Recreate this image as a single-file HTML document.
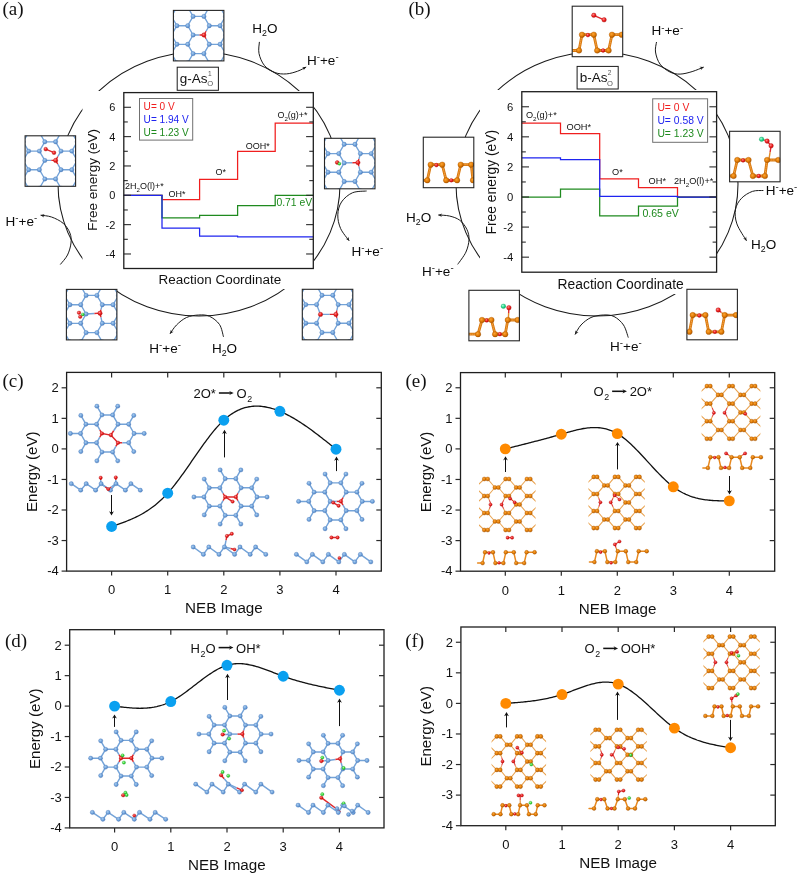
<!DOCTYPE html>
<html><head><meta charset="utf-8"><title>Figure</title>
<style>html,body{margin:0;padding:0;background:#fff;}svg{display:block;will-change:transform;}</style></head>
<body><svg width="798" height="874" viewBox="0 0 798 874">
<defs>
<radialGradient id="gB" cx="0.4" cy="0.38" r="0.65"><stop offset="0" stop-color="#a9cdf0"/><stop offset="0.6" stop-color="#6b9fd9"/><stop offset="1" stop-color="#4778b8"/></radialGradient>
<radialGradient id="gR" cx="0.38" cy="0.35" r="0.7"><stop offset="0" stop-color="#ff8a8a"/><stop offset="0.55" stop-color="#ec1c1c"/><stop offset="1" stop-color="#b80c0c"/></radialGradient>
<radialGradient id="gG" cx="0.38" cy="0.35" r="0.7"><stop offset="0" stop-color="#b8ffb0"/><stop offset="0.55" stop-color="#3ade3a"/><stop offset="1" stop-color="#22a82a"/></radialGradient>
<radialGradient id="gT" cx="0.38" cy="0.35" r="0.7"><stop offset="0" stop-color="#b0ffe0"/><stop offset="0.55" stop-color="#22d98a"/><stop offset="1" stop-color="#12a866"/></radialGradient>
<radialGradient id="gO" cx="0.4" cy="0.38" r="0.65"><stop offset="0" stop-color="#fba535"/><stop offset="0.6" stop-color="#e07a04"/><stop offset="1" stop-color="#a35200"/></radialGradient>
</defs>
<rect x="0" y="0" width="798" height="874" fill="#fff"/>
<ellipse cx="199" cy="184" rx="141" ry="132" fill="none" stroke="#1a1a1a" stroke-width="1.05"/>
<rect x="82.50" y="91.00" width="231.50" height="198.00" stroke="none" stroke-width="0" fill="#fff" />
<rect x="123.80" y="92.60" width="189.50" height="175.90" stroke="none" stroke-width="0" fill="#fff" />
<path d="M123.80,195.30 L162.00,195.30 L162.00,199.70 L199.60,199.70 L199.60,179.31 L237.60,179.31 L237.60,151.44 L275.20,151.44 L275.20,123.12 L313.30,123.12" stroke="#f01e1e" stroke-width="1.25" fill="none" />
<path d="M123.80,195.30 L162.00,195.30 L162.00,217.75 L199.60,217.75 L199.60,215.40 L237.60,215.40 L237.60,205.57 L275.20,205.57 L275.20,195.30 L313.30,195.30" stroke="#1f8a1f" stroke-width="1.25" fill="none" />
<path d="M123.80,195.30 L162.00,195.30 L162.00,228.16 L199.60,228.16 L199.60,236.23 L237.60,236.23 L237.60,236.82 L275.20,236.82 L275.20,236.96 L313.30,236.96" stroke="#1f24f0" stroke-width="1.25" fill="none" />
<line x1="123.80" y1="253.98" x2="131.00" y2="253.98" stroke="#2a2a2a" stroke-width="1.1" />
<line x1="313.30" y1="253.98" x2="306.10" y2="253.98" stroke="#2a2a2a" stroke-width="1.1" />
<text x="115.40" y="257.94" font-size="11.0" text-anchor="end" fill="#111" font-family="'Liberation Sans', sans-serif" >-4</text>
<line x1="123.80" y1="239.31" x2="127.80" y2="239.31" stroke="#2a2a2a" stroke-width="1.1" />
<line x1="313.30" y1="239.31" x2="309.30" y2="239.31" stroke="#2a2a2a" stroke-width="1.1" />
<line x1="123.80" y1="224.64" x2="131.00" y2="224.64" stroke="#2a2a2a" stroke-width="1.1" />
<line x1="313.30" y1="224.64" x2="306.10" y2="224.64" stroke="#2a2a2a" stroke-width="1.1" />
<text x="115.40" y="228.60" font-size="11.0" text-anchor="end" fill="#111" font-family="'Liberation Sans', sans-serif" >-2</text>
<line x1="123.80" y1="209.97" x2="127.80" y2="209.97" stroke="#2a2a2a" stroke-width="1.1" />
<line x1="313.30" y1="209.97" x2="309.30" y2="209.97" stroke="#2a2a2a" stroke-width="1.1" />
<line x1="123.80" y1="195.30" x2="131.00" y2="195.30" stroke="#2a2a2a" stroke-width="1.1" />
<line x1="313.30" y1="195.30" x2="306.10" y2="195.30" stroke="#2a2a2a" stroke-width="1.1" />
<text x="115.40" y="199.26" font-size="11.0" text-anchor="end" fill="#111" font-family="'Liberation Sans', sans-serif" >0</text>
<line x1="123.80" y1="180.63" x2="127.80" y2="180.63" stroke="#2a2a2a" stroke-width="1.1" />
<line x1="313.30" y1="180.63" x2="309.30" y2="180.63" stroke="#2a2a2a" stroke-width="1.1" />
<line x1="123.80" y1="165.96" x2="131.00" y2="165.96" stroke="#2a2a2a" stroke-width="1.1" />
<line x1="313.30" y1="165.96" x2="306.10" y2="165.96" stroke="#2a2a2a" stroke-width="1.1" />
<text x="115.40" y="169.92" font-size="11.0" text-anchor="end" fill="#111" font-family="'Liberation Sans', sans-serif" >2</text>
<line x1="123.80" y1="151.29" x2="127.80" y2="151.29" stroke="#2a2a2a" stroke-width="1.1" />
<line x1="313.30" y1="151.29" x2="309.30" y2="151.29" stroke="#2a2a2a" stroke-width="1.1" />
<line x1="123.80" y1="136.62" x2="131.00" y2="136.62" stroke="#2a2a2a" stroke-width="1.1" />
<line x1="313.30" y1="136.62" x2="306.10" y2="136.62" stroke="#2a2a2a" stroke-width="1.1" />
<text x="115.40" y="140.58" font-size="11.0" text-anchor="end" fill="#111" font-family="'Liberation Sans', sans-serif" >4</text>
<line x1="123.80" y1="121.95" x2="127.80" y2="121.95" stroke="#2a2a2a" stroke-width="1.1" />
<line x1="313.30" y1="121.95" x2="309.30" y2="121.95" stroke="#2a2a2a" stroke-width="1.1" />
<line x1="123.80" y1="107.28" x2="131.00" y2="107.28" stroke="#2a2a2a" stroke-width="1.1" />
<line x1="313.30" y1="107.28" x2="306.10" y2="107.28" stroke="#2a2a2a" stroke-width="1.1" />
<text x="115.40" y="111.24" font-size="11.0" text-anchor="end" fill="#111" font-family="'Liberation Sans', sans-serif" >6</text>
<rect x="123.80" y="92.60" width="189.50" height="175.90" stroke="#1e1e1e" stroke-width="1.3" fill="none" />
<rect x="139.50" y="98.50" width="53.20" height="41.60" stroke="#707070" stroke-width="1.0" fill="#fff" />
<text x="143.60" y="110.30" font-size="10.1" text-anchor="start" fill="#f01e1e" font-family="'Liberation Sans', sans-serif" >U= 0 V</text>
<text x="143.60" y="123.00" font-size="10.1" text-anchor="start" fill="#1f24f0" font-family="'Liberation Sans', sans-serif" >U= 1.94 V</text>
<text x="143.60" y="135.70" font-size="10.1" text-anchor="start" fill="#1f8a1f" font-family="'Liberation Sans', sans-serif" >U= 1.23 V</text>
<text x="125.00" y="189.30" font-size="9.0" text-anchor="start" fill="#111" font-family="'Liberation Sans', sans-serif" >2H</text>
<text x="136.51" y="192.00" font-size="6.12" text-anchor="start" fill="#111" font-family="'Liberation Sans', sans-serif" >2</text>
<text x="139.91" y="189.30" font-size="9.0" text-anchor="start" fill="#111" font-family="'Liberation Sans', sans-serif" >O(l)+*</text>
<text x="168.40" y="196.80" font-size="9.0" text-anchor="start" fill="#111" font-family="'Liberation Sans', sans-serif" >OH*</text>
<text x="215.60" y="175.00" font-size="9.0" text-anchor="start" fill="#111" font-family="'Liberation Sans', sans-serif" >O*</text>
<text x="245.80" y="148.90" font-size="9.0" text-anchor="start" fill="#111" font-family="'Liberation Sans', sans-serif" >OOH*</text>
<text x="277.40" y="118.20" font-size="9.0" text-anchor="start" fill="#111" font-family="'Liberation Sans', sans-serif" >O</text>
<text x="284.40" y="120.90" font-size="6.12" text-anchor="start" fill="#111" font-family="'Liberation Sans', sans-serif" >2</text>
<text x="287.80" y="118.20" font-size="9.0" text-anchor="start" fill="#111" font-family="'Liberation Sans', sans-serif" >(g)+*</text>
<text x="276.40" y="206.30" font-size="10.4" text-anchor="start" fill="#1f8a1f" font-family="'Liberation Sans', sans-serif" >0.71 eV</text>
<text x="158.60" y="284.30" font-size="13.46" text-anchor="start" fill="#111" font-family="'Liberation Sans', sans-serif" >Reaction Coordinate</text>
<text transform="translate(97.00,179.80) rotate(-90)" x="0" y="0" font-size="13.46" text-anchor="middle" fill="#111" font-family="'Liberation Sans', sans-serif">Free energy (eV)</text>
<text x="2.40" y="15.40" font-size="19" text-anchor="start" fill="#111" font-family="'Liberation Serif', serif" >(a)</text>
<rect x="173.40" y="10.40" width="50.50" height="50.50" stroke="none" stroke-width="0" fill="#fff" />
<clipPath id="c1"><rect x="173.40" y="10.40" width="50.50" height="50.50"/></clipPath>
<g clip-path="url(#c1)">
<line x1="112.10" y1="7.10" x2="122.90" y2="7.10" stroke="#74a3d8" stroke-width="1.35" stroke-linecap="round"/>
<line x1="122.90" y1="7.10" x2="128.30" y2="16.40" stroke="#74a3d8" stroke-width="1.35" stroke-linecap="round"/>
<line x1="144.50" y1="7.10" x2="155.30" y2="7.10" stroke="#74a3d8" stroke-width="1.35" stroke-linecap="round"/>
<line x1="144.50" y1="7.10" x2="139.10" y2="16.40" stroke="#74a3d8" stroke-width="1.35" stroke-linecap="round"/>
<line x1="155.30" y1="7.10" x2="160.70" y2="16.40" stroke="#74a3d8" stroke-width="1.35" stroke-linecap="round"/>
<line x1="176.90" y1="7.10" x2="187.70" y2="7.10" stroke="#74a3d8" stroke-width="1.35" stroke-linecap="round"/>
<line x1="176.90" y1="7.10" x2="171.50" y2="16.40" stroke="#74a3d8" stroke-width="1.35" stroke-linecap="round"/>
<line x1="187.70" y1="7.10" x2="193.10" y2="16.40" stroke="#74a3d8" stroke-width="1.35" stroke-linecap="round"/>
<line x1="209.30" y1="7.10" x2="220.10" y2="7.10" stroke="#74a3d8" stroke-width="1.35" stroke-linecap="round"/>
<line x1="209.30" y1="7.10" x2="203.90" y2="16.40" stroke="#74a3d8" stroke-width="1.35" stroke-linecap="round"/>
<line x1="220.10" y1="7.10" x2="225.50" y2="16.40" stroke="#74a3d8" stroke-width="1.35" stroke-linecap="round"/>
<line x1="241.70" y1="7.10" x2="252.50" y2="7.10" stroke="#74a3d8" stroke-width="1.35" stroke-linecap="round"/>
<line x1="241.70" y1="7.10" x2="236.30" y2="16.40" stroke="#74a3d8" stroke-width="1.35" stroke-linecap="round"/>
<line x1="252.50" y1="7.10" x2="257.90" y2="16.40" stroke="#74a3d8" stroke-width="1.35" stroke-linecap="round"/>
<line x1="274.10" y1="7.10" x2="284.90" y2="7.10" stroke="#74a3d8" stroke-width="1.35" stroke-linecap="round"/>
<line x1="274.10" y1="7.10" x2="268.70" y2="16.40" stroke="#74a3d8" stroke-width="1.35" stroke-linecap="round"/>
<line x1="128.30" y1="16.40" x2="139.10" y2="16.40" stroke="#74a3d8" stroke-width="1.35" stroke-linecap="round"/>
<line x1="128.30" y1="16.40" x2="122.90" y2="25.70" stroke="#74a3d8" stroke-width="1.35" stroke-linecap="round"/>
<line x1="139.10" y1="16.40" x2="144.50" y2="25.70" stroke="#74a3d8" stroke-width="1.35" stroke-linecap="round"/>
<line x1="160.70" y1="16.40" x2="171.50" y2="16.40" stroke="#74a3d8" stroke-width="1.35" stroke-linecap="round"/>
<line x1="160.70" y1="16.40" x2="155.30" y2="25.70" stroke="#74a3d8" stroke-width="1.35" stroke-linecap="round"/>
<line x1="171.50" y1="16.40" x2="176.90" y2="25.70" stroke="#74a3d8" stroke-width="1.35" stroke-linecap="round"/>
<line x1="193.10" y1="16.40" x2="203.90" y2="16.40" stroke="#74a3d8" stroke-width="1.35" stroke-linecap="round"/>
<line x1="193.10" y1="16.40" x2="187.70" y2="25.70" stroke="#74a3d8" stroke-width="1.35" stroke-linecap="round"/>
<line x1="203.90" y1="16.40" x2="209.30" y2="25.70" stroke="#74a3d8" stroke-width="1.35" stroke-linecap="round"/>
<line x1="225.50" y1="16.40" x2="236.30" y2="16.40" stroke="#74a3d8" stroke-width="1.35" stroke-linecap="round"/>
<line x1="225.50" y1="16.40" x2="220.10" y2="25.70" stroke="#74a3d8" stroke-width="1.35" stroke-linecap="round"/>
<line x1="236.30" y1="16.40" x2="241.70" y2="25.70" stroke="#74a3d8" stroke-width="1.35" stroke-linecap="round"/>
<line x1="257.90" y1="16.40" x2="268.70" y2="16.40" stroke="#74a3d8" stroke-width="1.35" stroke-linecap="round"/>
<line x1="257.90" y1="16.40" x2="252.50" y2="25.70" stroke="#74a3d8" stroke-width="1.35" stroke-linecap="round"/>
<line x1="268.70" y1="16.40" x2="274.10" y2="25.70" stroke="#74a3d8" stroke-width="1.35" stroke-linecap="round"/>
<line x1="112.10" y1="25.70" x2="122.90" y2="25.70" stroke="#74a3d8" stroke-width="1.35" stroke-linecap="round"/>
<line x1="122.90" y1="25.70" x2="128.30" y2="35.00" stroke="#74a3d8" stroke-width="1.35" stroke-linecap="round"/>
<line x1="144.50" y1="25.70" x2="155.30" y2="25.70" stroke="#74a3d8" stroke-width="1.35" stroke-linecap="round"/>
<line x1="144.50" y1="25.70" x2="139.10" y2="35.00" stroke="#74a3d8" stroke-width="1.35" stroke-linecap="round"/>
<line x1="155.30" y1="25.70" x2="160.70" y2="35.00" stroke="#74a3d8" stroke-width="1.35" stroke-linecap="round"/>
<line x1="176.90" y1="25.70" x2="187.70" y2="25.70" stroke="#74a3d8" stroke-width="1.35" stroke-linecap="round"/>
<line x1="176.90" y1="25.70" x2="171.50" y2="35.00" stroke="#74a3d8" stroke-width="1.35" stroke-linecap="round"/>
<line x1="187.70" y1="25.70" x2="193.10" y2="35.00" stroke="#74a3d8" stroke-width="1.35" stroke-linecap="round"/>
<line x1="209.30" y1="25.70" x2="220.10" y2="25.70" stroke="#74a3d8" stroke-width="1.35" stroke-linecap="round"/>
<line x1="209.30" y1="25.70" x2="206.06" y2="31.28" stroke="#74a3d8" stroke-width="1.35" stroke-linecap="butt"/>
<line x1="206.06" y1="31.28" x2="203.90" y2="35.00" stroke="#e0282c" stroke-width="1.35" stroke-linecap="butt"/>
<line x1="220.10" y1="25.70" x2="225.50" y2="35.00" stroke="#74a3d8" stroke-width="1.35" stroke-linecap="round"/>
<line x1="241.70" y1="25.70" x2="252.50" y2="25.70" stroke="#74a3d8" stroke-width="1.35" stroke-linecap="round"/>
<line x1="241.70" y1="25.70" x2="236.30" y2="35.00" stroke="#74a3d8" stroke-width="1.35" stroke-linecap="round"/>
<line x1="252.50" y1="25.70" x2="257.90" y2="35.00" stroke="#74a3d8" stroke-width="1.35" stroke-linecap="round"/>
<line x1="274.10" y1="25.70" x2="284.90" y2="25.70" stroke="#74a3d8" stroke-width="1.35" stroke-linecap="round"/>
<line x1="274.10" y1="25.70" x2="268.70" y2="35.00" stroke="#74a3d8" stroke-width="1.35" stroke-linecap="round"/>
<line x1="128.30" y1="35.00" x2="139.10" y2="35.00" stroke="#74a3d8" stroke-width="1.35" stroke-linecap="round"/>
<line x1="128.30" y1="35.00" x2="122.90" y2="44.30" stroke="#74a3d8" stroke-width="1.35" stroke-linecap="round"/>
<line x1="139.10" y1="35.00" x2="144.50" y2="44.30" stroke="#74a3d8" stroke-width="1.35" stroke-linecap="round"/>
<line x1="160.70" y1="35.00" x2="171.50" y2="35.00" stroke="#74a3d8" stroke-width="1.35" stroke-linecap="round"/>
<line x1="160.70" y1="35.00" x2="155.30" y2="44.30" stroke="#74a3d8" stroke-width="1.35" stroke-linecap="round"/>
<line x1="171.50" y1="35.00" x2="176.90" y2="44.30" stroke="#74a3d8" stroke-width="1.35" stroke-linecap="round"/>
<line x1="193.10" y1="35.00" x2="199.58" y2="35.00" stroke="#74a3d8" stroke-width="1.35" stroke-linecap="butt"/>
<line x1="199.58" y1="35.00" x2="203.90" y2="35.00" stroke="#e0282c" stroke-width="1.35" stroke-linecap="butt"/>
<line x1="193.10" y1="35.00" x2="187.70" y2="44.30" stroke="#74a3d8" stroke-width="1.35" stroke-linecap="round"/>
<line x1="203.90" y1="35.00" x2="206.06" y2="38.72" stroke="#e0282c" stroke-width="1.35" stroke-linecap="butt"/>
<line x1="206.06" y1="38.72" x2="209.30" y2="44.30" stroke="#74a3d8" stroke-width="1.35" stroke-linecap="butt"/>
<line x1="225.50" y1="35.00" x2="236.30" y2="35.00" stroke="#74a3d8" stroke-width="1.35" stroke-linecap="round"/>
<line x1="225.50" y1="35.00" x2="220.10" y2="44.30" stroke="#74a3d8" stroke-width="1.35" stroke-linecap="round"/>
<line x1="236.30" y1="35.00" x2="241.70" y2="44.30" stroke="#74a3d8" stroke-width="1.35" stroke-linecap="round"/>
<line x1="257.90" y1="35.00" x2="268.70" y2="35.00" stroke="#74a3d8" stroke-width="1.35" stroke-linecap="round"/>
<line x1="257.90" y1="35.00" x2="252.50" y2="44.30" stroke="#74a3d8" stroke-width="1.35" stroke-linecap="round"/>
<line x1="268.70" y1="35.00" x2="274.10" y2="44.30" stroke="#74a3d8" stroke-width="1.35" stroke-linecap="round"/>
<line x1="112.10" y1="44.30" x2="122.90" y2="44.30" stroke="#74a3d8" stroke-width="1.35" stroke-linecap="round"/>
<line x1="122.90" y1="44.30" x2="128.30" y2="53.60" stroke="#74a3d8" stroke-width="1.35" stroke-linecap="round"/>
<line x1="144.50" y1="44.30" x2="155.30" y2="44.30" stroke="#74a3d8" stroke-width="1.35" stroke-linecap="round"/>
<line x1="144.50" y1="44.30" x2="139.10" y2="53.60" stroke="#74a3d8" stroke-width="1.35" stroke-linecap="round"/>
<line x1="155.30" y1="44.30" x2="160.70" y2="53.60" stroke="#74a3d8" stroke-width="1.35" stroke-linecap="round"/>
<line x1="176.90" y1="44.30" x2="187.70" y2="44.30" stroke="#74a3d8" stroke-width="1.35" stroke-linecap="round"/>
<line x1="176.90" y1="44.30" x2="171.50" y2="53.60" stroke="#74a3d8" stroke-width="1.35" stroke-linecap="round"/>
<line x1="187.70" y1="44.30" x2="193.10" y2="53.60" stroke="#74a3d8" stroke-width="1.35" stroke-linecap="round"/>
<line x1="209.30" y1="44.30" x2="220.10" y2="44.30" stroke="#74a3d8" stroke-width="1.35" stroke-linecap="round"/>
<line x1="209.30" y1="44.30" x2="203.90" y2="53.60" stroke="#74a3d8" stroke-width="1.35" stroke-linecap="round"/>
<line x1="220.10" y1="44.30" x2="225.50" y2="53.60" stroke="#74a3d8" stroke-width="1.35" stroke-linecap="round"/>
<line x1="241.70" y1="44.30" x2="252.50" y2="44.30" stroke="#74a3d8" stroke-width="1.35" stroke-linecap="round"/>
<line x1="241.70" y1="44.30" x2="236.30" y2="53.60" stroke="#74a3d8" stroke-width="1.35" stroke-linecap="round"/>
<line x1="252.50" y1="44.30" x2="257.90" y2="53.60" stroke="#74a3d8" stroke-width="1.35" stroke-linecap="round"/>
<line x1="274.10" y1="44.30" x2="284.90" y2="44.30" stroke="#74a3d8" stroke-width="1.35" stroke-linecap="round"/>
<line x1="274.10" y1="44.30" x2="268.70" y2="53.60" stroke="#74a3d8" stroke-width="1.35" stroke-linecap="round"/>
<line x1="128.30" y1="53.60" x2="139.10" y2="53.60" stroke="#74a3d8" stroke-width="1.35" stroke-linecap="round"/>
<line x1="128.30" y1="53.60" x2="122.90" y2="62.90" stroke="#74a3d8" stroke-width="1.35" stroke-linecap="round"/>
<line x1="139.10" y1="53.60" x2="144.50" y2="62.90" stroke="#74a3d8" stroke-width="1.35" stroke-linecap="round"/>
<line x1="160.70" y1="53.60" x2="171.50" y2="53.60" stroke="#74a3d8" stroke-width="1.35" stroke-linecap="round"/>
<line x1="160.70" y1="53.60" x2="155.30" y2="62.90" stroke="#74a3d8" stroke-width="1.35" stroke-linecap="round"/>
<line x1="171.50" y1="53.60" x2="176.90" y2="62.90" stroke="#74a3d8" stroke-width="1.35" stroke-linecap="round"/>
<line x1="193.10" y1="53.60" x2="203.90" y2="53.60" stroke="#74a3d8" stroke-width="1.35" stroke-linecap="round"/>
<line x1="193.10" y1="53.60" x2="187.70" y2="62.90" stroke="#74a3d8" stroke-width="1.35" stroke-linecap="round"/>
<line x1="203.90" y1="53.60" x2="209.30" y2="62.90" stroke="#74a3d8" stroke-width="1.35" stroke-linecap="round"/>
<line x1="225.50" y1="53.60" x2="236.30" y2="53.60" stroke="#74a3d8" stroke-width="1.35" stroke-linecap="round"/>
<line x1="225.50" y1="53.60" x2="220.10" y2="62.90" stroke="#74a3d8" stroke-width="1.35" stroke-linecap="round"/>
<line x1="236.30" y1="53.60" x2="241.70" y2="62.90" stroke="#74a3d8" stroke-width="1.35" stroke-linecap="round"/>
<line x1="257.90" y1="53.60" x2="268.70" y2="53.60" stroke="#74a3d8" stroke-width="1.35" stroke-linecap="round"/>
<line x1="257.90" y1="53.60" x2="252.50" y2="62.90" stroke="#74a3d8" stroke-width="1.35" stroke-linecap="round"/>
<line x1="268.70" y1="53.60" x2="274.10" y2="62.90" stroke="#74a3d8" stroke-width="1.35" stroke-linecap="round"/>
<line x1="112.10" y1="62.90" x2="122.90" y2="62.90" stroke="#74a3d8" stroke-width="1.35" stroke-linecap="round"/>
<line x1="122.90" y1="62.90" x2="128.30" y2="72.20" stroke="#74a3d8" stroke-width="1.35" stroke-linecap="round"/>
<line x1="144.50" y1="62.90" x2="155.30" y2="62.90" stroke="#74a3d8" stroke-width="1.35" stroke-linecap="round"/>
<line x1="144.50" y1="62.90" x2="139.10" y2="72.20" stroke="#74a3d8" stroke-width="1.35" stroke-linecap="round"/>
<line x1="155.30" y1="62.90" x2="160.70" y2="72.20" stroke="#74a3d8" stroke-width="1.35" stroke-linecap="round"/>
<line x1="176.90" y1="62.90" x2="187.70" y2="62.90" stroke="#74a3d8" stroke-width="1.35" stroke-linecap="round"/>
<line x1="176.90" y1="62.90" x2="171.50" y2="72.20" stroke="#74a3d8" stroke-width="1.35" stroke-linecap="round"/>
<line x1="187.70" y1="62.90" x2="193.10" y2="72.20" stroke="#74a3d8" stroke-width="1.35" stroke-linecap="round"/>
<line x1="209.30" y1="62.90" x2="220.10" y2="62.90" stroke="#74a3d8" stroke-width="1.35" stroke-linecap="round"/>
<line x1="209.30" y1="62.90" x2="203.90" y2="72.20" stroke="#74a3d8" stroke-width="1.35" stroke-linecap="round"/>
<line x1="220.10" y1="62.90" x2="225.50" y2="72.20" stroke="#74a3d8" stroke-width="1.35" stroke-linecap="round"/>
<line x1="241.70" y1="62.90" x2="252.50" y2="62.90" stroke="#74a3d8" stroke-width="1.35" stroke-linecap="round"/>
<line x1="241.70" y1="62.90" x2="236.30" y2="72.20" stroke="#74a3d8" stroke-width="1.35" stroke-linecap="round"/>
<line x1="252.50" y1="62.90" x2="257.90" y2="72.20" stroke="#74a3d8" stroke-width="1.35" stroke-linecap="round"/>
<line x1="274.10" y1="62.90" x2="284.90" y2="62.90" stroke="#74a3d8" stroke-width="1.35" stroke-linecap="round"/>
<line x1="274.10" y1="62.90" x2="268.70" y2="72.20" stroke="#74a3d8" stroke-width="1.35" stroke-linecap="round"/>
<line x1="128.30" y1="72.20" x2="139.10" y2="72.20" stroke="#74a3d8" stroke-width="1.35" stroke-linecap="round"/>
<line x1="160.70" y1="72.20" x2="171.50" y2="72.20" stroke="#74a3d8" stroke-width="1.35" stroke-linecap="round"/>
<line x1="193.10" y1="72.20" x2="203.90" y2="72.20" stroke="#74a3d8" stroke-width="1.35" stroke-linecap="round"/>
<line x1="225.50" y1="72.20" x2="236.30" y2="72.20" stroke="#74a3d8" stroke-width="1.35" stroke-linecap="round"/>
<line x1="257.90" y1="72.20" x2="268.70" y2="72.20" stroke="#74a3d8" stroke-width="1.35" stroke-linecap="round"/>
<circle cx="112.10" cy="7.10" r="2.20" fill="url(#gB)" stroke="#5683bf" stroke-width="0.35" />
<circle cx="122.90" cy="7.10" r="2.20" fill="url(#gB)" stroke="#5683bf" stroke-width="0.35" />
<circle cx="144.50" cy="7.10" r="2.20" fill="url(#gB)" stroke="#5683bf" stroke-width="0.35" />
<circle cx="155.30" cy="7.10" r="2.20" fill="url(#gB)" stroke="#5683bf" stroke-width="0.35" />
<circle cx="176.90" cy="7.10" r="2.20" fill="url(#gB)" stroke="#5683bf" stroke-width="0.35" />
<circle cx="187.70" cy="7.10" r="2.20" fill="url(#gB)" stroke="#5683bf" stroke-width="0.35" />
<circle cx="209.30" cy="7.10" r="2.20" fill="url(#gB)" stroke="#5683bf" stroke-width="0.35" />
<circle cx="220.10" cy="7.10" r="2.20" fill="url(#gB)" stroke="#5683bf" stroke-width="0.35" />
<circle cx="241.70" cy="7.10" r="2.20" fill="url(#gB)" stroke="#5683bf" stroke-width="0.35" />
<circle cx="252.50" cy="7.10" r="2.20" fill="url(#gB)" stroke="#5683bf" stroke-width="0.35" />
<circle cx="274.10" cy="7.10" r="2.20" fill="url(#gB)" stroke="#5683bf" stroke-width="0.35" />
<circle cx="284.90" cy="7.10" r="2.20" fill="url(#gB)" stroke="#5683bf" stroke-width="0.35" />
<circle cx="128.30" cy="16.40" r="2.20" fill="url(#gB)" stroke="#5683bf" stroke-width="0.35" />
<circle cx="139.10" cy="16.40" r="2.20" fill="url(#gB)" stroke="#5683bf" stroke-width="0.35" />
<circle cx="160.70" cy="16.40" r="2.20" fill="url(#gB)" stroke="#5683bf" stroke-width="0.35" />
<circle cx="171.50" cy="16.40" r="2.20" fill="url(#gB)" stroke="#5683bf" stroke-width="0.35" />
<circle cx="193.10" cy="16.40" r="2.20" fill="url(#gB)" stroke="#5683bf" stroke-width="0.35" />
<circle cx="203.90" cy="16.40" r="2.20" fill="url(#gB)" stroke="#5683bf" stroke-width="0.35" />
<circle cx="225.50" cy="16.40" r="2.20" fill="url(#gB)" stroke="#5683bf" stroke-width="0.35" />
<circle cx="236.30" cy="16.40" r="2.20" fill="url(#gB)" stroke="#5683bf" stroke-width="0.35" />
<circle cx="257.90" cy="16.40" r="2.20" fill="url(#gB)" stroke="#5683bf" stroke-width="0.35" />
<circle cx="268.70" cy="16.40" r="2.20" fill="url(#gB)" stroke="#5683bf" stroke-width="0.35" />
<circle cx="112.10" cy="25.70" r="2.20" fill="url(#gB)" stroke="#5683bf" stroke-width="0.35" />
<circle cx="122.90" cy="25.70" r="2.20" fill="url(#gB)" stroke="#5683bf" stroke-width="0.35" />
<circle cx="144.50" cy="25.70" r="2.20" fill="url(#gB)" stroke="#5683bf" stroke-width="0.35" />
<circle cx="155.30" cy="25.70" r="2.20" fill="url(#gB)" stroke="#5683bf" stroke-width="0.35" />
<circle cx="176.90" cy="25.70" r="2.20" fill="url(#gB)" stroke="#5683bf" stroke-width="0.35" />
<circle cx="187.70" cy="25.70" r="2.20" fill="url(#gB)" stroke="#5683bf" stroke-width="0.35" />
<circle cx="209.30" cy="25.70" r="2.20" fill="url(#gB)" stroke="#5683bf" stroke-width="0.35" />
<circle cx="220.10" cy="25.70" r="2.20" fill="url(#gB)" stroke="#5683bf" stroke-width="0.35" />
<circle cx="241.70" cy="25.70" r="2.20" fill="url(#gB)" stroke="#5683bf" stroke-width="0.35" />
<circle cx="252.50" cy="25.70" r="2.20" fill="url(#gB)" stroke="#5683bf" stroke-width="0.35" />
<circle cx="274.10" cy="25.70" r="2.20" fill="url(#gB)" stroke="#5683bf" stroke-width="0.35" />
<circle cx="284.90" cy="25.70" r="2.20" fill="url(#gB)" stroke="#5683bf" stroke-width="0.35" />
<circle cx="128.30" cy="35.00" r="2.20" fill="url(#gB)" stroke="#5683bf" stroke-width="0.35" />
<circle cx="139.10" cy="35.00" r="2.20" fill="url(#gB)" stroke="#5683bf" stroke-width="0.35" />
<circle cx="160.70" cy="35.00" r="2.20" fill="url(#gB)" stroke="#5683bf" stroke-width="0.35" />
<circle cx="171.50" cy="35.00" r="2.20" fill="url(#gB)" stroke="#5683bf" stroke-width="0.35" />
<circle cx="193.10" cy="35.00" r="2.20" fill="url(#gB)" stroke="#5683bf" stroke-width="0.35" />
<circle cx="203.90" cy="35.00" r="2.20" fill="url(#gR)" stroke="#b01010" stroke-width="0.35" />
<circle cx="225.50" cy="35.00" r="2.20" fill="url(#gB)" stroke="#5683bf" stroke-width="0.35" />
<circle cx="236.30" cy="35.00" r="2.20" fill="url(#gB)" stroke="#5683bf" stroke-width="0.35" />
<circle cx="257.90" cy="35.00" r="2.20" fill="url(#gB)" stroke="#5683bf" stroke-width="0.35" />
<circle cx="268.70" cy="35.00" r="2.20" fill="url(#gB)" stroke="#5683bf" stroke-width="0.35" />
<circle cx="112.10" cy="44.30" r="2.20" fill="url(#gB)" stroke="#5683bf" stroke-width="0.35" />
<circle cx="122.90" cy="44.30" r="2.20" fill="url(#gB)" stroke="#5683bf" stroke-width="0.35" />
<circle cx="144.50" cy="44.30" r="2.20" fill="url(#gB)" stroke="#5683bf" stroke-width="0.35" />
<circle cx="155.30" cy="44.30" r="2.20" fill="url(#gB)" stroke="#5683bf" stroke-width="0.35" />
<circle cx="176.90" cy="44.30" r="2.20" fill="url(#gB)" stroke="#5683bf" stroke-width="0.35" />
<circle cx="187.70" cy="44.30" r="2.20" fill="url(#gB)" stroke="#5683bf" stroke-width="0.35" />
<circle cx="209.30" cy="44.30" r="2.20" fill="url(#gB)" stroke="#5683bf" stroke-width="0.35" />
<circle cx="220.10" cy="44.30" r="2.20" fill="url(#gB)" stroke="#5683bf" stroke-width="0.35" />
<circle cx="241.70" cy="44.30" r="2.20" fill="url(#gB)" stroke="#5683bf" stroke-width="0.35" />
<circle cx="252.50" cy="44.30" r="2.20" fill="url(#gB)" stroke="#5683bf" stroke-width="0.35" />
<circle cx="274.10" cy="44.30" r="2.20" fill="url(#gB)" stroke="#5683bf" stroke-width="0.35" />
<circle cx="284.90" cy="44.30" r="2.20" fill="url(#gB)" stroke="#5683bf" stroke-width="0.35" />
<circle cx="128.30" cy="53.60" r="2.20" fill="url(#gB)" stroke="#5683bf" stroke-width="0.35" />
<circle cx="139.10" cy="53.60" r="2.20" fill="url(#gB)" stroke="#5683bf" stroke-width="0.35" />
<circle cx="160.70" cy="53.60" r="2.20" fill="url(#gB)" stroke="#5683bf" stroke-width="0.35" />
<circle cx="171.50" cy="53.60" r="2.20" fill="url(#gB)" stroke="#5683bf" stroke-width="0.35" />
<circle cx="193.10" cy="53.60" r="2.20" fill="url(#gB)" stroke="#5683bf" stroke-width="0.35" />
<circle cx="203.90" cy="53.60" r="2.20" fill="url(#gB)" stroke="#5683bf" stroke-width="0.35" />
<circle cx="225.50" cy="53.60" r="2.20" fill="url(#gB)" stroke="#5683bf" stroke-width="0.35" />
<circle cx="236.30" cy="53.60" r="2.20" fill="url(#gB)" stroke="#5683bf" stroke-width="0.35" />
<circle cx="257.90" cy="53.60" r="2.20" fill="url(#gB)" stroke="#5683bf" stroke-width="0.35" />
<circle cx="268.70" cy="53.60" r="2.20" fill="url(#gB)" stroke="#5683bf" stroke-width="0.35" />
<circle cx="112.10" cy="62.90" r="2.20" fill="url(#gB)" stroke="#5683bf" stroke-width="0.35" />
<circle cx="122.90" cy="62.90" r="2.20" fill="url(#gB)" stroke="#5683bf" stroke-width="0.35" />
<circle cx="144.50" cy="62.90" r="2.20" fill="url(#gB)" stroke="#5683bf" stroke-width="0.35" />
<circle cx="155.30" cy="62.90" r="2.20" fill="url(#gB)" stroke="#5683bf" stroke-width="0.35" />
<circle cx="176.90" cy="62.90" r="2.20" fill="url(#gB)" stroke="#5683bf" stroke-width="0.35" />
<circle cx="187.70" cy="62.90" r="2.20" fill="url(#gB)" stroke="#5683bf" stroke-width="0.35" />
<circle cx="209.30" cy="62.90" r="2.20" fill="url(#gB)" stroke="#5683bf" stroke-width="0.35" />
<circle cx="220.10" cy="62.90" r="2.20" fill="url(#gB)" stroke="#5683bf" stroke-width="0.35" />
<circle cx="241.70" cy="62.90" r="2.20" fill="url(#gB)" stroke="#5683bf" stroke-width="0.35" />
<circle cx="252.50" cy="62.90" r="2.20" fill="url(#gB)" stroke="#5683bf" stroke-width="0.35" />
<circle cx="274.10" cy="62.90" r="2.20" fill="url(#gB)" stroke="#5683bf" stroke-width="0.35" />
<circle cx="284.90" cy="62.90" r="2.20" fill="url(#gB)" stroke="#5683bf" stroke-width="0.35" />
<circle cx="128.30" cy="72.20" r="2.20" fill="url(#gB)" stroke="#5683bf" stroke-width="0.35" />
<circle cx="139.10" cy="72.20" r="2.20" fill="url(#gB)" stroke="#5683bf" stroke-width="0.35" />
<circle cx="160.70" cy="72.20" r="2.20" fill="url(#gB)" stroke="#5683bf" stroke-width="0.35" />
<circle cx="171.50" cy="72.20" r="2.20" fill="url(#gB)" stroke="#5683bf" stroke-width="0.35" />
<circle cx="193.10" cy="72.20" r="2.20" fill="url(#gB)" stroke="#5683bf" stroke-width="0.35" />
<circle cx="203.90" cy="72.20" r="2.20" fill="url(#gB)" stroke="#5683bf" stroke-width="0.35" />
<circle cx="225.50" cy="72.20" r="2.20" fill="url(#gB)" stroke="#5683bf" stroke-width="0.35" />
<circle cx="236.30" cy="72.20" r="2.20" fill="url(#gB)" stroke="#5683bf" stroke-width="0.35" />
<circle cx="257.90" cy="72.20" r="2.20" fill="url(#gB)" stroke="#5683bf" stroke-width="0.35" />
<circle cx="268.70" cy="72.20" r="2.20" fill="url(#gB)" stroke="#5683bf" stroke-width="0.35" />
</g>
<rect x="173.40" y="10.40" width="50.50" height="50.50" stroke="#262626" stroke-width="1.1" fill="none" />
<rect x="177.20" y="67.20" width="41.20" height="23.10" stroke="#1a1a1a" stroke-width="1.0" fill="#fff" />
<text x="179.80" y="82.80" font-size="13.5" text-anchor="start" fill="#111" font-family="'Liberation Sans', sans-serif" >g-As</text>
<text x="207.96" y="75.80" font-size="6.6" text-anchor="start" fill="#555" font-family="'Liberation Sans', sans-serif" >1</text>
<text x="207.16" y="86.40" font-size="7.6" text-anchor="start" fill="#555" font-family="'Liberation Sans', sans-serif" >O</text>
<rect x="25.10" y="135.80" width="50.50" height="50.50" stroke="none" stroke-width="0" fill="#fff" />
<clipPath id="c2"><rect x="25.10" y="135.80" width="50.50" height="50.50"/></clipPath>
<g clip-path="url(#c2)">
<line x1="-36.20" y1="132.50" x2="-25.40" y2="132.50" stroke="#74a3d8" stroke-width="1.35" stroke-linecap="round"/>
<line x1="-25.40" y1="132.50" x2="-20.00" y2="141.80" stroke="#74a3d8" stroke-width="1.35" stroke-linecap="round"/>
<line x1="-3.80" y1="132.50" x2="7.00" y2="132.50" stroke="#74a3d8" stroke-width="1.35" stroke-linecap="round"/>
<line x1="-3.80" y1="132.50" x2="-9.20" y2="141.80" stroke="#74a3d8" stroke-width="1.35" stroke-linecap="round"/>
<line x1="7.00" y1="132.50" x2="12.40" y2="141.80" stroke="#74a3d8" stroke-width="1.35" stroke-linecap="round"/>
<line x1="28.60" y1="132.50" x2="39.40" y2="132.50" stroke="#74a3d8" stroke-width="1.35" stroke-linecap="round"/>
<line x1="28.60" y1="132.50" x2="23.20" y2="141.80" stroke="#74a3d8" stroke-width="1.35" stroke-linecap="round"/>
<line x1="39.40" y1="132.50" x2="44.80" y2="141.80" stroke="#74a3d8" stroke-width="1.35" stroke-linecap="round"/>
<line x1="61.00" y1="132.50" x2="71.80" y2="132.50" stroke="#74a3d8" stroke-width="1.35" stroke-linecap="round"/>
<line x1="61.00" y1="132.50" x2="55.60" y2="141.80" stroke="#74a3d8" stroke-width="1.35" stroke-linecap="round"/>
<line x1="71.80" y1="132.50" x2="77.20" y2="141.80" stroke="#74a3d8" stroke-width="1.35" stroke-linecap="round"/>
<line x1="93.40" y1="132.50" x2="104.20" y2="132.50" stroke="#74a3d8" stroke-width="1.35" stroke-linecap="round"/>
<line x1="93.40" y1="132.50" x2="88.00" y2="141.80" stroke="#74a3d8" stroke-width="1.35" stroke-linecap="round"/>
<line x1="104.20" y1="132.50" x2="109.60" y2="141.80" stroke="#74a3d8" stroke-width="1.35" stroke-linecap="round"/>
<line x1="125.80" y1="132.50" x2="136.60" y2="132.50" stroke="#74a3d8" stroke-width="1.35" stroke-linecap="round"/>
<line x1="125.80" y1="132.50" x2="120.40" y2="141.80" stroke="#74a3d8" stroke-width="1.35" stroke-linecap="round"/>
<line x1="-20.00" y1="141.80" x2="-9.20" y2="141.80" stroke="#74a3d8" stroke-width="1.35" stroke-linecap="round"/>
<line x1="-20.00" y1="141.80" x2="-25.40" y2="151.10" stroke="#74a3d8" stroke-width="1.35" stroke-linecap="round"/>
<line x1="-9.20" y1="141.80" x2="-3.80" y2="151.10" stroke="#74a3d8" stroke-width="1.35" stroke-linecap="round"/>
<line x1="12.40" y1="141.80" x2="23.20" y2="141.80" stroke="#74a3d8" stroke-width="1.35" stroke-linecap="round"/>
<line x1="12.40" y1="141.80" x2="7.00" y2="151.10" stroke="#74a3d8" stroke-width="1.35" stroke-linecap="round"/>
<line x1="23.20" y1="141.80" x2="28.60" y2="151.10" stroke="#74a3d8" stroke-width="1.35" stroke-linecap="round"/>
<line x1="44.80" y1="141.80" x2="55.60" y2="141.80" stroke="#74a3d8" stroke-width="1.35" stroke-linecap="round"/>
<line x1="44.80" y1="141.80" x2="39.40" y2="151.10" stroke="#74a3d8" stroke-width="1.35" stroke-linecap="round"/>
<line x1="55.60" y1="141.80" x2="61.00" y2="151.10" stroke="#74a3d8" stroke-width="1.35" stroke-linecap="round"/>
<line x1="77.20" y1="141.80" x2="88.00" y2="141.80" stroke="#74a3d8" stroke-width="1.35" stroke-linecap="round"/>
<line x1="77.20" y1="141.80" x2="71.80" y2="151.10" stroke="#74a3d8" stroke-width="1.35" stroke-linecap="round"/>
<line x1="88.00" y1="141.80" x2="93.40" y2="151.10" stroke="#74a3d8" stroke-width="1.35" stroke-linecap="round"/>
<line x1="109.60" y1="141.80" x2="120.40" y2="141.80" stroke="#74a3d8" stroke-width="1.35" stroke-linecap="round"/>
<line x1="109.60" y1="141.80" x2="104.20" y2="151.10" stroke="#74a3d8" stroke-width="1.35" stroke-linecap="round"/>
<line x1="120.40" y1="141.80" x2="125.80" y2="151.10" stroke="#74a3d8" stroke-width="1.35" stroke-linecap="round"/>
<line x1="-36.20" y1="151.10" x2="-25.40" y2="151.10" stroke="#74a3d8" stroke-width="1.35" stroke-linecap="round"/>
<line x1="-25.40" y1="151.10" x2="-20.00" y2="160.40" stroke="#74a3d8" stroke-width="1.35" stroke-linecap="round"/>
<line x1="-3.80" y1="151.10" x2="7.00" y2="151.10" stroke="#74a3d8" stroke-width="1.35" stroke-linecap="round"/>
<line x1="-3.80" y1="151.10" x2="-9.20" y2="160.40" stroke="#74a3d8" stroke-width="1.35" stroke-linecap="round"/>
<line x1="7.00" y1="151.10" x2="12.40" y2="160.40" stroke="#74a3d8" stroke-width="1.35" stroke-linecap="round"/>
<line x1="28.60" y1="151.10" x2="39.40" y2="151.10" stroke="#74a3d8" stroke-width="1.35" stroke-linecap="round"/>
<line x1="28.60" y1="151.10" x2="23.20" y2="160.40" stroke="#74a3d8" stroke-width="1.35" stroke-linecap="round"/>
<line x1="39.40" y1="151.10" x2="44.80" y2="160.40" stroke="#74a3d8" stroke-width="1.35" stroke-linecap="round"/>
<line x1="61.00" y1="151.10" x2="71.80" y2="151.10" stroke="#74a3d8" stroke-width="1.35" stroke-linecap="round"/>
<line x1="61.00" y1="151.10" x2="57.76" y2="156.68" stroke="#74a3d8" stroke-width="1.35" stroke-linecap="butt"/>
<line x1="57.76" y1="156.68" x2="55.60" y2="160.40" stroke="#e0282c" stroke-width="1.35" stroke-linecap="butt"/>
<line x1="71.80" y1="151.10" x2="77.20" y2="160.40" stroke="#74a3d8" stroke-width="1.35" stroke-linecap="round"/>
<line x1="93.40" y1="151.10" x2="104.20" y2="151.10" stroke="#74a3d8" stroke-width="1.35" stroke-linecap="round"/>
<line x1="93.40" y1="151.10" x2="88.00" y2="160.40" stroke="#74a3d8" stroke-width="1.35" stroke-linecap="round"/>
<line x1="104.20" y1="151.10" x2="109.60" y2="160.40" stroke="#74a3d8" stroke-width="1.35" stroke-linecap="round"/>
<line x1="125.80" y1="151.10" x2="136.60" y2="151.10" stroke="#74a3d8" stroke-width="1.35" stroke-linecap="round"/>
<line x1="125.80" y1="151.10" x2="120.40" y2="160.40" stroke="#74a3d8" stroke-width="1.35" stroke-linecap="round"/>
<line x1="-20.00" y1="160.40" x2="-9.20" y2="160.40" stroke="#74a3d8" stroke-width="1.35" stroke-linecap="round"/>
<line x1="-20.00" y1="160.40" x2="-25.40" y2="169.70" stroke="#74a3d8" stroke-width="1.35" stroke-linecap="round"/>
<line x1="-9.20" y1="160.40" x2="-3.80" y2="169.70" stroke="#74a3d8" stroke-width="1.35" stroke-linecap="round"/>
<line x1="12.40" y1="160.40" x2="23.20" y2="160.40" stroke="#74a3d8" stroke-width="1.35" stroke-linecap="round"/>
<line x1="12.40" y1="160.40" x2="7.00" y2="169.70" stroke="#74a3d8" stroke-width="1.35" stroke-linecap="round"/>
<line x1="23.20" y1="160.40" x2="28.60" y2="169.70" stroke="#74a3d8" stroke-width="1.35" stroke-linecap="round"/>
<line x1="44.80" y1="160.40" x2="51.28" y2="160.40" stroke="#74a3d8" stroke-width="1.35" stroke-linecap="butt"/>
<line x1="51.28" y1="160.40" x2="55.60" y2="160.40" stroke="#e0282c" stroke-width="1.35" stroke-linecap="butt"/>
<line x1="44.80" y1="160.40" x2="39.40" y2="169.70" stroke="#74a3d8" stroke-width="1.35" stroke-linecap="round"/>
<line x1="55.60" y1="160.40" x2="57.76" y2="164.12" stroke="#e0282c" stroke-width="1.35" stroke-linecap="butt"/>
<line x1="57.76" y1="164.12" x2="61.00" y2="169.70" stroke="#74a3d8" stroke-width="1.35" stroke-linecap="butt"/>
<line x1="77.20" y1="160.40" x2="88.00" y2="160.40" stroke="#74a3d8" stroke-width="1.35" stroke-linecap="round"/>
<line x1="77.20" y1="160.40" x2="71.80" y2="169.70" stroke="#74a3d8" stroke-width="1.35" stroke-linecap="round"/>
<line x1="88.00" y1="160.40" x2="93.40" y2="169.70" stroke="#74a3d8" stroke-width="1.35" stroke-linecap="round"/>
<line x1="109.60" y1="160.40" x2="120.40" y2="160.40" stroke="#74a3d8" stroke-width="1.35" stroke-linecap="round"/>
<line x1="109.60" y1="160.40" x2="104.20" y2="169.70" stroke="#74a3d8" stroke-width="1.35" stroke-linecap="round"/>
<line x1="120.40" y1="160.40" x2="125.80" y2="169.70" stroke="#74a3d8" stroke-width="1.35" stroke-linecap="round"/>
<line x1="-36.20" y1="169.70" x2="-25.40" y2="169.70" stroke="#74a3d8" stroke-width="1.35" stroke-linecap="round"/>
<line x1="-25.40" y1="169.70" x2="-20.00" y2="179.00" stroke="#74a3d8" stroke-width="1.35" stroke-linecap="round"/>
<line x1="-3.80" y1="169.70" x2="7.00" y2="169.70" stroke="#74a3d8" stroke-width="1.35" stroke-linecap="round"/>
<line x1="-3.80" y1="169.70" x2="-9.20" y2="179.00" stroke="#74a3d8" stroke-width="1.35" stroke-linecap="round"/>
<line x1="7.00" y1="169.70" x2="12.40" y2="179.00" stroke="#74a3d8" stroke-width="1.35" stroke-linecap="round"/>
<line x1="28.60" y1="169.70" x2="39.40" y2="169.70" stroke="#74a3d8" stroke-width="1.35" stroke-linecap="round"/>
<line x1="28.60" y1="169.70" x2="23.20" y2="179.00" stroke="#74a3d8" stroke-width="1.35" stroke-linecap="round"/>
<line x1="39.40" y1="169.70" x2="44.80" y2="179.00" stroke="#74a3d8" stroke-width="1.35" stroke-linecap="round"/>
<line x1="61.00" y1="169.70" x2="71.80" y2="169.70" stroke="#74a3d8" stroke-width="1.35" stroke-linecap="round"/>
<line x1="61.00" y1="169.70" x2="55.60" y2="179.00" stroke="#74a3d8" stroke-width="1.35" stroke-linecap="round"/>
<line x1="71.80" y1="169.70" x2="77.20" y2="179.00" stroke="#74a3d8" stroke-width="1.35" stroke-linecap="round"/>
<line x1="93.40" y1="169.70" x2="104.20" y2="169.70" stroke="#74a3d8" stroke-width="1.35" stroke-linecap="round"/>
<line x1="93.40" y1="169.70" x2="88.00" y2="179.00" stroke="#74a3d8" stroke-width="1.35" stroke-linecap="round"/>
<line x1="104.20" y1="169.70" x2="109.60" y2="179.00" stroke="#74a3d8" stroke-width="1.35" stroke-linecap="round"/>
<line x1="125.80" y1="169.70" x2="136.60" y2="169.70" stroke="#74a3d8" stroke-width="1.35" stroke-linecap="round"/>
<line x1="125.80" y1="169.70" x2="120.40" y2="179.00" stroke="#74a3d8" stroke-width="1.35" stroke-linecap="round"/>
<line x1="-20.00" y1="179.00" x2="-9.20" y2="179.00" stroke="#74a3d8" stroke-width="1.35" stroke-linecap="round"/>
<line x1="-20.00" y1="179.00" x2="-25.40" y2="188.30" stroke="#74a3d8" stroke-width="1.35" stroke-linecap="round"/>
<line x1="-9.20" y1="179.00" x2="-3.80" y2="188.30" stroke="#74a3d8" stroke-width="1.35" stroke-linecap="round"/>
<line x1="12.40" y1="179.00" x2="23.20" y2="179.00" stroke="#74a3d8" stroke-width="1.35" stroke-linecap="round"/>
<line x1="12.40" y1="179.00" x2="7.00" y2="188.30" stroke="#74a3d8" stroke-width="1.35" stroke-linecap="round"/>
<line x1="23.20" y1="179.00" x2="28.60" y2="188.30" stroke="#74a3d8" stroke-width="1.35" stroke-linecap="round"/>
<line x1="44.80" y1="179.00" x2="55.60" y2="179.00" stroke="#74a3d8" stroke-width="1.35" stroke-linecap="round"/>
<line x1="44.80" y1="179.00" x2="39.40" y2="188.30" stroke="#74a3d8" stroke-width="1.35" stroke-linecap="round"/>
<line x1="55.60" y1="179.00" x2="61.00" y2="188.30" stroke="#74a3d8" stroke-width="1.35" stroke-linecap="round"/>
<line x1="77.20" y1="179.00" x2="88.00" y2="179.00" stroke="#74a3d8" stroke-width="1.35" stroke-linecap="round"/>
<line x1="77.20" y1="179.00" x2="71.80" y2="188.30" stroke="#74a3d8" stroke-width="1.35" stroke-linecap="round"/>
<line x1="88.00" y1="179.00" x2="93.40" y2="188.30" stroke="#74a3d8" stroke-width="1.35" stroke-linecap="round"/>
<line x1="109.60" y1="179.00" x2="120.40" y2="179.00" stroke="#74a3d8" stroke-width="1.35" stroke-linecap="round"/>
<line x1="109.60" y1="179.00" x2="104.20" y2="188.30" stroke="#74a3d8" stroke-width="1.35" stroke-linecap="round"/>
<line x1="120.40" y1="179.00" x2="125.80" y2="188.30" stroke="#74a3d8" stroke-width="1.35" stroke-linecap="round"/>
<line x1="-36.20" y1="188.30" x2="-25.40" y2="188.30" stroke="#74a3d8" stroke-width="1.35" stroke-linecap="round"/>
<line x1="-25.40" y1="188.30" x2="-20.00" y2="197.60" stroke="#74a3d8" stroke-width="1.35" stroke-linecap="round"/>
<line x1="-3.80" y1="188.30" x2="7.00" y2="188.30" stroke="#74a3d8" stroke-width="1.35" stroke-linecap="round"/>
<line x1="-3.80" y1="188.30" x2="-9.20" y2="197.60" stroke="#74a3d8" stroke-width="1.35" stroke-linecap="round"/>
<line x1="7.00" y1="188.30" x2="12.40" y2="197.60" stroke="#74a3d8" stroke-width="1.35" stroke-linecap="round"/>
<line x1="28.60" y1="188.30" x2="39.40" y2="188.30" stroke="#74a3d8" stroke-width="1.35" stroke-linecap="round"/>
<line x1="28.60" y1="188.30" x2="23.20" y2="197.60" stroke="#74a3d8" stroke-width="1.35" stroke-linecap="round"/>
<line x1="39.40" y1="188.30" x2="44.80" y2="197.60" stroke="#74a3d8" stroke-width="1.35" stroke-linecap="round"/>
<line x1="61.00" y1="188.30" x2="71.80" y2="188.30" stroke="#74a3d8" stroke-width="1.35" stroke-linecap="round"/>
<line x1="61.00" y1="188.30" x2="55.60" y2="197.60" stroke="#74a3d8" stroke-width="1.35" stroke-linecap="round"/>
<line x1="71.80" y1="188.30" x2="77.20" y2="197.60" stroke="#74a3d8" stroke-width="1.35" stroke-linecap="round"/>
<line x1="93.40" y1="188.30" x2="104.20" y2="188.30" stroke="#74a3d8" stroke-width="1.35" stroke-linecap="round"/>
<line x1="93.40" y1="188.30" x2="88.00" y2="197.60" stroke="#74a3d8" stroke-width="1.35" stroke-linecap="round"/>
<line x1="104.20" y1="188.30" x2="109.60" y2="197.60" stroke="#74a3d8" stroke-width="1.35" stroke-linecap="round"/>
<line x1="125.80" y1="188.30" x2="136.60" y2="188.30" stroke="#74a3d8" stroke-width="1.35" stroke-linecap="round"/>
<line x1="125.80" y1="188.30" x2="120.40" y2="197.60" stroke="#74a3d8" stroke-width="1.35" stroke-linecap="round"/>
<line x1="-20.00" y1="197.60" x2="-9.20" y2="197.60" stroke="#74a3d8" stroke-width="1.35" stroke-linecap="round"/>
<line x1="12.40" y1="197.60" x2="23.20" y2="197.60" stroke="#74a3d8" stroke-width="1.35" stroke-linecap="round"/>
<line x1="44.80" y1="197.60" x2="55.60" y2="197.60" stroke="#74a3d8" stroke-width="1.35" stroke-linecap="round"/>
<line x1="77.20" y1="197.60" x2="88.00" y2="197.60" stroke="#74a3d8" stroke-width="1.35" stroke-linecap="round"/>
<line x1="109.60" y1="197.60" x2="120.40" y2="197.60" stroke="#74a3d8" stroke-width="1.35" stroke-linecap="round"/>
<line x1="45.70" y1="149.10" x2="54.00" y2="152.70" stroke="#e0282c" stroke-width="1.3" stroke-linecap="round"/>
<circle cx="-36.20" cy="132.50" r="2.20" fill="url(#gB)" stroke="#5683bf" stroke-width="0.35" />
<circle cx="-25.40" cy="132.50" r="2.20" fill="url(#gB)" stroke="#5683bf" stroke-width="0.35" />
<circle cx="-3.80" cy="132.50" r="2.20" fill="url(#gB)" stroke="#5683bf" stroke-width="0.35" />
<circle cx="7.00" cy="132.50" r="2.20" fill="url(#gB)" stroke="#5683bf" stroke-width="0.35" />
<circle cx="28.60" cy="132.50" r="2.20" fill="url(#gB)" stroke="#5683bf" stroke-width="0.35" />
<circle cx="39.40" cy="132.50" r="2.20" fill="url(#gB)" stroke="#5683bf" stroke-width="0.35" />
<circle cx="61.00" cy="132.50" r="2.20" fill="url(#gB)" stroke="#5683bf" stroke-width="0.35" />
<circle cx="71.80" cy="132.50" r="2.20" fill="url(#gB)" stroke="#5683bf" stroke-width="0.35" />
<circle cx="93.40" cy="132.50" r="2.20" fill="url(#gB)" stroke="#5683bf" stroke-width="0.35" />
<circle cx="104.20" cy="132.50" r="2.20" fill="url(#gB)" stroke="#5683bf" stroke-width="0.35" />
<circle cx="125.80" cy="132.50" r="2.20" fill="url(#gB)" stroke="#5683bf" stroke-width="0.35" />
<circle cx="136.60" cy="132.50" r="2.20" fill="url(#gB)" stroke="#5683bf" stroke-width="0.35" />
<circle cx="-20.00" cy="141.80" r="2.20" fill="url(#gB)" stroke="#5683bf" stroke-width="0.35" />
<circle cx="-9.20" cy="141.80" r="2.20" fill="url(#gB)" stroke="#5683bf" stroke-width="0.35" />
<circle cx="12.40" cy="141.80" r="2.20" fill="url(#gB)" stroke="#5683bf" stroke-width="0.35" />
<circle cx="23.20" cy="141.80" r="2.20" fill="url(#gB)" stroke="#5683bf" stroke-width="0.35" />
<circle cx="44.80" cy="141.80" r="2.20" fill="url(#gB)" stroke="#5683bf" stroke-width="0.35" />
<circle cx="55.60" cy="141.80" r="2.20" fill="url(#gB)" stroke="#5683bf" stroke-width="0.35" />
<circle cx="77.20" cy="141.80" r="2.20" fill="url(#gB)" stroke="#5683bf" stroke-width="0.35" />
<circle cx="88.00" cy="141.80" r="2.20" fill="url(#gB)" stroke="#5683bf" stroke-width="0.35" />
<circle cx="109.60" cy="141.80" r="2.20" fill="url(#gB)" stroke="#5683bf" stroke-width="0.35" />
<circle cx="120.40" cy="141.80" r="2.20" fill="url(#gB)" stroke="#5683bf" stroke-width="0.35" />
<circle cx="-36.20" cy="151.10" r="2.20" fill="url(#gB)" stroke="#5683bf" stroke-width="0.35" />
<circle cx="-25.40" cy="151.10" r="2.20" fill="url(#gB)" stroke="#5683bf" stroke-width="0.35" />
<circle cx="-3.80" cy="151.10" r="2.20" fill="url(#gB)" stroke="#5683bf" stroke-width="0.35" />
<circle cx="7.00" cy="151.10" r="2.20" fill="url(#gB)" stroke="#5683bf" stroke-width="0.35" />
<circle cx="28.60" cy="151.10" r="2.20" fill="url(#gB)" stroke="#5683bf" stroke-width="0.35" />
<circle cx="39.40" cy="151.10" r="2.20" fill="url(#gB)" stroke="#5683bf" stroke-width="0.35" />
<circle cx="61.00" cy="151.10" r="2.20" fill="url(#gB)" stroke="#5683bf" stroke-width="0.35" />
<circle cx="71.80" cy="151.10" r="2.20" fill="url(#gB)" stroke="#5683bf" stroke-width="0.35" />
<circle cx="93.40" cy="151.10" r="2.20" fill="url(#gB)" stroke="#5683bf" stroke-width="0.35" />
<circle cx="104.20" cy="151.10" r="2.20" fill="url(#gB)" stroke="#5683bf" stroke-width="0.35" />
<circle cx="125.80" cy="151.10" r="2.20" fill="url(#gB)" stroke="#5683bf" stroke-width="0.35" />
<circle cx="136.60" cy="151.10" r="2.20" fill="url(#gB)" stroke="#5683bf" stroke-width="0.35" />
<circle cx="-20.00" cy="160.40" r="2.20" fill="url(#gB)" stroke="#5683bf" stroke-width="0.35" />
<circle cx="-9.20" cy="160.40" r="2.20" fill="url(#gB)" stroke="#5683bf" stroke-width="0.35" />
<circle cx="12.40" cy="160.40" r="2.20" fill="url(#gB)" stroke="#5683bf" stroke-width="0.35" />
<circle cx="23.20" cy="160.40" r="2.20" fill="url(#gB)" stroke="#5683bf" stroke-width="0.35" />
<circle cx="44.80" cy="160.40" r="2.20" fill="url(#gB)" stroke="#5683bf" stroke-width="0.35" />
<circle cx="55.60" cy="160.40" r="2.20" fill="url(#gR)" stroke="#b01010" stroke-width="0.35" />
<circle cx="77.20" cy="160.40" r="2.20" fill="url(#gB)" stroke="#5683bf" stroke-width="0.35" />
<circle cx="88.00" cy="160.40" r="2.20" fill="url(#gB)" stroke="#5683bf" stroke-width="0.35" />
<circle cx="109.60" cy="160.40" r="2.20" fill="url(#gB)" stroke="#5683bf" stroke-width="0.35" />
<circle cx="120.40" cy="160.40" r="2.20" fill="url(#gB)" stroke="#5683bf" stroke-width="0.35" />
<circle cx="-36.20" cy="169.70" r="2.20" fill="url(#gB)" stroke="#5683bf" stroke-width="0.35" />
<circle cx="-25.40" cy="169.70" r="2.20" fill="url(#gB)" stroke="#5683bf" stroke-width="0.35" />
<circle cx="-3.80" cy="169.70" r="2.20" fill="url(#gB)" stroke="#5683bf" stroke-width="0.35" />
<circle cx="7.00" cy="169.70" r="2.20" fill="url(#gB)" stroke="#5683bf" stroke-width="0.35" />
<circle cx="28.60" cy="169.70" r="2.20" fill="url(#gB)" stroke="#5683bf" stroke-width="0.35" />
<circle cx="39.40" cy="169.70" r="2.20" fill="url(#gB)" stroke="#5683bf" stroke-width="0.35" />
<circle cx="61.00" cy="169.70" r="2.20" fill="url(#gB)" stroke="#5683bf" stroke-width="0.35" />
<circle cx="71.80" cy="169.70" r="2.20" fill="url(#gB)" stroke="#5683bf" stroke-width="0.35" />
<circle cx="93.40" cy="169.70" r="2.20" fill="url(#gB)" stroke="#5683bf" stroke-width="0.35" />
<circle cx="104.20" cy="169.70" r="2.20" fill="url(#gB)" stroke="#5683bf" stroke-width="0.35" />
<circle cx="125.80" cy="169.70" r="2.20" fill="url(#gB)" stroke="#5683bf" stroke-width="0.35" />
<circle cx="136.60" cy="169.70" r="2.20" fill="url(#gB)" stroke="#5683bf" stroke-width="0.35" />
<circle cx="-20.00" cy="179.00" r="2.20" fill="url(#gB)" stroke="#5683bf" stroke-width="0.35" />
<circle cx="-9.20" cy="179.00" r="2.20" fill="url(#gB)" stroke="#5683bf" stroke-width="0.35" />
<circle cx="12.40" cy="179.00" r="2.20" fill="url(#gB)" stroke="#5683bf" stroke-width="0.35" />
<circle cx="23.20" cy="179.00" r="2.20" fill="url(#gB)" stroke="#5683bf" stroke-width="0.35" />
<circle cx="44.80" cy="179.00" r="2.20" fill="url(#gB)" stroke="#5683bf" stroke-width="0.35" />
<circle cx="55.60" cy="179.00" r="2.20" fill="url(#gB)" stroke="#5683bf" stroke-width="0.35" />
<circle cx="77.20" cy="179.00" r="2.20" fill="url(#gB)" stroke="#5683bf" stroke-width="0.35" />
<circle cx="88.00" cy="179.00" r="2.20" fill="url(#gB)" stroke="#5683bf" stroke-width="0.35" />
<circle cx="109.60" cy="179.00" r="2.20" fill="url(#gB)" stroke="#5683bf" stroke-width="0.35" />
<circle cx="120.40" cy="179.00" r="2.20" fill="url(#gB)" stroke="#5683bf" stroke-width="0.35" />
<circle cx="-36.20" cy="188.30" r="2.20" fill="url(#gB)" stroke="#5683bf" stroke-width="0.35" />
<circle cx="-25.40" cy="188.30" r="2.20" fill="url(#gB)" stroke="#5683bf" stroke-width="0.35" />
<circle cx="-3.80" cy="188.30" r="2.20" fill="url(#gB)" stroke="#5683bf" stroke-width="0.35" />
<circle cx="7.00" cy="188.30" r="2.20" fill="url(#gB)" stroke="#5683bf" stroke-width="0.35" />
<circle cx="28.60" cy="188.30" r="2.20" fill="url(#gB)" stroke="#5683bf" stroke-width="0.35" />
<circle cx="39.40" cy="188.30" r="2.20" fill="url(#gB)" stroke="#5683bf" stroke-width="0.35" />
<circle cx="61.00" cy="188.30" r="2.20" fill="url(#gB)" stroke="#5683bf" stroke-width="0.35" />
<circle cx="71.80" cy="188.30" r="2.20" fill="url(#gB)" stroke="#5683bf" stroke-width="0.35" />
<circle cx="93.40" cy="188.30" r="2.20" fill="url(#gB)" stroke="#5683bf" stroke-width="0.35" />
<circle cx="104.20" cy="188.30" r="2.20" fill="url(#gB)" stroke="#5683bf" stroke-width="0.35" />
<circle cx="125.80" cy="188.30" r="2.20" fill="url(#gB)" stroke="#5683bf" stroke-width="0.35" />
<circle cx="136.60" cy="188.30" r="2.20" fill="url(#gB)" stroke="#5683bf" stroke-width="0.35" />
<circle cx="-20.00" cy="197.60" r="2.20" fill="url(#gB)" stroke="#5683bf" stroke-width="0.35" />
<circle cx="-9.20" cy="197.60" r="2.20" fill="url(#gB)" stroke="#5683bf" stroke-width="0.35" />
<circle cx="12.40" cy="197.60" r="2.20" fill="url(#gB)" stroke="#5683bf" stroke-width="0.35" />
<circle cx="23.20" cy="197.60" r="2.20" fill="url(#gB)" stroke="#5683bf" stroke-width="0.35" />
<circle cx="44.80" cy="197.60" r="2.20" fill="url(#gB)" stroke="#5683bf" stroke-width="0.35" />
<circle cx="55.60" cy="197.60" r="2.20" fill="url(#gB)" stroke="#5683bf" stroke-width="0.35" />
<circle cx="77.20" cy="197.60" r="2.20" fill="url(#gB)" stroke="#5683bf" stroke-width="0.35" />
<circle cx="88.00" cy="197.60" r="2.20" fill="url(#gB)" stroke="#5683bf" stroke-width="0.35" />
<circle cx="109.60" cy="197.60" r="2.20" fill="url(#gB)" stroke="#5683bf" stroke-width="0.35" />
<circle cx="120.40" cy="197.60" r="2.20" fill="url(#gB)" stroke="#5683bf" stroke-width="0.35" />
<circle cx="45.70" cy="149.10" r="1.90" fill="url(#gR)" stroke="#b01010" stroke-width="0.35" />
<circle cx="54.00" cy="152.70" r="1.90" fill="url(#gR)" stroke="#b01010" stroke-width="0.35" />
</g>
<rect x="25.10" y="135.80" width="50.50" height="50.50" stroke="#262626" stroke-width="1.1" fill="none" />
<rect x="324.50" y="138.30" width="50.50" height="50.50" stroke="none" stroke-width="0" fill="#fff" />
<clipPath id="c3"><rect x="324.50" y="138.30" width="50.50" height="50.50"/></clipPath>
<g clip-path="url(#c3)">
<line x1="263.20" y1="135.00" x2="274.00" y2="135.00" stroke="#74a3d8" stroke-width="1.35" stroke-linecap="round"/>
<line x1="274.00" y1="135.00" x2="279.40" y2="144.30" stroke="#74a3d8" stroke-width="1.35" stroke-linecap="round"/>
<line x1="295.60" y1="135.00" x2="306.40" y2="135.00" stroke="#74a3d8" stroke-width="1.35" stroke-linecap="round"/>
<line x1="295.60" y1="135.00" x2="290.20" y2="144.30" stroke="#74a3d8" stroke-width="1.35" stroke-linecap="round"/>
<line x1="306.40" y1="135.00" x2="311.80" y2="144.30" stroke="#74a3d8" stroke-width="1.35" stroke-linecap="round"/>
<line x1="328.00" y1="135.00" x2="338.80" y2="135.00" stroke="#74a3d8" stroke-width="1.35" stroke-linecap="round"/>
<line x1="328.00" y1="135.00" x2="322.60" y2="144.30" stroke="#74a3d8" stroke-width="1.35" stroke-linecap="round"/>
<line x1="338.80" y1="135.00" x2="344.20" y2="144.30" stroke="#74a3d8" stroke-width="1.35" stroke-linecap="round"/>
<line x1="360.40" y1="135.00" x2="371.20" y2="135.00" stroke="#74a3d8" stroke-width="1.35" stroke-linecap="round"/>
<line x1="360.40" y1="135.00" x2="355.00" y2="144.30" stroke="#74a3d8" stroke-width="1.35" stroke-linecap="round"/>
<line x1="371.20" y1="135.00" x2="376.60" y2="144.30" stroke="#74a3d8" stroke-width="1.35" stroke-linecap="round"/>
<line x1="392.80" y1="135.00" x2="403.60" y2="135.00" stroke="#74a3d8" stroke-width="1.35" stroke-linecap="round"/>
<line x1="392.80" y1="135.00" x2="387.40" y2="144.30" stroke="#74a3d8" stroke-width="1.35" stroke-linecap="round"/>
<line x1="403.60" y1="135.00" x2="409.00" y2="144.30" stroke="#74a3d8" stroke-width="1.35" stroke-linecap="round"/>
<line x1="425.20" y1="135.00" x2="436.00" y2="135.00" stroke="#74a3d8" stroke-width="1.35" stroke-linecap="round"/>
<line x1="425.20" y1="135.00" x2="419.80" y2="144.30" stroke="#74a3d8" stroke-width="1.35" stroke-linecap="round"/>
<line x1="279.40" y1="144.30" x2="290.20" y2="144.30" stroke="#74a3d8" stroke-width="1.35" stroke-linecap="round"/>
<line x1="279.40" y1="144.30" x2="274.00" y2="153.60" stroke="#74a3d8" stroke-width="1.35" stroke-linecap="round"/>
<line x1="290.20" y1="144.30" x2="295.60" y2="153.60" stroke="#74a3d8" stroke-width="1.35" stroke-linecap="round"/>
<line x1="311.80" y1="144.30" x2="322.60" y2="144.30" stroke="#74a3d8" stroke-width="1.35" stroke-linecap="round"/>
<line x1="311.80" y1="144.30" x2="306.40" y2="153.60" stroke="#74a3d8" stroke-width="1.35" stroke-linecap="round"/>
<line x1="322.60" y1="144.30" x2="328.00" y2="153.60" stroke="#74a3d8" stroke-width="1.35" stroke-linecap="round"/>
<line x1="344.20" y1="144.30" x2="355.00" y2="144.30" stroke="#74a3d8" stroke-width="1.35" stroke-linecap="round"/>
<line x1="344.20" y1="144.30" x2="338.80" y2="153.60" stroke="#74a3d8" stroke-width="1.35" stroke-linecap="round"/>
<line x1="355.00" y1="144.30" x2="360.40" y2="153.60" stroke="#74a3d8" stroke-width="1.35" stroke-linecap="round"/>
<line x1="376.60" y1="144.30" x2="387.40" y2="144.30" stroke="#74a3d8" stroke-width="1.35" stroke-linecap="round"/>
<line x1="376.60" y1="144.30" x2="371.20" y2="153.60" stroke="#74a3d8" stroke-width="1.35" stroke-linecap="round"/>
<line x1="387.40" y1="144.30" x2="392.80" y2="153.60" stroke="#74a3d8" stroke-width="1.35" stroke-linecap="round"/>
<line x1="409.00" y1="144.30" x2="419.80" y2="144.30" stroke="#74a3d8" stroke-width="1.35" stroke-linecap="round"/>
<line x1="409.00" y1="144.30" x2="403.60" y2="153.60" stroke="#74a3d8" stroke-width="1.35" stroke-linecap="round"/>
<line x1="419.80" y1="144.30" x2="425.20" y2="153.60" stroke="#74a3d8" stroke-width="1.35" stroke-linecap="round"/>
<line x1="263.20" y1="153.60" x2="274.00" y2="153.60" stroke="#74a3d8" stroke-width="1.35" stroke-linecap="round"/>
<line x1="274.00" y1="153.60" x2="279.40" y2="162.90" stroke="#74a3d8" stroke-width="1.35" stroke-linecap="round"/>
<line x1="295.60" y1="153.60" x2="306.40" y2="153.60" stroke="#74a3d8" stroke-width="1.35" stroke-linecap="round"/>
<line x1="295.60" y1="153.60" x2="290.20" y2="162.90" stroke="#74a3d8" stroke-width="1.35" stroke-linecap="round"/>
<line x1="306.40" y1="153.60" x2="311.80" y2="162.90" stroke="#74a3d8" stroke-width="1.35" stroke-linecap="round"/>
<line x1="328.00" y1="153.60" x2="338.80" y2="153.60" stroke="#74a3d8" stroke-width="1.35" stroke-linecap="round"/>
<line x1="328.00" y1="153.60" x2="322.60" y2="162.90" stroke="#74a3d8" stroke-width="1.35" stroke-linecap="round"/>
<line x1="338.80" y1="153.60" x2="344.20" y2="162.90" stroke="#74a3d8" stroke-width="1.35" stroke-linecap="round"/>
<line x1="360.40" y1="153.60" x2="371.20" y2="153.60" stroke="#74a3d8" stroke-width="1.35" stroke-linecap="round"/>
<line x1="360.40" y1="153.60" x2="358.90" y2="159.00" stroke="#74a3d8" stroke-width="1.35" stroke-linecap="butt"/>
<line x1="358.90" y1="159.00" x2="357.90" y2="162.60" stroke="#e0282c" stroke-width="1.35" stroke-linecap="butt"/>
<line x1="371.20" y1="153.60" x2="376.60" y2="162.90" stroke="#74a3d8" stroke-width="1.35" stroke-linecap="round"/>
<line x1="392.80" y1="153.60" x2="403.60" y2="153.60" stroke="#74a3d8" stroke-width="1.35" stroke-linecap="round"/>
<line x1="392.80" y1="153.60" x2="387.40" y2="162.90" stroke="#74a3d8" stroke-width="1.35" stroke-linecap="round"/>
<line x1="403.60" y1="153.60" x2="409.00" y2="162.90" stroke="#74a3d8" stroke-width="1.35" stroke-linecap="round"/>
<line x1="425.20" y1="153.60" x2="436.00" y2="153.60" stroke="#74a3d8" stroke-width="1.35" stroke-linecap="round"/>
<line x1="425.20" y1="153.60" x2="419.80" y2="162.90" stroke="#74a3d8" stroke-width="1.35" stroke-linecap="round"/>
<line x1="279.40" y1="162.90" x2="290.20" y2="162.90" stroke="#74a3d8" stroke-width="1.35" stroke-linecap="round"/>
<line x1="279.40" y1="162.90" x2="274.00" y2="172.20" stroke="#74a3d8" stroke-width="1.35" stroke-linecap="round"/>
<line x1="290.20" y1="162.90" x2="295.60" y2="172.20" stroke="#74a3d8" stroke-width="1.35" stroke-linecap="round"/>
<line x1="311.80" y1="162.90" x2="322.60" y2="162.90" stroke="#74a3d8" stroke-width="1.35" stroke-linecap="round"/>
<line x1="311.80" y1="162.90" x2="306.40" y2="172.20" stroke="#74a3d8" stroke-width="1.35" stroke-linecap="round"/>
<line x1="322.60" y1="162.90" x2="328.00" y2="172.20" stroke="#74a3d8" stroke-width="1.35" stroke-linecap="round"/>
<line x1="344.20" y1="162.90" x2="352.42" y2="162.72" stroke="#74a3d8" stroke-width="1.35" stroke-linecap="butt"/>
<line x1="352.42" y1="162.72" x2="357.90" y2="162.60" stroke="#e0282c" stroke-width="1.35" stroke-linecap="butt"/>
<line x1="344.20" y1="162.90" x2="338.80" y2="172.20" stroke="#74a3d8" stroke-width="1.35" stroke-linecap="round"/>
<line x1="357.90" y1="162.60" x2="358.90" y2="166.44" stroke="#e0282c" stroke-width="1.35" stroke-linecap="butt"/>
<line x1="358.90" y1="166.44" x2="360.40" y2="172.20" stroke="#74a3d8" stroke-width="1.35" stroke-linecap="butt"/>
<line x1="376.60" y1="162.90" x2="387.40" y2="162.90" stroke="#74a3d8" stroke-width="1.35" stroke-linecap="round"/>
<line x1="376.60" y1="162.90" x2="371.20" y2="172.20" stroke="#74a3d8" stroke-width="1.35" stroke-linecap="round"/>
<line x1="387.40" y1="162.90" x2="392.80" y2="172.20" stroke="#74a3d8" stroke-width="1.35" stroke-linecap="round"/>
<line x1="409.00" y1="162.90" x2="419.80" y2="162.90" stroke="#74a3d8" stroke-width="1.35" stroke-linecap="round"/>
<line x1="409.00" y1="162.90" x2="403.60" y2="172.20" stroke="#74a3d8" stroke-width="1.35" stroke-linecap="round"/>
<line x1="419.80" y1="162.90" x2="425.20" y2="172.20" stroke="#74a3d8" stroke-width="1.35" stroke-linecap="round"/>
<line x1="263.20" y1="172.20" x2="274.00" y2="172.20" stroke="#74a3d8" stroke-width="1.35" stroke-linecap="round"/>
<line x1="274.00" y1="172.20" x2="279.40" y2="181.50" stroke="#74a3d8" stroke-width="1.35" stroke-linecap="round"/>
<line x1="295.60" y1="172.20" x2="306.40" y2="172.20" stroke="#74a3d8" stroke-width="1.35" stroke-linecap="round"/>
<line x1="295.60" y1="172.20" x2="290.20" y2="181.50" stroke="#74a3d8" stroke-width="1.35" stroke-linecap="round"/>
<line x1="306.40" y1="172.20" x2="311.80" y2="181.50" stroke="#74a3d8" stroke-width="1.35" stroke-linecap="round"/>
<line x1="328.00" y1="172.20" x2="338.80" y2="172.20" stroke="#74a3d8" stroke-width="1.35" stroke-linecap="round"/>
<line x1="328.00" y1="172.20" x2="322.60" y2="181.50" stroke="#74a3d8" stroke-width="1.35" stroke-linecap="round"/>
<line x1="338.80" y1="172.20" x2="344.20" y2="181.50" stroke="#74a3d8" stroke-width="1.35" stroke-linecap="round"/>
<line x1="360.40" y1="172.20" x2="371.20" y2="172.20" stroke="#74a3d8" stroke-width="1.35" stroke-linecap="round"/>
<line x1="360.40" y1="172.20" x2="355.00" y2="181.50" stroke="#74a3d8" stroke-width="1.35" stroke-linecap="round"/>
<line x1="371.20" y1="172.20" x2="376.60" y2="181.50" stroke="#74a3d8" stroke-width="1.35" stroke-linecap="round"/>
<line x1="392.80" y1="172.20" x2="403.60" y2="172.20" stroke="#74a3d8" stroke-width="1.35" stroke-linecap="round"/>
<line x1="392.80" y1="172.20" x2="387.40" y2="181.50" stroke="#74a3d8" stroke-width="1.35" stroke-linecap="round"/>
<line x1="403.60" y1="172.20" x2="409.00" y2="181.50" stroke="#74a3d8" stroke-width="1.35" stroke-linecap="round"/>
<line x1="425.20" y1="172.20" x2="436.00" y2="172.20" stroke="#74a3d8" stroke-width="1.35" stroke-linecap="round"/>
<line x1="425.20" y1="172.20" x2="419.80" y2="181.50" stroke="#74a3d8" stroke-width="1.35" stroke-linecap="round"/>
<line x1="279.40" y1="181.50" x2="290.20" y2="181.50" stroke="#74a3d8" stroke-width="1.35" stroke-linecap="round"/>
<line x1="279.40" y1="181.50" x2="274.00" y2="190.80" stroke="#74a3d8" stroke-width="1.35" stroke-linecap="round"/>
<line x1="290.20" y1="181.50" x2="295.60" y2="190.80" stroke="#74a3d8" stroke-width="1.35" stroke-linecap="round"/>
<line x1="311.80" y1="181.50" x2="322.60" y2="181.50" stroke="#74a3d8" stroke-width="1.35" stroke-linecap="round"/>
<line x1="311.80" y1="181.50" x2="306.40" y2="190.80" stroke="#74a3d8" stroke-width="1.35" stroke-linecap="round"/>
<line x1="322.60" y1="181.50" x2="328.00" y2="190.80" stroke="#74a3d8" stroke-width="1.35" stroke-linecap="round"/>
<line x1="344.20" y1="181.50" x2="355.00" y2="181.50" stroke="#74a3d8" stroke-width="1.35" stroke-linecap="round"/>
<line x1="344.20" y1="181.50" x2="338.80" y2="190.80" stroke="#74a3d8" stroke-width="1.35" stroke-linecap="round"/>
<line x1="355.00" y1="181.50" x2="360.40" y2="190.80" stroke="#74a3d8" stroke-width="1.35" stroke-linecap="round"/>
<line x1="376.60" y1="181.50" x2="387.40" y2="181.50" stroke="#74a3d8" stroke-width="1.35" stroke-linecap="round"/>
<line x1="376.60" y1="181.50" x2="371.20" y2="190.80" stroke="#74a3d8" stroke-width="1.35" stroke-linecap="round"/>
<line x1="387.40" y1="181.50" x2="392.80" y2="190.80" stroke="#74a3d8" stroke-width="1.35" stroke-linecap="round"/>
<line x1="409.00" y1="181.50" x2="419.80" y2="181.50" stroke="#74a3d8" stroke-width="1.35" stroke-linecap="round"/>
<line x1="409.00" y1="181.50" x2="403.60" y2="190.80" stroke="#74a3d8" stroke-width="1.35" stroke-linecap="round"/>
<line x1="419.80" y1="181.50" x2="425.20" y2="190.80" stroke="#74a3d8" stroke-width="1.35" stroke-linecap="round"/>
<line x1="263.20" y1="190.80" x2="274.00" y2="190.80" stroke="#74a3d8" stroke-width="1.35" stroke-linecap="round"/>
<line x1="274.00" y1="190.80" x2="279.40" y2="200.10" stroke="#74a3d8" stroke-width="1.35" stroke-linecap="round"/>
<line x1="295.60" y1="190.80" x2="306.40" y2="190.80" stroke="#74a3d8" stroke-width="1.35" stroke-linecap="round"/>
<line x1="295.60" y1="190.80" x2="290.20" y2="200.10" stroke="#74a3d8" stroke-width="1.35" stroke-linecap="round"/>
<line x1="306.40" y1="190.80" x2="311.80" y2="200.10" stroke="#74a3d8" stroke-width="1.35" stroke-linecap="round"/>
<line x1="328.00" y1="190.80" x2="338.80" y2="190.80" stroke="#74a3d8" stroke-width="1.35" stroke-linecap="round"/>
<line x1="328.00" y1="190.80" x2="322.60" y2="200.10" stroke="#74a3d8" stroke-width="1.35" stroke-linecap="round"/>
<line x1="338.80" y1="190.80" x2="344.20" y2="200.10" stroke="#74a3d8" stroke-width="1.35" stroke-linecap="round"/>
<line x1="360.40" y1="190.80" x2="371.20" y2="190.80" stroke="#74a3d8" stroke-width="1.35" stroke-linecap="round"/>
<line x1="360.40" y1="190.80" x2="355.00" y2="200.10" stroke="#74a3d8" stroke-width="1.35" stroke-linecap="round"/>
<line x1="371.20" y1="190.80" x2="376.60" y2="200.10" stroke="#74a3d8" stroke-width="1.35" stroke-linecap="round"/>
<line x1="392.80" y1="190.80" x2="403.60" y2="190.80" stroke="#74a3d8" stroke-width="1.35" stroke-linecap="round"/>
<line x1="392.80" y1="190.80" x2="387.40" y2="200.10" stroke="#74a3d8" stroke-width="1.35" stroke-linecap="round"/>
<line x1="403.60" y1="190.80" x2="409.00" y2="200.10" stroke="#74a3d8" stroke-width="1.35" stroke-linecap="round"/>
<line x1="425.20" y1="190.80" x2="436.00" y2="190.80" stroke="#74a3d8" stroke-width="1.35" stroke-linecap="round"/>
<line x1="425.20" y1="190.80" x2="419.80" y2="200.10" stroke="#74a3d8" stroke-width="1.35" stroke-linecap="round"/>
<line x1="279.40" y1="200.10" x2="290.20" y2="200.10" stroke="#74a3d8" stroke-width="1.35" stroke-linecap="round"/>
<line x1="311.80" y1="200.10" x2="322.60" y2="200.10" stroke="#74a3d8" stroke-width="1.35" stroke-linecap="round"/>
<line x1="344.20" y1="200.10" x2="355.00" y2="200.10" stroke="#74a3d8" stroke-width="1.35" stroke-linecap="round"/>
<line x1="376.60" y1="200.10" x2="387.40" y2="200.10" stroke="#74a3d8" stroke-width="1.35" stroke-linecap="round"/>
<line x1="409.00" y1="200.10" x2="419.80" y2="200.10" stroke="#74a3d8" stroke-width="1.35" stroke-linecap="round"/>
<circle cx="263.20" cy="135.00" r="2.20" fill="url(#gB)" stroke="#5683bf" stroke-width="0.35" />
<circle cx="274.00" cy="135.00" r="2.20" fill="url(#gB)" stroke="#5683bf" stroke-width="0.35" />
<circle cx="295.60" cy="135.00" r="2.20" fill="url(#gB)" stroke="#5683bf" stroke-width="0.35" />
<circle cx="306.40" cy="135.00" r="2.20" fill="url(#gB)" stroke="#5683bf" stroke-width="0.35" />
<circle cx="328.00" cy="135.00" r="2.20" fill="url(#gB)" stroke="#5683bf" stroke-width="0.35" />
<circle cx="338.80" cy="135.00" r="2.20" fill="url(#gB)" stroke="#5683bf" stroke-width="0.35" />
<circle cx="360.40" cy="135.00" r="2.20" fill="url(#gB)" stroke="#5683bf" stroke-width="0.35" />
<circle cx="371.20" cy="135.00" r="2.20" fill="url(#gB)" stroke="#5683bf" stroke-width="0.35" />
<circle cx="392.80" cy="135.00" r="2.20" fill="url(#gB)" stroke="#5683bf" stroke-width="0.35" />
<circle cx="403.60" cy="135.00" r="2.20" fill="url(#gB)" stroke="#5683bf" stroke-width="0.35" />
<circle cx="425.20" cy="135.00" r="2.20" fill="url(#gB)" stroke="#5683bf" stroke-width="0.35" />
<circle cx="436.00" cy="135.00" r="2.20" fill="url(#gB)" stroke="#5683bf" stroke-width="0.35" />
<circle cx="279.40" cy="144.30" r="2.20" fill="url(#gB)" stroke="#5683bf" stroke-width="0.35" />
<circle cx="290.20" cy="144.30" r="2.20" fill="url(#gB)" stroke="#5683bf" stroke-width="0.35" />
<circle cx="311.80" cy="144.30" r="2.20" fill="url(#gB)" stroke="#5683bf" stroke-width="0.35" />
<circle cx="322.60" cy="144.30" r="2.20" fill="url(#gB)" stroke="#5683bf" stroke-width="0.35" />
<circle cx="344.20" cy="144.30" r="2.20" fill="url(#gB)" stroke="#5683bf" stroke-width="0.35" />
<circle cx="355.00" cy="144.30" r="2.20" fill="url(#gB)" stroke="#5683bf" stroke-width="0.35" />
<circle cx="376.60" cy="144.30" r="2.20" fill="url(#gB)" stroke="#5683bf" stroke-width="0.35" />
<circle cx="387.40" cy="144.30" r="2.20" fill="url(#gB)" stroke="#5683bf" stroke-width="0.35" />
<circle cx="409.00" cy="144.30" r="2.20" fill="url(#gB)" stroke="#5683bf" stroke-width="0.35" />
<circle cx="419.80" cy="144.30" r="2.20" fill="url(#gB)" stroke="#5683bf" stroke-width="0.35" />
<circle cx="263.20" cy="153.60" r="2.20" fill="url(#gB)" stroke="#5683bf" stroke-width="0.35" />
<circle cx="274.00" cy="153.60" r="2.20" fill="url(#gB)" stroke="#5683bf" stroke-width="0.35" />
<circle cx="295.60" cy="153.60" r="2.20" fill="url(#gB)" stroke="#5683bf" stroke-width="0.35" />
<circle cx="306.40" cy="153.60" r="2.20" fill="url(#gB)" stroke="#5683bf" stroke-width="0.35" />
<circle cx="328.00" cy="153.60" r="2.20" fill="url(#gB)" stroke="#5683bf" stroke-width="0.35" />
<circle cx="338.80" cy="153.60" r="2.20" fill="url(#gB)" stroke="#5683bf" stroke-width="0.35" />
<circle cx="360.40" cy="153.60" r="2.20" fill="url(#gB)" stroke="#5683bf" stroke-width="0.35" />
<circle cx="371.20" cy="153.60" r="2.20" fill="url(#gB)" stroke="#5683bf" stroke-width="0.35" />
<circle cx="392.80" cy="153.60" r="2.20" fill="url(#gB)" stroke="#5683bf" stroke-width="0.35" />
<circle cx="403.60" cy="153.60" r="2.20" fill="url(#gB)" stroke="#5683bf" stroke-width="0.35" />
<circle cx="425.20" cy="153.60" r="2.20" fill="url(#gB)" stroke="#5683bf" stroke-width="0.35" />
<circle cx="436.00" cy="153.60" r="2.20" fill="url(#gB)" stroke="#5683bf" stroke-width="0.35" />
<circle cx="279.40" cy="162.90" r="2.20" fill="url(#gB)" stroke="#5683bf" stroke-width="0.35" />
<circle cx="290.20" cy="162.90" r="2.20" fill="url(#gB)" stroke="#5683bf" stroke-width="0.35" />
<circle cx="311.80" cy="162.90" r="2.20" fill="url(#gB)" stroke="#5683bf" stroke-width="0.35" />
<circle cx="322.60" cy="162.90" r="2.20" fill="url(#gB)" stroke="#5683bf" stroke-width="0.35" />
<circle cx="344.20" cy="162.90" r="2.20" fill="url(#gB)" stroke="#5683bf" stroke-width="0.35" />
<circle cx="357.90" cy="162.60" r="2.20" fill="url(#gR)" stroke="#b01010" stroke-width="0.35" />
<circle cx="376.60" cy="162.90" r="2.20" fill="url(#gB)" stroke="#5683bf" stroke-width="0.35" />
<circle cx="387.40" cy="162.90" r="2.20" fill="url(#gB)" stroke="#5683bf" stroke-width="0.35" />
<circle cx="409.00" cy="162.90" r="2.20" fill="url(#gB)" stroke="#5683bf" stroke-width="0.35" />
<circle cx="419.80" cy="162.90" r="2.20" fill="url(#gB)" stroke="#5683bf" stroke-width="0.35" />
<circle cx="263.20" cy="172.20" r="2.20" fill="url(#gB)" stroke="#5683bf" stroke-width="0.35" />
<circle cx="274.00" cy="172.20" r="2.20" fill="url(#gB)" stroke="#5683bf" stroke-width="0.35" />
<circle cx="295.60" cy="172.20" r="2.20" fill="url(#gB)" stroke="#5683bf" stroke-width="0.35" />
<circle cx="306.40" cy="172.20" r="2.20" fill="url(#gB)" stroke="#5683bf" stroke-width="0.35" />
<circle cx="328.00" cy="172.20" r="2.20" fill="url(#gB)" stroke="#5683bf" stroke-width="0.35" />
<circle cx="338.80" cy="172.20" r="2.20" fill="url(#gB)" stroke="#5683bf" stroke-width="0.35" />
<circle cx="360.40" cy="172.20" r="2.20" fill="url(#gB)" stroke="#5683bf" stroke-width="0.35" />
<circle cx="371.20" cy="172.20" r="2.20" fill="url(#gB)" stroke="#5683bf" stroke-width="0.35" />
<circle cx="392.80" cy="172.20" r="2.20" fill="url(#gB)" stroke="#5683bf" stroke-width="0.35" />
<circle cx="403.60" cy="172.20" r="2.20" fill="url(#gB)" stroke="#5683bf" stroke-width="0.35" />
<circle cx="425.20" cy="172.20" r="2.20" fill="url(#gB)" stroke="#5683bf" stroke-width="0.35" />
<circle cx="436.00" cy="172.20" r="2.20" fill="url(#gB)" stroke="#5683bf" stroke-width="0.35" />
<circle cx="279.40" cy="181.50" r="2.20" fill="url(#gB)" stroke="#5683bf" stroke-width="0.35" />
<circle cx="290.20" cy="181.50" r="2.20" fill="url(#gB)" stroke="#5683bf" stroke-width="0.35" />
<circle cx="311.80" cy="181.50" r="2.20" fill="url(#gB)" stroke="#5683bf" stroke-width="0.35" />
<circle cx="322.60" cy="181.50" r="2.20" fill="url(#gB)" stroke="#5683bf" stroke-width="0.35" />
<circle cx="344.20" cy="181.50" r="2.20" fill="url(#gB)" stroke="#5683bf" stroke-width="0.35" />
<circle cx="355.00" cy="181.50" r="2.20" fill="url(#gB)" stroke="#5683bf" stroke-width="0.35" />
<circle cx="376.60" cy="181.50" r="2.20" fill="url(#gB)" stroke="#5683bf" stroke-width="0.35" />
<circle cx="387.40" cy="181.50" r="2.20" fill="url(#gB)" stroke="#5683bf" stroke-width="0.35" />
<circle cx="409.00" cy="181.50" r="2.20" fill="url(#gB)" stroke="#5683bf" stroke-width="0.35" />
<circle cx="419.80" cy="181.50" r="2.20" fill="url(#gB)" stroke="#5683bf" stroke-width="0.35" />
<circle cx="263.20" cy="190.80" r="2.20" fill="url(#gB)" stroke="#5683bf" stroke-width="0.35" />
<circle cx="274.00" cy="190.80" r="2.20" fill="url(#gB)" stroke="#5683bf" stroke-width="0.35" />
<circle cx="295.60" cy="190.80" r="2.20" fill="url(#gB)" stroke="#5683bf" stroke-width="0.35" />
<circle cx="306.40" cy="190.80" r="2.20" fill="url(#gB)" stroke="#5683bf" stroke-width="0.35" />
<circle cx="328.00" cy="190.80" r="2.20" fill="url(#gB)" stroke="#5683bf" stroke-width="0.35" />
<circle cx="338.80" cy="190.80" r="2.20" fill="url(#gB)" stroke="#5683bf" stroke-width="0.35" />
<circle cx="360.40" cy="190.80" r="2.20" fill="url(#gB)" stroke="#5683bf" stroke-width="0.35" />
<circle cx="371.20" cy="190.80" r="2.20" fill="url(#gB)" stroke="#5683bf" stroke-width="0.35" />
<circle cx="392.80" cy="190.80" r="2.20" fill="url(#gB)" stroke="#5683bf" stroke-width="0.35" />
<circle cx="403.60" cy="190.80" r="2.20" fill="url(#gB)" stroke="#5683bf" stroke-width="0.35" />
<circle cx="425.20" cy="190.80" r="2.20" fill="url(#gB)" stroke="#5683bf" stroke-width="0.35" />
<circle cx="436.00" cy="190.80" r="2.20" fill="url(#gB)" stroke="#5683bf" stroke-width="0.35" />
<circle cx="279.40" cy="200.10" r="2.20" fill="url(#gB)" stroke="#5683bf" stroke-width="0.35" />
<circle cx="290.20" cy="200.10" r="2.20" fill="url(#gB)" stroke="#5683bf" stroke-width="0.35" />
<circle cx="311.80" cy="200.10" r="2.20" fill="url(#gB)" stroke="#5683bf" stroke-width="0.35" />
<circle cx="322.60" cy="200.10" r="2.20" fill="url(#gB)" stroke="#5683bf" stroke-width="0.35" />
<circle cx="344.20" cy="200.10" r="2.20" fill="url(#gB)" stroke="#5683bf" stroke-width="0.35" />
<circle cx="355.00" cy="200.10" r="2.20" fill="url(#gB)" stroke="#5683bf" stroke-width="0.35" />
<circle cx="376.60" cy="200.10" r="2.20" fill="url(#gB)" stroke="#5683bf" stroke-width="0.35" />
<circle cx="387.40" cy="200.10" r="2.20" fill="url(#gB)" stroke="#5683bf" stroke-width="0.35" />
<circle cx="409.00" cy="200.10" r="2.20" fill="url(#gB)" stroke="#5683bf" stroke-width="0.35" />
<circle cx="419.80" cy="200.10" r="2.20" fill="url(#gB)" stroke="#5683bf" stroke-width="0.35" />
<circle cx="337.20" cy="162.50" r="1.90" fill="url(#gR)" stroke="#b01010" stroke-width="0.35" />
<circle cx="339.40" cy="163.70" r="1.50" fill="url(#gG)" stroke="#20a028" stroke-width="0.35" />
</g>
<rect x="324.50" y="138.30" width="50.50" height="50.50" stroke="#262626" stroke-width="1.1" fill="none" />
<rect x="66.40" y="289.40" width="50.50" height="50.50" stroke="none" stroke-width="0" fill="#fff" />
<clipPath id="c4"><rect x="66.40" y="289.40" width="50.50" height="50.50"/></clipPath>
<g clip-path="url(#c4)">
<line x1="5.10" y1="286.10" x2="15.90" y2="286.10" stroke="#74a3d8" stroke-width="1.35" stroke-linecap="round"/>
<line x1="15.90" y1="286.10" x2="21.30" y2="295.40" stroke="#74a3d8" stroke-width="1.35" stroke-linecap="round"/>
<line x1="37.50" y1="286.10" x2="48.30" y2="286.10" stroke="#74a3d8" stroke-width="1.35" stroke-linecap="round"/>
<line x1="37.50" y1="286.10" x2="32.10" y2="295.40" stroke="#74a3d8" stroke-width="1.35" stroke-linecap="round"/>
<line x1="48.30" y1="286.10" x2="53.70" y2="295.40" stroke="#74a3d8" stroke-width="1.35" stroke-linecap="round"/>
<line x1="69.90" y1="286.10" x2="80.70" y2="286.10" stroke="#74a3d8" stroke-width="1.35" stroke-linecap="round"/>
<line x1="69.90" y1="286.10" x2="64.50" y2="295.40" stroke="#74a3d8" stroke-width="1.35" stroke-linecap="round"/>
<line x1="80.70" y1="286.10" x2="86.10" y2="295.40" stroke="#74a3d8" stroke-width="1.35" stroke-linecap="round"/>
<line x1="102.30" y1="286.10" x2="113.10" y2="286.10" stroke="#74a3d8" stroke-width="1.35" stroke-linecap="round"/>
<line x1="102.30" y1="286.10" x2="96.90" y2="295.40" stroke="#74a3d8" stroke-width="1.35" stroke-linecap="round"/>
<line x1="113.10" y1="286.10" x2="118.50" y2="295.40" stroke="#74a3d8" stroke-width="1.35" stroke-linecap="round"/>
<line x1="134.70" y1="286.10" x2="145.50" y2="286.10" stroke="#74a3d8" stroke-width="1.35" stroke-linecap="round"/>
<line x1="134.70" y1="286.10" x2="129.30" y2="295.40" stroke="#74a3d8" stroke-width="1.35" stroke-linecap="round"/>
<line x1="145.50" y1="286.10" x2="150.90" y2="295.40" stroke="#74a3d8" stroke-width="1.35" stroke-linecap="round"/>
<line x1="167.10" y1="286.10" x2="177.90" y2="286.10" stroke="#74a3d8" stroke-width="1.35" stroke-linecap="round"/>
<line x1="167.10" y1="286.10" x2="161.70" y2="295.40" stroke="#74a3d8" stroke-width="1.35" stroke-linecap="round"/>
<line x1="21.30" y1="295.40" x2="32.10" y2="295.40" stroke="#74a3d8" stroke-width="1.35" stroke-linecap="round"/>
<line x1="21.30" y1="295.40" x2="15.90" y2="304.70" stroke="#74a3d8" stroke-width="1.35" stroke-linecap="round"/>
<line x1="32.10" y1="295.40" x2="37.50" y2="304.70" stroke="#74a3d8" stroke-width="1.35" stroke-linecap="round"/>
<line x1="53.70" y1="295.40" x2="64.50" y2="295.40" stroke="#74a3d8" stroke-width="1.35" stroke-linecap="round"/>
<line x1="53.70" y1="295.40" x2="48.30" y2="304.70" stroke="#74a3d8" stroke-width="1.35" stroke-linecap="round"/>
<line x1="64.50" y1="295.40" x2="69.90" y2="304.70" stroke="#74a3d8" stroke-width="1.35" stroke-linecap="round"/>
<line x1="86.10" y1="295.40" x2="96.90" y2="295.40" stroke="#74a3d8" stroke-width="1.35" stroke-linecap="round"/>
<line x1="86.10" y1="295.40" x2="80.70" y2="304.70" stroke="#74a3d8" stroke-width="1.35" stroke-linecap="round"/>
<line x1="96.90" y1="295.40" x2="102.30" y2="304.70" stroke="#74a3d8" stroke-width="1.35" stroke-linecap="round"/>
<line x1="118.50" y1="295.40" x2="129.30" y2="295.40" stroke="#74a3d8" stroke-width="1.35" stroke-linecap="round"/>
<line x1="118.50" y1="295.40" x2="113.10" y2="304.70" stroke="#74a3d8" stroke-width="1.35" stroke-linecap="round"/>
<line x1="129.30" y1="295.40" x2="134.70" y2="304.70" stroke="#74a3d8" stroke-width="1.35" stroke-linecap="round"/>
<line x1="150.90" y1="295.40" x2="161.70" y2="295.40" stroke="#74a3d8" stroke-width="1.35" stroke-linecap="round"/>
<line x1="150.90" y1="295.40" x2="145.50" y2="304.70" stroke="#74a3d8" stroke-width="1.35" stroke-linecap="round"/>
<line x1="161.70" y1="295.40" x2="167.10" y2="304.70" stroke="#74a3d8" stroke-width="1.35" stroke-linecap="round"/>
<line x1="5.10" y1="304.70" x2="15.90" y2="304.70" stroke="#74a3d8" stroke-width="1.35" stroke-linecap="round"/>
<line x1="15.90" y1="304.70" x2="21.30" y2="314.00" stroke="#74a3d8" stroke-width="1.35" stroke-linecap="round"/>
<line x1="37.50" y1="304.70" x2="48.30" y2="304.70" stroke="#74a3d8" stroke-width="1.35" stroke-linecap="round"/>
<line x1="37.50" y1="304.70" x2="32.10" y2="314.00" stroke="#74a3d8" stroke-width="1.35" stroke-linecap="round"/>
<line x1="48.30" y1="304.70" x2="53.70" y2="314.00" stroke="#74a3d8" stroke-width="1.35" stroke-linecap="round"/>
<line x1="69.90" y1="304.70" x2="80.70" y2="304.70" stroke="#74a3d8" stroke-width="1.35" stroke-linecap="round"/>
<line x1="69.90" y1="304.70" x2="64.50" y2="314.00" stroke="#74a3d8" stroke-width="1.35" stroke-linecap="round"/>
<line x1="80.70" y1="304.70" x2="86.10" y2="314.00" stroke="#74a3d8" stroke-width="1.35" stroke-linecap="round"/>
<line x1="102.30" y1="304.70" x2="113.10" y2="304.70" stroke="#74a3d8" stroke-width="1.35" stroke-linecap="round"/>
<line x1="102.30" y1="304.70" x2="100.92" y2="309.80" stroke="#74a3d8" stroke-width="1.35" stroke-linecap="butt"/>
<line x1="100.92" y1="309.80" x2="100.00" y2="313.20" stroke="#e0282c" stroke-width="1.35" stroke-linecap="butt"/>
<line x1="113.10" y1="304.70" x2="118.50" y2="314.00" stroke="#74a3d8" stroke-width="1.35" stroke-linecap="round"/>
<line x1="134.70" y1="304.70" x2="145.50" y2="304.70" stroke="#74a3d8" stroke-width="1.35" stroke-linecap="round"/>
<line x1="134.70" y1="304.70" x2="129.30" y2="314.00" stroke="#74a3d8" stroke-width="1.35" stroke-linecap="round"/>
<line x1="145.50" y1="304.70" x2="150.90" y2="314.00" stroke="#74a3d8" stroke-width="1.35" stroke-linecap="round"/>
<line x1="167.10" y1="304.70" x2="177.90" y2="304.70" stroke="#74a3d8" stroke-width="1.35" stroke-linecap="round"/>
<line x1="167.10" y1="304.70" x2="161.70" y2="314.00" stroke="#74a3d8" stroke-width="1.35" stroke-linecap="round"/>
<line x1="21.30" y1="314.00" x2="32.10" y2="314.00" stroke="#74a3d8" stroke-width="1.35" stroke-linecap="round"/>
<line x1="21.30" y1="314.00" x2="15.90" y2="323.30" stroke="#74a3d8" stroke-width="1.35" stroke-linecap="round"/>
<line x1="32.10" y1="314.00" x2="37.50" y2="323.30" stroke="#74a3d8" stroke-width="1.35" stroke-linecap="round"/>
<line x1="53.70" y1="314.00" x2="64.50" y2="314.00" stroke="#74a3d8" stroke-width="1.35" stroke-linecap="round"/>
<line x1="53.70" y1="314.00" x2="48.30" y2="323.30" stroke="#74a3d8" stroke-width="1.35" stroke-linecap="round"/>
<line x1="64.50" y1="314.00" x2="69.90" y2="323.30" stroke="#74a3d8" stroke-width="1.35" stroke-linecap="round"/>
<line x1="86.10" y1="314.00" x2="94.44" y2="313.52" stroke="#74a3d8" stroke-width="1.35" stroke-linecap="butt"/>
<line x1="94.44" y1="313.52" x2="100.00" y2="313.20" stroke="#e0282c" stroke-width="1.35" stroke-linecap="butt"/>
<line x1="86.10" y1="314.00" x2="80.70" y2="323.30" stroke="#74a3d8" stroke-width="1.35" stroke-linecap="round"/>
<line x1="100.00" y1="313.20" x2="100.92" y2="317.24" stroke="#e0282c" stroke-width="1.35" stroke-linecap="butt"/>
<line x1="100.92" y1="317.24" x2="102.30" y2="323.30" stroke="#74a3d8" stroke-width="1.35" stroke-linecap="butt"/>
<line x1="118.50" y1="314.00" x2="129.30" y2="314.00" stroke="#74a3d8" stroke-width="1.35" stroke-linecap="round"/>
<line x1="118.50" y1="314.00" x2="113.10" y2="323.30" stroke="#74a3d8" stroke-width="1.35" stroke-linecap="round"/>
<line x1="129.30" y1="314.00" x2="134.70" y2="323.30" stroke="#74a3d8" stroke-width="1.35" stroke-linecap="round"/>
<line x1="150.90" y1="314.00" x2="161.70" y2="314.00" stroke="#74a3d8" stroke-width="1.35" stroke-linecap="round"/>
<line x1="150.90" y1="314.00" x2="145.50" y2="323.30" stroke="#74a3d8" stroke-width="1.35" stroke-linecap="round"/>
<line x1="161.70" y1="314.00" x2="167.10" y2="323.30" stroke="#74a3d8" stroke-width="1.35" stroke-linecap="round"/>
<line x1="5.10" y1="323.30" x2="15.90" y2="323.30" stroke="#74a3d8" stroke-width="1.35" stroke-linecap="round"/>
<line x1="15.90" y1="323.30" x2="21.30" y2="332.60" stroke="#74a3d8" stroke-width="1.35" stroke-linecap="round"/>
<line x1="37.50" y1="323.30" x2="48.30" y2="323.30" stroke="#74a3d8" stroke-width="1.35" stroke-linecap="round"/>
<line x1="37.50" y1="323.30" x2="32.10" y2="332.60" stroke="#74a3d8" stroke-width="1.35" stroke-linecap="round"/>
<line x1="48.30" y1="323.30" x2="53.70" y2="332.60" stroke="#74a3d8" stroke-width="1.35" stroke-linecap="round"/>
<line x1="69.90" y1="323.30" x2="80.70" y2="323.30" stroke="#74a3d8" stroke-width="1.35" stroke-linecap="round"/>
<line x1="69.90" y1="323.30" x2="64.50" y2="332.60" stroke="#74a3d8" stroke-width="1.35" stroke-linecap="round"/>
<line x1="80.70" y1="323.30" x2="86.10" y2="332.60" stroke="#74a3d8" stroke-width="1.35" stroke-linecap="round"/>
<line x1="102.30" y1="323.30" x2="113.10" y2="323.30" stroke="#74a3d8" stroke-width="1.35" stroke-linecap="round"/>
<line x1="102.30" y1="323.30" x2="96.90" y2="332.60" stroke="#74a3d8" stroke-width="1.35" stroke-linecap="round"/>
<line x1="113.10" y1="323.30" x2="118.50" y2="332.60" stroke="#74a3d8" stroke-width="1.35" stroke-linecap="round"/>
<line x1="134.70" y1="323.30" x2="145.50" y2="323.30" stroke="#74a3d8" stroke-width="1.35" stroke-linecap="round"/>
<line x1="134.70" y1="323.30" x2="129.30" y2="332.60" stroke="#74a3d8" stroke-width="1.35" stroke-linecap="round"/>
<line x1="145.50" y1="323.30" x2="150.90" y2="332.60" stroke="#74a3d8" stroke-width="1.35" stroke-linecap="round"/>
<line x1="167.10" y1="323.30" x2="177.90" y2="323.30" stroke="#74a3d8" stroke-width="1.35" stroke-linecap="round"/>
<line x1="167.10" y1="323.30" x2="161.70" y2="332.60" stroke="#74a3d8" stroke-width="1.35" stroke-linecap="round"/>
<line x1="21.30" y1="332.60" x2="32.10" y2="332.60" stroke="#74a3d8" stroke-width="1.35" stroke-linecap="round"/>
<line x1="21.30" y1="332.60" x2="15.90" y2="341.90" stroke="#74a3d8" stroke-width="1.35" stroke-linecap="round"/>
<line x1="32.10" y1="332.60" x2="37.50" y2="341.90" stroke="#74a3d8" stroke-width="1.35" stroke-linecap="round"/>
<line x1="53.70" y1="332.60" x2="64.50" y2="332.60" stroke="#74a3d8" stroke-width="1.35" stroke-linecap="round"/>
<line x1="53.70" y1="332.60" x2="48.30" y2="341.90" stroke="#74a3d8" stroke-width="1.35" stroke-linecap="round"/>
<line x1="64.50" y1="332.60" x2="69.90" y2="341.90" stroke="#74a3d8" stroke-width="1.35" stroke-linecap="round"/>
<line x1="86.10" y1="332.60" x2="96.90" y2="332.60" stroke="#74a3d8" stroke-width="1.35" stroke-linecap="round"/>
<line x1="86.10" y1="332.60" x2="80.70" y2="341.90" stroke="#74a3d8" stroke-width="1.35" stroke-linecap="round"/>
<line x1="96.90" y1="332.60" x2="102.30" y2="341.90" stroke="#74a3d8" stroke-width="1.35" stroke-linecap="round"/>
<line x1="118.50" y1="332.60" x2="129.30" y2="332.60" stroke="#74a3d8" stroke-width="1.35" stroke-linecap="round"/>
<line x1="118.50" y1="332.60" x2="113.10" y2="341.90" stroke="#74a3d8" stroke-width="1.35" stroke-linecap="round"/>
<line x1="129.30" y1="332.60" x2="134.70" y2="341.90" stroke="#74a3d8" stroke-width="1.35" stroke-linecap="round"/>
<line x1="150.90" y1="332.60" x2="161.70" y2="332.60" stroke="#74a3d8" stroke-width="1.35" stroke-linecap="round"/>
<line x1="150.90" y1="332.60" x2="145.50" y2="341.90" stroke="#74a3d8" stroke-width="1.35" stroke-linecap="round"/>
<line x1="161.70" y1="332.60" x2="167.10" y2="341.90" stroke="#74a3d8" stroke-width="1.35" stroke-linecap="round"/>
<line x1="5.10" y1="341.90" x2="15.90" y2="341.90" stroke="#74a3d8" stroke-width="1.35" stroke-linecap="round"/>
<line x1="15.90" y1="341.90" x2="21.30" y2="351.20" stroke="#74a3d8" stroke-width="1.35" stroke-linecap="round"/>
<line x1="37.50" y1="341.90" x2="48.30" y2="341.90" stroke="#74a3d8" stroke-width="1.35" stroke-linecap="round"/>
<line x1="37.50" y1="341.90" x2="32.10" y2="351.20" stroke="#74a3d8" stroke-width="1.35" stroke-linecap="round"/>
<line x1="48.30" y1="341.90" x2="53.70" y2="351.20" stroke="#74a3d8" stroke-width="1.35" stroke-linecap="round"/>
<line x1="69.90" y1="341.90" x2="80.70" y2="341.90" stroke="#74a3d8" stroke-width="1.35" stroke-linecap="round"/>
<line x1="69.90" y1="341.90" x2="64.50" y2="351.20" stroke="#74a3d8" stroke-width="1.35" stroke-linecap="round"/>
<line x1="80.70" y1="341.90" x2="86.10" y2="351.20" stroke="#74a3d8" stroke-width="1.35" stroke-linecap="round"/>
<line x1="102.30" y1="341.90" x2="113.10" y2="341.90" stroke="#74a3d8" stroke-width="1.35" stroke-linecap="round"/>
<line x1="102.30" y1="341.90" x2="96.90" y2="351.20" stroke="#74a3d8" stroke-width="1.35" stroke-linecap="round"/>
<line x1="113.10" y1="341.90" x2="118.50" y2="351.20" stroke="#74a3d8" stroke-width="1.35" stroke-linecap="round"/>
<line x1="134.70" y1="341.90" x2="145.50" y2="341.90" stroke="#74a3d8" stroke-width="1.35" stroke-linecap="round"/>
<line x1="134.70" y1="341.90" x2="129.30" y2="351.20" stroke="#74a3d8" stroke-width="1.35" stroke-linecap="round"/>
<line x1="145.50" y1="341.90" x2="150.90" y2="351.20" stroke="#74a3d8" stroke-width="1.35" stroke-linecap="round"/>
<line x1="167.10" y1="341.90" x2="177.90" y2="341.90" stroke="#74a3d8" stroke-width="1.35" stroke-linecap="round"/>
<line x1="167.10" y1="341.90" x2="161.70" y2="351.20" stroke="#74a3d8" stroke-width="1.35" stroke-linecap="round"/>
<line x1="21.30" y1="351.20" x2="32.10" y2="351.20" stroke="#74a3d8" stroke-width="1.35" stroke-linecap="round"/>
<line x1="53.70" y1="351.20" x2="64.50" y2="351.20" stroke="#74a3d8" stroke-width="1.35" stroke-linecap="round"/>
<line x1="86.10" y1="351.20" x2="96.90" y2="351.20" stroke="#74a3d8" stroke-width="1.35" stroke-linecap="round"/>
<line x1="118.50" y1="351.20" x2="129.30" y2="351.20" stroke="#74a3d8" stroke-width="1.35" stroke-linecap="round"/>
<line x1="150.90" y1="351.20" x2="161.70" y2="351.20" stroke="#74a3d8" stroke-width="1.35" stroke-linecap="round"/>
<circle cx="5.10" cy="286.10" r="2.20" fill="url(#gB)" stroke="#5683bf" stroke-width="0.35" />
<circle cx="15.90" cy="286.10" r="2.20" fill="url(#gB)" stroke="#5683bf" stroke-width="0.35" />
<circle cx="37.50" cy="286.10" r="2.20" fill="url(#gB)" stroke="#5683bf" stroke-width="0.35" />
<circle cx="48.30" cy="286.10" r="2.20" fill="url(#gB)" stroke="#5683bf" stroke-width="0.35" />
<circle cx="69.90" cy="286.10" r="2.20" fill="url(#gB)" stroke="#5683bf" stroke-width="0.35" />
<circle cx="80.70" cy="286.10" r="2.20" fill="url(#gB)" stroke="#5683bf" stroke-width="0.35" />
<circle cx="102.30" cy="286.10" r="2.20" fill="url(#gB)" stroke="#5683bf" stroke-width="0.35" />
<circle cx="113.10" cy="286.10" r="2.20" fill="url(#gB)" stroke="#5683bf" stroke-width="0.35" />
<circle cx="134.70" cy="286.10" r="2.20" fill="url(#gB)" stroke="#5683bf" stroke-width="0.35" />
<circle cx="145.50" cy="286.10" r="2.20" fill="url(#gB)" stroke="#5683bf" stroke-width="0.35" />
<circle cx="167.10" cy="286.10" r="2.20" fill="url(#gB)" stroke="#5683bf" stroke-width="0.35" />
<circle cx="177.90" cy="286.10" r="2.20" fill="url(#gB)" stroke="#5683bf" stroke-width="0.35" />
<circle cx="21.30" cy="295.40" r="2.20" fill="url(#gB)" stroke="#5683bf" stroke-width="0.35" />
<circle cx="32.10" cy="295.40" r="2.20" fill="url(#gB)" stroke="#5683bf" stroke-width="0.35" />
<circle cx="53.70" cy="295.40" r="2.20" fill="url(#gB)" stroke="#5683bf" stroke-width="0.35" />
<circle cx="64.50" cy="295.40" r="2.20" fill="url(#gB)" stroke="#5683bf" stroke-width="0.35" />
<circle cx="86.10" cy="295.40" r="2.20" fill="url(#gB)" stroke="#5683bf" stroke-width="0.35" />
<circle cx="96.90" cy="295.40" r="2.20" fill="url(#gB)" stroke="#5683bf" stroke-width="0.35" />
<circle cx="118.50" cy="295.40" r="2.20" fill="url(#gB)" stroke="#5683bf" stroke-width="0.35" />
<circle cx="129.30" cy="295.40" r="2.20" fill="url(#gB)" stroke="#5683bf" stroke-width="0.35" />
<circle cx="150.90" cy="295.40" r="2.20" fill="url(#gB)" stroke="#5683bf" stroke-width="0.35" />
<circle cx="161.70" cy="295.40" r="2.20" fill="url(#gB)" stroke="#5683bf" stroke-width="0.35" />
<circle cx="5.10" cy="304.70" r="2.20" fill="url(#gB)" stroke="#5683bf" stroke-width="0.35" />
<circle cx="15.90" cy="304.70" r="2.20" fill="url(#gB)" stroke="#5683bf" stroke-width="0.35" />
<circle cx="37.50" cy="304.70" r="2.20" fill="url(#gB)" stroke="#5683bf" stroke-width="0.35" />
<circle cx="48.30" cy="304.70" r="2.20" fill="url(#gB)" stroke="#5683bf" stroke-width="0.35" />
<circle cx="69.90" cy="304.70" r="2.20" fill="url(#gB)" stroke="#5683bf" stroke-width="0.35" />
<circle cx="80.70" cy="304.70" r="2.20" fill="url(#gB)" stroke="#5683bf" stroke-width="0.35" />
<circle cx="102.30" cy="304.70" r="2.20" fill="url(#gB)" stroke="#5683bf" stroke-width="0.35" />
<circle cx="113.10" cy="304.70" r="2.20" fill="url(#gB)" stroke="#5683bf" stroke-width="0.35" />
<circle cx="134.70" cy="304.70" r="2.20" fill="url(#gB)" stroke="#5683bf" stroke-width="0.35" />
<circle cx="145.50" cy="304.70" r="2.20" fill="url(#gB)" stroke="#5683bf" stroke-width="0.35" />
<circle cx="167.10" cy="304.70" r="2.20" fill="url(#gB)" stroke="#5683bf" stroke-width="0.35" />
<circle cx="177.90" cy="304.70" r="2.20" fill="url(#gB)" stroke="#5683bf" stroke-width="0.35" />
<circle cx="21.30" cy="314.00" r="2.20" fill="url(#gB)" stroke="#5683bf" stroke-width="0.35" />
<circle cx="32.10" cy="314.00" r="2.20" fill="url(#gB)" stroke="#5683bf" stroke-width="0.35" />
<circle cx="53.70" cy="314.00" r="2.20" fill="url(#gB)" stroke="#5683bf" stroke-width="0.35" />
<circle cx="64.50" cy="314.00" r="2.20" fill="url(#gB)" stroke="#5683bf" stroke-width="0.35" />
<circle cx="86.10" cy="314.00" r="2.20" fill="url(#gB)" stroke="#5683bf" stroke-width="0.35" />
<circle cx="100.00" cy="313.20" r="2.20" fill="url(#gR)" stroke="#b01010" stroke-width="0.35" />
<circle cx="118.50" cy="314.00" r="2.20" fill="url(#gB)" stroke="#5683bf" stroke-width="0.35" />
<circle cx="129.30" cy="314.00" r="2.20" fill="url(#gB)" stroke="#5683bf" stroke-width="0.35" />
<circle cx="150.90" cy="314.00" r="2.20" fill="url(#gB)" stroke="#5683bf" stroke-width="0.35" />
<circle cx="161.70" cy="314.00" r="2.20" fill="url(#gB)" stroke="#5683bf" stroke-width="0.35" />
<circle cx="5.10" cy="323.30" r="2.20" fill="url(#gB)" stroke="#5683bf" stroke-width="0.35" />
<circle cx="15.90" cy="323.30" r="2.20" fill="url(#gB)" stroke="#5683bf" stroke-width="0.35" />
<circle cx="37.50" cy="323.30" r="2.20" fill="url(#gB)" stroke="#5683bf" stroke-width="0.35" />
<circle cx="48.30" cy="323.30" r="2.20" fill="url(#gB)" stroke="#5683bf" stroke-width="0.35" />
<circle cx="69.90" cy="323.30" r="2.20" fill="url(#gB)" stroke="#5683bf" stroke-width="0.35" />
<circle cx="80.70" cy="323.30" r="2.20" fill="url(#gB)" stroke="#5683bf" stroke-width="0.35" />
<circle cx="102.30" cy="323.30" r="2.20" fill="url(#gB)" stroke="#5683bf" stroke-width="0.35" />
<circle cx="113.10" cy="323.30" r="2.20" fill="url(#gB)" stroke="#5683bf" stroke-width="0.35" />
<circle cx="134.70" cy="323.30" r="2.20" fill="url(#gB)" stroke="#5683bf" stroke-width="0.35" />
<circle cx="145.50" cy="323.30" r="2.20" fill="url(#gB)" stroke="#5683bf" stroke-width="0.35" />
<circle cx="167.10" cy="323.30" r="2.20" fill="url(#gB)" stroke="#5683bf" stroke-width="0.35" />
<circle cx="177.90" cy="323.30" r="2.20" fill="url(#gB)" stroke="#5683bf" stroke-width="0.35" />
<circle cx="21.30" cy="332.60" r="2.20" fill="url(#gB)" stroke="#5683bf" stroke-width="0.35" />
<circle cx="32.10" cy="332.60" r="2.20" fill="url(#gB)" stroke="#5683bf" stroke-width="0.35" />
<circle cx="53.70" cy="332.60" r="2.20" fill="url(#gB)" stroke="#5683bf" stroke-width="0.35" />
<circle cx="64.50" cy="332.60" r="2.20" fill="url(#gB)" stroke="#5683bf" stroke-width="0.35" />
<circle cx="86.10" cy="332.60" r="2.20" fill="url(#gB)" stroke="#5683bf" stroke-width="0.35" />
<circle cx="96.90" cy="332.60" r="2.20" fill="url(#gB)" stroke="#5683bf" stroke-width="0.35" />
<circle cx="118.50" cy="332.60" r="2.20" fill="url(#gB)" stroke="#5683bf" stroke-width="0.35" />
<circle cx="129.30" cy="332.60" r="2.20" fill="url(#gB)" stroke="#5683bf" stroke-width="0.35" />
<circle cx="150.90" cy="332.60" r="2.20" fill="url(#gB)" stroke="#5683bf" stroke-width="0.35" />
<circle cx="161.70" cy="332.60" r="2.20" fill="url(#gB)" stroke="#5683bf" stroke-width="0.35" />
<circle cx="5.10" cy="341.90" r="2.20" fill="url(#gB)" stroke="#5683bf" stroke-width="0.35" />
<circle cx="15.90" cy="341.90" r="2.20" fill="url(#gB)" stroke="#5683bf" stroke-width="0.35" />
<circle cx="37.50" cy="341.90" r="2.20" fill="url(#gB)" stroke="#5683bf" stroke-width="0.35" />
<circle cx="48.30" cy="341.90" r="2.20" fill="url(#gB)" stroke="#5683bf" stroke-width="0.35" />
<circle cx="69.90" cy="341.90" r="2.20" fill="url(#gB)" stroke="#5683bf" stroke-width="0.35" />
<circle cx="80.70" cy="341.90" r="2.20" fill="url(#gB)" stroke="#5683bf" stroke-width="0.35" />
<circle cx="102.30" cy="341.90" r="2.20" fill="url(#gB)" stroke="#5683bf" stroke-width="0.35" />
<circle cx="113.10" cy="341.90" r="2.20" fill="url(#gB)" stroke="#5683bf" stroke-width="0.35" />
<circle cx="134.70" cy="341.90" r="2.20" fill="url(#gB)" stroke="#5683bf" stroke-width="0.35" />
<circle cx="145.50" cy="341.90" r="2.20" fill="url(#gB)" stroke="#5683bf" stroke-width="0.35" />
<circle cx="167.10" cy="341.90" r="2.20" fill="url(#gB)" stroke="#5683bf" stroke-width="0.35" />
<circle cx="177.90" cy="341.90" r="2.20" fill="url(#gB)" stroke="#5683bf" stroke-width="0.35" />
<circle cx="21.30" cy="351.20" r="2.20" fill="url(#gB)" stroke="#5683bf" stroke-width="0.35" />
<circle cx="32.10" cy="351.20" r="2.20" fill="url(#gB)" stroke="#5683bf" stroke-width="0.35" />
<circle cx="53.70" cy="351.20" r="2.20" fill="url(#gB)" stroke="#5683bf" stroke-width="0.35" />
<circle cx="64.50" cy="351.20" r="2.20" fill="url(#gB)" stroke="#5683bf" stroke-width="0.35" />
<circle cx="86.10" cy="351.20" r="2.20" fill="url(#gB)" stroke="#5683bf" stroke-width="0.35" />
<circle cx="96.90" cy="351.20" r="2.20" fill="url(#gB)" stroke="#5683bf" stroke-width="0.35" />
<circle cx="118.50" cy="351.20" r="2.20" fill="url(#gB)" stroke="#5683bf" stroke-width="0.35" />
<circle cx="129.30" cy="351.20" r="2.20" fill="url(#gB)" stroke="#5683bf" stroke-width="0.35" />
<circle cx="150.90" cy="351.20" r="2.20" fill="url(#gB)" stroke="#5683bf" stroke-width="0.35" />
<circle cx="161.70" cy="351.20" r="2.20" fill="url(#gB)" stroke="#5683bf" stroke-width="0.35" />
<circle cx="79.00" cy="312.80" r="1.80" fill="url(#gR)" stroke="#b01010" stroke-width="0.35" />
<circle cx="80.20" cy="316.80" r="1.80" fill="url(#gR)" stroke="#b01010" stroke-width="0.35" />
<circle cx="82.80" cy="314.40" r="1.50" fill="url(#gG)" stroke="#20a028" stroke-width="0.35" />
</g>
<rect x="66.40" y="289.40" width="50.50" height="50.50" stroke="#262626" stroke-width="1.1" fill="none" />
<rect x="302.30" y="289.30" width="50.50" height="50.50" stroke="none" stroke-width="0" fill="#fff" />
<clipPath id="c5"><rect x="302.30" y="289.30" width="50.50" height="50.50"/></clipPath>
<g clip-path="url(#c5)">
<line x1="241.00" y1="286.00" x2="251.80" y2="286.00" stroke="#74a3d8" stroke-width="1.35" stroke-linecap="round"/>
<line x1="251.80" y1="286.00" x2="257.20" y2="295.30" stroke="#74a3d8" stroke-width="1.35" stroke-linecap="round"/>
<line x1="273.40" y1="286.00" x2="284.20" y2="286.00" stroke="#74a3d8" stroke-width="1.35" stroke-linecap="round"/>
<line x1="273.40" y1="286.00" x2="268.00" y2="295.30" stroke="#74a3d8" stroke-width="1.35" stroke-linecap="round"/>
<line x1="284.20" y1="286.00" x2="289.60" y2="295.30" stroke="#74a3d8" stroke-width="1.35" stroke-linecap="round"/>
<line x1="305.80" y1="286.00" x2="316.60" y2="286.00" stroke="#74a3d8" stroke-width="1.35" stroke-linecap="round"/>
<line x1="305.80" y1="286.00" x2="300.40" y2="295.30" stroke="#74a3d8" stroke-width="1.35" stroke-linecap="round"/>
<line x1="316.60" y1="286.00" x2="322.00" y2="295.30" stroke="#74a3d8" stroke-width="1.35" stroke-linecap="round"/>
<line x1="338.20" y1="286.00" x2="349.00" y2="286.00" stroke="#74a3d8" stroke-width="1.35" stroke-linecap="round"/>
<line x1="338.20" y1="286.00" x2="332.80" y2="295.30" stroke="#74a3d8" stroke-width="1.35" stroke-linecap="round"/>
<line x1="349.00" y1="286.00" x2="354.40" y2="295.30" stroke="#74a3d8" stroke-width="1.35" stroke-linecap="round"/>
<line x1="370.60" y1="286.00" x2="381.40" y2="286.00" stroke="#74a3d8" stroke-width="1.35" stroke-linecap="round"/>
<line x1="370.60" y1="286.00" x2="365.20" y2="295.30" stroke="#74a3d8" stroke-width="1.35" stroke-linecap="round"/>
<line x1="381.40" y1="286.00" x2="386.80" y2="295.30" stroke="#74a3d8" stroke-width="1.35" stroke-linecap="round"/>
<line x1="403.00" y1="286.00" x2="413.80" y2="286.00" stroke="#74a3d8" stroke-width="1.35" stroke-linecap="round"/>
<line x1="403.00" y1="286.00" x2="397.60" y2="295.30" stroke="#74a3d8" stroke-width="1.35" stroke-linecap="round"/>
<line x1="257.20" y1="295.30" x2="268.00" y2="295.30" stroke="#74a3d8" stroke-width="1.35" stroke-linecap="round"/>
<line x1="257.20" y1="295.30" x2="251.80" y2="304.60" stroke="#74a3d8" stroke-width="1.35" stroke-linecap="round"/>
<line x1="268.00" y1="295.30" x2="273.40" y2="304.60" stroke="#74a3d8" stroke-width="1.35" stroke-linecap="round"/>
<line x1="289.60" y1="295.30" x2="300.40" y2="295.30" stroke="#74a3d8" stroke-width="1.35" stroke-linecap="round"/>
<line x1="289.60" y1="295.30" x2="284.20" y2="304.60" stroke="#74a3d8" stroke-width="1.35" stroke-linecap="round"/>
<line x1="300.40" y1="295.30" x2="305.80" y2="304.60" stroke="#74a3d8" stroke-width="1.35" stroke-linecap="round"/>
<line x1="322.00" y1="295.30" x2="332.80" y2="295.30" stroke="#74a3d8" stroke-width="1.35" stroke-linecap="round"/>
<line x1="322.00" y1="295.30" x2="316.60" y2="304.60" stroke="#74a3d8" stroke-width="1.35" stroke-linecap="round"/>
<line x1="332.80" y1="295.30" x2="338.20" y2="304.60" stroke="#74a3d8" stroke-width="1.35" stroke-linecap="round"/>
<line x1="354.40" y1="295.30" x2="365.20" y2="295.30" stroke="#74a3d8" stroke-width="1.35" stroke-linecap="round"/>
<line x1="354.40" y1="295.30" x2="349.00" y2="304.60" stroke="#74a3d8" stroke-width="1.35" stroke-linecap="round"/>
<line x1="365.20" y1="295.30" x2="370.60" y2="304.60" stroke="#74a3d8" stroke-width="1.35" stroke-linecap="round"/>
<line x1="386.80" y1="295.30" x2="397.60" y2="295.30" stroke="#74a3d8" stroke-width="1.35" stroke-linecap="round"/>
<line x1="386.80" y1="295.30" x2="381.40" y2="304.60" stroke="#74a3d8" stroke-width="1.35" stroke-linecap="round"/>
<line x1="397.60" y1="295.30" x2="403.00" y2="304.60" stroke="#74a3d8" stroke-width="1.35" stroke-linecap="round"/>
<line x1="241.00" y1="304.60" x2="251.80" y2="304.60" stroke="#74a3d8" stroke-width="1.35" stroke-linecap="round"/>
<line x1="251.80" y1="304.60" x2="257.20" y2="313.90" stroke="#74a3d8" stroke-width="1.35" stroke-linecap="round"/>
<line x1="273.40" y1="304.60" x2="284.20" y2="304.60" stroke="#74a3d8" stroke-width="1.35" stroke-linecap="round"/>
<line x1="273.40" y1="304.60" x2="268.00" y2="313.90" stroke="#74a3d8" stroke-width="1.35" stroke-linecap="round"/>
<line x1="284.20" y1="304.60" x2="289.60" y2="313.90" stroke="#74a3d8" stroke-width="1.35" stroke-linecap="round"/>
<line x1="305.80" y1="304.60" x2="316.60" y2="304.60" stroke="#74a3d8" stroke-width="1.35" stroke-linecap="round"/>
<line x1="305.80" y1="304.60" x2="300.40" y2="313.90" stroke="#74a3d8" stroke-width="1.35" stroke-linecap="round"/>
<line x1="316.60" y1="304.60" x2="320.50" y2="314.40" stroke="#74a3d8" stroke-width="1.35" stroke-linecap="round"/>
<line x1="338.20" y1="304.60" x2="349.00" y2="304.60" stroke="#74a3d8" stroke-width="1.35" stroke-linecap="round"/>
<line x1="338.20" y1="304.60" x2="336.82" y2="310.48" stroke="#74a3d8" stroke-width="1.35" stroke-linecap="butt"/>
<line x1="336.82" y1="310.48" x2="335.90" y2="314.40" stroke="#e0282c" stroke-width="1.35" stroke-linecap="butt"/>
<line x1="349.00" y1="304.60" x2="354.40" y2="313.90" stroke="#74a3d8" stroke-width="1.35" stroke-linecap="round"/>
<line x1="370.60" y1="304.60" x2="381.40" y2="304.60" stroke="#74a3d8" stroke-width="1.35" stroke-linecap="round"/>
<line x1="370.60" y1="304.60" x2="365.20" y2="313.90" stroke="#74a3d8" stroke-width="1.35" stroke-linecap="round"/>
<line x1="381.40" y1="304.60" x2="386.80" y2="313.90" stroke="#74a3d8" stroke-width="1.35" stroke-linecap="round"/>
<line x1="403.00" y1="304.60" x2="413.80" y2="304.60" stroke="#74a3d8" stroke-width="1.35" stroke-linecap="round"/>
<line x1="403.00" y1="304.60" x2="397.60" y2="313.90" stroke="#74a3d8" stroke-width="1.35" stroke-linecap="round"/>
<line x1="257.20" y1="313.90" x2="268.00" y2="313.90" stroke="#74a3d8" stroke-width="1.35" stroke-linecap="round"/>
<line x1="257.20" y1="313.90" x2="251.80" y2="323.20" stroke="#74a3d8" stroke-width="1.35" stroke-linecap="round"/>
<line x1="268.00" y1="313.90" x2="273.40" y2="323.20" stroke="#74a3d8" stroke-width="1.35" stroke-linecap="round"/>
<line x1="289.60" y1="313.90" x2="300.40" y2="313.90" stroke="#74a3d8" stroke-width="1.35" stroke-linecap="round"/>
<line x1="289.60" y1="313.90" x2="284.20" y2="323.20" stroke="#74a3d8" stroke-width="1.35" stroke-linecap="round"/>
<line x1="300.40" y1="313.90" x2="305.80" y2="323.20" stroke="#74a3d8" stroke-width="1.35" stroke-linecap="round"/>
<line x1="320.50" y1="314.40" x2="329.74" y2="314.40" stroke="#74a3d8" stroke-width="1.35" stroke-linecap="butt"/>
<line x1="329.74" y1="314.40" x2="335.90" y2="314.40" stroke="#e0282c" stroke-width="1.35" stroke-linecap="butt"/>
<line x1="320.50" y1="314.40" x2="316.60" y2="323.20" stroke="#74a3d8" stroke-width="1.35" stroke-linecap="round"/>
<line x1="335.90" y1="314.40" x2="336.82" y2="317.92" stroke="#e0282c" stroke-width="1.35" stroke-linecap="butt"/>
<line x1="336.82" y1="317.92" x2="338.20" y2="323.20" stroke="#74a3d8" stroke-width="1.35" stroke-linecap="butt"/>
<line x1="354.40" y1="313.90" x2="365.20" y2="313.90" stroke="#74a3d8" stroke-width="1.35" stroke-linecap="round"/>
<line x1="354.40" y1="313.90" x2="349.00" y2="323.20" stroke="#74a3d8" stroke-width="1.35" stroke-linecap="round"/>
<line x1="365.20" y1="313.90" x2="370.60" y2="323.20" stroke="#74a3d8" stroke-width="1.35" stroke-linecap="round"/>
<line x1="386.80" y1="313.90" x2="397.60" y2="313.90" stroke="#74a3d8" stroke-width="1.35" stroke-linecap="round"/>
<line x1="386.80" y1="313.90" x2="381.40" y2="323.20" stroke="#74a3d8" stroke-width="1.35" stroke-linecap="round"/>
<line x1="397.60" y1="313.90" x2="403.00" y2="323.20" stroke="#74a3d8" stroke-width="1.35" stroke-linecap="round"/>
<line x1="241.00" y1="323.20" x2="251.80" y2="323.20" stroke="#74a3d8" stroke-width="1.35" stroke-linecap="round"/>
<line x1="251.80" y1="323.20" x2="257.20" y2="332.50" stroke="#74a3d8" stroke-width="1.35" stroke-linecap="round"/>
<line x1="273.40" y1="323.20" x2="284.20" y2="323.20" stroke="#74a3d8" stroke-width="1.35" stroke-linecap="round"/>
<line x1="273.40" y1="323.20" x2="268.00" y2="332.50" stroke="#74a3d8" stroke-width="1.35" stroke-linecap="round"/>
<line x1="284.20" y1="323.20" x2="289.60" y2="332.50" stroke="#74a3d8" stroke-width="1.35" stroke-linecap="round"/>
<line x1="305.80" y1="323.20" x2="316.60" y2="323.20" stroke="#74a3d8" stroke-width="1.35" stroke-linecap="round"/>
<line x1="305.80" y1="323.20" x2="300.40" y2="332.50" stroke="#74a3d8" stroke-width="1.35" stroke-linecap="round"/>
<line x1="316.60" y1="323.20" x2="322.00" y2="332.50" stroke="#74a3d8" stroke-width="1.35" stroke-linecap="round"/>
<line x1="338.20" y1="323.20" x2="349.00" y2="323.20" stroke="#74a3d8" stroke-width="1.35" stroke-linecap="round"/>
<line x1="338.20" y1="323.20" x2="332.80" y2="332.50" stroke="#74a3d8" stroke-width="1.35" stroke-linecap="round"/>
<line x1="349.00" y1="323.20" x2="354.40" y2="332.50" stroke="#74a3d8" stroke-width="1.35" stroke-linecap="round"/>
<line x1="370.60" y1="323.20" x2="381.40" y2="323.20" stroke="#74a3d8" stroke-width="1.35" stroke-linecap="round"/>
<line x1="370.60" y1="323.20" x2="365.20" y2="332.50" stroke="#74a3d8" stroke-width="1.35" stroke-linecap="round"/>
<line x1="381.40" y1="323.20" x2="386.80" y2="332.50" stroke="#74a3d8" stroke-width="1.35" stroke-linecap="round"/>
<line x1="403.00" y1="323.20" x2="413.80" y2="323.20" stroke="#74a3d8" stroke-width="1.35" stroke-linecap="round"/>
<line x1="403.00" y1="323.20" x2="397.60" y2="332.50" stroke="#74a3d8" stroke-width="1.35" stroke-linecap="round"/>
<line x1="257.20" y1="332.50" x2="268.00" y2="332.50" stroke="#74a3d8" stroke-width="1.35" stroke-linecap="round"/>
<line x1="257.20" y1="332.50" x2="251.80" y2="341.80" stroke="#74a3d8" stroke-width="1.35" stroke-linecap="round"/>
<line x1="268.00" y1="332.50" x2="273.40" y2="341.80" stroke="#74a3d8" stroke-width="1.35" stroke-linecap="round"/>
<line x1="289.60" y1="332.50" x2="300.40" y2="332.50" stroke="#74a3d8" stroke-width="1.35" stroke-linecap="round"/>
<line x1="289.60" y1="332.50" x2="284.20" y2="341.80" stroke="#74a3d8" stroke-width="1.35" stroke-linecap="round"/>
<line x1="300.40" y1="332.50" x2="305.80" y2="341.80" stroke="#74a3d8" stroke-width="1.35" stroke-linecap="round"/>
<line x1="322.00" y1="332.50" x2="332.80" y2="332.50" stroke="#74a3d8" stroke-width="1.35" stroke-linecap="round"/>
<line x1="322.00" y1="332.50" x2="316.60" y2="341.80" stroke="#74a3d8" stroke-width="1.35" stroke-linecap="round"/>
<line x1="332.80" y1="332.50" x2="338.20" y2="341.80" stroke="#74a3d8" stroke-width="1.35" stroke-linecap="round"/>
<line x1="354.40" y1="332.50" x2="365.20" y2="332.50" stroke="#74a3d8" stroke-width="1.35" stroke-linecap="round"/>
<line x1="354.40" y1="332.50" x2="349.00" y2="341.80" stroke="#74a3d8" stroke-width="1.35" stroke-linecap="round"/>
<line x1="365.20" y1="332.50" x2="370.60" y2="341.80" stroke="#74a3d8" stroke-width="1.35" stroke-linecap="round"/>
<line x1="386.80" y1="332.50" x2="397.60" y2="332.50" stroke="#74a3d8" stroke-width="1.35" stroke-linecap="round"/>
<line x1="386.80" y1="332.50" x2="381.40" y2="341.80" stroke="#74a3d8" stroke-width="1.35" stroke-linecap="round"/>
<line x1="397.60" y1="332.50" x2="403.00" y2="341.80" stroke="#74a3d8" stroke-width="1.35" stroke-linecap="round"/>
<line x1="241.00" y1="341.80" x2="251.80" y2="341.80" stroke="#74a3d8" stroke-width="1.35" stroke-linecap="round"/>
<line x1="251.80" y1="341.80" x2="257.20" y2="351.10" stroke="#74a3d8" stroke-width="1.35" stroke-linecap="round"/>
<line x1="273.40" y1="341.80" x2="284.20" y2="341.80" stroke="#74a3d8" stroke-width="1.35" stroke-linecap="round"/>
<line x1="273.40" y1="341.80" x2="268.00" y2="351.10" stroke="#74a3d8" stroke-width="1.35" stroke-linecap="round"/>
<line x1="284.20" y1="341.80" x2="289.60" y2="351.10" stroke="#74a3d8" stroke-width="1.35" stroke-linecap="round"/>
<line x1="305.80" y1="341.80" x2="316.60" y2="341.80" stroke="#74a3d8" stroke-width="1.35" stroke-linecap="round"/>
<line x1="305.80" y1="341.80" x2="300.40" y2="351.10" stroke="#74a3d8" stroke-width="1.35" stroke-linecap="round"/>
<line x1="316.60" y1="341.80" x2="322.00" y2="351.10" stroke="#74a3d8" stroke-width="1.35" stroke-linecap="round"/>
<line x1="338.20" y1="341.80" x2="349.00" y2="341.80" stroke="#74a3d8" stroke-width="1.35" stroke-linecap="round"/>
<line x1="338.20" y1="341.80" x2="332.80" y2="351.10" stroke="#74a3d8" stroke-width="1.35" stroke-linecap="round"/>
<line x1="349.00" y1="341.80" x2="354.40" y2="351.10" stroke="#74a3d8" stroke-width="1.35" stroke-linecap="round"/>
<line x1="370.60" y1="341.80" x2="381.40" y2="341.80" stroke="#74a3d8" stroke-width="1.35" stroke-linecap="round"/>
<line x1="370.60" y1="341.80" x2="365.20" y2="351.10" stroke="#74a3d8" stroke-width="1.35" stroke-linecap="round"/>
<line x1="381.40" y1="341.80" x2="386.80" y2="351.10" stroke="#74a3d8" stroke-width="1.35" stroke-linecap="round"/>
<line x1="403.00" y1="341.80" x2="413.80" y2="341.80" stroke="#74a3d8" stroke-width="1.35" stroke-linecap="round"/>
<line x1="403.00" y1="341.80" x2="397.60" y2="351.10" stroke="#74a3d8" stroke-width="1.35" stroke-linecap="round"/>
<line x1="257.20" y1="351.10" x2="268.00" y2="351.10" stroke="#74a3d8" stroke-width="1.35" stroke-linecap="round"/>
<line x1="289.60" y1="351.10" x2="300.40" y2="351.10" stroke="#74a3d8" stroke-width="1.35" stroke-linecap="round"/>
<line x1="322.00" y1="351.10" x2="332.80" y2="351.10" stroke="#74a3d8" stroke-width="1.35" stroke-linecap="round"/>
<line x1="354.40" y1="351.10" x2="365.20" y2="351.10" stroke="#74a3d8" stroke-width="1.35" stroke-linecap="round"/>
<line x1="386.80" y1="351.10" x2="397.60" y2="351.10" stroke="#74a3d8" stroke-width="1.35" stroke-linecap="round"/>
<circle cx="241.00" cy="286.00" r="2.20" fill="url(#gB)" stroke="#5683bf" stroke-width="0.35" />
<circle cx="251.80" cy="286.00" r="2.20" fill="url(#gB)" stroke="#5683bf" stroke-width="0.35" />
<circle cx="273.40" cy="286.00" r="2.20" fill="url(#gB)" stroke="#5683bf" stroke-width="0.35" />
<circle cx="284.20" cy="286.00" r="2.20" fill="url(#gB)" stroke="#5683bf" stroke-width="0.35" />
<circle cx="305.80" cy="286.00" r="2.20" fill="url(#gB)" stroke="#5683bf" stroke-width="0.35" />
<circle cx="316.60" cy="286.00" r="2.20" fill="url(#gB)" stroke="#5683bf" stroke-width="0.35" />
<circle cx="338.20" cy="286.00" r="2.20" fill="url(#gB)" stroke="#5683bf" stroke-width="0.35" />
<circle cx="349.00" cy="286.00" r="2.20" fill="url(#gB)" stroke="#5683bf" stroke-width="0.35" />
<circle cx="370.60" cy="286.00" r="2.20" fill="url(#gB)" stroke="#5683bf" stroke-width="0.35" />
<circle cx="381.40" cy="286.00" r="2.20" fill="url(#gB)" stroke="#5683bf" stroke-width="0.35" />
<circle cx="403.00" cy="286.00" r="2.20" fill="url(#gB)" stroke="#5683bf" stroke-width="0.35" />
<circle cx="413.80" cy="286.00" r="2.20" fill="url(#gB)" stroke="#5683bf" stroke-width="0.35" />
<circle cx="257.20" cy="295.30" r="2.20" fill="url(#gB)" stroke="#5683bf" stroke-width="0.35" />
<circle cx="268.00" cy="295.30" r="2.20" fill="url(#gB)" stroke="#5683bf" stroke-width="0.35" />
<circle cx="289.60" cy="295.30" r="2.20" fill="url(#gB)" stroke="#5683bf" stroke-width="0.35" />
<circle cx="300.40" cy="295.30" r="2.20" fill="url(#gB)" stroke="#5683bf" stroke-width="0.35" />
<circle cx="322.00" cy="295.30" r="2.20" fill="url(#gB)" stroke="#5683bf" stroke-width="0.35" />
<circle cx="332.80" cy="295.30" r="2.20" fill="url(#gB)" stroke="#5683bf" stroke-width="0.35" />
<circle cx="354.40" cy="295.30" r="2.20" fill="url(#gB)" stroke="#5683bf" stroke-width="0.35" />
<circle cx="365.20" cy="295.30" r="2.20" fill="url(#gB)" stroke="#5683bf" stroke-width="0.35" />
<circle cx="386.80" cy="295.30" r="2.20" fill="url(#gB)" stroke="#5683bf" stroke-width="0.35" />
<circle cx="397.60" cy="295.30" r="2.20" fill="url(#gB)" stroke="#5683bf" stroke-width="0.35" />
<circle cx="241.00" cy="304.60" r="2.20" fill="url(#gB)" stroke="#5683bf" stroke-width="0.35" />
<circle cx="251.80" cy="304.60" r="2.20" fill="url(#gB)" stroke="#5683bf" stroke-width="0.35" />
<circle cx="273.40" cy="304.60" r="2.20" fill="url(#gB)" stroke="#5683bf" stroke-width="0.35" />
<circle cx="284.20" cy="304.60" r="2.20" fill="url(#gB)" stroke="#5683bf" stroke-width="0.35" />
<circle cx="305.80" cy="304.60" r="2.20" fill="url(#gB)" stroke="#5683bf" stroke-width="0.35" />
<circle cx="316.60" cy="304.60" r="2.20" fill="url(#gB)" stroke="#5683bf" stroke-width="0.35" />
<circle cx="338.20" cy="304.60" r="2.20" fill="url(#gB)" stroke="#5683bf" stroke-width="0.35" />
<circle cx="349.00" cy="304.60" r="2.20" fill="url(#gB)" stroke="#5683bf" stroke-width="0.35" />
<circle cx="370.60" cy="304.60" r="2.20" fill="url(#gB)" stroke="#5683bf" stroke-width="0.35" />
<circle cx="381.40" cy="304.60" r="2.20" fill="url(#gB)" stroke="#5683bf" stroke-width="0.35" />
<circle cx="403.00" cy="304.60" r="2.20" fill="url(#gB)" stroke="#5683bf" stroke-width="0.35" />
<circle cx="413.80" cy="304.60" r="2.20" fill="url(#gB)" stroke="#5683bf" stroke-width="0.35" />
<circle cx="257.20" cy="313.90" r="2.20" fill="url(#gB)" stroke="#5683bf" stroke-width="0.35" />
<circle cx="268.00" cy="313.90" r="2.20" fill="url(#gB)" stroke="#5683bf" stroke-width="0.35" />
<circle cx="289.60" cy="313.90" r="2.20" fill="url(#gB)" stroke="#5683bf" stroke-width="0.35" />
<circle cx="300.40" cy="313.90" r="2.20" fill="url(#gB)" stroke="#5683bf" stroke-width="0.35" />
<circle cx="320.50" cy="314.40" r="2.20" fill="url(#gR)" stroke="#b01010" stroke-width="0.35" />
<circle cx="335.90" cy="314.40" r="2.20" fill="url(#gR)" stroke="#b01010" stroke-width="0.35" />
<circle cx="354.40" cy="313.90" r="2.20" fill="url(#gB)" stroke="#5683bf" stroke-width="0.35" />
<circle cx="365.20" cy="313.90" r="2.20" fill="url(#gB)" stroke="#5683bf" stroke-width="0.35" />
<circle cx="386.80" cy="313.90" r="2.20" fill="url(#gB)" stroke="#5683bf" stroke-width="0.35" />
<circle cx="397.60" cy="313.90" r="2.20" fill="url(#gB)" stroke="#5683bf" stroke-width="0.35" />
<circle cx="241.00" cy="323.20" r="2.20" fill="url(#gB)" stroke="#5683bf" stroke-width="0.35" />
<circle cx="251.80" cy="323.20" r="2.20" fill="url(#gB)" stroke="#5683bf" stroke-width="0.35" />
<circle cx="273.40" cy="323.20" r="2.20" fill="url(#gB)" stroke="#5683bf" stroke-width="0.35" />
<circle cx="284.20" cy="323.20" r="2.20" fill="url(#gB)" stroke="#5683bf" stroke-width="0.35" />
<circle cx="305.80" cy="323.20" r="2.20" fill="url(#gB)" stroke="#5683bf" stroke-width="0.35" />
<circle cx="316.60" cy="323.20" r="2.20" fill="url(#gB)" stroke="#5683bf" stroke-width="0.35" />
<circle cx="338.20" cy="323.20" r="2.20" fill="url(#gB)" stroke="#5683bf" stroke-width="0.35" />
<circle cx="349.00" cy="323.20" r="2.20" fill="url(#gB)" stroke="#5683bf" stroke-width="0.35" />
<circle cx="370.60" cy="323.20" r="2.20" fill="url(#gB)" stroke="#5683bf" stroke-width="0.35" />
<circle cx="381.40" cy="323.20" r="2.20" fill="url(#gB)" stroke="#5683bf" stroke-width="0.35" />
<circle cx="403.00" cy="323.20" r="2.20" fill="url(#gB)" stroke="#5683bf" stroke-width="0.35" />
<circle cx="413.80" cy="323.20" r="2.20" fill="url(#gB)" stroke="#5683bf" stroke-width="0.35" />
<circle cx="257.20" cy="332.50" r="2.20" fill="url(#gB)" stroke="#5683bf" stroke-width="0.35" />
<circle cx="268.00" cy="332.50" r="2.20" fill="url(#gB)" stroke="#5683bf" stroke-width="0.35" />
<circle cx="289.60" cy="332.50" r="2.20" fill="url(#gB)" stroke="#5683bf" stroke-width="0.35" />
<circle cx="300.40" cy="332.50" r="2.20" fill="url(#gB)" stroke="#5683bf" stroke-width="0.35" />
<circle cx="322.00" cy="332.50" r="2.20" fill="url(#gB)" stroke="#5683bf" stroke-width="0.35" />
<circle cx="332.80" cy="332.50" r="2.20" fill="url(#gB)" stroke="#5683bf" stroke-width="0.35" />
<circle cx="354.40" cy="332.50" r="2.20" fill="url(#gB)" stroke="#5683bf" stroke-width="0.35" />
<circle cx="365.20" cy="332.50" r="2.20" fill="url(#gB)" stroke="#5683bf" stroke-width="0.35" />
<circle cx="386.80" cy="332.50" r="2.20" fill="url(#gB)" stroke="#5683bf" stroke-width="0.35" />
<circle cx="397.60" cy="332.50" r="2.20" fill="url(#gB)" stroke="#5683bf" stroke-width="0.35" />
<circle cx="241.00" cy="341.80" r="2.20" fill="url(#gB)" stroke="#5683bf" stroke-width="0.35" />
<circle cx="251.80" cy="341.80" r="2.20" fill="url(#gB)" stroke="#5683bf" stroke-width="0.35" />
<circle cx="273.40" cy="341.80" r="2.20" fill="url(#gB)" stroke="#5683bf" stroke-width="0.35" />
<circle cx="284.20" cy="341.80" r="2.20" fill="url(#gB)" stroke="#5683bf" stroke-width="0.35" />
<circle cx="305.80" cy="341.80" r="2.20" fill="url(#gB)" stroke="#5683bf" stroke-width="0.35" />
<circle cx="316.60" cy="341.80" r="2.20" fill="url(#gB)" stroke="#5683bf" stroke-width="0.35" />
<circle cx="338.20" cy="341.80" r="2.20" fill="url(#gB)" stroke="#5683bf" stroke-width="0.35" />
<circle cx="349.00" cy="341.80" r="2.20" fill="url(#gB)" stroke="#5683bf" stroke-width="0.35" />
<circle cx="370.60" cy="341.80" r="2.20" fill="url(#gB)" stroke="#5683bf" stroke-width="0.35" />
<circle cx="381.40" cy="341.80" r="2.20" fill="url(#gB)" stroke="#5683bf" stroke-width="0.35" />
<circle cx="403.00" cy="341.80" r="2.20" fill="url(#gB)" stroke="#5683bf" stroke-width="0.35" />
<circle cx="413.80" cy="341.80" r="2.20" fill="url(#gB)" stroke="#5683bf" stroke-width="0.35" />
<circle cx="257.20" cy="351.10" r="2.20" fill="url(#gB)" stroke="#5683bf" stroke-width="0.35" />
<circle cx="268.00" cy="351.10" r="2.20" fill="url(#gB)" stroke="#5683bf" stroke-width="0.35" />
<circle cx="289.60" cy="351.10" r="2.20" fill="url(#gB)" stroke="#5683bf" stroke-width="0.35" />
<circle cx="300.40" cy="351.10" r="2.20" fill="url(#gB)" stroke="#5683bf" stroke-width="0.35" />
<circle cx="322.00" cy="351.10" r="2.20" fill="url(#gB)" stroke="#5683bf" stroke-width="0.35" />
<circle cx="332.80" cy="351.10" r="2.20" fill="url(#gB)" stroke="#5683bf" stroke-width="0.35" />
<circle cx="354.40" cy="351.10" r="2.20" fill="url(#gB)" stroke="#5683bf" stroke-width="0.35" />
<circle cx="365.20" cy="351.10" r="2.20" fill="url(#gB)" stroke="#5683bf" stroke-width="0.35" />
<circle cx="386.80" cy="351.10" r="2.20" fill="url(#gB)" stroke="#5683bf" stroke-width="0.35" />
<circle cx="397.60" cy="351.10" r="2.20" fill="url(#gB)" stroke="#5683bf" stroke-width="0.35" />
</g>
<rect x="302.30" y="289.30" width="50.50" height="50.50" stroke="#262626" stroke-width="1.1" fill="none" />
<path d="M259.40,41.90 C259.33,43.83 258.15,49.55 259.00,53.50 C259.85,57.45 261.82,62.42 264.50,65.60 C267.18,68.78 271.45,71.22 275.10,72.60 C278.75,73.98 282.65,74.13 286.40,73.90 C290.15,73.67 294.30,72.35 297.60,71.20 C300.90,70.05 304.77,67.70 306.20,67.00" stroke="#1a1a1a" stroke-width="1.0" fill="none" />
<path d="M306.20,67.00 L303.56,70.27 L303.94,68.11 L302.00,67.08 Z" fill="#1a1a1a"/>
<text x="252.30" y="32.60" font-size="13.5" text-anchor="start" fill="#0a0a0a" font-family="'Liberation Sans', sans-serif" >H</text>
<text x="262.05" y="35.98" font-size="8.775" text-anchor="start" fill="#0a0a0a" font-family="'Liberation Sans', sans-serif" >2</text>
<text x="266.93" y="32.60" font-size="13.5" text-anchor="start" fill="#0a0a0a" font-family="'Liberation Sans', sans-serif" >O</text>
<text x="307.00" y="64.50" font-size="13.5" text-anchor="start" fill="#0a0a0a" font-family="'Liberation Sans', sans-serif" >H</text>
<text x="316.75" y="60.05" font-size="9.719999999999999" text-anchor="start" fill="#0a0a0a" font-family="'Liberation Sans', sans-serif" >-</text>
<text x="319.99" y="64.50" font-size="13.5" text-anchor="start" fill="#0a0a0a" font-family="'Liberation Sans', sans-serif" >+</text>
<text x="327.87" y="64.50" font-size="13.5" text-anchor="start" fill="#0a0a0a" font-family="'Liberation Sans', sans-serif" >e</text>
<text x="335.38" y="60.05" font-size="9.719999999999999" text-anchor="start" fill="#0a0a0a" font-family="'Liberation Sans', sans-serif" >-</text>
<path d="M366.60,191.00 C364.23,191.30 356.58,190.97 352.40,192.80 C348.22,194.63 343.93,198.33 341.50,202.00 C339.07,205.67 337.95,210.38 337.80,214.80 C337.65,219.22 338.70,224.17 340.60,228.50 C342.50,232.83 347.77,238.75 349.20,240.80" stroke="#1a1a1a" stroke-width="1.0" fill="none" />
<path d="M349.20,240.80 L345.56,238.70 L347.76,238.73 L348.47,236.66 Z" fill="#1a1a1a"/>
<text x="351.50" y="255.50" font-size="13.5" text-anchor="start" fill="#0a0a0a" font-family="'Liberation Sans', sans-serif" >H</text>
<text x="361.25" y="251.04" font-size="9.719999999999999" text-anchor="start" fill="#0a0a0a" font-family="'Liberation Sans', sans-serif" >-</text>
<text x="364.49" y="255.50" font-size="13.5" text-anchor="start" fill="#0a0a0a" font-family="'Liberation Sans', sans-serif" >+</text>
<text x="372.37" y="255.50" font-size="13.5" text-anchor="start" fill="#0a0a0a" font-family="'Liberation Sans', sans-serif" >e</text>
<text x="379.88" y="251.04" font-size="9.719999999999999" text-anchor="start" fill="#0a0a0a" font-family="'Liberation Sans', sans-serif" >-</text>
<path d="M223.50,336.80 C222.83,334.75 221.83,327.92 219.50,324.50 C217.17,321.08 212.98,317.88 209.50,316.30 C206.02,314.72 202.43,314.80 198.60,315.00 C194.77,315.20 190.18,315.83 186.50,317.50 C182.82,319.17 179.25,322.28 176.50,325.00 C173.75,327.72 171.08,332.33 170.00,333.80" stroke="#1a1a1a" stroke-width="1.0" fill="none" />
<path d="M170.00,333.80 L170.83,329.68 L171.50,331.77 L173.69,331.79 Z" fill="#1a1a1a"/>
<text x="149.30" y="352.90" font-size="13.5" text-anchor="start" fill="#0a0a0a" font-family="'Liberation Sans', sans-serif" >H</text>
<text x="159.05" y="348.44" font-size="9.719999999999999" text-anchor="start" fill="#0a0a0a" font-family="'Liberation Sans', sans-serif" >-</text>
<text x="162.29" y="352.90" font-size="13.5" text-anchor="start" fill="#0a0a0a" font-family="'Liberation Sans', sans-serif" >+</text>
<text x="170.17" y="352.90" font-size="13.5" text-anchor="start" fill="#0a0a0a" font-family="'Liberation Sans', sans-serif" >e</text>
<text x="177.68" y="348.44" font-size="9.719999999999999" text-anchor="start" fill="#0a0a0a" font-family="'Liberation Sans', sans-serif" >-</text>
<text x="211.90" y="352.90" font-size="13.5" text-anchor="start" fill="#0a0a0a" font-family="'Liberation Sans', sans-serif" >H</text>
<text x="221.65" y="356.27" font-size="8.775" text-anchor="start" fill="#0a0a0a" font-family="'Liberation Sans', sans-serif" >2</text>
<text x="226.53" y="352.90" font-size="13.5" text-anchor="start" fill="#0a0a0a" font-family="'Liberation Sans', sans-serif" >O</text>
<path d="M60.30,264.50 C61.50,262.92 65.72,258.58 67.50,255.00 C69.28,251.42 70.60,246.67 71.00,243.00 C71.40,239.33 71.20,236.28 69.90,233.00 C68.60,229.72 66.27,225.97 63.20,223.30 C60.13,220.63 55.27,218.35 51.50,217.00 C47.73,215.65 42.42,215.50 40.60,215.20" stroke="#1a1a1a" stroke-width="1.0" fill="none" />
<path d="M40.60,215.20 L44.64,214.07 L43.09,215.61 L44.07,217.57 Z" fill="#1a1a1a"/>
<text x="5.60" y="225.60" font-size="13.5" text-anchor="start" fill="#0a0a0a" font-family="'Liberation Sans', sans-serif" >H</text>
<text x="15.35" y="221.14" font-size="9.719999999999999" text-anchor="start" fill="#0a0a0a" font-family="'Liberation Sans', sans-serif" >-</text>
<text x="18.59" y="225.60" font-size="13.5" text-anchor="start" fill="#0a0a0a" font-family="'Liberation Sans', sans-serif" >+</text>
<text x="26.47" y="225.60" font-size="13.5" text-anchor="start" fill="#0a0a0a" font-family="'Liberation Sans', sans-serif" >e</text>
<text x="33.98" y="221.14" font-size="9.719999999999999" text-anchor="start" fill="#0a0a0a" font-family="'Liberation Sans', sans-serif" >-</text>
<ellipse cx="597" cy="184" rx="141" ry="132" fill="none" stroke="#1a1a1a" stroke-width="1.05"/>
<rect x="480.00" y="90.00" width="237.00" height="204.00" stroke="none" stroke-width="0" fill="#fff" />
<rect x="521.80" y="91.70" width="194.80" height="180.50" stroke="none" stroke-width="0" fill="#fff" />
<path d="M521.80,123.00 L560.50,123.00 L560.50,133.53 L599.70,133.53 L599.70,178.95 L638.50,178.95 L638.50,187.68 L677.50,187.68 L677.50,197.00 L716.60,197.00" stroke="#f01e1e" stroke-width="1.25" fill="none" />
<path d="M521.80,197.00 L560.50,197.00 L560.50,189.03 L599.70,189.03 L599.70,215.95 L638.50,215.95 L638.50,206.17 L677.50,206.17 L677.50,197.00 L716.60,197.00" stroke="#1f8a1f" stroke-width="1.25" fill="none" />
<path d="M521.80,157.90 L560.50,157.90 L560.50,159.70 L599.70,159.70 L599.70,196.40 L638.50,196.40 L638.50,196.40 L677.50,196.40 L677.50,197.00 L716.60,197.00" stroke="#1f24f0" stroke-width="1.25" fill="none" />
<line x1="521.80" y1="257.16" x2="529.00" y2="257.16" stroke="#2a2a2a" stroke-width="1.1" />
<line x1="716.60" y1="257.16" x2="709.40" y2="257.16" stroke="#2a2a2a" stroke-width="1.1" />
<text x="513.40" y="261.23" font-size="11.3" text-anchor="end" fill="#111" font-family="'Liberation Sans', sans-serif" >-4</text>
<line x1="521.80" y1="242.12" x2="525.80" y2="242.12" stroke="#2a2a2a" stroke-width="1.1" />
<line x1="716.60" y1="242.12" x2="712.60" y2="242.12" stroke="#2a2a2a" stroke-width="1.1" />
<line x1="521.80" y1="227.08" x2="529.00" y2="227.08" stroke="#2a2a2a" stroke-width="1.1" />
<line x1="716.60" y1="227.08" x2="709.40" y2="227.08" stroke="#2a2a2a" stroke-width="1.1" />
<text x="513.40" y="231.15" font-size="11.3" text-anchor="end" fill="#111" font-family="'Liberation Sans', sans-serif" >-2</text>
<line x1="521.80" y1="212.04" x2="525.80" y2="212.04" stroke="#2a2a2a" stroke-width="1.1" />
<line x1="716.60" y1="212.04" x2="712.60" y2="212.04" stroke="#2a2a2a" stroke-width="1.1" />
<line x1="521.80" y1="197.00" x2="529.00" y2="197.00" stroke="#2a2a2a" stroke-width="1.1" />
<line x1="716.60" y1="197.00" x2="709.40" y2="197.00" stroke="#2a2a2a" stroke-width="1.1" />
<text x="513.40" y="201.07" font-size="11.3" text-anchor="end" fill="#111" font-family="'Liberation Sans', sans-serif" >0</text>
<line x1="521.80" y1="181.96" x2="525.80" y2="181.96" stroke="#2a2a2a" stroke-width="1.1" />
<line x1="716.60" y1="181.96" x2="712.60" y2="181.96" stroke="#2a2a2a" stroke-width="1.1" />
<line x1="521.80" y1="166.92" x2="529.00" y2="166.92" stroke="#2a2a2a" stroke-width="1.1" />
<line x1="716.60" y1="166.92" x2="709.40" y2="166.92" stroke="#2a2a2a" stroke-width="1.1" />
<text x="513.40" y="170.99" font-size="11.3" text-anchor="end" fill="#111" font-family="'Liberation Sans', sans-serif" >2</text>
<line x1="521.80" y1="151.88" x2="525.80" y2="151.88" stroke="#2a2a2a" stroke-width="1.1" />
<line x1="716.60" y1="151.88" x2="712.60" y2="151.88" stroke="#2a2a2a" stroke-width="1.1" />
<line x1="521.80" y1="136.84" x2="529.00" y2="136.84" stroke="#2a2a2a" stroke-width="1.1" />
<line x1="716.60" y1="136.84" x2="709.40" y2="136.84" stroke="#2a2a2a" stroke-width="1.1" />
<text x="513.40" y="140.91" font-size="11.3" text-anchor="end" fill="#111" font-family="'Liberation Sans', sans-serif" >4</text>
<line x1="521.80" y1="121.80" x2="525.80" y2="121.80" stroke="#2a2a2a" stroke-width="1.1" />
<line x1="716.60" y1="121.80" x2="712.60" y2="121.80" stroke="#2a2a2a" stroke-width="1.1" />
<line x1="521.80" y1="106.76" x2="529.00" y2="106.76" stroke="#2a2a2a" stroke-width="1.1" />
<line x1="716.60" y1="106.76" x2="709.40" y2="106.76" stroke="#2a2a2a" stroke-width="1.1" />
<text x="513.40" y="110.83" font-size="11.3" text-anchor="end" fill="#111" font-family="'Liberation Sans', sans-serif" >6</text>
<rect x="521.80" y="91.70" width="194.80" height="180.50" stroke="#1e1e1e" stroke-width="1.3" fill="none" />
<rect x="652.70" y="98.80" width="54.90" height="43.50" stroke="#707070" stroke-width="1.0" fill="#fff" />
<text x="657.40" y="110.80" font-size="10.35" text-anchor="start" fill="#f01e1e" font-family="'Liberation Sans', sans-serif" >U= 0 V</text>
<text x="657.40" y="123.80" font-size="10.35" text-anchor="start" fill="#1f24f0" font-family="'Liberation Sans', sans-serif" >U= 0.58 V</text>
<text x="657.40" y="136.80" font-size="10.35" text-anchor="start" fill="#1f8a1f" font-family="'Liberation Sans', sans-serif" >U= 1.23 V</text>
<text x="525.90" y="118.10" font-size="9.2" text-anchor="start" fill="#111" font-family="'Liberation Sans', sans-serif" >O</text>
<text x="533.06" y="120.86" font-size="6.256" text-anchor="start" fill="#111" font-family="'Liberation Sans', sans-serif" >2</text>
<text x="536.54" y="118.10" font-size="9.2" text-anchor="start" fill="#111" font-family="'Liberation Sans', sans-serif" >(g)+*</text>
<text x="566.50" y="130.10" font-size="9.2" text-anchor="start" fill="#111" font-family="'Liberation Sans', sans-serif" >OOH*</text>
<text x="612.00" y="174.90" font-size="9.2" text-anchor="start" fill="#111" font-family="'Liberation Sans', sans-serif" >O*</text>
<text x="648.60" y="184.00" font-size="9.2" text-anchor="start" fill="#111" font-family="'Liberation Sans', sans-serif" >OH*</text>
<text x="673.90" y="184.00" font-size="9.2" text-anchor="start" fill="#111" font-family="'Liberation Sans', sans-serif" >2H</text>
<text x="685.66" y="186.76" font-size="6.256" text-anchor="start" fill="#111" font-family="'Liberation Sans', sans-serif" >2</text>
<text x="689.14" y="184.00" font-size="9.2" text-anchor="start" fill="#111" font-family="'Liberation Sans', sans-serif" >O(l)+*</text>
<text x="642.40" y="216.70" font-size="10.6" text-anchor="start" fill="#1f8a1f" font-family="'Liberation Sans', sans-serif" >0.65 eV</text>
<text x="557.60" y="288.90" font-size="13.85" text-anchor="start" fill="#111" font-family="'Liberation Sans', sans-serif" >Reaction Coordinate</text>
<text transform="translate(496.20,182.20) rotate(-90)" x="0" y="0" font-size="13.85" text-anchor="middle" fill="#111" font-family="'Liberation Sans', sans-serif">Free energy (eV)</text>
<text x="408.50" y="15.40" font-size="19" text-anchor="start" fill="#111" font-family="'Liberation Serif', serif" >(b)</text>
<rect x="572.20" y="6.20" width="50.50" height="50.50" stroke="none" stroke-width="0" fill="#fff" />
<clipPath id="c6"><rect x="572.20" y="6.20" width="50.50" height="50.50"/></clipPath>
<g clip-path="url(#c6)">
<line x1="593.80" y1="15.30" x2="604.10" y2="19.80" stroke="#e0282c" stroke-width="1.4" stroke-linecap="round"/>
<line x1="582.00" y1="34.70" x2="593.80" y2="34.70" stroke="#d8780e" stroke-width="2.8" stroke-linecap="round"/>
<line x1="582.00" y1="34.70" x2="593.80" y2="34.70" stroke="#f5a447" stroke-width="0.9799999999999999" stroke-linecap="round" stroke-dasharray="0.8 1.2"/>
<line x1="612.00" y1="34.70" x2="621.70" y2="34.70" stroke="#d8780e" stroke-width="2.8" stroke-linecap="round"/>
<line x1="612.00" y1="34.70" x2="621.70" y2="34.70" stroke="#f5a447" stroke-width="0.9799999999999999" stroke-linecap="round" stroke-dasharray="0.8 1.2"/>
<line x1="597.20" y1="50.50" x2="608.60" y2="50.50" stroke="#d8780e" stroke-width="2.8" stroke-linecap="round"/>
<line x1="597.20" y1="50.50" x2="608.60" y2="50.50" stroke="#f5a447" stroke-width="0.9799999999999999" stroke-linecap="round" stroke-dasharray="0.8 1.2"/>
<line x1="567.20" y1="50.50" x2="579.00" y2="50.50" stroke="#d8780e" stroke-width="2.8" stroke-linecap="round"/>
<line x1="567.20" y1="50.50" x2="579.00" y2="50.50" stroke="#f5a447" stroke-width="0.9799999999999999" stroke-linecap="round" stroke-dasharray="0.8 1.2"/>
<line x1="579.00" y1="50.50" x2="582.00" y2="34.70" stroke="#d8780e" stroke-width="2.8" stroke-linecap="round"/>
<line x1="579.00" y1="50.50" x2="582.00" y2="34.70" stroke="#f5a447" stroke-width="0.9799999999999999" stroke-linecap="round" stroke-dasharray="0.8 1.2"/>
<line x1="593.80" y1="34.70" x2="597.20" y2="50.50" stroke="#d8780e" stroke-width="2.8" stroke-linecap="round"/>
<line x1="593.80" y1="34.70" x2="597.20" y2="50.50" stroke="#f5a447" stroke-width="0.9799999999999999" stroke-linecap="round" stroke-dasharray="0.8 1.2"/>
<line x1="608.60" y1="50.50" x2="612.00" y2="34.70" stroke="#d8780e" stroke-width="2.8" stroke-linecap="round"/>
<line x1="608.60" y1="50.50" x2="612.00" y2="34.70" stroke="#f5a447" stroke-width="0.9799999999999999" stroke-linecap="round" stroke-dasharray="0.8 1.2"/>
<line x1="621.70" y1="34.70" x2="628.70" y2="34.70" stroke="#d8780e" stroke-width="2.8" stroke-linecap="round"/>
<line x1="621.70" y1="34.70" x2="628.70" y2="34.70" stroke="#f5a447" stroke-width="0.9799999999999999" stroke-linecap="round" stroke-dasharray="0.8 1.2"/>
<circle cx="587.90" cy="35.10" r="1.90" fill="url(#gR)" stroke="#b01010" stroke-width="0.35" />
<circle cx="603.10" cy="50.50" r="1.90" fill="url(#gR)" stroke="#b01010" stroke-width="0.35" />
<circle cx="582.00" cy="34.70" r="2.80" fill="url(#gO)" stroke="#b05a00" stroke-width="0.35" />
<circle cx="593.80" cy="34.70" r="2.80" fill="url(#gO)" stroke="#b05a00" stroke-width="0.35" />
<circle cx="612.00" cy="34.70" r="2.80" fill="url(#gO)" stroke="#b05a00" stroke-width="0.35" />
<circle cx="621.70" cy="34.70" r="2.80" fill="url(#gO)" stroke="#b05a00" stroke-width="0.35" />
<circle cx="579.00" cy="50.50" r="2.80" fill="url(#gO)" stroke="#b05a00" stroke-width="0.35" />
<circle cx="597.20" cy="50.50" r="2.80" fill="url(#gO)" stroke="#b05a00" stroke-width="0.35" />
<circle cx="608.60" cy="50.50" r="2.80" fill="url(#gO)" stroke="#b05a00" stroke-width="0.35" />
<circle cx="593.80" cy="15.30" r="2.30" fill="url(#gR)" stroke="#b01010" stroke-width="0.35" />
<circle cx="604.10" cy="19.80" r="2.30" fill="url(#gR)" stroke="#b01010" stroke-width="0.35" />
</g>
<rect x="572.20" y="6.20" width="50.50" height="50.50" stroke="#262626" stroke-width="1.1" fill="none" />
<rect x="577.10" y="66.40" width="41.10" height="22.60" stroke="#1a1a1a" stroke-width="1.0" fill="#fff" />
<text x="579.70" y="82.00" font-size="13.5" text-anchor="start" fill="#111" font-family="'Liberation Sans', sans-serif" >b-As</text>
<text x="607.86" y="75.00" font-size="6.6" text-anchor="start" fill="#555" font-family="'Liberation Sans', sans-serif" >2</text>
<text x="607.06" y="85.60" font-size="7.6" text-anchor="start" fill="#555" font-family="'Liberation Sans', sans-serif" >O</text>
<rect x="423.30" y="137.20" width="50.50" height="50.50" stroke="none" stroke-width="0" fill="#fff" />
<clipPath id="c7"><rect x="423.30" y="137.20" width="50.50" height="50.50"/></clipPath>
<g clip-path="url(#c7)">
<line x1="430.70" y1="164.70" x2="442.20" y2="164.70" stroke="#d8780e" stroke-width="2.8" stroke-linecap="round"/>
<line x1="430.70" y1="164.70" x2="442.20" y2="164.70" stroke="#f5a447" stroke-width="0.9799999999999999" stroke-linecap="round" stroke-dasharray="0.8 1.2"/>
<line x1="460.70" y1="164.70" x2="471.20" y2="164.70" stroke="#d8780e" stroke-width="2.8" stroke-linecap="round"/>
<line x1="460.70" y1="164.70" x2="471.20" y2="164.70" stroke="#f5a447" stroke-width="0.9799999999999999" stroke-linecap="round" stroke-dasharray="0.8 1.2"/>
<line x1="446.20" y1="180.30" x2="457.10" y2="180.30" stroke="#d8780e" stroke-width="2.8" stroke-linecap="round"/>
<line x1="446.20" y1="180.30" x2="457.10" y2="180.30" stroke="#f5a447" stroke-width="0.9799999999999999" stroke-linecap="round" stroke-dasharray="0.8 1.2"/>
<line x1="418.30" y1="180.30" x2="427.30" y2="180.30" stroke="#d8780e" stroke-width="2.8" stroke-linecap="round"/>
<line x1="418.30" y1="180.30" x2="427.30" y2="180.30" stroke="#f5a447" stroke-width="0.9799999999999999" stroke-linecap="round" stroke-dasharray="0.8 1.2"/>
<line x1="427.30" y1="180.30" x2="430.70" y2="164.70" stroke="#d8780e" stroke-width="2.8" stroke-linecap="round"/>
<line x1="427.30" y1="180.30" x2="430.70" y2="164.70" stroke="#f5a447" stroke-width="0.9799999999999999" stroke-linecap="round" stroke-dasharray="0.8 1.2"/>
<line x1="442.20" y1="164.70" x2="446.20" y2="180.30" stroke="#d8780e" stroke-width="2.8" stroke-linecap="round"/>
<line x1="442.20" y1="164.70" x2="446.20" y2="180.30" stroke="#f5a447" stroke-width="0.9799999999999999" stroke-linecap="round" stroke-dasharray="0.8 1.2"/>
<line x1="457.10" y1="180.30" x2="460.70" y2="164.70" stroke="#d8780e" stroke-width="2.8" stroke-linecap="round"/>
<line x1="457.10" y1="180.30" x2="460.70" y2="164.70" stroke="#f5a447" stroke-width="0.9799999999999999" stroke-linecap="round" stroke-dasharray="0.8 1.2"/>
<line x1="471.20" y1="164.70" x2="479.80" y2="164.70" stroke="#d8780e" stroke-width="2.8" stroke-linecap="round"/>
<line x1="471.20" y1="164.70" x2="479.80" y2="164.70" stroke="#f5a447" stroke-width="0.9799999999999999" stroke-linecap="round" stroke-dasharray="0.8 1.2"/>
<line x1="471.20" y1="164.70" x2="473.00" y2="180.30" stroke="#d8780e" stroke-width="2.8" stroke-linecap="round"/>
<line x1="471.20" y1="164.70" x2="473.00" y2="180.30" stroke="#f5a447" stroke-width="0.9799999999999999" stroke-linecap="round" stroke-dasharray="0.8 1.2"/>
<circle cx="436.40" cy="165.10" r="1.90" fill="url(#gR)" stroke="#b01010" stroke-width="0.35" />
<circle cx="451.30" cy="180.30" r="1.90" fill="url(#gR)" stroke="#b01010" stroke-width="0.35" />
<circle cx="430.70" cy="164.70" r="2.80" fill="url(#gO)" stroke="#b05a00" stroke-width="0.35" />
<circle cx="442.20" cy="164.70" r="2.80" fill="url(#gO)" stroke="#b05a00" stroke-width="0.35" />
<circle cx="460.70" cy="164.70" r="2.80" fill="url(#gO)" stroke="#b05a00" stroke-width="0.35" />
<circle cx="471.20" cy="164.70" r="2.80" fill="url(#gO)" stroke="#b05a00" stroke-width="0.35" />
<circle cx="427.30" cy="180.30" r="2.80" fill="url(#gO)" stroke="#b05a00" stroke-width="0.35" />
<circle cx="446.20" cy="180.30" r="2.80" fill="url(#gO)" stroke="#b05a00" stroke-width="0.35" />
<circle cx="457.10" cy="180.30" r="2.80" fill="url(#gO)" stroke="#b05a00" stroke-width="0.35" />
<circle cx="473.00" cy="180.30" r="2.80" fill="url(#gO)" stroke="#b05a00" stroke-width="0.35" />
</g>
<rect x="423.30" y="137.20" width="50.50" height="50.50" stroke="#262626" stroke-width="1.1" fill="none" />
<rect x="729.60" y="131.30" width="50.50" height="50.50" stroke="none" stroke-width="0" fill="#fff" />
<clipPath id="c8"><rect x="729.60" y="131.30" width="50.50" height="50.50"/></clipPath>
<g clip-path="url(#c8)">
<line x1="761.60" y1="139.30" x2="764.35" y2="140.20" stroke="#22c07a" stroke-width="1.4" stroke-linecap="butt"/>
<line x1="764.35" y1="140.20" x2="767.10" y2="141.10" stroke="#e0282c" stroke-width="1.4" stroke-linecap="butt"/>
<line x1="767.10" y1="141.10" x2="771.10" y2="145.80" stroke="#e0282c" stroke-width="1.4" stroke-linecap="round"/>
<line x1="771.10" y1="145.80" x2="770.10" y2="152.05" stroke="#e0282c" stroke-width="1.4" stroke-linecap="butt"/>
<line x1="770.10" y1="152.05" x2="769.10" y2="158.30" stroke="#e08a2a" stroke-width="1.4" stroke-linecap="butt"/>
<line x1="737.30" y1="160.00" x2="748.50" y2="160.00" stroke="#d8780e" stroke-width="2.8" stroke-linecap="round"/>
<line x1="737.30" y1="160.00" x2="748.50" y2="160.00" stroke="#f5a447" stroke-width="0.9799999999999999" stroke-linecap="round" stroke-dasharray="0.8 1.2"/>
<line x1="767.10" y1="160.00" x2="778.30" y2="160.00" stroke="#d8780e" stroke-width="2.8" stroke-linecap="round"/>
<line x1="767.10" y1="160.00" x2="778.30" y2="160.00" stroke="#f5a447" stroke-width="0.9799999999999999" stroke-linecap="round" stroke-dasharray="0.8 1.2"/>
<line x1="752.90" y1="176.00" x2="764.90" y2="176.00" stroke="#d8780e" stroke-width="2.8" stroke-linecap="round"/>
<line x1="752.90" y1="176.00" x2="764.90" y2="176.00" stroke="#f5a447" stroke-width="0.9799999999999999" stroke-linecap="round" stroke-dasharray="0.8 1.2"/>
<line x1="724.60" y1="176.00" x2="733.60" y2="176.00" stroke="#d8780e" stroke-width="2.8" stroke-linecap="round"/>
<line x1="724.60" y1="176.00" x2="733.60" y2="176.00" stroke="#f5a447" stroke-width="0.9799999999999999" stroke-linecap="round" stroke-dasharray="0.8 1.2"/>
<line x1="733.60" y1="176.00" x2="737.30" y2="160.00" stroke="#d8780e" stroke-width="2.8" stroke-linecap="round"/>
<line x1="733.60" y1="176.00" x2="737.30" y2="160.00" stroke="#f5a447" stroke-width="0.9799999999999999" stroke-linecap="round" stroke-dasharray="0.8 1.2"/>
<line x1="748.50" y1="160.00" x2="752.90" y2="176.00" stroke="#d8780e" stroke-width="2.8" stroke-linecap="round"/>
<line x1="748.50" y1="160.00" x2="752.90" y2="176.00" stroke="#f5a447" stroke-width="0.9799999999999999" stroke-linecap="round" stroke-dasharray="0.8 1.2"/>
<line x1="764.90" y1="176.00" x2="767.10" y2="160.00" stroke="#d8780e" stroke-width="2.8" stroke-linecap="round"/>
<line x1="764.90" y1="176.00" x2="767.10" y2="160.00" stroke="#f5a447" stroke-width="0.9799999999999999" stroke-linecap="round" stroke-dasharray="0.8 1.2"/>
<line x1="778.30" y1="160.00" x2="786.10" y2="160.00" stroke="#d8780e" stroke-width="2.8" stroke-linecap="round"/>
<line x1="778.30" y1="160.00" x2="786.10" y2="160.00" stroke="#f5a447" stroke-width="0.9799999999999999" stroke-linecap="round" stroke-dasharray="0.8 1.2"/>
<circle cx="743.10" cy="160.40" r="1.90" fill="url(#gR)" stroke="#b01010" stroke-width="0.35" />
<circle cx="758.70" cy="176.00" r="1.90" fill="url(#gR)" stroke="#b01010" stroke-width="0.35" />
<circle cx="737.30" cy="160.00" r="2.80" fill="url(#gO)" stroke="#b05a00" stroke-width="0.35" />
<circle cx="748.50" cy="160.00" r="2.80" fill="url(#gO)" stroke="#b05a00" stroke-width="0.35" />
<circle cx="767.10" cy="160.00" r="2.80" fill="url(#gO)" stroke="#b05a00" stroke-width="0.35" />
<circle cx="778.30" cy="160.00" r="2.80" fill="url(#gO)" stroke="#b05a00" stroke-width="0.35" />
<circle cx="733.60" cy="176.00" r="2.80" fill="url(#gO)" stroke="#b05a00" stroke-width="0.35" />
<circle cx="752.90" cy="176.00" r="2.80" fill="url(#gO)" stroke="#b05a00" stroke-width="0.35" />
<circle cx="764.90" cy="176.00" r="2.80" fill="url(#gO)" stroke="#b05a00" stroke-width="0.35" />
<circle cx="761.60" cy="139.30" r="2.30" fill="url(#gT)" stroke="#10a060" stroke-width="0.35" />
<circle cx="767.10" cy="141.10" r="2.30" fill="url(#gR)" stroke="#b01010" stroke-width="0.35" />
<circle cx="771.10" cy="145.80" r="2.30" fill="url(#gR)" stroke="#b01010" stroke-width="0.35" />
</g>
<rect x="729.60" y="131.30" width="50.50" height="50.50" stroke="#262626" stroke-width="1.1" fill="none" />
<rect x="468.90" y="290.30" width="50.50" height="50.50" stroke="none" stroke-width="0" fill="#fff" />
<clipPath id="c9"><rect x="468.90" y="290.30" width="50.50" height="50.50"/></clipPath>
<g clip-path="url(#c9)">
<line x1="508.90" y1="307.70" x2="508.65" y2="313.00" stroke="#e0282c" stroke-width="1.4" stroke-linecap="butt"/>
<line x1="508.65" y1="313.00" x2="508.40" y2="318.30" stroke="#e08a2a" stroke-width="1.4" stroke-linecap="butt"/>
<line x1="482.00" y1="320.00" x2="491.40" y2="320.00" stroke="#d8780e" stroke-width="2.8" stroke-linecap="round"/>
<line x1="482.00" y1="320.00" x2="491.40" y2="320.00" stroke="#f5a447" stroke-width="0.9799999999999999" stroke-linecap="round" stroke-dasharray="0.8 1.2"/>
<line x1="507.80" y1="320.00" x2="517.60" y2="320.00" stroke="#d8780e" stroke-width="2.8" stroke-linecap="round"/>
<line x1="507.80" y1="320.00" x2="517.60" y2="320.00" stroke="#f5a447" stroke-width="0.9799999999999999" stroke-linecap="round" stroke-dasharray="0.8 1.2"/>
<line x1="495.10" y1="334.20" x2="505.20" y2="334.20" stroke="#d8780e" stroke-width="2.8" stroke-linecap="round"/>
<line x1="495.10" y1="334.20" x2="505.20" y2="334.20" stroke="#f5a447" stroke-width="0.9799999999999999" stroke-linecap="round" stroke-dasharray="0.8 1.2"/>
<line x1="463.90" y1="334.20" x2="478.00" y2="334.20" stroke="#d8780e" stroke-width="2.8" stroke-linecap="round"/>
<line x1="463.90" y1="334.20" x2="478.00" y2="334.20" stroke="#f5a447" stroke-width="0.9799999999999999" stroke-linecap="round" stroke-dasharray="0.8 1.2"/>
<line x1="478.00" y1="334.20" x2="482.00" y2="320.00" stroke="#d8780e" stroke-width="2.8" stroke-linecap="round"/>
<line x1="478.00" y1="334.20" x2="482.00" y2="320.00" stroke="#f5a447" stroke-width="0.9799999999999999" stroke-linecap="round" stroke-dasharray="0.8 1.2"/>
<line x1="491.40" y1="320.00" x2="495.10" y2="334.20" stroke="#d8780e" stroke-width="2.8" stroke-linecap="round"/>
<line x1="491.40" y1="320.00" x2="495.10" y2="334.20" stroke="#f5a447" stroke-width="0.9799999999999999" stroke-linecap="round" stroke-dasharray="0.8 1.2"/>
<line x1="505.20" y1="334.20" x2="507.80" y2="320.00" stroke="#d8780e" stroke-width="2.8" stroke-linecap="round"/>
<line x1="505.20" y1="334.20" x2="507.80" y2="320.00" stroke="#f5a447" stroke-width="0.9799999999999999" stroke-linecap="round" stroke-dasharray="0.8 1.2"/>
<line x1="517.60" y1="320.00" x2="525.40" y2="320.00" stroke="#d8780e" stroke-width="2.8" stroke-linecap="round"/>
<line x1="517.60" y1="320.00" x2="525.40" y2="320.00" stroke="#f5a447" stroke-width="0.9799999999999999" stroke-linecap="round" stroke-dasharray="0.8 1.2"/>
<circle cx="486.70" cy="320.40" r="1.90" fill="url(#gR)" stroke="#b01010" stroke-width="0.35" />
<circle cx="499.80" cy="334.20" r="1.90" fill="url(#gR)" stroke="#b01010" stroke-width="0.35" />
<circle cx="482.00" cy="320.00" r="2.80" fill="url(#gO)" stroke="#b05a00" stroke-width="0.35" />
<circle cx="491.40" cy="320.00" r="2.80" fill="url(#gO)" stroke="#b05a00" stroke-width="0.35" />
<circle cx="507.80" cy="320.00" r="2.80" fill="url(#gO)" stroke="#b05a00" stroke-width="0.35" />
<circle cx="517.60" cy="320.00" r="2.80" fill="url(#gO)" stroke="#b05a00" stroke-width="0.35" />
<circle cx="478.00" cy="334.20" r="2.80" fill="url(#gO)" stroke="#b05a00" stroke-width="0.35" />
<circle cx="495.10" cy="334.20" r="2.80" fill="url(#gO)" stroke="#b05a00" stroke-width="0.35" />
<circle cx="505.20" cy="334.20" r="2.80" fill="url(#gO)" stroke="#b05a00" stroke-width="0.35" />
<circle cx="503.40" cy="306.30" r="2.30" fill="url(#gT)" stroke="#10a060" stroke-width="0.35" />
<circle cx="508.90" cy="307.70" r="2.30" fill="url(#gR)" stroke="#b01010" stroke-width="0.35" />
</g>
<rect x="468.90" y="290.30" width="50.50" height="50.50" stroke="#262626" stroke-width="1.1" fill="none" />
<rect x="686.90" y="289.30" width="50.50" height="50.50" stroke="none" stroke-width="0" fill="#fff" />
<clipPath id="c10"><rect x="686.90" y="289.30" width="50.50" height="50.50"/></clipPath>
<g clip-path="url(#c10)">
<line x1="718.20" y1="310.00" x2="721.45" y2="312.55" stroke="#e0282c" stroke-width="1.4" stroke-linecap="butt"/>
<line x1="721.45" y1="312.55" x2="724.70" y2="315.10" stroke="#e08a2a" stroke-width="1.4" stroke-linecap="butt"/>
<line x1="692.70" y1="315.10" x2="705.40" y2="315.10" stroke="#d8780e" stroke-width="2.8" stroke-linecap="round"/>
<line x1="692.70" y1="315.10" x2="705.40" y2="315.10" stroke="#f5a447" stroke-width="0.9799999999999999" stroke-linecap="round" stroke-dasharray="0.8 1.2"/>
<line x1="724.70" y1="315.10" x2="736.00" y2="315.10" stroke="#d8780e" stroke-width="2.8" stroke-linecap="round"/>
<line x1="724.70" y1="315.10" x2="736.00" y2="315.10" stroke="#f5a447" stroke-width="0.9799999999999999" stroke-linecap="round" stroke-dasharray="0.8 1.2"/>
<line x1="708.70" y1="331.80" x2="721.40" y2="331.80" stroke="#d8780e" stroke-width="2.8" stroke-linecap="round"/>
<line x1="708.70" y1="331.80" x2="721.40" y2="331.80" stroke="#f5a447" stroke-width="0.9799999999999999" stroke-linecap="round" stroke-dasharray="0.8 1.2"/>
<line x1="681.90" y1="331.80" x2="689.50" y2="331.80" stroke="#d8780e" stroke-width="2.8" stroke-linecap="round"/>
<line x1="681.90" y1="331.80" x2="689.50" y2="331.80" stroke="#f5a447" stroke-width="0.9799999999999999" stroke-linecap="round" stroke-dasharray="0.8 1.2"/>
<line x1="689.50" y1="331.80" x2="692.70" y2="315.10" stroke="#d8780e" stroke-width="2.8" stroke-linecap="round"/>
<line x1="689.50" y1="331.80" x2="692.70" y2="315.10" stroke="#f5a447" stroke-width="0.9799999999999999" stroke-linecap="round" stroke-dasharray="0.8 1.2"/>
<line x1="705.40" y1="315.10" x2="708.70" y2="331.80" stroke="#d8780e" stroke-width="2.8" stroke-linecap="round"/>
<line x1="705.40" y1="315.10" x2="708.70" y2="331.80" stroke="#f5a447" stroke-width="0.9799999999999999" stroke-linecap="round" stroke-dasharray="0.8 1.2"/>
<line x1="721.40" y1="331.80" x2="724.70" y2="315.10" stroke="#d8780e" stroke-width="2.8" stroke-linecap="round"/>
<line x1="721.40" y1="331.80" x2="724.70" y2="315.10" stroke="#f5a447" stroke-width="0.9799999999999999" stroke-linecap="round" stroke-dasharray="0.8 1.2"/>
<line x1="736.00" y1="315.10" x2="743.40" y2="315.10" stroke="#d8780e" stroke-width="2.8" stroke-linecap="round"/>
<line x1="736.00" y1="315.10" x2="743.40" y2="315.10" stroke="#f5a447" stroke-width="0.9799999999999999" stroke-linecap="round" stroke-dasharray="0.8 1.2"/>
<circle cx="699.30" cy="315.50" r="1.90" fill="url(#gR)" stroke="#b01010" stroke-width="0.35" />
<circle cx="714.90" cy="331.80" r="1.90" fill="url(#gR)" stroke="#b01010" stroke-width="0.35" />
<circle cx="692.70" cy="315.10" r="2.80" fill="url(#gO)" stroke="#b05a00" stroke-width="0.35" />
<circle cx="705.40" cy="315.10" r="2.80" fill="url(#gO)" stroke="#b05a00" stroke-width="0.35" />
<circle cx="724.70" cy="315.10" r="2.80" fill="url(#gO)" stroke="#b05a00" stroke-width="0.35" />
<circle cx="736.00" cy="315.10" r="2.80" fill="url(#gO)" stroke="#b05a00" stroke-width="0.35" />
<circle cx="689.50" cy="331.80" r="2.80" fill="url(#gO)" stroke="#b05a00" stroke-width="0.35" />
<circle cx="708.70" cy="331.80" r="2.80" fill="url(#gO)" stroke="#b05a00" stroke-width="0.35" />
<circle cx="721.40" cy="331.80" r="2.80" fill="url(#gO)" stroke="#b05a00" stroke-width="0.35" />
<circle cx="718.20" cy="310.00" r="2.30" fill="url(#gR)" stroke="#b01010" stroke-width="0.35" />
</g>
<rect x="686.90" y="289.30" width="50.50" height="50.50" stroke="#262626" stroke-width="1.1" fill="none" />
<path d="M656.50,42.00 C656.33,43.67 654.92,48.32 655.50,52.00 C656.08,55.68 657.57,60.75 660.00,64.10 C662.43,67.45 666.75,70.43 670.10,72.10 C673.45,73.77 676.43,74.18 680.10,74.10 C683.77,74.02 688.17,72.77 692.10,71.60 C696.03,70.43 701.77,67.85 703.70,67.10" stroke="#1a1a1a" stroke-width="1.0" fill="none" />
<path d="M703.70,67.10 L700.79,70.13 L701.35,68.01 L699.51,66.82 Z" fill="#1a1a1a"/>
<text x="651.50" y="35.00" font-size="13.5" text-anchor="start" fill="#0a0a0a" font-family="'Liberation Sans', sans-serif" >H</text>
<text x="661.25" y="30.55" font-size="9.719999999999999" text-anchor="start" fill="#0a0a0a" font-family="'Liberation Sans', sans-serif" >-</text>
<text x="664.49" y="35.00" font-size="13.5" text-anchor="start" fill="#0a0a0a" font-family="'Liberation Sans', sans-serif" >+</text>
<text x="672.37" y="35.00" font-size="13.5" text-anchor="start" fill="#0a0a0a" font-family="'Liberation Sans', sans-serif" >e</text>
<text x="679.88" y="30.55" font-size="9.719999999999999" text-anchor="start" fill="#0a0a0a" font-family="'Liberation Sans', sans-serif" >-</text>
<path d="M763.40,190.50 C761.57,190.65 756.05,190.10 752.40,191.40 C748.75,192.70 744.32,195.32 741.50,198.30 C738.68,201.28 736.27,205.03 735.50,209.30 C734.73,213.57 735.07,218.65 736.90,223.90 C738.73,229.15 744.90,237.98 746.50,240.80" stroke="#1a1a1a" stroke-width="1.0" fill="none" />
<path d="M746.50,240.80 L743.08,238.37 L745.26,238.61 L746.16,236.61 Z" fill="#1a1a1a"/>
<text x="765.70" y="194.60" font-size="13.5" text-anchor="start" fill="#0a0a0a" font-family="'Liberation Sans', sans-serif" >H</text>
<text x="775.45" y="190.14" font-size="9.719999999999999" text-anchor="start" fill="#0a0a0a" font-family="'Liberation Sans', sans-serif" >-</text>
<text x="778.69" y="194.60" font-size="13.5" text-anchor="start" fill="#0a0a0a" font-family="'Liberation Sans', sans-serif" >+</text>
<text x="786.57" y="194.60" font-size="13.5" text-anchor="start" fill="#0a0a0a" font-family="'Liberation Sans', sans-serif" >e</text>
<text x="794.08" y="190.14" font-size="9.719999999999999" text-anchor="start" fill="#0a0a0a" font-family="'Liberation Sans', sans-serif" >-</text>
<text x="751.10" y="248.60" font-size="13.5" text-anchor="start" fill="#0a0a0a" font-family="'Liberation Sans', sans-serif" >H</text>
<text x="760.85" y="251.97" font-size="8.775" text-anchor="start" fill="#0a0a0a" font-family="'Liberation Sans', sans-serif" >2</text>
<text x="765.73" y="248.60" font-size="13.5" text-anchor="start" fill="#0a0a0a" font-family="'Liberation Sans', sans-serif" >O</text>
<path d="M628.30,337.60 C627.50,335.50 625.88,328.52 623.50,325.00 C621.12,321.48 617.38,318.17 614.00,316.50 C610.62,314.83 607.03,314.83 603.20,315.00 C599.37,315.17 594.70,315.83 591.00,317.50 C587.30,319.17 583.67,322.17 581.00,325.00 C578.33,327.83 576.00,332.92 575.00,334.50" stroke="#1a1a1a" stroke-width="1.0" fill="none" />
<path d="M575.00,334.50 L575.53,330.33 L576.35,332.37 L578.53,332.23 Z" fill="#1a1a1a"/>
<text x="610.10" y="350.80" font-size="13.5" text-anchor="start" fill="#0a0a0a" font-family="'Liberation Sans', sans-serif" >H</text>
<text x="619.85" y="346.35" font-size="9.719999999999999" text-anchor="start" fill="#0a0a0a" font-family="'Liberation Sans', sans-serif" >-</text>
<text x="623.09" y="350.80" font-size="13.5" text-anchor="start" fill="#0a0a0a" font-family="'Liberation Sans', sans-serif" >+</text>
<text x="630.97" y="350.80" font-size="13.5" text-anchor="start" fill="#0a0a0a" font-family="'Liberation Sans', sans-serif" >e</text>
<text x="638.48" y="346.35" font-size="9.719999999999999" text-anchor="start" fill="#0a0a0a" font-family="'Liberation Sans', sans-serif" >-</text>
<path d="M457.70,264.40 C459.07,262.35 464.02,256.22 465.90,252.10 C467.78,247.98 468.83,243.48 469.00,239.70 C469.17,235.92 468.45,232.65 466.90,229.40 C465.35,226.15 462.62,222.43 459.70,220.20 C456.78,217.97 452.97,216.87 449.40,216.00 C445.83,215.13 440.15,215.17 438.30,215.00" stroke="#1a1a1a" stroke-width="1.0" fill="none" />
<path d="M438.30,215.00 L442.25,213.57 L440.81,215.23 L441.93,217.11 Z" fill="#1a1a1a"/>
<text x="406.00" y="221.60" font-size="13.5" text-anchor="start" fill="#0a0a0a" font-family="'Liberation Sans', sans-serif" >H</text>
<text x="415.75" y="224.97" font-size="8.775" text-anchor="start" fill="#0a0a0a" font-family="'Liberation Sans', sans-serif" >2</text>
<text x="420.63" y="221.60" font-size="13.5" text-anchor="start" fill="#0a0a0a" font-family="'Liberation Sans', sans-serif" >O</text>
<text x="422.00" y="275.80" font-size="13.5" text-anchor="start" fill="#0a0a0a" font-family="'Liberation Sans', sans-serif" >H</text>
<text x="431.75" y="271.35" font-size="9.719999999999999" text-anchor="start" fill="#0a0a0a" font-family="'Liberation Sans', sans-serif" >-</text>
<text x="434.99" y="275.80" font-size="13.5" text-anchor="start" fill="#0a0a0a" font-family="'Liberation Sans', sans-serif" >+</text>
<text x="442.87" y="275.80" font-size="13.5" text-anchor="start" fill="#0a0a0a" font-family="'Liberation Sans', sans-serif" >e</text>
<text x="450.38" y="271.35" font-size="9.719999999999999" text-anchor="start" fill="#0a0a0a" font-family="'Liberation Sans', sans-serif" >-</text>
<rect x="66.60" y="372.40" width="314.70" height="198.70" stroke="#1e1e1e" stroke-width="1.3" fill="none" />
<line x1="61.60" y1="571.10" x2="66.60" y2="571.10" stroke="#2a2a2a" stroke-width="1.2" />
<text x="58.70" y="575.40" font-size="13" text-anchor="end" fill="#111" font-family="'Liberation Sans', sans-serif" >-4</text>
<line x1="61.60" y1="540.55" x2="66.60" y2="540.55" stroke="#2a2a2a" stroke-width="1.2" />
<line x1="381.30" y1="540.55" x2="376.30" y2="540.55" stroke="#2a2a2a" stroke-width="1.2" />
<text x="58.70" y="544.85" font-size="13" text-anchor="end" fill="#111" font-family="'Liberation Sans', sans-serif" >-3</text>
<line x1="61.60" y1="510.00" x2="66.60" y2="510.00" stroke="#2a2a2a" stroke-width="1.2" />
<line x1="381.30" y1="510.00" x2="376.30" y2="510.00" stroke="#2a2a2a" stroke-width="1.2" />
<text x="58.70" y="514.30" font-size="13" text-anchor="end" fill="#111" font-family="'Liberation Sans', sans-serif" >-2</text>
<line x1="61.60" y1="479.45" x2="66.60" y2="479.45" stroke="#2a2a2a" stroke-width="1.2" />
<line x1="381.30" y1="479.45" x2="376.30" y2="479.45" stroke="#2a2a2a" stroke-width="1.2" />
<text x="58.70" y="483.75" font-size="13" text-anchor="end" fill="#111" font-family="'Liberation Sans', sans-serif" >-1</text>
<line x1="61.60" y1="448.90" x2="66.60" y2="448.90" stroke="#2a2a2a" stroke-width="1.2" />
<line x1="381.30" y1="448.90" x2="376.30" y2="448.90" stroke="#2a2a2a" stroke-width="1.2" />
<text x="58.70" y="453.20" font-size="13" text-anchor="end" fill="#111" font-family="'Liberation Sans', sans-serif" >0</text>
<line x1="61.60" y1="418.35" x2="66.60" y2="418.35" stroke="#2a2a2a" stroke-width="1.2" />
<line x1="381.30" y1="418.35" x2="376.30" y2="418.35" stroke="#2a2a2a" stroke-width="1.2" />
<text x="58.70" y="422.65" font-size="13" text-anchor="end" fill="#111" font-family="'Liberation Sans', sans-serif" >1</text>
<line x1="61.60" y1="387.80" x2="66.60" y2="387.80" stroke="#2a2a2a" stroke-width="1.2" />
<line x1="381.30" y1="387.80" x2="376.30" y2="387.80" stroke="#2a2a2a" stroke-width="1.2" />
<text x="58.70" y="392.10" font-size="13" text-anchor="end" fill="#111" font-family="'Liberation Sans', sans-serif" >2</text>
<line x1="111.60" y1="571.10" x2="111.60" y2="575.60" stroke="#2a2a2a" stroke-width="1.2" />
<line x1="111.60" y1="372.40" x2="111.60" y2="377.40" stroke="#2a2a2a" stroke-width="1.2" />
<text x="111.60" y="594.40" font-size="13" text-anchor="middle" fill="#111" font-family="'Liberation Sans', sans-serif" >0</text>
<line x1="167.70" y1="571.10" x2="167.70" y2="575.60" stroke="#2a2a2a" stroke-width="1.2" />
<line x1="167.70" y1="372.40" x2="167.70" y2="377.40" stroke="#2a2a2a" stroke-width="1.2" />
<text x="167.70" y="594.40" font-size="13" text-anchor="middle" fill="#111" font-family="'Liberation Sans', sans-serif" >1</text>
<line x1="223.80" y1="571.10" x2="223.80" y2="575.60" stroke="#2a2a2a" stroke-width="1.2" />
<line x1="223.80" y1="372.40" x2="223.80" y2="377.40" stroke="#2a2a2a" stroke-width="1.2" />
<text x="223.80" y="594.40" font-size="13" text-anchor="middle" fill="#111" font-family="'Liberation Sans', sans-serif" >2</text>
<line x1="279.90" y1="571.10" x2="279.90" y2="575.60" stroke="#2a2a2a" stroke-width="1.2" />
<line x1="279.90" y1="372.40" x2="279.90" y2="377.40" stroke="#2a2a2a" stroke-width="1.2" />
<text x="279.90" y="594.40" font-size="13" text-anchor="middle" fill="#111" font-family="'Liberation Sans', sans-serif" >3</text>
<line x1="336.00" y1="571.10" x2="336.00" y2="575.60" stroke="#2a2a2a" stroke-width="1.2" />
<line x1="336.00" y1="372.40" x2="336.00" y2="377.40" stroke="#2a2a2a" stroke-width="1.2" />
<text x="336.00" y="594.40" font-size="13" text-anchor="middle" fill="#111" font-family="'Liberation Sans', sans-serif" >4</text>
<text x="223.95" y="613.40" font-size="15.2" text-anchor="middle" fill="#111" font-family="'Liberation Sans', sans-serif" >NEB Image</text>
<text transform="translate(37.00,471.75) rotate(-90)" x="0" y="0" font-size="15.1" text-anchor="middle" fill="#111" font-family="'Liberation Sans', sans-serif">Energy (eV)</text>
<text x="2.40" y="386.60" font-size="19" text-anchor="start" fill="#111" font-family="'Liberation Serif', serif" >(c)</text>
<text x="193.50" y="398.00" font-size="13.0" text-anchor="start" fill="#111" font-family="'Liberation Sans', sans-serif" >2O*</text>
<line x1="218.90" y1="393.00" x2="230.90" y2="393.00" stroke="#111" stroke-width="1.55" />
<path d="M233.70,393.00 L229.17,395.11 L230.70,393.00 L229.17,390.89 Z" fill="#111"/>
<text x="236.40" y="398.00" font-size="13.0" text-anchor="start" fill="#111" font-family="'Liberation Sans', sans-serif" >O</text>
<text x="247.21" y="402.00" font-size="8.84" text-anchor="start" fill="#111" font-family="'Liberation Sans', sans-serif" >2</text>
<line x1="96.60" y1="424.23" x2="101.95" y2="414.97" stroke="#74a3d8" stroke-width="1.45" stroke-linecap="round"/>
<line x1="101.95" y1="452.03" x2="96.60" y2="442.77" stroke="#74a3d8" stroke-width="1.45" stroke-linecap="round"/>
<line x1="118.00" y1="424.23" x2="112.65" y2="414.97" stroke="#74a3d8" stroke-width="1.45" stroke-linecap="round"/>
<line x1="110.80" y1="435.10" x2="118.00" y2="442.77" stroke="#e0282c" stroke-width="1.45" stroke-linecap="round"/>
<line x1="134.05" y1="433.50" x2="128.70" y2="442.77" stroke="#74a3d8" stroke-width="1.45" stroke-linecap="round"/>
<line x1="118.00" y1="442.77" x2="122.28" y2="442.77" stroke="#e0282c" stroke-width="1.45" stroke-linecap="butt"/>
<line x1="122.28" y1="442.77" x2="128.70" y2="442.77" stroke="#74a3d8" stroke-width="1.45" stroke-linecap="butt"/>
<line x1="101.95" y1="414.97" x2="112.65" y2="414.97" stroke="#74a3d8" stroke-width="1.45" stroke-linecap="round"/>
<line x1="96.60" y1="424.23" x2="85.90" y2="424.23" stroke="#74a3d8" stroke-width="1.45" stroke-linecap="round"/>
<line x1="118.00" y1="424.23" x2="113.68" y2="430.75" stroke="#74a3d8" stroke-width="1.45" stroke-linecap="butt"/>
<line x1="113.68" y1="430.75" x2="110.80" y2="435.10" stroke="#e0282c" stroke-width="1.45" stroke-linecap="butt"/>
<line x1="96.60" y1="442.77" x2="85.90" y2="442.77" stroke="#74a3d8" stroke-width="1.45" stroke-linecap="round"/>
<line x1="110.80" y1="435.10" x2="101.95" y2="433.50" stroke="#e0282c" stroke-width="1.45" stroke-linecap="round"/>
<line x1="85.90" y1="442.77" x2="80.55" y2="433.50" stroke="#74a3d8" stroke-width="1.45" stroke-linecap="round"/>
<line x1="118.00" y1="442.77" x2="115.86" y2="446.47" stroke="#e0282c" stroke-width="1.45" stroke-linecap="butt"/>
<line x1="115.86" y1="446.47" x2="112.65" y2="452.03" stroke="#74a3d8" stroke-width="1.45" stroke-linecap="butt"/>
<line x1="101.95" y1="433.50" x2="99.81" y2="429.79" stroke="#e0282c" stroke-width="1.45" stroke-linecap="butt"/>
<line x1="99.81" y1="429.79" x2="96.60" y2="424.23" stroke="#74a3d8" stroke-width="1.45" stroke-linecap="butt"/>
<line x1="101.95" y1="433.50" x2="99.81" y2="437.21" stroke="#e0282c" stroke-width="1.45" stroke-linecap="butt"/>
<line x1="99.81" y1="437.21" x2="96.60" y2="442.77" stroke="#74a3d8" stroke-width="1.45" stroke-linecap="butt"/>
<line x1="80.55" y1="433.50" x2="85.90" y2="424.23" stroke="#74a3d8" stroke-width="1.45" stroke-linecap="round"/>
<line x1="118.00" y1="424.23" x2="128.70" y2="424.23" stroke="#74a3d8" stroke-width="1.45" stroke-linecap="round"/>
<line x1="134.05" y1="433.50" x2="128.70" y2="424.23" stroke="#74a3d8" stroke-width="1.45" stroke-linecap="round"/>
<line x1="112.65" y1="452.03" x2="101.95" y2="452.03" stroke="#74a3d8" stroke-width="1.45" stroke-linecap="round"/>
<line x1="101.95" y1="414.97" x2="96.87" y2="406.16" stroke="#74a3d8" stroke-width="1.45" stroke-linecap="round"/>
<line x1="112.65" y1="414.97" x2="117.73" y2="406.16" stroke="#74a3d8" stroke-width="1.45" stroke-linecap="round"/>
<line x1="112.65" y1="452.03" x2="117.73" y2="460.84" stroke="#74a3d8" stroke-width="1.45" stroke-linecap="round"/>
<line x1="101.95" y1="452.03" x2="96.87" y2="460.84" stroke="#74a3d8" stroke-width="1.45" stroke-linecap="round"/>
<line x1="85.90" y1="442.77" x2="80.82" y2="451.57" stroke="#74a3d8" stroke-width="1.45" stroke-linecap="round"/>
<line x1="80.55" y1="433.50" x2="70.39" y2="433.50" stroke="#74a3d8" stroke-width="1.45" stroke-linecap="round"/>
<line x1="85.90" y1="424.23" x2="80.82" y2="415.43" stroke="#74a3d8" stroke-width="1.45" stroke-linecap="round"/>
<line x1="134.05" y1="433.50" x2="144.21" y2="433.50" stroke="#74a3d8" stroke-width="1.45" stroke-linecap="round"/>
<line x1="128.70" y1="442.77" x2="133.78" y2="451.57" stroke="#74a3d8" stroke-width="1.45" stroke-linecap="round"/>
<line x1="128.70" y1="424.23" x2="133.78" y2="415.43" stroke="#74a3d8" stroke-width="1.45" stroke-linecap="round"/>
<circle cx="118.00" cy="424.23" r="2.15" fill="url(#gB)" stroke="#5683bf" stroke-width="0.35" />
<circle cx="110.80" cy="435.10" r="1.83" fill="url(#gR)" stroke="#b01010" stroke-width="0.35" />
<circle cx="101.95" cy="433.50" r="1.83" fill="url(#gR)" stroke="#b01010" stroke-width="0.35" />
<circle cx="96.60" cy="424.23" r="2.15" fill="url(#gB)" stroke="#5683bf" stroke-width="0.35" />
<circle cx="101.95" cy="414.97" r="2.15" fill="url(#gB)" stroke="#5683bf" stroke-width="0.35" />
<circle cx="112.65" cy="414.97" r="2.15" fill="url(#gB)" stroke="#5683bf" stroke-width="0.35" />
<circle cx="118.00" cy="442.77" r="1.83" fill="url(#gR)" stroke="#b01010" stroke-width="0.35" />
<circle cx="112.65" cy="452.03" r="2.15" fill="url(#gB)" stroke="#5683bf" stroke-width="0.35" />
<circle cx="101.95" cy="452.03" r="2.15" fill="url(#gB)" stroke="#5683bf" stroke-width="0.35" />
<circle cx="96.60" cy="442.77" r="2.15" fill="url(#gB)" stroke="#5683bf" stroke-width="0.35" />
<circle cx="85.90" cy="442.77" r="2.15" fill="url(#gB)" stroke="#5683bf" stroke-width="0.35" />
<circle cx="80.55" cy="433.50" r="2.15" fill="url(#gB)" stroke="#5683bf" stroke-width="0.35" />
<circle cx="85.90" cy="424.23" r="2.15" fill="url(#gB)" stroke="#5683bf" stroke-width="0.35" />
<circle cx="134.05" cy="433.50" r="2.15" fill="url(#gB)" stroke="#5683bf" stroke-width="0.35" />
<circle cx="128.70" cy="442.77" r="2.15" fill="url(#gB)" stroke="#5683bf" stroke-width="0.35" />
<circle cx="128.70" cy="424.23" r="2.15" fill="url(#gB)" stroke="#5683bf" stroke-width="0.35" />
<circle cx="96.87" cy="406.16" r="2.15" fill="url(#gB)" stroke="#5683bf" stroke-width="0.35" />
<circle cx="117.73" cy="406.16" r="2.15" fill="url(#gB)" stroke="#5683bf" stroke-width="0.35" />
<circle cx="117.73" cy="460.84" r="2.15" fill="url(#gB)" stroke="#5683bf" stroke-width="0.35" />
<circle cx="96.87" cy="460.84" r="2.15" fill="url(#gB)" stroke="#5683bf" stroke-width="0.35" />
<circle cx="80.82" cy="451.57" r="2.15" fill="url(#gB)" stroke="#5683bf" stroke-width="0.35" />
<circle cx="70.39" cy="433.50" r="2.15" fill="url(#gB)" stroke="#5683bf" stroke-width="0.35" />
<circle cx="80.82" cy="415.43" r="2.15" fill="url(#gB)" stroke="#5683bf" stroke-width="0.35" />
<circle cx="144.21" cy="433.50" r="2.15" fill="url(#gB)" stroke="#5683bf" stroke-width="0.35" />
<circle cx="133.78" cy="451.57" r="2.15" fill="url(#gB)" stroke="#5683bf" stroke-width="0.35" />
<circle cx="133.78" cy="415.43" r="2.15" fill="url(#gB)" stroke="#5683bf" stroke-width="0.35" />
<line x1="71.30" y1="483.70" x2="80.70" y2="490.20" stroke="#74a3d8" stroke-width="1.45" stroke-linecap="round"/>
<line x1="80.70" y1="490.20" x2="86.20" y2="483.70" stroke="#74a3d8" stroke-width="1.45" stroke-linecap="round"/>
<line x1="86.20" y1="483.70" x2="95.60" y2="490.20" stroke="#74a3d8" stroke-width="1.45" stroke-linecap="round"/>
<line x1="95.60" y1="490.20" x2="101.10" y2="483.70" stroke="#74a3d8" stroke-width="1.45" stroke-linecap="round"/>
<line x1="101.10" y1="483.70" x2="110.50" y2="490.20" stroke="#74a3d8" stroke-width="1.45" stroke-linecap="round"/>
<line x1="110.50" y1="490.20" x2="116.00" y2="483.70" stroke="#74a3d8" stroke-width="1.45" stroke-linecap="round"/>
<line x1="116.00" y1="483.70" x2="125.40" y2="490.20" stroke="#74a3d8" stroke-width="1.45" stroke-linecap="round"/>
<line x1="125.40" y1="490.20" x2="130.90" y2="483.70" stroke="#74a3d8" stroke-width="1.45" stroke-linecap="round"/>
<line x1="130.90" y1="483.70" x2="140.30" y2="490.20" stroke="#74a3d8" stroke-width="1.45" stroke-linecap="round"/>
<line x1="100.70" y1="477.70" x2="100.70" y2="480.10" stroke="#e0282c" stroke-width="1.45" stroke-linecap="butt"/>
<line x1="100.70" y1="480.10" x2="100.70" y2="483.70" stroke="#74a3d8" stroke-width="1.45" stroke-linecap="butt"/>
<line x1="115.80" y1="477.40" x2="115.80" y2="479.92" stroke="#e0282c" stroke-width="1.45" stroke-linecap="butt"/>
<line x1="115.80" y1="479.92" x2="115.80" y2="483.70" stroke="#74a3d8" stroke-width="1.45" stroke-linecap="butt"/>
<line x1="100.70" y1="483.70" x2="105.26" y2="487.00" stroke="#74a3d8" stroke-width="1.45" stroke-linecap="butt"/>
<line x1="105.26" y1="487.00" x2="108.30" y2="489.20" stroke="#e0282c" stroke-width="1.45" stroke-linecap="butt"/>
<line x1="108.30" y1="489.20" x2="111.30" y2="487.00" stroke="#e0282c" stroke-width="1.45" stroke-linecap="butt"/>
<line x1="111.30" y1="487.00" x2="115.80" y2="483.70" stroke="#74a3d8" stroke-width="1.45" stroke-linecap="butt"/>
<circle cx="71.30" cy="483.70" r="2.15" fill="url(#gB)" stroke="#5683bf" stroke-width="0.35" />
<circle cx="80.70" cy="490.20" r="2.15" fill="url(#gB)" stroke="#5683bf" stroke-width="0.35" />
<circle cx="86.20" cy="483.70" r="2.15" fill="url(#gB)" stroke="#5683bf" stroke-width="0.35" />
<circle cx="95.60" cy="490.20" r="2.15" fill="url(#gB)" stroke="#5683bf" stroke-width="0.35" />
<circle cx="101.10" cy="483.70" r="2.15" fill="url(#gB)" stroke="#5683bf" stroke-width="0.35" />
<circle cx="110.50" cy="490.20" r="2.15" fill="url(#gB)" stroke="#5683bf" stroke-width="0.35" />
<circle cx="116.00" cy="483.70" r="2.15" fill="url(#gB)" stroke="#5683bf" stroke-width="0.35" />
<circle cx="125.40" cy="490.20" r="2.15" fill="url(#gB)" stroke="#5683bf" stroke-width="0.35" />
<circle cx="130.90" cy="483.70" r="2.15" fill="url(#gB)" stroke="#5683bf" stroke-width="0.35" />
<circle cx="140.30" cy="490.20" r="2.15" fill="url(#gB)" stroke="#5683bf" stroke-width="0.35" />
<circle cx="100.70" cy="477.70" r="1.70" fill="url(#gR)" stroke="#b01010" stroke-width="0.35" />
<circle cx="115.80" cy="477.40" r="1.70" fill="url(#gR)" stroke="#b01010" stroke-width="0.35" />
<circle cx="108.30" cy="489.20" r="1.60" fill="url(#gR)" stroke="#b01010" stroke-width="0.35" />
<line x1="111.50" y1="495.00" x2="111.50" y2="513.50" stroke="#111" stroke-width="1.0" />
<path d="M111.50,515.50 L109.10,511.30 L111.50,512.60 L113.90,511.30 Z" fill="#111"/>
<line x1="219.90" y1="487.82" x2="225.20" y2="478.64" stroke="#74a3d8" stroke-width="1.45" stroke-linecap="round"/>
<line x1="225.20" y1="515.36" x2="219.90" y2="506.18" stroke="#74a3d8" stroke-width="1.45" stroke-linecap="round"/>
<line x1="241.10" y1="487.82" x2="235.80" y2="478.64" stroke="#74a3d8" stroke-width="1.45" stroke-linecap="round"/>
<line x1="235.80" y1="497.00" x2="237.92" y2="500.67" stroke="#e0282c" stroke-width="1.45" stroke-linecap="butt"/>
<line x1="237.92" y1="500.67" x2="241.10" y2="506.18" stroke="#74a3d8" stroke-width="1.45" stroke-linecap="butt"/>
<line x1="257.00" y1="497.00" x2="251.70" y2="506.18" stroke="#74a3d8" stroke-width="1.45" stroke-linecap="round"/>
<line x1="241.10" y1="506.18" x2="251.70" y2="506.18" stroke="#74a3d8" stroke-width="1.45" stroke-linecap="round"/>
<line x1="225.20" y1="478.64" x2="235.80" y2="478.64" stroke="#74a3d8" stroke-width="1.45" stroke-linecap="round"/>
<line x1="219.90" y1="487.82" x2="209.30" y2="487.82" stroke="#74a3d8" stroke-width="1.45" stroke-linecap="round"/>
<line x1="241.10" y1="487.82" x2="237.92" y2="493.33" stroke="#74a3d8" stroke-width="1.45" stroke-linecap="butt"/>
<line x1="237.92" y1="493.33" x2="235.80" y2="497.00" stroke="#e0282c" stroke-width="1.45" stroke-linecap="butt"/>
<line x1="219.90" y1="506.18" x2="209.30" y2="506.18" stroke="#74a3d8" stroke-width="1.45" stroke-linecap="round"/>
<line x1="235.80" y1="497.00" x2="225.20" y2="497.00" stroke="#e0282c" stroke-width="1.45" stroke-linecap="round"/>
<line x1="209.30" y1="506.18" x2="204.00" y2="497.00" stroke="#74a3d8" stroke-width="1.45" stroke-linecap="round"/>
<line x1="241.10" y1="506.18" x2="235.80" y2="515.36" stroke="#74a3d8" stroke-width="1.45" stroke-linecap="round"/>
<line x1="225.20" y1="497.00" x2="223.08" y2="493.33" stroke="#e0282c" stroke-width="1.45" stroke-linecap="butt"/>
<line x1="223.08" y1="493.33" x2="219.90" y2="487.82" stroke="#74a3d8" stroke-width="1.45" stroke-linecap="butt"/>
<line x1="225.20" y1="497.00" x2="223.08" y2="500.67" stroke="#e0282c" stroke-width="1.45" stroke-linecap="butt"/>
<line x1="223.08" y1="500.67" x2="219.90" y2="506.18" stroke="#74a3d8" stroke-width="1.45" stroke-linecap="butt"/>
<line x1="204.00" y1="497.00" x2="209.30" y2="487.82" stroke="#74a3d8" stroke-width="1.45" stroke-linecap="round"/>
<line x1="241.10" y1="487.82" x2="251.70" y2="487.82" stroke="#74a3d8" stroke-width="1.45" stroke-linecap="round"/>
<line x1="257.00" y1="497.00" x2="251.70" y2="487.82" stroke="#74a3d8" stroke-width="1.45" stroke-linecap="round"/>
<line x1="235.80" y1="515.36" x2="225.20" y2="515.36" stroke="#74a3d8" stroke-width="1.45" stroke-linecap="round"/>
<line x1="225.20" y1="478.64" x2="220.16" y2="469.92" stroke="#74a3d8" stroke-width="1.45" stroke-linecap="round"/>
<line x1="235.80" y1="478.64" x2="240.84" y2="469.92" stroke="#74a3d8" stroke-width="1.45" stroke-linecap="round"/>
<line x1="235.80" y1="515.36" x2="240.84" y2="524.08" stroke="#74a3d8" stroke-width="1.45" stroke-linecap="round"/>
<line x1="225.20" y1="515.36" x2="220.17" y2="524.08" stroke="#74a3d8" stroke-width="1.45" stroke-linecap="round"/>
<line x1="209.30" y1="506.18" x2="204.27" y2="514.90" stroke="#74a3d8" stroke-width="1.45" stroke-linecap="round"/>
<line x1="204.00" y1="497.00" x2="193.93" y2="497.00" stroke="#74a3d8" stroke-width="1.45" stroke-linecap="round"/>
<line x1="209.30" y1="487.82" x2="204.26" y2="479.10" stroke="#74a3d8" stroke-width="1.45" stroke-linecap="round"/>
<line x1="257.00" y1="497.00" x2="267.07" y2="497.00" stroke="#74a3d8" stroke-width="1.45" stroke-linecap="round"/>
<line x1="251.70" y1="506.18" x2="256.74" y2="514.90" stroke="#74a3d8" stroke-width="1.45" stroke-linecap="round"/>
<line x1="251.70" y1="487.82" x2="256.74" y2="479.10" stroke="#74a3d8" stroke-width="1.45" stroke-linecap="round"/>
<line x1="226.40" y1="497.60" x2="232.60" y2="501.60" stroke="#e0282c" stroke-width="1.45" stroke-linecap="round"/>
<circle cx="241.10" cy="487.82" r="2.15" fill="url(#gB)" stroke="#5683bf" stroke-width="0.35" />
<circle cx="235.80" cy="497.00" r="1.83" fill="url(#gR)" stroke="#b01010" stroke-width="0.35" />
<circle cx="225.20" cy="497.00" r="1.83" fill="url(#gR)" stroke="#b01010" stroke-width="0.35" />
<circle cx="219.90" cy="487.82" r="2.15" fill="url(#gB)" stroke="#5683bf" stroke-width="0.35" />
<circle cx="225.20" cy="478.64" r="2.15" fill="url(#gB)" stroke="#5683bf" stroke-width="0.35" />
<circle cx="235.80" cy="478.64" r="2.15" fill="url(#gB)" stroke="#5683bf" stroke-width="0.35" />
<circle cx="241.10" cy="506.18" r="2.15" fill="url(#gB)" stroke="#5683bf" stroke-width="0.35" />
<circle cx="235.80" cy="515.36" r="2.15" fill="url(#gB)" stroke="#5683bf" stroke-width="0.35" />
<circle cx="225.20" cy="515.36" r="2.15" fill="url(#gB)" stroke="#5683bf" stroke-width="0.35" />
<circle cx="219.90" cy="506.18" r="2.15" fill="url(#gB)" stroke="#5683bf" stroke-width="0.35" />
<circle cx="209.30" cy="506.18" r="2.15" fill="url(#gB)" stroke="#5683bf" stroke-width="0.35" />
<circle cx="204.00" cy="497.00" r="2.15" fill="url(#gB)" stroke="#5683bf" stroke-width="0.35" />
<circle cx="209.30" cy="487.82" r="2.15" fill="url(#gB)" stroke="#5683bf" stroke-width="0.35" />
<circle cx="257.00" cy="497.00" r="2.15" fill="url(#gB)" stroke="#5683bf" stroke-width="0.35" />
<circle cx="251.70" cy="506.18" r="2.15" fill="url(#gB)" stroke="#5683bf" stroke-width="0.35" />
<circle cx="251.70" cy="487.82" r="2.15" fill="url(#gB)" stroke="#5683bf" stroke-width="0.35" />
<circle cx="220.16" cy="469.92" r="2.15" fill="url(#gB)" stroke="#5683bf" stroke-width="0.35" />
<circle cx="240.84" cy="469.92" r="2.15" fill="url(#gB)" stroke="#5683bf" stroke-width="0.35" />
<circle cx="240.84" cy="524.08" r="2.15" fill="url(#gB)" stroke="#5683bf" stroke-width="0.35" />
<circle cx="220.17" cy="524.08" r="2.15" fill="url(#gB)" stroke="#5683bf" stroke-width="0.35" />
<circle cx="204.27" cy="514.90" r="2.15" fill="url(#gB)" stroke="#5683bf" stroke-width="0.35" />
<circle cx="193.93" cy="497.00" r="2.15" fill="url(#gB)" stroke="#5683bf" stroke-width="0.35" />
<circle cx="204.26" cy="479.10" r="2.15" fill="url(#gB)" stroke="#5683bf" stroke-width="0.35" />
<circle cx="267.07" cy="497.00" r="2.15" fill="url(#gB)" stroke="#5683bf" stroke-width="0.35" />
<circle cx="256.74" cy="514.90" r="2.15" fill="url(#gB)" stroke="#5683bf" stroke-width="0.35" />
<circle cx="256.74" cy="479.10" r="2.15" fill="url(#gB)" stroke="#5683bf" stroke-width="0.35" />
<circle cx="232.60" cy="501.60" r="1.70" fill="url(#gR)" stroke="#b01010" stroke-width="0.35" />
<line x1="193.20" y1="547.00" x2="203.40" y2="554.40" stroke="#74a3d8" stroke-width="1.45" stroke-linecap="round"/>
<line x1="203.40" y1="554.40" x2="208.80" y2="547.00" stroke="#74a3d8" stroke-width="1.45" stroke-linecap="round"/>
<line x1="208.80" y1="547.00" x2="219.00" y2="554.40" stroke="#74a3d8" stroke-width="1.45" stroke-linecap="round"/>
<line x1="219.00" y1="554.40" x2="224.40" y2="547.00" stroke="#74a3d8" stroke-width="1.45" stroke-linecap="round"/>
<line x1="224.40" y1="547.00" x2="234.60" y2="554.40" stroke="#74a3d8" stroke-width="1.45" stroke-linecap="round"/>
<line x1="234.60" y1="554.40" x2="240.00" y2="547.00" stroke="#74a3d8" stroke-width="1.45" stroke-linecap="round"/>
<line x1="240.00" y1="547.00" x2="250.20" y2="554.40" stroke="#74a3d8" stroke-width="1.45" stroke-linecap="round"/>
<line x1="250.20" y1="554.40" x2="255.60" y2="547.00" stroke="#74a3d8" stroke-width="1.45" stroke-linecap="round"/>
<line x1="255.60" y1="547.00" x2="265.80" y2="554.40" stroke="#74a3d8" stroke-width="1.45" stroke-linecap="round"/>
<line x1="226.90" y1="536.00" x2="231.80" y2="533.80" stroke="#e0282c" stroke-width="1.45" stroke-linecap="round"/>
<line x1="226.90" y1="536.00" x2="226.02" y2="540.40" stroke="#e0282c" stroke-width="1.45" stroke-linecap="butt"/>
<line x1="226.02" y1="540.40" x2="224.70" y2="547.00" stroke="#74a3d8" stroke-width="1.45" stroke-linecap="butt"/>
<line x1="224.70" y1="547.00" x2="230.58" y2="548.50" stroke="#74a3d8" stroke-width="1.45" stroke-linecap="butt"/>
<line x1="230.58" y1="548.50" x2="234.50" y2="549.50" stroke="#e0282c" stroke-width="1.45" stroke-linecap="butt"/>
<circle cx="193.20" cy="547.00" r="2.15" fill="url(#gB)" stroke="#5683bf" stroke-width="0.35" />
<circle cx="203.40" cy="554.40" r="2.15" fill="url(#gB)" stroke="#5683bf" stroke-width="0.35" />
<circle cx="208.80" cy="547.00" r="2.15" fill="url(#gB)" stroke="#5683bf" stroke-width="0.35" />
<circle cx="219.00" cy="554.40" r="2.15" fill="url(#gB)" stroke="#5683bf" stroke-width="0.35" />
<circle cx="224.40" cy="547.00" r="2.15" fill="url(#gB)" stroke="#5683bf" stroke-width="0.35" />
<circle cx="234.60" cy="554.40" r="2.15" fill="url(#gB)" stroke="#5683bf" stroke-width="0.35" />
<circle cx="240.00" cy="547.00" r="2.15" fill="url(#gB)" stroke="#5683bf" stroke-width="0.35" />
<circle cx="250.20" cy="554.40" r="2.15" fill="url(#gB)" stroke="#5683bf" stroke-width="0.35" />
<circle cx="255.60" cy="547.00" r="2.15" fill="url(#gB)" stroke="#5683bf" stroke-width="0.35" />
<circle cx="265.80" cy="554.40" r="2.15" fill="url(#gB)" stroke="#5683bf" stroke-width="0.35" />
<circle cx="226.90" cy="536.00" r="1.70" fill="url(#gR)" stroke="#b01010" stroke-width="0.35" />
<circle cx="231.80" cy="533.80" r="1.70" fill="url(#gR)" stroke="#b01010" stroke-width="0.35" />
<circle cx="234.50" cy="549.50" r="1.60" fill="url(#gR)" stroke="#b01010" stroke-width="0.35" />
<line x1="224.50" y1="457.40" x2="224.50" y2="431.80" stroke="#111" stroke-width="1.0" />
<path d="M224.50,429.80 L222.10,434.00 L224.50,432.70 L226.90,434.00 Z" fill="#111"/>
<line x1="324.80" y1="492.13" x2="330.15" y2="482.87" stroke="#74a3d8" stroke-width="1.45" stroke-linecap="round"/>
<line x1="330.15" y1="519.93" x2="324.80" y2="510.67" stroke="#74a3d8" stroke-width="1.45" stroke-linecap="round"/>
<line x1="346.20" y1="492.13" x2="340.85" y2="482.87" stroke="#74a3d8" stroke-width="1.45" stroke-linecap="round"/>
<line x1="340.85" y1="501.40" x2="342.99" y2="505.11" stroke="#e0282c" stroke-width="1.45" stroke-linecap="butt"/>
<line x1="342.99" y1="505.11" x2="346.20" y2="510.67" stroke="#74a3d8" stroke-width="1.45" stroke-linecap="butt"/>
<line x1="362.25" y1="501.40" x2="356.90" y2="510.67" stroke="#74a3d8" stroke-width="1.45" stroke-linecap="round"/>
<line x1="346.20" y1="510.67" x2="356.90" y2="510.67" stroke="#74a3d8" stroke-width="1.45" stroke-linecap="round"/>
<line x1="330.15" y1="482.87" x2="340.85" y2="482.87" stroke="#74a3d8" stroke-width="1.45" stroke-linecap="round"/>
<line x1="324.80" y1="492.13" x2="314.10" y2="492.13" stroke="#74a3d8" stroke-width="1.45" stroke-linecap="round"/>
<line x1="346.20" y1="492.13" x2="342.99" y2="497.69" stroke="#74a3d8" stroke-width="1.45" stroke-linecap="butt"/>
<line x1="342.99" y1="497.69" x2="340.85" y2="501.40" stroke="#e0282c" stroke-width="1.45" stroke-linecap="butt"/>
<line x1="324.80" y1="510.67" x2="314.10" y2="510.67" stroke="#74a3d8" stroke-width="1.45" stroke-linecap="round"/>
<line x1="340.85" y1="501.40" x2="336.57" y2="501.40" stroke="#e0282c" stroke-width="1.45" stroke-linecap="butt"/>
<line x1="336.57" y1="501.40" x2="330.15" y2="501.40" stroke="#74a3d8" stroke-width="1.45" stroke-linecap="butt"/>
<line x1="314.10" y1="510.67" x2="308.75" y2="501.40" stroke="#74a3d8" stroke-width="1.45" stroke-linecap="round"/>
<line x1="346.20" y1="510.67" x2="340.85" y2="519.93" stroke="#74a3d8" stroke-width="1.45" stroke-linecap="round"/>
<line x1="330.15" y1="501.40" x2="324.80" y2="492.13" stroke="#74a3d8" stroke-width="1.45" stroke-linecap="round"/>
<line x1="330.15" y1="501.40" x2="324.80" y2="510.67" stroke="#74a3d8" stroke-width="1.45" stroke-linecap="round"/>
<line x1="308.75" y1="501.40" x2="314.10" y2="492.13" stroke="#74a3d8" stroke-width="1.45" stroke-linecap="round"/>
<line x1="346.20" y1="492.13" x2="356.90" y2="492.13" stroke="#74a3d8" stroke-width="1.45" stroke-linecap="round"/>
<line x1="362.25" y1="501.40" x2="356.90" y2="492.13" stroke="#74a3d8" stroke-width="1.45" stroke-linecap="round"/>
<line x1="340.85" y1="519.93" x2="330.15" y2="519.93" stroke="#74a3d8" stroke-width="1.45" stroke-linecap="round"/>
<line x1="330.15" y1="482.87" x2="325.07" y2="474.06" stroke="#74a3d8" stroke-width="1.45" stroke-linecap="round"/>
<line x1="340.85" y1="482.87" x2="345.93" y2="474.06" stroke="#74a3d8" stroke-width="1.45" stroke-linecap="round"/>
<line x1="340.85" y1="519.93" x2="345.93" y2="528.74" stroke="#74a3d8" stroke-width="1.45" stroke-linecap="round"/>
<line x1="330.15" y1="519.93" x2="325.07" y2="528.74" stroke="#74a3d8" stroke-width="1.45" stroke-linecap="round"/>
<line x1="314.10" y1="510.67" x2="309.02" y2="519.47" stroke="#74a3d8" stroke-width="1.45" stroke-linecap="round"/>
<line x1="308.75" y1="501.40" x2="298.59" y2="501.40" stroke="#74a3d8" stroke-width="1.45" stroke-linecap="round"/>
<line x1="314.10" y1="492.13" x2="309.02" y2="483.33" stroke="#74a3d8" stroke-width="1.45" stroke-linecap="round"/>
<line x1="362.25" y1="501.40" x2="372.41" y2="501.40" stroke="#74a3d8" stroke-width="1.45" stroke-linecap="round"/>
<line x1="356.90" y1="510.67" x2="361.98" y2="519.47" stroke="#74a3d8" stroke-width="1.45" stroke-linecap="round"/>
<line x1="356.90" y1="492.13" x2="361.98" y2="483.33" stroke="#74a3d8" stroke-width="1.45" stroke-linecap="round"/>
<line x1="333.20" y1="502.60" x2="338.60" y2="505.80" stroke="#e0282c" stroke-width="1.45" stroke-linecap="round"/>
<line x1="331.40" y1="537.50" x2="337.60" y2="537.50" stroke="#e0282c" stroke-width="1.45" stroke-linecap="round"/>
<circle cx="346.20" cy="492.13" r="2.15" fill="url(#gB)" stroke="#5683bf" stroke-width="0.35" />
<circle cx="340.85" cy="501.40" r="1.83" fill="url(#gR)" stroke="#b01010" stroke-width="0.35" />
<circle cx="330.15" cy="501.40" r="2.15" fill="url(#gB)" stroke="#5683bf" stroke-width="0.35" />
<circle cx="324.80" cy="492.13" r="2.15" fill="url(#gB)" stroke="#5683bf" stroke-width="0.35" />
<circle cx="330.15" cy="482.87" r="2.15" fill="url(#gB)" stroke="#5683bf" stroke-width="0.35" />
<circle cx="340.85" cy="482.87" r="2.15" fill="url(#gB)" stroke="#5683bf" stroke-width="0.35" />
<circle cx="346.20" cy="510.67" r="2.15" fill="url(#gB)" stroke="#5683bf" stroke-width="0.35" />
<circle cx="340.85" cy="519.93" r="2.15" fill="url(#gB)" stroke="#5683bf" stroke-width="0.35" />
<circle cx="330.15" cy="519.93" r="2.15" fill="url(#gB)" stroke="#5683bf" stroke-width="0.35" />
<circle cx="324.80" cy="510.67" r="2.15" fill="url(#gB)" stroke="#5683bf" stroke-width="0.35" />
<circle cx="314.10" cy="510.67" r="2.15" fill="url(#gB)" stroke="#5683bf" stroke-width="0.35" />
<circle cx="308.75" cy="501.40" r="2.15" fill="url(#gB)" stroke="#5683bf" stroke-width="0.35" />
<circle cx="314.10" cy="492.13" r="2.15" fill="url(#gB)" stroke="#5683bf" stroke-width="0.35" />
<circle cx="362.25" cy="501.40" r="2.15" fill="url(#gB)" stroke="#5683bf" stroke-width="0.35" />
<circle cx="356.90" cy="510.67" r="2.15" fill="url(#gB)" stroke="#5683bf" stroke-width="0.35" />
<circle cx="356.90" cy="492.13" r="2.15" fill="url(#gB)" stroke="#5683bf" stroke-width="0.35" />
<circle cx="325.07" cy="474.06" r="2.15" fill="url(#gB)" stroke="#5683bf" stroke-width="0.35" />
<circle cx="345.93" cy="474.06" r="2.15" fill="url(#gB)" stroke="#5683bf" stroke-width="0.35" />
<circle cx="345.93" cy="528.74" r="2.15" fill="url(#gB)" stroke="#5683bf" stroke-width="0.35" />
<circle cx="325.07" cy="528.74" r="2.15" fill="url(#gB)" stroke="#5683bf" stroke-width="0.35" />
<circle cx="309.02" cy="519.47" r="2.15" fill="url(#gB)" stroke="#5683bf" stroke-width="0.35" />
<circle cx="298.59" cy="501.40" r="2.15" fill="url(#gB)" stroke="#5683bf" stroke-width="0.35" />
<circle cx="309.02" cy="483.33" r="2.15" fill="url(#gB)" stroke="#5683bf" stroke-width="0.35" />
<circle cx="372.41" cy="501.40" r="2.15" fill="url(#gB)" stroke="#5683bf" stroke-width="0.35" />
<circle cx="361.98" cy="519.47" r="2.15" fill="url(#gB)" stroke="#5683bf" stroke-width="0.35" />
<circle cx="361.98" cy="483.33" r="2.15" fill="url(#gB)" stroke="#5683bf" stroke-width="0.35" />
<circle cx="333.20" cy="502.60" r="1.70" fill="url(#gR)" stroke="#b01010" stroke-width="0.35" />
<circle cx="338.60" cy="505.80" r="1.70" fill="url(#gR)" stroke="#b01010" stroke-width="0.35" />
<circle cx="331.40" cy="537.50" r="1.70" fill="url(#gR)" stroke="#b01010" stroke-width="0.35" />
<circle cx="337.60" cy="537.50" r="1.70" fill="url(#gR)" stroke="#b01010" stroke-width="0.35" />
<line x1="296.40" y1="554.40" x2="306.80" y2="561.90" stroke="#74a3d8" stroke-width="1.45" stroke-linecap="round"/>
<line x1="306.80" y1="561.90" x2="312.40" y2="554.40" stroke="#74a3d8" stroke-width="1.45" stroke-linecap="round"/>
<line x1="312.40" y1="554.40" x2="322.80" y2="561.90" stroke="#74a3d8" stroke-width="1.45" stroke-linecap="round"/>
<line x1="322.80" y1="561.90" x2="328.40" y2="554.40" stroke="#74a3d8" stroke-width="1.45" stroke-linecap="round"/>
<line x1="328.40" y1="554.40" x2="338.80" y2="561.90" stroke="#74a3d8" stroke-width="1.45" stroke-linecap="round"/>
<line x1="338.80" y1="561.90" x2="344.40" y2="554.40" stroke="#74a3d8" stroke-width="1.45" stroke-linecap="round"/>
<line x1="344.40" y1="554.40" x2="354.80" y2="561.90" stroke="#74a3d8" stroke-width="1.45" stroke-linecap="round"/>
<line x1="354.80" y1="561.90" x2="360.40" y2="554.40" stroke="#74a3d8" stroke-width="1.45" stroke-linecap="round"/>
<line x1="360.40" y1="554.40" x2="370.80" y2="561.90" stroke="#74a3d8" stroke-width="1.45" stroke-linecap="round"/>
<circle cx="296.40" cy="554.40" r="2.15" fill="url(#gB)" stroke="#5683bf" stroke-width="0.35" />
<circle cx="306.80" cy="561.90" r="2.15" fill="url(#gB)" stroke="#5683bf" stroke-width="0.35" />
<circle cx="312.40" cy="554.40" r="2.15" fill="url(#gB)" stroke="#5683bf" stroke-width="0.35" />
<circle cx="322.80" cy="561.90" r="2.15" fill="url(#gB)" stroke="#5683bf" stroke-width="0.35" />
<circle cx="328.40" cy="554.40" r="2.15" fill="url(#gB)" stroke="#5683bf" stroke-width="0.35" />
<circle cx="338.80" cy="561.90" r="2.15" fill="url(#gB)" stroke="#5683bf" stroke-width="0.35" />
<circle cx="344.40" cy="554.40" r="2.15" fill="url(#gB)" stroke="#5683bf" stroke-width="0.35" />
<circle cx="354.80" cy="561.90" r="2.15" fill="url(#gB)" stroke="#5683bf" stroke-width="0.35" />
<circle cx="360.40" cy="554.40" r="2.15" fill="url(#gB)" stroke="#5683bf" stroke-width="0.35" />
<circle cx="370.80" cy="561.90" r="2.15" fill="url(#gB)" stroke="#5683bf" stroke-width="0.35" />
<circle cx="339.40" cy="558.00" r="1.60" fill="url(#gR)" stroke="#b01010" stroke-width="0.35" />
<line x1="336.50" y1="471.10" x2="336.50" y2="458.50" stroke="#111" stroke-width="1.0" />
<path d="M336.50,456.50 L334.10,460.70 L336.50,459.40 L338.90,460.70 Z" fill="#111"/>
<path d="M111.60,526.50 L113.00,526.02 L114.41,525.55 L115.81,525.07 L117.21,524.59 L118.61,524.10 L120.01,523.61 L121.42,523.11 L122.82,522.60 L124.22,522.08 L125.62,521.54 L127.03,521.00 L128.43,520.43 L129.83,519.86 L131.23,519.26 L132.64,518.65 L134.04,518.01 L135.44,517.35 L136.84,516.67 L138.25,515.97 L139.65,515.24 L141.05,514.49 L142.45,513.70 L143.86,512.89 L145.26,512.04 L146.66,511.16 L148.06,510.25 L149.47,509.31 L150.87,508.32 L152.27,507.30 L153.68,506.24 L155.08,505.14 L156.48,504.00 L157.88,502.82 L159.28,501.59 L160.69,500.31 L162.09,498.99 L163.49,497.62 L164.89,496.19 L166.30,494.72 L167.70,493.20 L169.10,491.62 L170.50,489.99 L171.91,488.31 L173.31,486.59 L174.71,484.83 L176.12,483.02 L177.52,481.19 L178.92,479.31 L180.32,477.41 L181.72,475.49 L183.13,473.53 L184.53,471.56 L185.93,469.57 L187.34,467.57 L188.74,465.55 L190.14,463.53 L191.54,461.49 L192.94,459.46 L194.35,457.43 L195.75,455.40 L197.15,453.38 L198.56,451.36 L199.96,449.36 L201.36,447.38 L202.76,445.41 L204.16,443.46 L205.57,441.54 L206.97,439.65 L208.37,437.79 L209.77,435.96 L211.18,434.17 L212.58,432.41 L213.98,430.70 L215.38,429.04 L216.79,427.42 L218.19,425.86 L219.59,424.35 L221.00,422.90 L222.40,421.51 L223.80,420.18 L225.20,418.92 L226.60,417.73 L228.01,416.60 L229.41,415.53 L230.81,414.53 L232.21,413.59 L233.62,412.71 L235.02,411.89 L236.42,411.13 L237.82,410.42 L239.23,409.78 L240.63,409.19 L242.03,408.65 L243.44,408.17 L244.84,407.74 L246.24,407.36 L247.64,407.04 L249.05,406.76 L250.45,406.54 L251.85,406.36 L253.25,406.23 L254.66,406.14 L256.06,406.10 L257.46,406.10 L258.86,406.15 L260.26,406.24 L261.67,406.36 L263.07,406.53 L264.47,406.74 L265.88,406.99 L267.28,407.27 L268.68,407.59 L270.08,407.94 L271.49,408.33 L272.89,408.75 L274.29,409.21 L275.69,409.69 L277.10,410.21 L278.50,410.75 L279.90,411.32 L281.30,411.92 L282.70,412.55 L284.11,413.20 L285.51,413.88 L286.91,414.58 L288.31,415.30 L289.72,416.05 L291.12,416.82 L292.52,417.61 L293.93,418.42 L295.33,419.26 L296.73,420.11 L298.13,420.98 L299.53,421.87 L300.94,422.78 L302.34,423.70 L303.74,424.64 L305.14,425.60 L306.55,426.57 L307.95,427.55 L309.35,428.55 L310.75,429.56 L312.16,430.59 L313.56,431.62 L314.96,432.67 L316.37,433.73 L317.77,434.79 L319.17,435.87 L320.57,436.95 L321.98,438.04 L323.38,439.14 L324.78,440.24 L326.18,441.35 L327.59,442.46 L328.99,443.58 L330.39,444.70 L331.79,445.83 L333.20,446.95 L334.60,448.08 L336.00,449.21" stroke="#111" stroke-width="1.3" fill="none" />
<circle cx="111.60" cy="526.50" r="5.45" fill="#0aa0f0" stroke="none" stroke-width="0" />
<circle cx="167.70" cy="493.20" r="5.45" fill="#0aa0f0" stroke="none" stroke-width="0" />
<circle cx="223.80" cy="420.18" r="5.45" fill="#0aa0f0" stroke="none" stroke-width="0" />
<circle cx="279.90" cy="411.32" r="5.45" fill="#0aa0f0" stroke="none" stroke-width="0" />
<circle cx="336.00" cy="449.21" r="5.45" fill="#0aa0f0" stroke="none" stroke-width="0" />
<rect x="69.70" y="629.70" width="314.30" height="198.20" stroke="#1e1e1e" stroke-width="1.3" fill="none" />
<line x1="64.70" y1="827.90" x2="69.70" y2="827.90" stroke="#2a2a2a" stroke-width="1.2" />
<text x="61.80" y="832.20" font-size="13" text-anchor="end" fill="#111" font-family="'Liberation Sans', sans-serif" >-4</text>
<line x1="64.70" y1="797.45" x2="69.70" y2="797.45" stroke="#2a2a2a" stroke-width="1.2" />
<line x1="384.00" y1="797.45" x2="379.00" y2="797.45" stroke="#2a2a2a" stroke-width="1.2" />
<text x="61.80" y="801.75" font-size="13" text-anchor="end" fill="#111" font-family="'Liberation Sans', sans-serif" >-3</text>
<line x1="64.70" y1="767.00" x2="69.70" y2="767.00" stroke="#2a2a2a" stroke-width="1.2" />
<line x1="384.00" y1="767.00" x2="379.00" y2="767.00" stroke="#2a2a2a" stroke-width="1.2" />
<text x="61.80" y="771.30" font-size="13" text-anchor="end" fill="#111" font-family="'Liberation Sans', sans-serif" >-2</text>
<line x1="64.70" y1="736.55" x2="69.70" y2="736.55" stroke="#2a2a2a" stroke-width="1.2" />
<line x1="384.00" y1="736.55" x2="379.00" y2="736.55" stroke="#2a2a2a" stroke-width="1.2" />
<text x="61.80" y="740.85" font-size="13" text-anchor="end" fill="#111" font-family="'Liberation Sans', sans-serif" >-1</text>
<line x1="64.70" y1="706.10" x2="69.70" y2="706.10" stroke="#2a2a2a" stroke-width="1.2" />
<line x1="384.00" y1="706.10" x2="379.00" y2="706.10" stroke="#2a2a2a" stroke-width="1.2" />
<text x="61.80" y="710.40" font-size="13" text-anchor="end" fill="#111" font-family="'Liberation Sans', sans-serif" >0</text>
<line x1="64.70" y1="675.65" x2="69.70" y2="675.65" stroke="#2a2a2a" stroke-width="1.2" />
<line x1="384.00" y1="675.65" x2="379.00" y2="675.65" stroke="#2a2a2a" stroke-width="1.2" />
<text x="61.80" y="679.95" font-size="13" text-anchor="end" fill="#111" font-family="'Liberation Sans', sans-serif" >1</text>
<line x1="64.70" y1="645.20" x2="69.70" y2="645.20" stroke="#2a2a2a" stroke-width="1.2" />
<line x1="384.00" y1="645.20" x2="379.00" y2="645.20" stroke="#2a2a2a" stroke-width="1.2" />
<text x="61.80" y="649.50" font-size="13" text-anchor="end" fill="#111" font-family="'Liberation Sans', sans-serif" >2</text>
<line x1="114.60" y1="827.90" x2="114.60" y2="832.40" stroke="#2a2a2a" stroke-width="1.2" />
<line x1="114.60" y1="629.70" x2="114.60" y2="634.70" stroke="#2a2a2a" stroke-width="1.2" />
<text x="114.60" y="851.20" font-size="13" text-anchor="middle" fill="#111" font-family="'Liberation Sans', sans-serif" >0</text>
<line x1="170.80" y1="827.90" x2="170.80" y2="832.40" stroke="#2a2a2a" stroke-width="1.2" />
<line x1="170.80" y1="629.70" x2="170.80" y2="634.70" stroke="#2a2a2a" stroke-width="1.2" />
<text x="170.80" y="851.20" font-size="13" text-anchor="middle" fill="#111" font-family="'Liberation Sans', sans-serif" >1</text>
<line x1="227.00" y1="827.90" x2="227.00" y2="832.40" stroke="#2a2a2a" stroke-width="1.2" />
<line x1="227.00" y1="629.70" x2="227.00" y2="634.70" stroke="#2a2a2a" stroke-width="1.2" />
<text x="227.00" y="851.20" font-size="13" text-anchor="middle" fill="#111" font-family="'Liberation Sans', sans-serif" >2</text>
<line x1="283.20" y1="827.90" x2="283.20" y2="832.40" stroke="#2a2a2a" stroke-width="1.2" />
<line x1="283.20" y1="629.70" x2="283.20" y2="634.70" stroke="#2a2a2a" stroke-width="1.2" />
<text x="283.20" y="851.20" font-size="13" text-anchor="middle" fill="#111" font-family="'Liberation Sans', sans-serif" >3</text>
<line x1="339.40" y1="827.90" x2="339.40" y2="832.40" stroke="#2a2a2a" stroke-width="1.2" />
<line x1="339.40" y1="629.70" x2="339.40" y2="634.70" stroke="#2a2a2a" stroke-width="1.2" />
<text x="339.40" y="851.20" font-size="13" text-anchor="middle" fill="#111" font-family="'Liberation Sans', sans-serif" >4</text>
<text x="226.85" y="870.20" font-size="15.2" text-anchor="middle" fill="#111" font-family="'Liberation Sans', sans-serif" >NEB Image</text>
<text transform="translate(40.10,728.80) rotate(-90)" x="0" y="0" font-size="15.1" text-anchor="middle" fill="#111" font-family="'Liberation Sans', sans-serif">Energy (eV)</text>
<text x="4.90" y="647.40" font-size="19" text-anchor="start" fill="#111" font-family="'Liberation Serif', serif" >(d)</text>
<text x="190.50" y="652.60" font-size="13.0" text-anchor="start" fill="#111" font-family="'Liberation Sans', sans-serif" >H</text>
<text x="200.59" y="656.60" font-size="8.84" text-anchor="start" fill="#111" font-family="'Liberation Sans', sans-serif" >2</text>
<text x="205.50" y="652.60" font-size="13.0" text-anchor="start" fill="#111" font-family="'Liberation Sans', sans-serif" >O</text>
<line x1="218.62" y1="647.60" x2="230.62" y2="647.60" stroke="#111" stroke-width="1.55" />
<path d="M233.42,647.60 L228.89,649.71 L230.42,647.60 L228.89,645.49 Z" fill="#111"/>
<text x="236.12" y="652.60" font-size="13.0" text-anchor="start" fill="#111" font-family="'Liberation Sans', sans-serif" >OH*</text>
<line x1="115.90" y1="749.28" x2="121.05" y2="740.36" stroke="#74a3d8" stroke-width="1.45" stroke-linecap="round"/>
<line x1="121.05" y1="776.04" x2="115.90" y2="767.12" stroke="#74a3d8" stroke-width="1.45" stroke-linecap="round"/>
<line x1="136.50" y1="749.28" x2="131.35" y2="740.36" stroke="#74a3d8" stroke-width="1.45" stroke-linecap="round"/>
<line x1="131.35" y1="758.20" x2="133.41" y2="761.77" stroke="#e0282c" stroke-width="1.45" stroke-linecap="butt"/>
<line x1="133.41" y1="761.77" x2="136.50" y2="767.12" stroke="#74a3d8" stroke-width="1.45" stroke-linecap="butt"/>
<line x1="151.95" y1="758.20" x2="146.80" y2="767.12" stroke="#74a3d8" stroke-width="1.45" stroke-linecap="round"/>
<line x1="136.50" y1="767.12" x2="146.80" y2="767.12" stroke="#74a3d8" stroke-width="1.45" stroke-linecap="round"/>
<line x1="121.05" y1="740.36" x2="131.35" y2="740.36" stroke="#74a3d8" stroke-width="1.45" stroke-linecap="round"/>
<line x1="115.90" y1="749.28" x2="105.60" y2="749.28" stroke="#74a3d8" stroke-width="1.45" stroke-linecap="round"/>
<line x1="136.50" y1="749.28" x2="133.41" y2="754.63" stroke="#74a3d8" stroke-width="1.45" stroke-linecap="butt"/>
<line x1="133.41" y1="754.63" x2="131.35" y2="758.20" stroke="#e0282c" stroke-width="1.45" stroke-linecap="butt"/>
<line x1="115.90" y1="767.12" x2="105.60" y2="767.12" stroke="#74a3d8" stroke-width="1.45" stroke-linecap="round"/>
<line x1="131.35" y1="758.20" x2="121.05" y2="758.20" stroke="#e0282c" stroke-width="1.45" stroke-linecap="round"/>
<line x1="105.60" y1="767.12" x2="100.45" y2="758.20" stroke="#74a3d8" stroke-width="1.45" stroke-linecap="round"/>
<line x1="136.50" y1="767.12" x2="131.35" y2="776.04" stroke="#74a3d8" stroke-width="1.45" stroke-linecap="round"/>
<line x1="121.05" y1="758.20" x2="118.99" y2="754.63" stroke="#e0282c" stroke-width="1.45" stroke-linecap="butt"/>
<line x1="118.99" y1="754.63" x2="115.90" y2="749.28" stroke="#74a3d8" stroke-width="1.45" stroke-linecap="butt"/>
<line x1="121.05" y1="758.20" x2="118.99" y2="761.77" stroke="#e0282c" stroke-width="1.45" stroke-linecap="butt"/>
<line x1="118.99" y1="761.77" x2="115.90" y2="767.12" stroke="#74a3d8" stroke-width="1.45" stroke-linecap="butt"/>
<line x1="100.45" y1="758.20" x2="105.60" y2="749.28" stroke="#74a3d8" stroke-width="1.45" stroke-linecap="round"/>
<line x1="136.50" y1="749.28" x2="146.80" y2="749.28" stroke="#74a3d8" stroke-width="1.45" stroke-linecap="round"/>
<line x1="151.95" y1="758.20" x2="146.80" y2="749.28" stroke="#74a3d8" stroke-width="1.45" stroke-linecap="round"/>
<line x1="131.35" y1="776.04" x2="121.05" y2="776.04" stroke="#74a3d8" stroke-width="1.45" stroke-linecap="round"/>
<line x1="121.05" y1="740.36" x2="116.16" y2="731.89" stroke="#74a3d8" stroke-width="1.45" stroke-linecap="round"/>
<line x1="131.35" y1="740.36" x2="136.24" y2="731.89" stroke="#74a3d8" stroke-width="1.45" stroke-linecap="round"/>
<line x1="131.35" y1="776.04" x2="136.24" y2="784.51" stroke="#74a3d8" stroke-width="1.45" stroke-linecap="round"/>
<line x1="121.05" y1="776.04" x2="116.16" y2="784.51" stroke="#74a3d8" stroke-width="1.45" stroke-linecap="round"/>
<line x1="105.60" y1="767.12" x2="100.71" y2="775.59" stroke="#74a3d8" stroke-width="1.45" stroke-linecap="round"/>
<line x1="100.45" y1="758.20" x2="90.67" y2="758.20" stroke="#74a3d8" stroke-width="1.45" stroke-linecap="round"/>
<line x1="105.60" y1="749.28" x2="100.71" y2="740.81" stroke="#74a3d8" stroke-width="1.45" stroke-linecap="round"/>
<line x1="151.95" y1="758.20" x2="161.74" y2="758.20" stroke="#74a3d8" stroke-width="1.45" stroke-linecap="round"/>
<line x1="146.80" y1="767.12" x2="151.69" y2="775.59" stroke="#74a3d8" stroke-width="1.45" stroke-linecap="round"/>
<line x1="146.80" y1="749.28" x2="151.69" y2="740.81" stroke="#74a3d8" stroke-width="1.45" stroke-linecap="round"/>
<circle cx="136.50" cy="749.28" r="2.15" fill="url(#gB)" stroke="#5683bf" stroke-width="0.35" />
<circle cx="131.35" cy="758.20" r="1.83" fill="url(#gR)" stroke="#b01010" stroke-width="0.35" />
<circle cx="121.05" cy="758.20" r="1.83" fill="url(#gR)" stroke="#b01010" stroke-width="0.35" />
<circle cx="115.90" cy="749.28" r="2.15" fill="url(#gB)" stroke="#5683bf" stroke-width="0.35" />
<circle cx="121.05" cy="740.36" r="2.15" fill="url(#gB)" stroke="#5683bf" stroke-width="0.35" />
<circle cx="131.35" cy="740.36" r="2.15" fill="url(#gB)" stroke="#5683bf" stroke-width="0.35" />
<circle cx="136.50" cy="767.12" r="2.15" fill="url(#gB)" stroke="#5683bf" stroke-width="0.35" />
<circle cx="131.35" cy="776.04" r="2.15" fill="url(#gB)" stroke="#5683bf" stroke-width="0.35" />
<circle cx="121.05" cy="776.04" r="2.15" fill="url(#gB)" stroke="#5683bf" stroke-width="0.35" />
<circle cx="115.90" cy="767.12" r="2.15" fill="url(#gB)" stroke="#5683bf" stroke-width="0.35" />
<circle cx="105.60" cy="767.12" r="2.15" fill="url(#gB)" stroke="#5683bf" stroke-width="0.35" />
<circle cx="100.45" cy="758.20" r="2.15" fill="url(#gB)" stroke="#5683bf" stroke-width="0.35" />
<circle cx="105.60" cy="749.28" r="2.15" fill="url(#gB)" stroke="#5683bf" stroke-width="0.35" />
<circle cx="151.95" cy="758.20" r="2.15" fill="url(#gB)" stroke="#5683bf" stroke-width="0.35" />
<circle cx="146.80" cy="767.12" r="2.15" fill="url(#gB)" stroke="#5683bf" stroke-width="0.35" />
<circle cx="146.80" cy="749.28" r="2.15" fill="url(#gB)" stroke="#5683bf" stroke-width="0.35" />
<circle cx="116.16" cy="731.89" r="2.15" fill="url(#gB)" stroke="#5683bf" stroke-width="0.35" />
<circle cx="136.24" cy="731.89" r="2.15" fill="url(#gB)" stroke="#5683bf" stroke-width="0.35" />
<circle cx="136.24" cy="784.51" r="2.15" fill="url(#gB)" stroke="#5683bf" stroke-width="0.35" />
<circle cx="116.16" cy="784.51" r="2.15" fill="url(#gB)" stroke="#5683bf" stroke-width="0.35" />
<circle cx="100.71" cy="775.59" r="2.15" fill="url(#gB)" stroke="#5683bf" stroke-width="0.35" />
<circle cx="90.67" cy="758.20" r="2.15" fill="url(#gB)" stroke="#5683bf" stroke-width="0.35" />
<circle cx="100.71" cy="740.81" r="2.15" fill="url(#gB)" stroke="#5683bf" stroke-width="0.35" />
<circle cx="161.74" cy="758.20" r="2.15" fill="url(#gB)" stroke="#5683bf" stroke-width="0.35" />
<circle cx="151.69" cy="775.59" r="2.15" fill="url(#gB)" stroke="#5683bf" stroke-width="0.35" />
<circle cx="151.69" cy="740.81" r="2.15" fill="url(#gB)" stroke="#5683bf" stroke-width="0.35" />
<circle cx="122.60" cy="755.40" r="1.65" fill="url(#gG)" stroke="#20a028" stroke-width="0.35" />
<circle cx="123.90" cy="762.60" r="1.65" fill="url(#gG)" stroke="#20a028" stroke-width="0.35" />
<circle cx="123.20" cy="795.20" r="1.80" fill="url(#gR)" stroke="#b01010" stroke-width="0.35" />
<circle cx="125.40" cy="792.70" r="1.65" fill="url(#gG)" stroke="#20a028" stroke-width="0.35" />
<circle cx="126.60" cy="795.00" r="1.65" fill="url(#gG)" stroke="#20a028" stroke-width="0.35" />
<line x1="92.40" y1="812.40" x2="102.90" y2="819.30" stroke="#74a3d8" stroke-width="1.45" stroke-linecap="round"/>
<line x1="102.90" y1="819.30" x2="108.10" y2="812.40" stroke="#74a3d8" stroke-width="1.45" stroke-linecap="round"/>
<line x1="108.10" y1="812.40" x2="118.60" y2="819.30" stroke="#74a3d8" stroke-width="1.45" stroke-linecap="round"/>
<line x1="118.60" y1="819.30" x2="123.80" y2="812.40" stroke="#74a3d8" stroke-width="1.45" stroke-linecap="round"/>
<line x1="123.80" y1="812.40" x2="134.30" y2="819.30" stroke="#74a3d8" stroke-width="1.45" stroke-linecap="round"/>
<line x1="134.30" y1="819.30" x2="139.50" y2="812.40" stroke="#74a3d8" stroke-width="1.45" stroke-linecap="round"/>
<line x1="139.50" y1="812.40" x2="150.00" y2="819.30" stroke="#74a3d8" stroke-width="1.45" stroke-linecap="round"/>
<line x1="150.00" y1="819.30" x2="155.20" y2="812.40" stroke="#74a3d8" stroke-width="1.45" stroke-linecap="round"/>
<line x1="155.20" y1="812.40" x2="165.70" y2="819.30" stroke="#74a3d8" stroke-width="1.45" stroke-linecap="round"/>
<circle cx="92.40" cy="812.40" r="2.15" fill="url(#gB)" stroke="#5683bf" stroke-width="0.35" />
<circle cx="102.90" cy="819.30" r="2.15" fill="url(#gB)" stroke="#5683bf" stroke-width="0.35" />
<circle cx="108.10" cy="812.40" r="2.15" fill="url(#gB)" stroke="#5683bf" stroke-width="0.35" />
<circle cx="118.60" cy="819.30" r="2.15" fill="url(#gB)" stroke="#5683bf" stroke-width="0.35" />
<circle cx="123.80" cy="812.40" r="2.15" fill="url(#gB)" stroke="#5683bf" stroke-width="0.35" />
<circle cx="134.30" cy="819.30" r="2.15" fill="url(#gB)" stroke="#5683bf" stroke-width="0.35" />
<circle cx="139.50" cy="812.40" r="2.15" fill="url(#gB)" stroke="#5683bf" stroke-width="0.35" />
<circle cx="150.00" cy="819.30" r="2.15" fill="url(#gB)" stroke="#5683bf" stroke-width="0.35" />
<circle cx="155.20" cy="812.40" r="2.15" fill="url(#gB)" stroke="#5683bf" stroke-width="0.35" />
<circle cx="165.70" cy="819.30" r="2.15" fill="url(#gB)" stroke="#5683bf" stroke-width="0.35" />
<circle cx="134.30" cy="815.50" r="1.60" fill="url(#gR)" stroke="#b01010" stroke-width="0.35" />
<line x1="114.50" y1="726.90" x2="114.50" y2="716.40" stroke="#111" stroke-width="1.0" />
<path d="M114.50,714.40 L112.10,718.60 L114.50,717.30 L116.90,718.60 Z" fill="#111"/>
<line x1="224.55" y1="725.05" x2="229.78" y2="716.00" stroke="#74a3d8" stroke-width="1.45" stroke-linecap="round"/>
<line x1="229.78" y1="752.20" x2="224.55" y2="743.15" stroke="#74a3d8" stroke-width="1.45" stroke-linecap="round"/>
<line x1="245.45" y1="725.05" x2="240.22" y2="716.00" stroke="#74a3d8" stroke-width="1.45" stroke-linecap="round"/>
<line x1="242.40" y1="734.10" x2="243.62" y2="737.72" stroke="#e0282c" stroke-width="1.45" stroke-linecap="butt"/>
<line x1="243.62" y1="737.72" x2="245.45" y2="743.15" stroke="#74a3d8" stroke-width="1.45" stroke-linecap="butt"/>
<line x1="261.12" y1="734.10" x2="255.90" y2="743.15" stroke="#74a3d8" stroke-width="1.45" stroke-linecap="round"/>
<line x1="245.45" y1="743.15" x2="255.90" y2="743.15" stroke="#74a3d8" stroke-width="1.45" stroke-linecap="round"/>
<line x1="229.78" y1="716.00" x2="240.22" y2="716.00" stroke="#74a3d8" stroke-width="1.45" stroke-linecap="round"/>
<line x1="224.55" y1="725.05" x2="214.10" y2="725.05" stroke="#74a3d8" stroke-width="1.45" stroke-linecap="round"/>
<line x1="245.45" y1="725.05" x2="243.62" y2="730.48" stroke="#74a3d8" stroke-width="1.45" stroke-linecap="butt"/>
<line x1="243.62" y1="730.48" x2="242.40" y2="734.10" stroke="#e0282c" stroke-width="1.45" stroke-linecap="butt"/>
<line x1="224.55" y1="743.15" x2="214.10" y2="743.15" stroke="#74a3d8" stroke-width="1.45" stroke-linecap="round"/>
<line x1="242.40" y1="734.10" x2="237.35" y2="734.10" stroke="#e0282c" stroke-width="1.45" stroke-linecap="butt"/>
<line x1="237.35" y1="734.10" x2="229.78" y2="734.10" stroke="#74a3d8" stroke-width="1.45" stroke-linecap="butt"/>
<line x1="214.10" y1="743.15" x2="208.88" y2="734.10" stroke="#74a3d8" stroke-width="1.45" stroke-linecap="round"/>
<line x1="245.45" y1="743.15" x2="240.22" y2="752.20" stroke="#74a3d8" stroke-width="1.45" stroke-linecap="round"/>
<line x1="229.78" y1="734.10" x2="224.55" y2="725.05" stroke="#74a3d8" stroke-width="1.45" stroke-linecap="round"/>
<line x1="229.78" y1="734.10" x2="224.55" y2="743.15" stroke="#74a3d8" stroke-width="1.45" stroke-linecap="round"/>
<line x1="208.88" y1="734.10" x2="214.10" y2="725.05" stroke="#74a3d8" stroke-width="1.45" stroke-linecap="round"/>
<line x1="245.45" y1="725.05" x2="255.90" y2="725.05" stroke="#74a3d8" stroke-width="1.45" stroke-linecap="round"/>
<line x1="261.12" y1="734.10" x2="255.90" y2="725.05" stroke="#74a3d8" stroke-width="1.45" stroke-linecap="round"/>
<line x1="240.22" y1="752.20" x2="229.78" y2="752.20" stroke="#74a3d8" stroke-width="1.45" stroke-linecap="round"/>
<line x1="229.78" y1="716.00" x2="224.81" y2="707.40" stroke="#74a3d8" stroke-width="1.45" stroke-linecap="round"/>
<line x1="240.22" y1="716.00" x2="245.19" y2="707.40" stroke="#74a3d8" stroke-width="1.45" stroke-linecap="round"/>
<line x1="240.22" y1="752.20" x2="245.19" y2="760.80" stroke="#74a3d8" stroke-width="1.45" stroke-linecap="round"/>
<line x1="229.78" y1="752.20" x2="224.81" y2="760.80" stroke="#74a3d8" stroke-width="1.45" stroke-linecap="round"/>
<line x1="214.10" y1="743.15" x2="209.14" y2="751.75" stroke="#74a3d8" stroke-width="1.45" stroke-linecap="round"/>
<line x1="208.88" y1="734.10" x2="198.95" y2="734.10" stroke="#74a3d8" stroke-width="1.45" stroke-linecap="round"/>
<line x1="214.10" y1="725.05" x2="209.14" y2="716.45" stroke="#74a3d8" stroke-width="1.45" stroke-linecap="round"/>
<line x1="261.12" y1="734.10" x2="271.05" y2="734.10" stroke="#74a3d8" stroke-width="1.45" stroke-linecap="round"/>
<line x1="255.90" y1="743.15" x2="260.86" y2="751.75" stroke="#74a3d8" stroke-width="1.45" stroke-linecap="round"/>
<line x1="255.90" y1="725.05" x2="260.86" y2="716.45" stroke="#74a3d8" stroke-width="1.45" stroke-linecap="round"/>
<line x1="222.60" y1="734.50" x2="225.48" y2="734.50" stroke="#e0282c" stroke-width="1.45" stroke-linecap="butt"/>
<line x1="225.48" y1="734.50" x2="229.80" y2="734.50" stroke="#74a3d8" stroke-width="1.45" stroke-linecap="butt"/>
<circle cx="245.45" cy="725.05" r="2.15" fill="url(#gB)" stroke="#5683bf" stroke-width="0.35" />
<circle cx="242.40" cy="734.10" r="1.83" fill="url(#gR)" stroke="#b01010" stroke-width="0.35" />
<circle cx="229.78" cy="734.10" r="2.15" fill="url(#gB)" stroke="#5683bf" stroke-width="0.35" />
<circle cx="224.55" cy="725.05" r="2.15" fill="url(#gB)" stroke="#5683bf" stroke-width="0.35" />
<circle cx="229.78" cy="716.00" r="2.15" fill="url(#gB)" stroke="#5683bf" stroke-width="0.35" />
<circle cx="240.22" cy="716.00" r="2.15" fill="url(#gB)" stroke="#5683bf" stroke-width="0.35" />
<circle cx="245.45" cy="743.15" r="2.15" fill="url(#gB)" stroke="#5683bf" stroke-width="0.35" />
<circle cx="240.22" cy="752.20" r="2.15" fill="url(#gB)" stroke="#5683bf" stroke-width="0.35" />
<circle cx="229.78" cy="752.20" r="2.15" fill="url(#gB)" stroke="#5683bf" stroke-width="0.35" />
<circle cx="224.55" cy="743.15" r="2.15" fill="url(#gB)" stroke="#5683bf" stroke-width="0.35" />
<circle cx="214.10" cy="743.15" r="2.15" fill="url(#gB)" stroke="#5683bf" stroke-width="0.35" />
<circle cx="208.88" cy="734.10" r="2.15" fill="url(#gB)" stroke="#5683bf" stroke-width="0.35" />
<circle cx="214.10" cy="725.05" r="2.15" fill="url(#gB)" stroke="#5683bf" stroke-width="0.35" />
<circle cx="261.12" cy="734.10" r="2.15" fill="url(#gB)" stroke="#5683bf" stroke-width="0.35" />
<circle cx="255.90" cy="743.15" r="2.15" fill="url(#gB)" stroke="#5683bf" stroke-width="0.35" />
<circle cx="255.90" cy="725.05" r="2.15" fill="url(#gB)" stroke="#5683bf" stroke-width="0.35" />
<circle cx="224.81" cy="707.40" r="2.15" fill="url(#gB)" stroke="#5683bf" stroke-width="0.35" />
<circle cx="245.19" cy="707.40" r="2.15" fill="url(#gB)" stroke="#5683bf" stroke-width="0.35" />
<circle cx="245.19" cy="760.80" r="2.15" fill="url(#gB)" stroke="#5683bf" stroke-width="0.35" />
<circle cx="224.81" cy="760.80" r="2.15" fill="url(#gB)" stroke="#5683bf" stroke-width="0.35" />
<circle cx="209.14" cy="751.75" r="2.15" fill="url(#gB)" stroke="#5683bf" stroke-width="0.35" />
<circle cx="198.95" cy="734.10" r="2.15" fill="url(#gB)" stroke="#5683bf" stroke-width="0.35" />
<circle cx="209.14" cy="716.45" r="2.15" fill="url(#gB)" stroke="#5683bf" stroke-width="0.35" />
<circle cx="271.05" cy="734.10" r="2.15" fill="url(#gB)" stroke="#5683bf" stroke-width="0.35" />
<circle cx="260.86" cy="751.75" r="2.15" fill="url(#gB)" stroke="#5683bf" stroke-width="0.35" />
<circle cx="260.86" cy="716.45" r="2.15" fill="url(#gB)" stroke="#5683bf" stroke-width="0.35" />
<circle cx="222.60" cy="734.50" r="1.80" fill="url(#gR)" stroke="#b01010" stroke-width="0.35" />
<circle cx="224.10" cy="730.70" r="1.65" fill="url(#gG)" stroke="#20a028" stroke-width="0.35" />
<circle cx="229.10" cy="738.60" r="1.65" fill="url(#gG)" stroke="#20a028" stroke-width="0.35" />
<line x1="195.70" y1="784.20" x2="206.90" y2="792.10" stroke="#74a3d8" stroke-width="1.45" stroke-linecap="round"/>
<line x1="206.90" y1="792.10" x2="212.00" y2="784.20" stroke="#74a3d8" stroke-width="1.45" stroke-linecap="round"/>
<line x1="212.00" y1="784.20" x2="223.20" y2="792.10" stroke="#74a3d8" stroke-width="1.45" stroke-linecap="round"/>
<line x1="223.20" y1="792.10" x2="228.30" y2="784.20" stroke="#74a3d8" stroke-width="1.45" stroke-linecap="round"/>
<line x1="228.30" y1="784.20" x2="239.50" y2="792.10" stroke="#74a3d8" stroke-width="1.45" stroke-linecap="round"/>
<line x1="239.50" y1="792.10" x2="244.60" y2="784.20" stroke="#74a3d8" stroke-width="1.45" stroke-linecap="round"/>
<line x1="244.60" y1="784.20" x2="255.80" y2="792.10" stroke="#74a3d8" stroke-width="1.45" stroke-linecap="round"/>
<line x1="255.80" y1="792.10" x2="260.90" y2="784.20" stroke="#74a3d8" stroke-width="1.45" stroke-linecap="round"/>
<line x1="260.90" y1="784.20" x2="272.10" y2="792.10" stroke="#74a3d8" stroke-width="1.45" stroke-linecap="round"/>
<line x1="221.10" y1="775.20" x2="224.22" y2="778.80" stroke="#e0282c" stroke-width="1.45" stroke-linecap="butt"/>
<line x1="224.22" y1="778.80" x2="228.90" y2="784.20" stroke="#74a3d8" stroke-width="1.45" stroke-linecap="butt"/>
<line x1="228.90" y1="784.20" x2="236.76" y2="787.80" stroke="#74a3d8" stroke-width="1.45" stroke-linecap="butt"/>
<line x1="236.76" y1="787.80" x2="242.00" y2="790.20" stroke="#e0282c" stroke-width="1.45" stroke-linecap="butt"/>
<circle cx="195.70" cy="784.20" r="2.15" fill="url(#gB)" stroke="#5683bf" stroke-width="0.35" />
<circle cx="206.90" cy="792.10" r="2.15" fill="url(#gB)" stroke="#5683bf" stroke-width="0.35" />
<circle cx="212.00" cy="784.20" r="2.15" fill="url(#gB)" stroke="#5683bf" stroke-width="0.35" />
<circle cx="223.20" cy="792.10" r="2.15" fill="url(#gB)" stroke="#5683bf" stroke-width="0.35" />
<circle cx="228.30" cy="784.20" r="2.15" fill="url(#gB)" stroke="#5683bf" stroke-width="0.35" />
<circle cx="239.50" cy="792.10" r="2.15" fill="url(#gB)" stroke="#5683bf" stroke-width="0.35" />
<circle cx="244.60" cy="784.20" r="2.15" fill="url(#gB)" stroke="#5683bf" stroke-width="0.35" />
<circle cx="255.80" cy="792.10" r="2.15" fill="url(#gB)" stroke="#5683bf" stroke-width="0.35" />
<circle cx="260.90" cy="784.20" r="2.15" fill="url(#gB)" stroke="#5683bf" stroke-width="0.35" />
<circle cx="272.10" cy="792.10" r="2.15" fill="url(#gB)" stroke="#5683bf" stroke-width="0.35" />
<circle cx="242.00" cy="790.20" r="1.60" fill="url(#gR)" stroke="#b01010" stroke-width="0.35" />
<circle cx="221.10" cy="775.20" r="1.80" fill="url(#gR)" stroke="#b01010" stroke-width="0.35" />
<circle cx="222.60" cy="772.00" r="1.65" fill="url(#gG)" stroke="#20a028" stroke-width="0.35" />
<circle cx="228.20" cy="775.80" r="1.65" fill="url(#gG)" stroke="#20a028" stroke-width="0.35" />
<line x1="227.50" y1="700.00" x2="227.50" y2="675.80" stroke="#111" stroke-width="1.0" />
<path d="M227.50,673.80 L225.10,678.00 L227.50,676.70 L229.90,678.00 Z" fill="#111"/>
<line x1="323.15" y1="751.97" x2="328.07" y2="743.44" stroke="#74a3d8" stroke-width="1.45" stroke-linecap="round"/>
<line x1="328.07" y1="777.56" x2="323.15" y2="769.03" stroke="#74a3d8" stroke-width="1.45" stroke-linecap="round"/>
<line x1="342.85" y1="751.97" x2="337.93" y2="743.44" stroke="#74a3d8" stroke-width="1.45" stroke-linecap="round"/>
<line x1="340.10" y1="758.80" x2="341.20" y2="762.89" stroke="#e0282c" stroke-width="1.45" stroke-linecap="butt"/>
<line x1="341.20" y1="762.89" x2="342.85" y2="769.03" stroke="#74a3d8" stroke-width="1.45" stroke-linecap="butt"/>
<line x1="357.62" y1="760.50" x2="352.70" y2="769.03" stroke="#74a3d8" stroke-width="1.45" stroke-linecap="round"/>
<line x1="342.85" y1="769.03" x2="352.70" y2="769.03" stroke="#74a3d8" stroke-width="1.45" stroke-linecap="round"/>
<line x1="328.07" y1="743.44" x2="337.93" y2="743.44" stroke="#74a3d8" stroke-width="1.45" stroke-linecap="round"/>
<line x1="323.15" y1="751.97" x2="313.30" y2="751.97" stroke="#74a3d8" stroke-width="1.45" stroke-linecap="round"/>
<line x1="342.85" y1="751.97" x2="341.20" y2="756.07" stroke="#74a3d8" stroke-width="1.45" stroke-linecap="butt"/>
<line x1="341.20" y1="756.07" x2="340.10" y2="758.80" stroke="#e0282c" stroke-width="1.45" stroke-linecap="butt"/>
<line x1="323.15" y1="769.03" x2="313.30" y2="769.03" stroke="#74a3d8" stroke-width="1.45" stroke-linecap="round"/>
<line x1="340.10" y1="758.80" x2="335.29" y2="759.48" stroke="#e0282c" stroke-width="1.45" stroke-linecap="butt"/>
<line x1="335.29" y1="759.48" x2="328.07" y2="760.50" stroke="#74a3d8" stroke-width="1.45" stroke-linecap="butt"/>
<line x1="313.30" y1="769.03" x2="308.38" y2="760.50" stroke="#74a3d8" stroke-width="1.45" stroke-linecap="round"/>
<line x1="342.85" y1="769.03" x2="337.93" y2="777.56" stroke="#74a3d8" stroke-width="1.45" stroke-linecap="round"/>
<line x1="328.07" y1="760.50" x2="323.15" y2="751.97" stroke="#74a3d8" stroke-width="1.45" stroke-linecap="round"/>
<line x1="328.07" y1="760.50" x2="323.15" y2="769.03" stroke="#74a3d8" stroke-width="1.45" stroke-linecap="round"/>
<line x1="308.38" y1="760.50" x2="313.30" y2="751.97" stroke="#74a3d8" stroke-width="1.45" stroke-linecap="round"/>
<line x1="342.85" y1="751.97" x2="352.70" y2="751.97" stroke="#74a3d8" stroke-width="1.45" stroke-linecap="round"/>
<line x1="357.62" y1="760.50" x2="352.70" y2="751.97" stroke="#74a3d8" stroke-width="1.45" stroke-linecap="round"/>
<line x1="337.93" y1="777.56" x2="328.07" y2="777.56" stroke="#74a3d8" stroke-width="1.45" stroke-linecap="round"/>
<line x1="328.07" y1="743.44" x2="323.40" y2="735.34" stroke="#74a3d8" stroke-width="1.45" stroke-linecap="round"/>
<line x1="337.93" y1="743.44" x2="342.60" y2="735.34" stroke="#74a3d8" stroke-width="1.45" stroke-linecap="round"/>
<line x1="337.93" y1="777.56" x2="342.60" y2="785.66" stroke="#74a3d8" stroke-width="1.45" stroke-linecap="round"/>
<line x1="328.07" y1="777.56" x2="323.40" y2="785.66" stroke="#74a3d8" stroke-width="1.45" stroke-linecap="round"/>
<line x1="313.30" y1="769.03" x2="308.62" y2="777.13" stroke="#74a3d8" stroke-width="1.45" stroke-linecap="round"/>
<line x1="308.38" y1="760.50" x2="299.02" y2="760.50" stroke="#74a3d8" stroke-width="1.45" stroke-linecap="round"/>
<line x1="313.30" y1="751.97" x2="308.62" y2="743.87" stroke="#74a3d8" stroke-width="1.45" stroke-linecap="round"/>
<line x1="357.62" y1="760.50" x2="366.98" y2="760.50" stroke="#74a3d8" stroke-width="1.45" stroke-linecap="round"/>
<line x1="352.70" y1="769.03" x2="357.38" y2="777.13" stroke="#74a3d8" stroke-width="1.45" stroke-linecap="round"/>
<line x1="352.70" y1="751.97" x2="357.38" y2="743.87" stroke="#74a3d8" stroke-width="1.45" stroke-linecap="round"/>
<line x1="321.30" y1="761.10" x2="324.02" y2="760.86" stroke="#e0282c" stroke-width="1.45" stroke-linecap="butt"/>
<line x1="324.02" y1="760.86" x2="328.10" y2="760.50" stroke="#74a3d8" stroke-width="1.45" stroke-linecap="butt"/>
<circle cx="342.85" cy="751.97" r="2.15" fill="url(#gB)" stroke="#5683bf" stroke-width="0.35" />
<circle cx="340.10" cy="758.80" r="1.83" fill="url(#gR)" stroke="#b01010" stroke-width="0.35" />
<circle cx="328.07" cy="760.50" r="2.15" fill="url(#gB)" stroke="#5683bf" stroke-width="0.35" />
<circle cx="323.15" cy="751.97" r="2.15" fill="url(#gB)" stroke="#5683bf" stroke-width="0.35" />
<circle cx="328.07" cy="743.44" r="2.15" fill="url(#gB)" stroke="#5683bf" stroke-width="0.35" />
<circle cx="337.93" cy="743.44" r="2.15" fill="url(#gB)" stroke="#5683bf" stroke-width="0.35" />
<circle cx="342.85" cy="769.03" r="2.15" fill="url(#gB)" stroke="#5683bf" stroke-width="0.35" />
<circle cx="337.93" cy="777.56" r="2.15" fill="url(#gB)" stroke="#5683bf" stroke-width="0.35" />
<circle cx="328.07" cy="777.56" r="2.15" fill="url(#gB)" stroke="#5683bf" stroke-width="0.35" />
<circle cx="323.15" cy="769.03" r="2.15" fill="url(#gB)" stroke="#5683bf" stroke-width="0.35" />
<circle cx="313.30" cy="769.03" r="2.15" fill="url(#gB)" stroke="#5683bf" stroke-width="0.35" />
<circle cx="308.38" cy="760.50" r="2.15" fill="url(#gB)" stroke="#5683bf" stroke-width="0.35" />
<circle cx="313.30" cy="751.97" r="2.15" fill="url(#gB)" stroke="#5683bf" stroke-width="0.35" />
<circle cx="357.62" cy="760.50" r="2.15" fill="url(#gB)" stroke="#5683bf" stroke-width="0.35" />
<circle cx="352.70" cy="769.03" r="2.15" fill="url(#gB)" stroke="#5683bf" stroke-width="0.35" />
<circle cx="352.70" cy="751.97" r="2.15" fill="url(#gB)" stroke="#5683bf" stroke-width="0.35" />
<circle cx="323.40" cy="735.34" r="2.15" fill="url(#gB)" stroke="#5683bf" stroke-width="0.35" />
<circle cx="342.60" cy="735.34" r="2.15" fill="url(#gB)" stroke="#5683bf" stroke-width="0.35" />
<circle cx="342.60" cy="785.66" r="2.15" fill="url(#gB)" stroke="#5683bf" stroke-width="0.35" />
<circle cx="323.40" cy="785.66" r="2.15" fill="url(#gB)" stroke="#5683bf" stroke-width="0.35" />
<circle cx="308.62" cy="777.13" r="2.15" fill="url(#gB)" stroke="#5683bf" stroke-width="0.35" />
<circle cx="299.02" cy="760.50" r="2.15" fill="url(#gB)" stroke="#5683bf" stroke-width="0.35" />
<circle cx="308.62" cy="743.87" r="2.15" fill="url(#gB)" stroke="#5683bf" stroke-width="0.35" />
<circle cx="366.98" cy="760.50" r="2.15" fill="url(#gB)" stroke="#5683bf" stroke-width="0.35" />
<circle cx="357.38" cy="777.13" r="2.15" fill="url(#gB)" stroke="#5683bf" stroke-width="0.35" />
<circle cx="357.38" cy="743.87" r="2.15" fill="url(#gB)" stroke="#5683bf" stroke-width="0.35" />
<circle cx="321.30" cy="761.10" r="1.80" fill="url(#gR)" stroke="#b01010" stroke-width="0.35" />
<circle cx="322.30" cy="757.60" r="1.65" fill="url(#gG)" stroke="#20a028" stroke-width="0.35" />
<circle cx="343.60" cy="768.00" r="1.65" fill="url(#gG)" stroke="#20a028" stroke-width="0.35" />
<line x1="298.10" y1="805.20" x2="308.50" y2="812.50" stroke="#74a3d8" stroke-width="1.45" stroke-linecap="round"/>
<line x1="308.50" y1="812.50" x2="313.00" y2="805.20" stroke="#74a3d8" stroke-width="1.45" stroke-linecap="round"/>
<line x1="313.00" y1="805.20" x2="323.40" y2="812.50" stroke="#74a3d8" stroke-width="1.45" stroke-linecap="round"/>
<line x1="323.40" y1="812.50" x2="327.90" y2="805.20" stroke="#74a3d8" stroke-width="1.45" stroke-linecap="round"/>
<line x1="327.90" y1="805.20" x2="338.30" y2="812.50" stroke="#74a3d8" stroke-width="1.45" stroke-linecap="round"/>
<line x1="338.30" y1="812.50" x2="342.80" y2="805.20" stroke="#74a3d8" stroke-width="1.45" stroke-linecap="round"/>
<line x1="342.80" y1="805.20" x2="353.20" y2="812.50" stroke="#74a3d8" stroke-width="1.45" stroke-linecap="round"/>
<line x1="353.20" y1="812.50" x2="357.70" y2="805.20" stroke="#74a3d8" stroke-width="1.45" stroke-linecap="round"/>
<line x1="357.70" y1="805.20" x2="368.10" y2="812.50" stroke="#74a3d8" stroke-width="1.45" stroke-linecap="round"/>
<line x1="321.30" y1="797.70" x2="340.10" y2="811.50" stroke="#e0282c" stroke-width="1.45" stroke-linecap="round"/>
<circle cx="298.10" cy="805.20" r="2.15" fill="url(#gB)" stroke="#5683bf" stroke-width="0.35" />
<circle cx="308.50" cy="812.50" r="2.15" fill="url(#gB)" stroke="#5683bf" stroke-width="0.35" />
<circle cx="313.00" cy="805.20" r="2.15" fill="url(#gB)" stroke="#5683bf" stroke-width="0.35" />
<circle cx="323.40" cy="812.50" r="2.15" fill="url(#gB)" stroke="#5683bf" stroke-width="0.35" />
<circle cx="327.90" cy="805.20" r="2.15" fill="url(#gB)" stroke="#5683bf" stroke-width="0.35" />
<circle cx="338.30" cy="812.50" r="2.15" fill="url(#gB)" stroke="#5683bf" stroke-width="0.35" />
<circle cx="342.80" cy="805.20" r="2.15" fill="url(#gB)" stroke="#5683bf" stroke-width="0.35" />
<circle cx="353.20" cy="812.50" r="2.15" fill="url(#gB)" stroke="#5683bf" stroke-width="0.35" />
<circle cx="357.70" cy="805.20" r="2.15" fill="url(#gB)" stroke="#5683bf" stroke-width="0.35" />
<circle cx="368.10" cy="812.50" r="2.15" fill="url(#gB)" stroke="#5683bf" stroke-width="0.35" />
<circle cx="321.30" cy="797.70" r="1.80" fill="url(#gR)" stroke="#b01010" stroke-width="0.35" />
<circle cx="322.30" cy="794.20" r="1.65" fill="url(#gG)" stroke="#20a028" stroke-width="0.35" />
<circle cx="343.60" cy="803.30" r="1.65" fill="url(#gG)" stroke="#20a028" stroke-width="0.35" />
<circle cx="337.00" cy="808.50" r="2.00" fill="url(#gB)" stroke="#5683bf" stroke-width="0.35" />
<circle cx="344.50" cy="806.00" r="2.00" fill="url(#gB)" stroke="#5683bf" stroke-width="0.35" />
<circle cx="352.00" cy="811.00" r="2.00" fill="url(#gB)" stroke="#5683bf" stroke-width="0.35" />
<circle cx="348.50" cy="814.50" r="2.00" fill="url(#gB)" stroke="#5683bf" stroke-width="0.35" />
<line x1="339.50" y1="726.10" x2="339.50" y2="700.50" stroke="#111" stroke-width="1.0" />
<path d="M339.50,698.50 L337.10,702.70 L339.50,701.40 L341.90,702.70 Z" fill="#111"/>
<path d="M114.60,706.10 L116.00,706.28 L117.41,706.46 L118.81,706.64 L120.22,706.81 L121.62,706.98 L123.03,707.14 L124.43,707.30 L125.84,707.45 L127.24,707.59 L128.65,707.72 L130.06,707.84 L131.46,707.95 L132.87,708.05 L134.27,708.13 L135.68,708.19 L137.08,708.24 L138.48,708.27 L139.89,708.28 L141.29,708.27 L142.70,708.24 L144.10,708.19 L145.51,708.11 L146.91,708.02 L148.32,707.89 L149.72,707.74 L151.13,707.56 L152.53,707.35 L153.94,707.12 L155.34,706.85 L156.75,706.55 L158.16,706.21 L159.56,705.84 L160.97,705.44 L162.37,705.00 L163.78,704.52 L165.18,704.01 L166.59,703.45 L167.99,702.85 L169.39,702.21 L170.80,701.53 L172.20,700.81 L173.61,700.04 L175.01,699.23 L176.42,698.39 L177.82,697.51 L179.23,696.60 L180.63,695.67 L182.04,694.70 L183.44,693.71 L184.85,692.71 L186.25,691.68 L187.66,690.63 L189.06,689.58 L190.47,688.51 L191.88,687.43 L193.28,686.35 L194.69,685.27 L196.09,684.18 L197.50,683.10 L198.90,682.02 L200.31,680.94 L201.71,679.88 L203.12,678.83 L204.52,677.79 L205.93,676.77 L207.33,675.77 L208.74,674.80 L210.14,673.84 L211.55,672.92 L212.95,672.03 L214.35,671.16 L215.76,670.34 L217.16,669.55 L218.57,668.80 L219.97,668.09 L221.38,667.43 L222.78,666.82 L224.19,666.26 L225.59,665.75 L227.00,665.30 L228.41,664.90 L229.81,664.56 L231.22,664.28 L232.62,664.05 L234.03,663.87 L235.43,663.74 L236.83,663.65 L238.24,663.62 L239.65,663.62 L241.05,663.67 L242.45,663.76 L243.86,663.89 L245.27,664.06 L246.67,664.26 L248.07,664.50 L249.48,664.77 L250.88,665.07 L252.29,665.39 L253.69,665.75 L255.10,666.12 L256.50,666.53 L257.91,666.95 L259.31,667.39 L260.72,667.85 L262.12,668.33 L263.53,668.82 L264.94,669.33 L266.34,669.85 L267.75,670.37 L269.15,670.90 L270.56,671.44 L271.96,671.98 L273.37,672.53 L274.77,673.07 L276.18,673.62 L277.58,674.16 L278.99,674.70 L280.39,675.23 L281.80,675.75 L283.20,676.26 L284.61,676.76 L286.01,677.25 L287.42,677.73 L288.82,678.19 L290.23,678.65 L291.63,679.10 L293.03,679.53 L294.44,679.96 L295.85,680.38 L297.25,680.78 L298.65,681.18 L300.06,681.58 L301.47,681.96 L302.87,682.33 L304.27,682.70 L305.68,683.06 L307.09,683.41 L308.49,683.76 L309.89,684.10 L311.30,684.43 L312.71,684.76 L314.11,685.08 L315.51,685.40 L316.92,685.71 L318.33,686.02 L319.73,686.32 L321.13,686.62 L322.54,686.92 L323.95,687.21 L325.35,687.50 L326.75,687.78 L328.16,688.06 L329.57,688.34 L330.97,688.62 L332.38,688.90 L333.78,689.17 L335.19,689.45 L336.59,689.72 L338.00,689.99 L339.40,690.27" stroke="#111" stroke-width="1.3" fill="none" />
<circle cx="114.60" cy="706.10" r="5.45" fill="#0aa0f0" stroke="none" stroke-width="0" />
<circle cx="170.80" cy="701.53" r="5.45" fill="#0aa0f0" stroke="none" stroke-width="0" />
<circle cx="227.00" cy="665.30" r="5.45" fill="#0aa0f0" stroke="none" stroke-width="0" />
<circle cx="283.20" cy="676.26" r="5.45" fill="#0aa0f0" stroke="none" stroke-width="0" />
<circle cx="339.40" cy="690.27" r="5.45" fill="#0aa0f0" stroke="none" stroke-width="0" />
<rect x="460.50" y="372.60" width="314.20" height="198.60" stroke="#1e1e1e" stroke-width="1.3" fill="none" />
<line x1="455.50" y1="571.18" x2="460.50" y2="571.18" stroke="#2a2a2a" stroke-width="1.2" />
<text x="452.60" y="575.48" font-size="13" text-anchor="end" fill="#111" font-family="'Liberation Sans', sans-serif" >-4</text>
<line x1="455.50" y1="540.61" x2="460.50" y2="540.61" stroke="#2a2a2a" stroke-width="1.2" />
<line x1="774.70" y1="540.61" x2="769.70" y2="540.61" stroke="#2a2a2a" stroke-width="1.2" />
<text x="452.60" y="544.91" font-size="13" text-anchor="end" fill="#111" font-family="'Liberation Sans', sans-serif" >-3</text>
<line x1="455.50" y1="510.04" x2="460.50" y2="510.04" stroke="#2a2a2a" stroke-width="1.2" />
<line x1="774.70" y1="510.04" x2="769.70" y2="510.04" stroke="#2a2a2a" stroke-width="1.2" />
<text x="452.60" y="514.34" font-size="13" text-anchor="end" fill="#111" font-family="'Liberation Sans', sans-serif" >-2</text>
<line x1="455.50" y1="479.47" x2="460.50" y2="479.47" stroke="#2a2a2a" stroke-width="1.2" />
<line x1="774.70" y1="479.47" x2="769.70" y2="479.47" stroke="#2a2a2a" stroke-width="1.2" />
<text x="452.60" y="483.77" font-size="13" text-anchor="end" fill="#111" font-family="'Liberation Sans', sans-serif" >-1</text>
<line x1="455.50" y1="448.90" x2="460.50" y2="448.90" stroke="#2a2a2a" stroke-width="1.2" />
<line x1="774.70" y1="448.90" x2="769.70" y2="448.90" stroke="#2a2a2a" stroke-width="1.2" />
<text x="452.60" y="453.20" font-size="13" text-anchor="end" fill="#111" font-family="'Liberation Sans', sans-serif" >0</text>
<line x1="455.50" y1="418.33" x2="460.50" y2="418.33" stroke="#2a2a2a" stroke-width="1.2" />
<line x1="774.70" y1="418.33" x2="769.70" y2="418.33" stroke="#2a2a2a" stroke-width="1.2" />
<text x="452.60" y="422.63" font-size="13" text-anchor="end" fill="#111" font-family="'Liberation Sans', sans-serif" >1</text>
<line x1="455.50" y1="387.76" x2="460.50" y2="387.76" stroke="#2a2a2a" stroke-width="1.2" />
<line x1="774.70" y1="387.76" x2="769.70" y2="387.76" stroke="#2a2a2a" stroke-width="1.2" />
<text x="452.60" y="392.06" font-size="13" text-anchor="end" fill="#111" font-family="'Liberation Sans', sans-serif" >2</text>
<line x1="505.30" y1="571.20" x2="505.30" y2="575.70" stroke="#2a2a2a" stroke-width="1.2" />
<line x1="505.30" y1="372.60" x2="505.30" y2="377.60" stroke="#2a2a2a" stroke-width="1.2" />
<text x="505.30" y="594.50" font-size="13" text-anchor="middle" fill="#111" font-family="'Liberation Sans', sans-serif" >0</text>
<line x1="561.30" y1="571.20" x2="561.30" y2="575.70" stroke="#2a2a2a" stroke-width="1.2" />
<line x1="561.30" y1="372.60" x2="561.30" y2="377.60" stroke="#2a2a2a" stroke-width="1.2" />
<text x="561.30" y="594.50" font-size="13" text-anchor="middle" fill="#111" font-family="'Liberation Sans', sans-serif" >1</text>
<line x1="617.30" y1="571.20" x2="617.30" y2="575.70" stroke="#2a2a2a" stroke-width="1.2" />
<line x1="617.30" y1="372.60" x2="617.30" y2="377.60" stroke="#2a2a2a" stroke-width="1.2" />
<text x="617.30" y="594.50" font-size="13" text-anchor="middle" fill="#111" font-family="'Liberation Sans', sans-serif" >2</text>
<line x1="673.30" y1="571.20" x2="673.30" y2="575.70" stroke="#2a2a2a" stroke-width="1.2" />
<line x1="673.30" y1="372.60" x2="673.30" y2="377.60" stroke="#2a2a2a" stroke-width="1.2" />
<text x="673.30" y="594.50" font-size="13" text-anchor="middle" fill="#111" font-family="'Liberation Sans', sans-serif" >3</text>
<line x1="729.30" y1="571.20" x2="729.30" y2="575.70" stroke="#2a2a2a" stroke-width="1.2" />
<line x1="729.30" y1="372.60" x2="729.30" y2="377.60" stroke="#2a2a2a" stroke-width="1.2" />
<text x="729.30" y="594.50" font-size="13" text-anchor="middle" fill="#111" font-family="'Liberation Sans', sans-serif" >4</text>
<text x="617.60" y="613.50" font-size="15.2" text-anchor="middle" fill="#111" font-family="'Liberation Sans', sans-serif" >NEB Image</text>
<text transform="translate(430.90,471.90) rotate(-90)" x="0" y="0" font-size="15.1" text-anchor="middle" fill="#111" font-family="'Liberation Sans', sans-serif">Energy (eV)</text>
<text x="405.40" y="386.60" font-size="19" text-anchor="start" fill="#111" font-family="'Liberation Serif', serif" >(e)</text>
<text x="593.40" y="396.30" font-size="13.0" text-anchor="start" fill="#111" font-family="'Liberation Sans', sans-serif" >O</text>
<text x="604.21" y="400.30" font-size="8.84" text-anchor="start" fill="#111" font-family="'Liberation Sans', sans-serif" >2</text>
<line x1="612.13" y1="391.30" x2="624.13" y2="391.30" stroke="#111" stroke-width="1.55" />
<path d="M626.93,391.30 L622.40,393.41 L623.93,391.30 L622.40,389.19 Z" fill="#111"/>
<text x="629.63" y="396.30" font-size="13.0" text-anchor="start" fill="#111" font-family="'Liberation Sans', sans-serif" >2O*</text>
<clipPath id="c11"><rect x="479.00" y="474.50" width="56.60" height="60.00"/></clipPath>
<g clip-path="url(#c11)">
<line x1="484.30" y1="479.00" x2="475.35" y2="487.50" stroke="#e9a24e" stroke-width="1.05" />
<line x1="487.70" y1="479.00" x2="494.95" y2="487.50" stroke="#e9a24e" stroke-width="1.05" />
<line x1="505.60" y1="479.00" x2="498.35" y2="487.50" stroke="#e9a24e" stroke-width="1.05" />
<line x1="509.00" y1="479.00" x2="516.25" y2="487.50" stroke="#e9a24e" stroke-width="1.05" />
<line x1="526.90" y1="479.00" x2="519.65" y2="487.50" stroke="#e9a24e" stroke-width="1.05" />
<line x1="530.30" y1="479.00" x2="539.25" y2="487.50" stroke="#e9a24e" stroke-width="1.05" />
<line x1="475.35" y1="487.50" x2="484.30" y2="496.00" stroke="#e9a24e" stroke-width="1.05" />
<line x1="494.95" y1="487.50" x2="487.70" y2="496.00" stroke="#e9a24e" stroke-width="1.05" />
<line x1="498.35" y1="487.50" x2="505.60" y2="496.00" stroke="#e9a24e" stroke-width="1.05" />
<line x1="516.25" y1="487.50" x2="509.00" y2="496.00" stroke="#e9a24e" stroke-width="1.05" />
<line x1="519.65" y1="487.50" x2="526.90" y2="496.00" stroke="#e9a24e" stroke-width="1.05" />
<line x1="539.25" y1="487.50" x2="530.30" y2="496.00" stroke="#e9a24e" stroke-width="1.05" />
<line x1="484.30" y1="496.00" x2="475.35" y2="504.50" stroke="#e9a24e" stroke-width="1.05" />
<line x1="487.70" y1="496.00" x2="489.38" y2="500.25" stroke="#e9a24e" stroke-width="1.05" />
<line x1="489.38" y1="500.25" x2="491.05" y2="504.50" stroke="#e0403a" stroke-width="1.05" />
<line x1="505.60" y1="496.00" x2="503.62" y2="500.25" stroke="#e9a24e" stroke-width="1.05" />
<line x1="503.62" y1="500.25" x2="501.65" y2="504.50" stroke="#e0403a" stroke-width="1.05" />
<line x1="509.00" y1="496.00" x2="516.25" y2="504.50" stroke="#e9a24e" stroke-width="1.05" />
<line x1="526.90" y1="496.00" x2="519.65" y2="504.50" stroke="#e9a24e" stroke-width="1.05" />
<line x1="530.30" y1="496.00" x2="539.25" y2="504.50" stroke="#e9a24e" stroke-width="1.05" />
<line x1="475.35" y1="504.50" x2="484.30" y2="513.00" stroke="#e9a24e" stroke-width="1.05" />
<line x1="491.05" y1="504.50" x2="489.38" y2="508.75" stroke="#e0403a" stroke-width="1.05" />
<line x1="489.38" y1="508.75" x2="487.70" y2="513.00" stroke="#e9a24e" stroke-width="1.05" />
<line x1="501.65" y1="504.50" x2="503.62" y2="508.75" stroke="#e0403a" stroke-width="1.05" />
<line x1="503.62" y1="508.75" x2="505.60" y2="513.00" stroke="#e9a24e" stroke-width="1.05" />
<line x1="516.25" y1="504.50" x2="509.00" y2="513.00" stroke="#e9a24e" stroke-width="1.05" />
<line x1="519.65" y1="504.50" x2="526.90" y2="513.00" stroke="#e9a24e" stroke-width="1.05" />
<line x1="539.25" y1="504.50" x2="530.30" y2="513.00" stroke="#e9a24e" stroke-width="1.05" />
<line x1="484.30" y1="513.00" x2="475.35" y2="521.50" stroke="#e9a24e" stroke-width="1.05" />
<line x1="487.70" y1="513.00" x2="494.95" y2="521.50" stroke="#e9a24e" stroke-width="1.05" />
<line x1="505.60" y1="513.00" x2="498.35" y2="521.50" stroke="#e9a24e" stroke-width="1.05" />
<line x1="509.00" y1="513.00" x2="516.25" y2="521.50" stroke="#e9a24e" stroke-width="1.05" />
<line x1="526.90" y1="513.00" x2="519.65" y2="521.50" stroke="#e9a24e" stroke-width="1.05" />
<line x1="530.30" y1="513.00" x2="539.25" y2="521.50" stroke="#e9a24e" stroke-width="1.05" />
<line x1="475.35" y1="521.50" x2="484.30" y2="530.00" stroke="#e9a24e" stroke-width="1.05" />
<line x1="494.95" y1="521.50" x2="487.70" y2="530.00" stroke="#e9a24e" stroke-width="1.05" />
<line x1="498.35" y1="521.50" x2="505.60" y2="530.00" stroke="#e9a24e" stroke-width="1.05" />
<line x1="516.25" y1="521.50" x2="509.00" y2="530.00" stroke="#e9a24e" stroke-width="1.05" />
<line x1="519.65" y1="521.50" x2="526.90" y2="530.00" stroke="#e9a24e" stroke-width="1.05" />
<line x1="539.25" y1="521.50" x2="530.30" y2="530.00" stroke="#e9a24e" stroke-width="1.05" />
</g>
<line x1="510.10" y1="498.60" x2="514.60" y2="502.30" stroke="#e0282c" stroke-width="1.0" stroke-linecap="round"/>
<line x1="507.60" y1="537.70" x2="512.10" y2="537.70" stroke="#e0282c" stroke-width="1.0" stroke-linecap="round"/>
<circle cx="484.30" cy="479.00" r="2.05" fill="url(#gO)" stroke="#b05a00" stroke-width="0.35" />
<circle cx="487.70" cy="479.00" r="2.05" fill="url(#gO)" stroke="#b05a00" stroke-width="0.35" />
<circle cx="505.60" cy="479.00" r="2.05" fill="url(#gO)" stroke="#b05a00" stroke-width="0.35" />
<circle cx="509.00" cy="479.00" r="2.05" fill="url(#gO)" stroke="#b05a00" stroke-width="0.35" />
<circle cx="526.90" cy="479.00" r="2.05" fill="url(#gO)" stroke="#b05a00" stroke-width="0.35" />
<circle cx="530.30" cy="479.00" r="2.05" fill="url(#gO)" stroke="#b05a00" stroke-width="0.35" />
<circle cx="494.95" cy="487.50" r="2.05" fill="url(#gO)" stroke="#b05a00" stroke-width="0.35" />
<circle cx="498.35" cy="487.50" r="2.05" fill="url(#gO)" stroke="#b05a00" stroke-width="0.35" />
<circle cx="516.25" cy="487.50" r="2.05" fill="url(#gO)" stroke="#b05a00" stroke-width="0.35" />
<circle cx="519.65" cy="487.50" r="2.05" fill="url(#gO)" stroke="#b05a00" stroke-width="0.35" />
<circle cx="484.30" cy="496.00" r="2.05" fill="url(#gO)" stroke="#b05a00" stroke-width="0.35" />
<circle cx="487.70" cy="496.00" r="2.05" fill="url(#gO)" stroke="#b05a00" stroke-width="0.35" />
<circle cx="505.60" cy="496.00" r="2.05" fill="url(#gO)" stroke="#b05a00" stroke-width="0.35" />
<circle cx="509.00" cy="496.00" r="2.05" fill="url(#gO)" stroke="#b05a00" stroke-width="0.35" />
<circle cx="526.90" cy="496.00" r="2.05" fill="url(#gO)" stroke="#b05a00" stroke-width="0.35" />
<circle cx="530.30" cy="496.00" r="2.05" fill="url(#gO)" stroke="#b05a00" stroke-width="0.35" />
<circle cx="516.25" cy="504.50" r="2.05" fill="url(#gO)" stroke="#b05a00" stroke-width="0.35" />
<circle cx="519.65" cy="504.50" r="2.05" fill="url(#gO)" stroke="#b05a00" stroke-width="0.35" />
<circle cx="484.30" cy="513.00" r="2.05" fill="url(#gO)" stroke="#b05a00" stroke-width="0.35" />
<circle cx="487.70" cy="513.00" r="2.05" fill="url(#gO)" stroke="#b05a00" stroke-width="0.35" />
<circle cx="505.60" cy="513.00" r="2.05" fill="url(#gO)" stroke="#b05a00" stroke-width="0.35" />
<circle cx="509.00" cy="513.00" r="2.05" fill="url(#gO)" stroke="#b05a00" stroke-width="0.35" />
<circle cx="526.90" cy="513.00" r="2.05" fill="url(#gO)" stroke="#b05a00" stroke-width="0.35" />
<circle cx="530.30" cy="513.00" r="2.05" fill="url(#gO)" stroke="#b05a00" stroke-width="0.35" />
<circle cx="494.95" cy="521.50" r="2.05" fill="url(#gO)" stroke="#b05a00" stroke-width="0.35" />
<circle cx="498.35" cy="521.50" r="2.05" fill="url(#gO)" stroke="#b05a00" stroke-width="0.35" />
<circle cx="516.25" cy="521.50" r="2.05" fill="url(#gO)" stroke="#b05a00" stroke-width="0.35" />
<circle cx="519.65" cy="521.50" r="2.05" fill="url(#gO)" stroke="#b05a00" stroke-width="0.35" />
<circle cx="484.30" cy="530.00" r="2.05" fill="url(#gO)" stroke="#b05a00" stroke-width="0.35" />
<circle cx="487.70" cy="530.00" r="2.05" fill="url(#gO)" stroke="#b05a00" stroke-width="0.35" />
<circle cx="505.60" cy="530.00" r="2.05" fill="url(#gO)" stroke="#b05a00" stroke-width="0.35" />
<circle cx="509.00" cy="530.00" r="2.05" fill="url(#gO)" stroke="#b05a00" stroke-width="0.35" />
<circle cx="526.90" cy="530.00" r="2.05" fill="url(#gO)" stroke="#b05a00" stroke-width="0.35" />
<circle cx="530.30" cy="530.00" r="2.05" fill="url(#gO)" stroke="#b05a00" stroke-width="0.35" />
<circle cx="490.50" cy="504.60" r="1.60" fill="url(#gR)" stroke="#b01010" stroke-width="0.35" />
<circle cx="501.60" cy="504.60" r="1.60" fill="url(#gR)" stroke="#b01010" stroke-width="0.35" />
<circle cx="510.10" cy="498.60" r="1.60" fill="url(#gR)" stroke="#b01010" stroke-width="0.35" />
<circle cx="514.60" cy="502.30" r="1.60" fill="url(#gR)" stroke="#b01010" stroke-width="0.35" />
<circle cx="507.60" cy="537.70" r="1.60" fill="url(#gR)" stroke="#b01010" stroke-width="0.35" />
<circle cx="512.10" cy="537.70" r="1.60" fill="url(#gR)" stroke="#b01010" stroke-width="0.35" />
<line x1="477.60" y1="563.10" x2="482.60" y2="563.10" stroke="#e8891f" stroke-width="1.5" stroke-linecap="round"/>
<line x1="482.60" y1="563.10" x2="485.00" y2="552.30" stroke="#e8891f" stroke-width="1.5" stroke-linecap="round"/>
<line x1="485.00" y1="552.30" x2="493.00" y2="552.30" stroke="#e8891f" stroke-width="1.5" stroke-linecap="round"/>
<line x1="493.00" y1="552.30" x2="495.40" y2="563.10" stroke="#e8891f" stroke-width="1.5" stroke-linecap="round"/>
<line x1="495.40" y1="563.10" x2="503.40" y2="563.10" stroke="#e8891f" stroke-width="1.5" stroke-linecap="round"/>
<line x1="503.40" y1="563.10" x2="505.80" y2="552.30" stroke="#e8891f" stroke-width="1.5" stroke-linecap="round"/>
<line x1="505.80" y1="552.30" x2="513.80" y2="552.30" stroke="#e8891f" stroke-width="1.5" stroke-linecap="round"/>
<line x1="513.80" y1="552.30" x2="516.20" y2="563.10" stroke="#e8891f" stroke-width="1.5" stroke-linecap="round"/>
<line x1="516.20" y1="563.10" x2="524.20" y2="563.10" stroke="#e8891f" stroke-width="1.5" stroke-linecap="round"/>
<line x1="524.20" y1="563.10" x2="526.60" y2="552.30" stroke="#e8891f" stroke-width="1.5" stroke-linecap="round"/>
<line x1="526.60" y1="552.30" x2="534.60" y2="552.30" stroke="#e8891f" stroke-width="1.5" stroke-linecap="round"/>
<circle cx="489.00" cy="553.10" r="1.45" fill="url(#gR)" stroke="#b01010" stroke-width="0.35" />
<circle cx="499.10" cy="562.90" r="1.45" fill="url(#gR)" stroke="#b01010" stroke-width="0.35" />
<circle cx="482.60" cy="563.10" r="1.95" fill="url(#gO)" stroke="#b05a00" stroke-width="0.35" />
<circle cx="485.00" cy="552.30" r="1.95" fill="url(#gO)" stroke="#b05a00" stroke-width="0.35" />
<circle cx="493.00" cy="552.30" r="1.95" fill="url(#gO)" stroke="#b05a00" stroke-width="0.35" />
<circle cx="505.80" cy="552.30" r="1.95" fill="url(#gO)" stroke="#b05a00" stroke-width="0.35" />
<circle cx="513.80" cy="552.30" r="1.95" fill="url(#gO)" stroke="#b05a00" stroke-width="0.35" />
<circle cx="526.60" cy="552.30" r="1.95" fill="url(#gO)" stroke="#b05a00" stroke-width="0.35" />
<circle cx="534.60" cy="552.30" r="1.95" fill="url(#gO)" stroke="#b05a00" stroke-width="0.35" />
<circle cx="495.40" cy="563.10" r="1.95" fill="url(#gO)" stroke="#b05a00" stroke-width="0.35" />
<circle cx="503.40" cy="563.10" r="1.95" fill="url(#gO)" stroke="#b05a00" stroke-width="0.35" />
<circle cx="516.20" cy="563.10" r="1.95" fill="url(#gO)" stroke="#b05a00" stroke-width="0.35" />
<circle cx="524.20" cy="563.10" r="1.95" fill="url(#gO)" stroke="#b05a00" stroke-width="0.35" />
<line x1="505.50" y1="472.00" x2="505.50" y2="458.20" stroke="#111" stroke-width="1.0" />
<path d="M505.50,456.20 L503.10,460.40 L505.50,459.10 L507.90,460.40 Z" fill="#111"/>
<clipPath id="c12"><rect x="588.40" y="472.40" width="56.40" height="60.18"/></clipPath>
<g clip-path="url(#c12)">
<line x1="593.70" y1="476.90" x2="584.80" y2="485.43" stroke="#e9a24e" stroke-width="1.05" />
<line x1="597.10" y1="476.90" x2="604.30" y2="485.43" stroke="#e9a24e" stroke-width="1.05" />
<line x1="614.90" y1="476.90" x2="607.70" y2="485.43" stroke="#e9a24e" stroke-width="1.05" />
<line x1="618.30" y1="476.90" x2="625.50" y2="485.43" stroke="#e9a24e" stroke-width="1.05" />
<line x1="636.10" y1="476.90" x2="628.90" y2="485.43" stroke="#e9a24e" stroke-width="1.05" />
<line x1="639.50" y1="476.90" x2="648.40" y2="485.43" stroke="#e9a24e" stroke-width="1.05" />
<line x1="584.80" y1="485.43" x2="593.70" y2="493.96" stroke="#e9a24e" stroke-width="1.05" />
<line x1="604.30" y1="485.43" x2="597.10" y2="493.96" stroke="#e9a24e" stroke-width="1.05" />
<line x1="607.70" y1="485.43" x2="614.90" y2="493.96" stroke="#e9a24e" stroke-width="1.05" />
<line x1="625.50" y1="485.43" x2="618.30" y2="493.96" stroke="#e9a24e" stroke-width="1.05" />
<line x1="628.90" y1="485.43" x2="636.10" y2="493.96" stroke="#e9a24e" stroke-width="1.05" />
<line x1="648.40" y1="485.43" x2="639.50" y2="493.96" stroke="#e9a24e" stroke-width="1.05" />
<line x1="593.70" y1="493.96" x2="584.80" y2="502.49" stroke="#e9a24e" stroke-width="1.05" />
<line x1="597.10" y1="493.96" x2="598.75" y2="498.22" stroke="#e9a24e" stroke-width="1.05" />
<line x1="598.75" y1="498.22" x2="600.40" y2="502.49" stroke="#e0403a" stroke-width="1.05" />
<line x1="614.90" y1="493.96" x2="612.95" y2="498.22" stroke="#e9a24e" stroke-width="1.05" />
<line x1="612.95" y1="498.22" x2="611.00" y2="502.49" stroke="#e0403a" stroke-width="1.05" />
<line x1="618.30" y1="493.96" x2="625.50" y2="502.49" stroke="#e9a24e" stroke-width="1.05" />
<line x1="636.10" y1="493.96" x2="628.90" y2="502.49" stroke="#e9a24e" stroke-width="1.05" />
<line x1="639.50" y1="493.96" x2="648.40" y2="502.49" stroke="#e9a24e" stroke-width="1.05" />
<line x1="584.80" y1="502.49" x2="593.70" y2="511.02" stroke="#e9a24e" stroke-width="1.05" />
<line x1="600.40" y1="502.49" x2="598.75" y2="506.75" stroke="#e0403a" stroke-width="1.05" />
<line x1="598.75" y1="506.75" x2="597.10" y2="511.02" stroke="#e9a24e" stroke-width="1.05" />
<line x1="611.00" y1="502.49" x2="612.95" y2="506.75" stroke="#e0403a" stroke-width="1.05" />
<line x1="612.95" y1="506.75" x2="614.90" y2="511.02" stroke="#e9a24e" stroke-width="1.05" />
<line x1="625.50" y1="502.49" x2="618.30" y2="511.02" stroke="#e9a24e" stroke-width="1.05" />
<line x1="628.90" y1="502.49" x2="636.10" y2="511.02" stroke="#e9a24e" stroke-width="1.05" />
<line x1="648.40" y1="502.49" x2="639.50" y2="511.02" stroke="#e9a24e" stroke-width="1.05" />
<line x1="593.70" y1="511.02" x2="584.80" y2="519.55" stroke="#e9a24e" stroke-width="1.05" />
<line x1="597.10" y1="511.02" x2="604.30" y2="519.55" stroke="#e9a24e" stroke-width="1.05" />
<line x1="614.90" y1="511.02" x2="607.70" y2="519.55" stroke="#e9a24e" stroke-width="1.05" />
<line x1="618.30" y1="511.02" x2="625.50" y2="519.55" stroke="#e9a24e" stroke-width="1.05" />
<line x1="636.10" y1="511.02" x2="628.90" y2="519.55" stroke="#e9a24e" stroke-width="1.05" />
<line x1="639.50" y1="511.02" x2="648.40" y2="519.55" stroke="#e9a24e" stroke-width="1.05" />
<line x1="584.80" y1="519.55" x2="593.70" y2="528.08" stroke="#e9a24e" stroke-width="1.05" />
<line x1="604.30" y1="519.55" x2="597.10" y2="528.08" stroke="#e9a24e" stroke-width="1.05" />
<line x1="607.70" y1="519.55" x2="614.90" y2="528.08" stroke="#e9a24e" stroke-width="1.05" />
<line x1="625.50" y1="519.55" x2="618.30" y2="528.08" stroke="#e9a24e" stroke-width="1.05" />
<line x1="628.90" y1="519.55" x2="636.10" y2="528.08" stroke="#e9a24e" stroke-width="1.05" />
<line x1="648.40" y1="519.55" x2="639.50" y2="528.08" stroke="#e9a24e" stroke-width="1.05" />
</g>
<line x1="614.60" y1="495.40" x2="619.50" y2="499.50" stroke="#e0282c" stroke-width="1.0" stroke-linecap="round"/>
<circle cx="593.70" cy="476.90" r="2.05" fill="url(#gO)" stroke="#b05a00" stroke-width="0.35" />
<circle cx="597.10" cy="476.90" r="2.05" fill="url(#gO)" stroke="#b05a00" stroke-width="0.35" />
<circle cx="614.90" cy="476.90" r="2.05" fill="url(#gO)" stroke="#b05a00" stroke-width="0.35" />
<circle cx="618.30" cy="476.90" r="2.05" fill="url(#gO)" stroke="#b05a00" stroke-width="0.35" />
<circle cx="636.10" cy="476.90" r="2.05" fill="url(#gO)" stroke="#b05a00" stroke-width="0.35" />
<circle cx="639.50" cy="476.90" r="2.05" fill="url(#gO)" stroke="#b05a00" stroke-width="0.35" />
<circle cx="604.30" cy="485.43" r="2.05" fill="url(#gO)" stroke="#b05a00" stroke-width="0.35" />
<circle cx="607.70" cy="485.43" r="2.05" fill="url(#gO)" stroke="#b05a00" stroke-width="0.35" />
<circle cx="625.50" cy="485.43" r="2.05" fill="url(#gO)" stroke="#b05a00" stroke-width="0.35" />
<circle cx="628.90" cy="485.43" r="2.05" fill="url(#gO)" stroke="#b05a00" stroke-width="0.35" />
<circle cx="593.70" cy="493.96" r="2.05" fill="url(#gO)" stroke="#b05a00" stroke-width="0.35" />
<circle cx="597.10" cy="493.96" r="2.05" fill="url(#gO)" stroke="#b05a00" stroke-width="0.35" />
<circle cx="614.90" cy="493.96" r="2.05" fill="url(#gO)" stroke="#b05a00" stroke-width="0.35" />
<circle cx="618.30" cy="493.96" r="2.05" fill="url(#gO)" stroke="#b05a00" stroke-width="0.35" />
<circle cx="636.10" cy="493.96" r="2.05" fill="url(#gO)" stroke="#b05a00" stroke-width="0.35" />
<circle cx="639.50" cy="493.96" r="2.05" fill="url(#gO)" stroke="#b05a00" stroke-width="0.35" />
<circle cx="625.50" cy="502.49" r="2.05" fill="url(#gO)" stroke="#b05a00" stroke-width="0.35" />
<circle cx="628.90" cy="502.49" r="2.05" fill="url(#gO)" stroke="#b05a00" stroke-width="0.35" />
<circle cx="593.70" cy="511.02" r="2.05" fill="url(#gO)" stroke="#b05a00" stroke-width="0.35" />
<circle cx="597.10" cy="511.02" r="2.05" fill="url(#gO)" stroke="#b05a00" stroke-width="0.35" />
<circle cx="614.90" cy="511.02" r="2.05" fill="url(#gO)" stroke="#b05a00" stroke-width="0.35" />
<circle cx="618.30" cy="511.02" r="2.05" fill="url(#gO)" stroke="#b05a00" stroke-width="0.35" />
<circle cx="636.10" cy="511.02" r="2.05" fill="url(#gO)" stroke="#b05a00" stroke-width="0.35" />
<circle cx="639.50" cy="511.02" r="2.05" fill="url(#gO)" stroke="#b05a00" stroke-width="0.35" />
<circle cx="604.30" cy="519.55" r="2.05" fill="url(#gO)" stroke="#b05a00" stroke-width="0.35" />
<circle cx="607.70" cy="519.55" r="2.05" fill="url(#gO)" stroke="#b05a00" stroke-width="0.35" />
<circle cx="625.50" cy="519.55" r="2.05" fill="url(#gO)" stroke="#b05a00" stroke-width="0.35" />
<circle cx="628.90" cy="519.55" r="2.05" fill="url(#gO)" stroke="#b05a00" stroke-width="0.35" />
<circle cx="593.70" cy="528.08" r="2.05" fill="url(#gO)" stroke="#b05a00" stroke-width="0.35" />
<circle cx="597.10" cy="528.08" r="2.05" fill="url(#gO)" stroke="#b05a00" stroke-width="0.35" />
<circle cx="614.90" cy="528.08" r="2.05" fill="url(#gO)" stroke="#b05a00" stroke-width="0.35" />
<circle cx="618.30" cy="528.08" r="2.05" fill="url(#gO)" stroke="#b05a00" stroke-width="0.35" />
<circle cx="636.10" cy="528.08" r="2.05" fill="url(#gO)" stroke="#b05a00" stroke-width="0.35" />
<circle cx="639.50" cy="528.08" r="2.05" fill="url(#gO)" stroke="#b05a00" stroke-width="0.35" />
<circle cx="600.40" cy="502.30" r="1.60" fill="url(#gR)" stroke="#b01010" stroke-width="0.35" />
<circle cx="610.70" cy="502.30" r="1.60" fill="url(#gR)" stroke="#b01010" stroke-width="0.35" />
<circle cx="614.60" cy="495.40" r="1.60" fill="url(#gR)" stroke="#b01010" stroke-width="0.35" />
<circle cx="619.50" cy="499.50" r="1.60" fill="url(#gR)" stroke="#b01010" stroke-width="0.35" />
<line x1="589.45" y1="562.10" x2="594.45" y2="562.10" stroke="#e8891f" stroke-width="1.5" stroke-linecap="round"/>
<line x1="594.45" y1="562.10" x2="596.90" y2="551.20" stroke="#e8891f" stroke-width="1.5" stroke-linecap="round"/>
<line x1="596.90" y1="551.20" x2="604.90" y2="551.20" stroke="#e8891f" stroke-width="1.5" stroke-linecap="round"/>
<line x1="604.90" y1="551.20" x2="607.35" y2="562.10" stroke="#e8891f" stroke-width="1.5" stroke-linecap="round"/>
<line x1="607.35" y1="562.10" x2="615.35" y2="562.10" stroke="#e8891f" stroke-width="1.5" stroke-linecap="round"/>
<line x1="615.35" y1="562.10" x2="617.80" y2="551.20" stroke="#e8891f" stroke-width="1.5" stroke-linecap="round"/>
<line x1="617.80" y1="551.20" x2="625.80" y2="551.20" stroke="#e8891f" stroke-width="1.5" stroke-linecap="round"/>
<line x1="625.80" y1="551.20" x2="628.25" y2="562.10" stroke="#e8891f" stroke-width="1.5" stroke-linecap="round"/>
<line x1="628.25" y1="562.10" x2="636.25" y2="562.10" stroke="#e8891f" stroke-width="1.5" stroke-linecap="round"/>
<line x1="636.25" y1="562.10" x2="638.70" y2="551.20" stroke="#e8891f" stroke-width="1.5" stroke-linecap="round"/>
<line x1="638.70" y1="551.20" x2="646.70" y2="551.20" stroke="#e8891f" stroke-width="1.5" stroke-linecap="round"/>
<line x1="614.90" y1="544.40" x2="619.50" y2="541.50" stroke="#e0282c" stroke-width="1.1" stroke-linecap="round"/>
<line x1="614.90" y1="544.40" x2="616.05" y2="547.80" stroke="#e0282c" stroke-width="1.1" stroke-linecap="butt"/>
<line x1="616.05" y1="547.80" x2="617.20" y2="551.20" stroke="#e08a2a" stroke-width="1.1" stroke-linecap="butt"/>
<circle cx="600.60" cy="552.20" r="1.45" fill="url(#gR)" stroke="#b01010" stroke-width="0.35" />
<circle cx="611.10" cy="562.90" r="1.45" fill="url(#gR)" stroke="#b01010" stroke-width="0.35" />
<circle cx="594.45" cy="562.10" r="1.95" fill="url(#gO)" stroke="#b05a00" stroke-width="0.35" />
<circle cx="596.90" cy="551.20" r="1.95" fill="url(#gO)" stroke="#b05a00" stroke-width="0.35" />
<circle cx="604.90" cy="551.20" r="1.95" fill="url(#gO)" stroke="#b05a00" stroke-width="0.35" />
<circle cx="617.80" cy="551.20" r="1.95" fill="url(#gO)" stroke="#b05a00" stroke-width="0.35" />
<circle cx="625.80" cy="551.20" r="1.95" fill="url(#gO)" stroke="#b05a00" stroke-width="0.35" />
<circle cx="638.70" cy="551.20" r="1.95" fill="url(#gO)" stroke="#b05a00" stroke-width="0.35" />
<circle cx="646.70" cy="551.20" r="1.95" fill="url(#gO)" stroke="#b05a00" stroke-width="0.35" />
<circle cx="607.35" cy="562.10" r="1.95" fill="url(#gO)" stroke="#b05a00" stroke-width="0.35" />
<circle cx="615.35" cy="562.10" r="1.95" fill="url(#gO)" stroke="#b05a00" stroke-width="0.35" />
<circle cx="628.25" cy="562.10" r="1.95" fill="url(#gO)" stroke="#b05a00" stroke-width="0.35" />
<circle cx="636.25" cy="562.10" r="1.95" fill="url(#gO)" stroke="#b05a00" stroke-width="0.35" />
<circle cx="614.90" cy="544.40" r="1.60" fill="url(#gR)" stroke="#b01010" stroke-width="0.35" />
<circle cx="619.50" cy="541.50" r="1.60" fill="url(#gR)" stroke="#b01010" stroke-width="0.35" />
<line x1="617.50" y1="469.40" x2="617.50" y2="443.90" stroke="#111" stroke-width="1.0" />
<path d="M617.50,441.90 L615.10,446.10 L617.50,444.80 L619.90,446.10 Z" fill="#111"/>
<clipPath id="c13"><rect x="701.60" y="381.60" width="58.80" height="61.68"/></clipPath>
<g clip-path="url(#c13)">
<line x1="706.90" y1="386.10" x2="697.40" y2="394.88" stroke="#e9a24e" stroke-width="1.05" />
<line x1="710.30" y1="386.10" x2="718.10" y2="394.88" stroke="#e9a24e" stroke-width="1.05" />
<line x1="729.30" y1="386.10" x2="721.50" y2="394.88" stroke="#e9a24e" stroke-width="1.05" />
<line x1="732.70" y1="386.10" x2="740.50" y2="394.88" stroke="#e9a24e" stroke-width="1.05" />
<line x1="751.70" y1="386.10" x2="743.90" y2="394.88" stroke="#e9a24e" stroke-width="1.05" />
<line x1="755.10" y1="386.10" x2="764.60" y2="394.88" stroke="#e9a24e" stroke-width="1.05" />
<line x1="697.40" y1="394.88" x2="706.90" y2="403.66" stroke="#e9a24e" stroke-width="1.05" />
<line x1="718.10" y1="394.88" x2="710.30" y2="403.66" stroke="#e9a24e" stroke-width="1.05" />
<line x1="721.50" y1="394.88" x2="729.30" y2="403.66" stroke="#e9a24e" stroke-width="1.05" />
<line x1="740.50" y1="394.88" x2="732.70" y2="403.66" stroke="#e9a24e" stroke-width="1.05" />
<line x1="743.90" y1="394.88" x2="751.70" y2="403.66" stroke="#e9a24e" stroke-width="1.05" />
<line x1="764.60" y1="394.88" x2="755.10" y2="403.66" stroke="#e9a24e" stroke-width="1.05" />
<line x1="706.90" y1="403.66" x2="697.40" y2="412.44" stroke="#e9a24e" stroke-width="1.05" />
<line x1="710.30" y1="403.66" x2="712.25" y2="408.05" stroke="#e9a24e" stroke-width="1.05" />
<line x1="712.25" y1="408.05" x2="714.20" y2="412.44" stroke="#e0403a" stroke-width="1.05" />
<line x1="729.30" y1="403.66" x2="727.05" y2="408.05" stroke="#e9a24e" stroke-width="1.05" />
<line x1="727.05" y1="408.05" x2="724.80" y2="412.44" stroke="#e0403a" stroke-width="1.05" />
<line x1="732.70" y1="403.66" x2="740.50" y2="412.44" stroke="#e9a24e" stroke-width="1.05" />
<line x1="751.70" y1="403.66" x2="743.90" y2="412.44" stroke="#e9a24e" stroke-width="1.05" />
<line x1="755.10" y1="403.66" x2="764.60" y2="412.44" stroke="#e9a24e" stroke-width="1.05" />
<line x1="697.40" y1="412.44" x2="706.90" y2="421.22" stroke="#e9a24e" stroke-width="1.05" />
<line x1="714.20" y1="412.44" x2="712.25" y2="416.83" stroke="#e0403a" stroke-width="1.05" />
<line x1="712.25" y1="416.83" x2="710.30" y2="421.22" stroke="#e9a24e" stroke-width="1.05" />
<line x1="724.80" y1="412.44" x2="727.05" y2="416.83" stroke="#e0403a" stroke-width="1.05" />
<line x1="727.05" y1="416.83" x2="729.30" y2="421.22" stroke="#e9a24e" stroke-width="1.05" />
<line x1="740.50" y1="412.44" x2="732.70" y2="421.22" stroke="#e9a24e" stroke-width="1.05" />
<line x1="743.90" y1="412.44" x2="751.70" y2="421.22" stroke="#e9a24e" stroke-width="1.05" />
<line x1="764.60" y1="412.44" x2="755.10" y2="421.22" stroke="#e9a24e" stroke-width="1.05" />
<line x1="706.90" y1="421.22" x2="697.40" y2="430.00" stroke="#e9a24e" stroke-width="1.05" />
<line x1="710.30" y1="421.22" x2="718.10" y2="430.00" stroke="#e9a24e" stroke-width="1.05" />
<line x1="729.30" y1="421.22" x2="721.50" y2="430.00" stroke="#e9a24e" stroke-width="1.05" />
<line x1="732.70" y1="421.22" x2="740.50" y2="430.00" stroke="#e9a24e" stroke-width="1.05" />
<line x1="751.70" y1="421.22" x2="743.90" y2="430.00" stroke="#e9a24e" stroke-width="1.05" />
<line x1="755.10" y1="421.22" x2="764.60" y2="430.00" stroke="#e9a24e" stroke-width="1.05" />
<line x1="697.40" y1="430.00" x2="706.90" y2="438.78" stroke="#e9a24e" stroke-width="1.05" />
<line x1="718.10" y1="430.00" x2="710.30" y2="438.78" stroke="#e9a24e" stroke-width="1.05" />
<line x1="721.50" y1="430.00" x2="729.30" y2="438.78" stroke="#e9a24e" stroke-width="1.05" />
<line x1="740.50" y1="430.00" x2="732.70" y2="438.78" stroke="#e9a24e" stroke-width="1.05" />
<line x1="743.90" y1="430.00" x2="751.70" y2="438.78" stroke="#e9a24e" stroke-width="1.05" />
<line x1="764.60" y1="430.00" x2="755.10" y2="438.78" stroke="#e9a24e" stroke-width="1.05" />
</g>
<circle cx="706.90" cy="386.10" r="2.05" fill="url(#gO)" stroke="#b05a00" stroke-width="0.35" />
<circle cx="710.30" cy="386.10" r="2.05" fill="url(#gO)" stroke="#b05a00" stroke-width="0.35" />
<circle cx="729.30" cy="386.10" r="2.05" fill="url(#gO)" stroke="#b05a00" stroke-width="0.35" />
<circle cx="732.70" cy="386.10" r="2.05" fill="url(#gO)" stroke="#b05a00" stroke-width="0.35" />
<circle cx="751.70" cy="386.10" r="2.05" fill="url(#gO)" stroke="#b05a00" stroke-width="0.35" />
<circle cx="755.10" cy="386.10" r="2.05" fill="url(#gO)" stroke="#b05a00" stroke-width="0.35" />
<circle cx="718.10" cy="394.88" r="2.05" fill="url(#gO)" stroke="#b05a00" stroke-width="0.35" />
<circle cx="721.50" cy="394.88" r="2.05" fill="url(#gO)" stroke="#b05a00" stroke-width="0.35" />
<circle cx="740.50" cy="394.88" r="2.05" fill="url(#gO)" stroke="#b05a00" stroke-width="0.35" />
<circle cx="743.90" cy="394.88" r="2.05" fill="url(#gO)" stroke="#b05a00" stroke-width="0.35" />
<circle cx="706.90" cy="403.66" r="2.05" fill="url(#gO)" stroke="#b05a00" stroke-width="0.35" />
<circle cx="710.30" cy="403.66" r="2.05" fill="url(#gO)" stroke="#b05a00" stroke-width="0.35" />
<circle cx="729.30" cy="403.66" r="2.05" fill="url(#gO)" stroke="#b05a00" stroke-width="0.35" />
<circle cx="732.70" cy="403.66" r="2.05" fill="url(#gO)" stroke="#b05a00" stroke-width="0.35" />
<circle cx="751.70" cy="403.66" r="2.05" fill="url(#gO)" stroke="#b05a00" stroke-width="0.35" />
<circle cx="755.10" cy="403.66" r="2.05" fill="url(#gO)" stroke="#b05a00" stroke-width="0.35" />
<circle cx="740.50" cy="412.44" r="2.05" fill="url(#gO)" stroke="#b05a00" stroke-width="0.35" />
<circle cx="743.90" cy="412.44" r="2.05" fill="url(#gO)" stroke="#b05a00" stroke-width="0.35" />
<circle cx="706.90" cy="421.22" r="2.05" fill="url(#gO)" stroke="#b05a00" stroke-width="0.35" />
<circle cx="710.30" cy="421.22" r="2.05" fill="url(#gO)" stroke="#b05a00" stroke-width="0.35" />
<circle cx="729.30" cy="421.22" r="2.05" fill="url(#gO)" stroke="#b05a00" stroke-width="0.35" />
<circle cx="732.70" cy="421.22" r="2.05" fill="url(#gO)" stroke="#b05a00" stroke-width="0.35" />
<circle cx="751.70" cy="421.22" r="2.05" fill="url(#gO)" stroke="#b05a00" stroke-width="0.35" />
<circle cx="755.10" cy="421.22" r="2.05" fill="url(#gO)" stroke="#b05a00" stroke-width="0.35" />
<circle cx="718.10" cy="430.00" r="2.05" fill="url(#gO)" stroke="#b05a00" stroke-width="0.35" />
<circle cx="721.50" cy="430.00" r="2.05" fill="url(#gO)" stroke="#b05a00" stroke-width="0.35" />
<circle cx="740.50" cy="430.00" r="2.05" fill="url(#gO)" stroke="#b05a00" stroke-width="0.35" />
<circle cx="743.90" cy="430.00" r="2.05" fill="url(#gO)" stroke="#b05a00" stroke-width="0.35" />
<circle cx="706.90" cy="438.78" r="2.05" fill="url(#gO)" stroke="#b05a00" stroke-width="0.35" />
<circle cx="710.30" cy="438.78" r="2.05" fill="url(#gO)" stroke="#b05a00" stroke-width="0.35" />
<circle cx="729.30" cy="438.78" r="2.05" fill="url(#gO)" stroke="#b05a00" stroke-width="0.35" />
<circle cx="732.70" cy="438.78" r="2.05" fill="url(#gO)" stroke="#b05a00" stroke-width="0.35" />
<circle cx="751.70" cy="438.78" r="2.05" fill="url(#gO)" stroke="#b05a00" stroke-width="0.35" />
<circle cx="755.10" cy="438.78" r="2.05" fill="url(#gO)" stroke="#b05a00" stroke-width="0.35" />
<circle cx="713.90" cy="412.80" r="1.60" fill="url(#gR)" stroke="#b01010" stroke-width="0.35" />
<circle cx="724.50" cy="412.80" r="1.60" fill="url(#gR)" stroke="#b01010" stroke-width="0.35" />
<circle cx="745.30" cy="413.80" r="1.60" fill="url(#gR)" stroke="#b01010" stroke-width="0.35" />
<line x1="702.90" y1="467.90" x2="707.90" y2="467.90" stroke="#e8891f" stroke-width="1.5" stroke-linecap="round"/>
<line x1="707.90" y1="467.90" x2="710.40" y2="457.20" stroke="#e8891f" stroke-width="1.5" stroke-linecap="round"/>
<line x1="710.40" y1="457.20" x2="718.50" y2="457.20" stroke="#e8891f" stroke-width="1.5" stroke-linecap="round"/>
<line x1="718.50" y1="457.20" x2="721.00" y2="467.90" stroke="#e8891f" stroke-width="1.5" stroke-linecap="round"/>
<line x1="721.00" y1="467.90" x2="729.10" y2="467.90" stroke="#e8891f" stroke-width="1.5" stroke-linecap="round"/>
<line x1="729.10" y1="467.90" x2="731.60" y2="457.20" stroke="#e8891f" stroke-width="1.5" stroke-linecap="round"/>
<line x1="731.60" y1="457.20" x2="739.70" y2="457.20" stroke="#e8891f" stroke-width="1.5" stroke-linecap="round"/>
<line x1="739.70" y1="457.20" x2="742.20" y2="467.90" stroke="#e8891f" stroke-width="1.5" stroke-linecap="round"/>
<line x1="742.20" y1="467.90" x2="750.30" y2="467.90" stroke="#e8891f" stroke-width="1.5" stroke-linecap="round"/>
<line x1="750.30" y1="467.90" x2="752.80" y2="457.20" stroke="#e8891f" stroke-width="1.5" stroke-linecap="round"/>
<line x1="752.80" y1="457.20" x2="760.90" y2="457.20" stroke="#e8891f" stroke-width="1.5" stroke-linecap="round"/>
<line x1="726.10" y1="453.40" x2="728.75" y2="455.30" stroke="#e0282c" stroke-width="1.1" stroke-linecap="butt"/>
<line x1="728.75" y1="455.30" x2="731.40" y2="457.20" stroke="#e08a2a" stroke-width="1.1" stroke-linecap="butt"/>
<line x1="745.10" y1="453.40" x2="742.30" y2="455.30" stroke="#e0282c" stroke-width="1.1" stroke-linecap="butt"/>
<line x1="742.30" y1="455.30" x2="739.50" y2="457.20" stroke="#e08a2a" stroke-width="1.1" stroke-linecap="butt"/>
<circle cx="714.70" cy="457.60" r="1.45" fill="url(#gR)" stroke="#b01010" stroke-width="0.35" />
<circle cx="725.00" cy="467.40" r="1.45" fill="url(#gR)" stroke="#b01010" stroke-width="0.35" />
<circle cx="707.90" cy="467.90" r="1.95" fill="url(#gO)" stroke="#b05a00" stroke-width="0.35" />
<circle cx="710.40" cy="457.20" r="1.95" fill="url(#gO)" stroke="#b05a00" stroke-width="0.35" />
<circle cx="718.50" cy="457.20" r="1.95" fill="url(#gO)" stroke="#b05a00" stroke-width="0.35" />
<circle cx="731.60" cy="457.20" r="1.95" fill="url(#gO)" stroke="#b05a00" stroke-width="0.35" />
<circle cx="739.70" cy="457.20" r="1.95" fill="url(#gO)" stroke="#b05a00" stroke-width="0.35" />
<circle cx="752.80" cy="457.20" r="1.95" fill="url(#gO)" stroke="#b05a00" stroke-width="0.35" />
<circle cx="760.90" cy="457.20" r="1.95" fill="url(#gO)" stroke="#b05a00" stroke-width="0.35" />
<circle cx="721.00" cy="467.90" r="1.95" fill="url(#gO)" stroke="#b05a00" stroke-width="0.35" />
<circle cx="729.10" cy="467.90" r="1.95" fill="url(#gO)" stroke="#b05a00" stroke-width="0.35" />
<circle cx="742.20" cy="467.90" r="1.95" fill="url(#gO)" stroke="#b05a00" stroke-width="0.35" />
<circle cx="750.30" cy="467.90" r="1.95" fill="url(#gO)" stroke="#b05a00" stroke-width="0.35" />
<circle cx="726.10" cy="453.40" r="1.60" fill="url(#gR)" stroke="#b01010" stroke-width="0.35" />
<circle cx="745.10" cy="453.40" r="1.60" fill="url(#gR)" stroke="#b01010" stroke-width="0.35" />
<line x1="729.50" y1="476.00" x2="729.50" y2="492.50" stroke="#111" stroke-width="1.0" />
<path d="M729.50,494.50 L727.10,490.30 L729.50,491.60 L731.90,490.30 Z" fill="#111"/>
<path d="M505.30,448.90 L506.70,448.55 L508.10,448.20 L509.50,447.86 L510.90,447.51 L512.30,447.16 L513.70,446.81 L515.10,446.46 L516.50,446.11 L517.90,445.76 L519.30,445.41 L520.70,445.06 L522.10,444.71 L523.50,444.36 L524.90,444.00 L526.30,443.65 L527.70,443.29 L529.10,442.93 L530.50,442.58 L531.90,442.22 L533.30,441.85 L534.70,441.49 L536.10,441.13 L537.50,440.76 L538.90,440.39 L540.30,440.02 L541.70,439.65 L543.10,439.28 L544.50,438.91 L545.90,438.53 L547.30,438.15 L548.70,437.77 L550.10,437.38 L551.50,437.00 L552.90,436.61 L554.30,436.22 L555.70,435.83 L557.10,435.43 L558.50,435.03 L559.90,434.63 L561.30,434.23 L562.70,433.82 L564.10,433.41 L565.50,433.00 L566.90,432.60 L568.30,432.20 L569.70,431.80 L571.10,431.41 L572.50,431.03 L573.90,430.66 L575.30,430.31 L576.70,429.96 L578.10,429.63 L579.50,429.32 L580.90,429.03 L582.30,428.76 L583.70,428.51 L585.10,428.29 L586.50,428.09 L587.90,427.92 L589.30,427.78 L590.70,427.66 L592.10,427.58 L593.50,427.54 L594.90,427.53 L596.30,427.56 L597.70,427.62 L599.10,427.73 L600.50,427.88 L601.90,428.08 L603.30,428.32 L604.70,428.61 L606.10,428.94 L607.50,429.33 L608.90,429.77 L610.30,430.27 L611.70,430.82 L613.10,431.43 L614.50,432.09 L615.90,432.82 L617.30,433.61 L618.70,434.47 L620.10,435.39 L621.50,436.36 L622.90,437.39 L624.30,438.48 L625.70,439.61 L627.10,440.79 L628.50,442.01 L629.90,443.28 L631.30,444.58 L632.70,445.92 L634.10,447.29 L635.50,448.69 L636.90,450.11 L638.30,451.56 L639.70,453.03 L641.10,454.52 L642.50,456.02 L643.90,457.53 L645.30,459.05 L646.70,460.58 L648.10,462.11 L649.50,463.64 L650.90,465.17 L652.30,466.69 L653.70,468.20 L655.10,469.70 L656.50,471.19 L657.90,472.66 L659.30,474.10 L660.70,475.53 L662.10,476.93 L663.50,478.29 L664.90,479.63 L666.30,480.93 L667.70,482.19 L669.10,483.42 L670.50,484.59 L671.90,485.73 L673.30,486.81 L674.70,487.84 L676.10,488.81 L677.50,489.74 L678.90,490.62 L680.30,491.45 L681.70,492.24 L683.10,492.98 L684.50,493.67 L685.90,494.33 L687.30,494.94 L688.70,495.51 L690.10,496.05 L691.50,496.55 L692.90,497.01 L694.30,497.44 L695.70,497.84 L697.10,498.20 L698.50,498.53 L699.90,498.84 L701.30,499.12 L702.70,499.37 L704.10,499.59 L705.50,499.79 L706.90,499.97 L708.30,500.13 L709.70,500.27 L711.10,500.39 L712.50,500.49 L713.90,500.58 L715.30,500.65 L716.70,500.71 L718.10,500.76 L719.50,500.80 L720.90,500.82 L722.30,500.84 L723.70,500.86 L725.10,500.86 L726.50,500.87 L727.90,500.87 L729.30,500.87" stroke="#111" stroke-width="1.3" fill="none" />
<circle cx="505.30" cy="448.90" r="5.45" fill="#ff8a00" stroke="none" stroke-width="0" />
<circle cx="561.30" cy="434.23" r="5.45" fill="#ff8a00" stroke="none" stroke-width="0" />
<circle cx="617.30" cy="433.61" r="5.45" fill="#ff8a00" stroke="none" stroke-width="0" />
<circle cx="673.30" cy="486.81" r="5.45" fill="#ff8a00" stroke="none" stroke-width="0" />
<circle cx="729.30" cy="500.87" r="5.45" fill="#ff8a00" stroke="none" stroke-width="0" />
<rect x="460.90" y="627.00" width="314.40" height="198.70" stroke="#1e1e1e" stroke-width="1.3" fill="none" />
<line x1="455.90" y1="825.68" x2="460.90" y2="825.68" stroke="#2a2a2a" stroke-width="1.2" />
<text x="453.00" y="829.98" font-size="13" text-anchor="end" fill="#111" font-family="'Liberation Sans', sans-serif" >-4</text>
<line x1="455.90" y1="795.11" x2="460.90" y2="795.11" stroke="#2a2a2a" stroke-width="1.2" />
<line x1="775.30" y1="795.11" x2="770.30" y2="795.11" stroke="#2a2a2a" stroke-width="1.2" />
<text x="453.00" y="799.41" font-size="13" text-anchor="end" fill="#111" font-family="'Liberation Sans', sans-serif" >-3</text>
<line x1="455.90" y1="764.54" x2="460.90" y2="764.54" stroke="#2a2a2a" stroke-width="1.2" />
<line x1="775.30" y1="764.54" x2="770.30" y2="764.54" stroke="#2a2a2a" stroke-width="1.2" />
<text x="453.00" y="768.84" font-size="13" text-anchor="end" fill="#111" font-family="'Liberation Sans', sans-serif" >-2</text>
<line x1="455.90" y1="733.97" x2="460.90" y2="733.97" stroke="#2a2a2a" stroke-width="1.2" />
<line x1="775.30" y1="733.97" x2="770.30" y2="733.97" stroke="#2a2a2a" stroke-width="1.2" />
<text x="453.00" y="738.27" font-size="13" text-anchor="end" fill="#111" font-family="'Liberation Sans', sans-serif" >-1</text>
<line x1="455.90" y1="703.40" x2="460.90" y2="703.40" stroke="#2a2a2a" stroke-width="1.2" />
<line x1="775.30" y1="703.40" x2="770.30" y2="703.40" stroke="#2a2a2a" stroke-width="1.2" />
<text x="453.00" y="707.70" font-size="13" text-anchor="end" fill="#111" font-family="'Liberation Sans', sans-serif" >0</text>
<line x1="455.90" y1="672.83" x2="460.90" y2="672.83" stroke="#2a2a2a" stroke-width="1.2" />
<line x1="775.30" y1="672.83" x2="770.30" y2="672.83" stroke="#2a2a2a" stroke-width="1.2" />
<text x="453.00" y="677.13" font-size="13" text-anchor="end" fill="#111" font-family="'Liberation Sans', sans-serif" >1</text>
<line x1="455.90" y1="642.26" x2="460.90" y2="642.26" stroke="#2a2a2a" stroke-width="1.2" />
<line x1="775.30" y1="642.26" x2="770.30" y2="642.26" stroke="#2a2a2a" stroke-width="1.2" />
<text x="453.00" y="646.56" font-size="13" text-anchor="end" fill="#111" font-family="'Liberation Sans', sans-serif" >2</text>
<line x1="505.80" y1="825.70" x2="505.80" y2="830.20" stroke="#2a2a2a" stroke-width="1.2" />
<line x1="505.80" y1="627.00" x2="505.80" y2="632.00" stroke="#2a2a2a" stroke-width="1.2" />
<text x="505.80" y="849.00" font-size="13" text-anchor="middle" fill="#111" font-family="'Liberation Sans', sans-serif" >0</text>
<line x1="562.00" y1="825.70" x2="562.00" y2="830.20" stroke="#2a2a2a" stroke-width="1.2" />
<line x1="562.00" y1="627.00" x2="562.00" y2="632.00" stroke="#2a2a2a" stroke-width="1.2" />
<text x="562.00" y="849.00" font-size="13" text-anchor="middle" fill="#111" font-family="'Liberation Sans', sans-serif" >1</text>
<line x1="618.20" y1="825.70" x2="618.20" y2="830.20" stroke="#2a2a2a" stroke-width="1.2" />
<line x1="618.20" y1="627.00" x2="618.20" y2="632.00" stroke="#2a2a2a" stroke-width="1.2" />
<text x="618.20" y="849.00" font-size="13" text-anchor="middle" fill="#111" font-family="'Liberation Sans', sans-serif" >2</text>
<line x1="674.40" y1="825.70" x2="674.40" y2="830.20" stroke="#2a2a2a" stroke-width="1.2" />
<line x1="674.40" y1="627.00" x2="674.40" y2="632.00" stroke="#2a2a2a" stroke-width="1.2" />
<text x="674.40" y="849.00" font-size="13" text-anchor="middle" fill="#111" font-family="'Liberation Sans', sans-serif" >3</text>
<line x1="730.60" y1="825.70" x2="730.60" y2="830.20" stroke="#2a2a2a" stroke-width="1.2" />
<line x1="730.60" y1="627.00" x2="730.60" y2="632.00" stroke="#2a2a2a" stroke-width="1.2" />
<text x="730.60" y="849.00" font-size="13" text-anchor="middle" fill="#111" font-family="'Liberation Sans', sans-serif" >4</text>
<text x="618.10" y="868.00" font-size="15.2" text-anchor="middle" fill="#111" font-family="'Liberation Sans', sans-serif" >NEB Image</text>
<text transform="translate(431.30,726.35) rotate(-90)" x="0" y="0" font-size="15.1" text-anchor="middle" fill="#111" font-family="'Liberation Sans', sans-serif">Energy (eV)</text>
<text x="405.20" y="647.20" font-size="19" text-anchor="start" fill="#111" font-family="'Liberation Serif', serif" >(f)</text>
<text x="584.50" y="653.40" font-size="13.0" text-anchor="start" fill="#111" font-family="'Liberation Sans', sans-serif" >O</text>
<text x="595.31" y="657.40" font-size="8.84" text-anchor="start" fill="#111" font-family="'Liberation Sans', sans-serif" >2</text>
<line x1="603.23" y1="648.40" x2="615.23" y2="648.40" stroke="#111" stroke-width="1.55" />
<path d="M618.03,648.40 L613.50,650.51 L615.03,648.40 L613.50,646.29 Z" fill="#111"/>
<text x="620.73" y="653.40" font-size="13.0" text-anchor="start" fill="#111" font-family="'Liberation Sans', sans-serif" >OOH*</text>
<clipPath id="c14"><rect x="491.50" y="731.90" width="54.60" height="59.22"/></clipPath>
<g clip-path="url(#c14)">
<line x1="496.80" y1="736.40" x2="488.35" y2="744.77" stroke="#e9a24e" stroke-width="1.05" />
<line x1="500.20" y1="736.40" x2="506.95" y2="744.77" stroke="#e9a24e" stroke-width="1.05" />
<line x1="517.10" y1="736.40" x2="510.35" y2="744.77" stroke="#e9a24e" stroke-width="1.05" />
<line x1="520.50" y1="736.40" x2="527.25" y2="744.77" stroke="#e9a24e" stroke-width="1.05" />
<line x1="537.40" y1="736.40" x2="530.65" y2="744.77" stroke="#e9a24e" stroke-width="1.05" />
<line x1="540.80" y1="736.40" x2="549.25" y2="744.77" stroke="#e9a24e" stroke-width="1.05" />
<line x1="488.35" y1="744.77" x2="496.80" y2="753.14" stroke="#e9a24e" stroke-width="1.05" />
<line x1="506.95" y1="744.77" x2="500.20" y2="753.14" stroke="#e9a24e" stroke-width="1.05" />
<line x1="510.35" y1="744.77" x2="517.10" y2="753.14" stroke="#e9a24e" stroke-width="1.05" />
<line x1="527.25" y1="744.77" x2="520.50" y2="753.14" stroke="#e9a24e" stroke-width="1.05" />
<line x1="530.65" y1="744.77" x2="537.40" y2="753.14" stroke="#e9a24e" stroke-width="1.05" />
<line x1="549.25" y1="744.77" x2="540.80" y2="753.14" stroke="#e9a24e" stroke-width="1.05" />
<line x1="496.80" y1="753.14" x2="488.35" y2="761.51" stroke="#e9a24e" stroke-width="1.05" />
<line x1="500.20" y1="753.14" x2="501.62" y2="757.33" stroke="#e9a24e" stroke-width="1.05" />
<line x1="501.62" y1="757.33" x2="503.05" y2="761.51" stroke="#e0403a" stroke-width="1.05" />
<line x1="517.10" y1="753.14" x2="515.38" y2="757.33" stroke="#e9a24e" stroke-width="1.05" />
<line x1="515.38" y1="757.33" x2="513.65" y2="761.51" stroke="#e0403a" stroke-width="1.05" />
<line x1="520.50" y1="753.14" x2="527.25" y2="761.51" stroke="#e9a24e" stroke-width="1.05" />
<line x1="537.40" y1="753.14" x2="530.65" y2="761.51" stroke="#e9a24e" stroke-width="1.05" />
<line x1="540.80" y1="753.14" x2="549.25" y2="761.51" stroke="#e9a24e" stroke-width="1.05" />
<line x1="488.35" y1="761.51" x2="496.80" y2="769.88" stroke="#e9a24e" stroke-width="1.05" />
<line x1="503.05" y1="761.51" x2="501.62" y2="765.69" stroke="#e0403a" stroke-width="1.05" />
<line x1="501.62" y1="765.69" x2="500.20" y2="769.88" stroke="#e9a24e" stroke-width="1.05" />
<line x1="513.65" y1="761.51" x2="515.38" y2="765.69" stroke="#e0403a" stroke-width="1.05" />
<line x1="515.38" y1="765.69" x2="517.10" y2="769.88" stroke="#e9a24e" stroke-width="1.05" />
<line x1="527.25" y1="761.51" x2="520.50" y2="769.88" stroke="#e9a24e" stroke-width="1.05" />
<line x1="530.65" y1="761.51" x2="537.40" y2="769.88" stroke="#e9a24e" stroke-width="1.05" />
<line x1="549.25" y1="761.51" x2="540.80" y2="769.88" stroke="#e9a24e" stroke-width="1.05" />
<line x1="496.80" y1="769.88" x2="488.35" y2="778.25" stroke="#e9a24e" stroke-width="1.05" />
<line x1="500.20" y1="769.88" x2="506.95" y2="778.25" stroke="#e9a24e" stroke-width="1.05" />
<line x1="517.10" y1="769.88" x2="510.35" y2="778.25" stroke="#e9a24e" stroke-width="1.05" />
<line x1="520.50" y1="769.88" x2="527.25" y2="778.25" stroke="#e9a24e" stroke-width="1.05" />
<line x1="537.40" y1="769.88" x2="530.65" y2="778.25" stroke="#e9a24e" stroke-width="1.05" />
<line x1="540.80" y1="769.88" x2="549.25" y2="778.25" stroke="#e9a24e" stroke-width="1.05" />
<line x1="488.35" y1="778.25" x2="496.80" y2="786.62" stroke="#e9a24e" stroke-width="1.05" />
<line x1="506.95" y1="778.25" x2="500.20" y2="786.62" stroke="#e9a24e" stroke-width="1.05" />
<line x1="510.35" y1="778.25" x2="517.10" y2="786.62" stroke="#e9a24e" stroke-width="1.05" />
<line x1="527.25" y1="778.25" x2="520.50" y2="786.62" stroke="#e9a24e" stroke-width="1.05" />
<line x1="530.65" y1="778.25" x2="537.40" y2="786.62" stroke="#e9a24e" stroke-width="1.05" />
<line x1="549.25" y1="778.25" x2="540.80" y2="786.62" stroke="#e9a24e" stroke-width="1.05" />
</g>
<line x1="517.30" y1="747.70" x2="521.90" y2="752.70" stroke="#e0282c" stroke-width="1.0" stroke-linecap="round"/>
<circle cx="496.80" cy="736.40" r="2.05" fill="url(#gO)" stroke="#b05a00" stroke-width="0.35" />
<circle cx="500.20" cy="736.40" r="2.05" fill="url(#gO)" stroke="#b05a00" stroke-width="0.35" />
<circle cx="517.10" cy="736.40" r="2.05" fill="url(#gO)" stroke="#b05a00" stroke-width="0.35" />
<circle cx="520.50" cy="736.40" r="2.05" fill="url(#gO)" stroke="#b05a00" stroke-width="0.35" />
<circle cx="537.40" cy="736.40" r="2.05" fill="url(#gO)" stroke="#b05a00" stroke-width="0.35" />
<circle cx="540.80" cy="736.40" r="2.05" fill="url(#gO)" stroke="#b05a00" stroke-width="0.35" />
<circle cx="506.95" cy="744.77" r="2.05" fill="url(#gO)" stroke="#b05a00" stroke-width="0.35" />
<circle cx="510.35" cy="744.77" r="2.05" fill="url(#gO)" stroke="#b05a00" stroke-width="0.35" />
<circle cx="527.25" cy="744.77" r="2.05" fill="url(#gO)" stroke="#b05a00" stroke-width="0.35" />
<circle cx="530.65" cy="744.77" r="2.05" fill="url(#gO)" stroke="#b05a00" stroke-width="0.35" />
<circle cx="496.80" cy="753.14" r="2.05" fill="url(#gO)" stroke="#b05a00" stroke-width="0.35" />
<circle cx="500.20" cy="753.14" r="2.05" fill="url(#gO)" stroke="#b05a00" stroke-width="0.35" />
<circle cx="517.10" cy="753.14" r="2.05" fill="url(#gO)" stroke="#b05a00" stroke-width="0.35" />
<circle cx="520.50" cy="753.14" r="2.05" fill="url(#gO)" stroke="#b05a00" stroke-width="0.35" />
<circle cx="537.40" cy="753.14" r="2.05" fill="url(#gO)" stroke="#b05a00" stroke-width="0.35" />
<circle cx="540.80" cy="753.14" r="2.05" fill="url(#gO)" stroke="#b05a00" stroke-width="0.35" />
<circle cx="527.25" cy="761.51" r="2.05" fill="url(#gO)" stroke="#b05a00" stroke-width="0.35" />
<circle cx="530.65" cy="761.51" r="2.05" fill="url(#gO)" stroke="#b05a00" stroke-width="0.35" />
<circle cx="496.80" cy="769.88" r="2.05" fill="url(#gO)" stroke="#b05a00" stroke-width="0.35" />
<circle cx="500.20" cy="769.88" r="2.05" fill="url(#gO)" stroke="#b05a00" stroke-width="0.35" />
<circle cx="517.10" cy="769.88" r="2.05" fill="url(#gO)" stroke="#b05a00" stroke-width="0.35" />
<circle cx="520.50" cy="769.88" r="2.05" fill="url(#gO)" stroke="#b05a00" stroke-width="0.35" />
<circle cx="537.40" cy="769.88" r="2.05" fill="url(#gO)" stroke="#b05a00" stroke-width="0.35" />
<circle cx="540.80" cy="769.88" r="2.05" fill="url(#gO)" stroke="#b05a00" stroke-width="0.35" />
<circle cx="506.95" cy="778.25" r="2.05" fill="url(#gO)" stroke="#b05a00" stroke-width="0.35" />
<circle cx="510.35" cy="778.25" r="2.05" fill="url(#gO)" stroke="#b05a00" stroke-width="0.35" />
<circle cx="527.25" cy="778.25" r="2.05" fill="url(#gO)" stroke="#b05a00" stroke-width="0.35" />
<circle cx="530.65" cy="778.25" r="2.05" fill="url(#gO)" stroke="#b05a00" stroke-width="0.35" />
<circle cx="496.80" cy="786.62" r="2.05" fill="url(#gO)" stroke="#b05a00" stroke-width="0.35" />
<circle cx="500.20" cy="786.62" r="2.05" fill="url(#gO)" stroke="#b05a00" stroke-width="0.35" />
<circle cx="517.10" cy="786.62" r="2.05" fill="url(#gO)" stroke="#b05a00" stroke-width="0.35" />
<circle cx="520.50" cy="786.62" r="2.05" fill="url(#gO)" stroke="#b05a00" stroke-width="0.35" />
<circle cx="537.40" cy="786.62" r="2.05" fill="url(#gO)" stroke="#b05a00" stroke-width="0.35" />
<circle cx="540.80" cy="786.62" r="2.05" fill="url(#gO)" stroke="#b05a00" stroke-width="0.35" />
<circle cx="502.50" cy="761.40" r="1.60" fill="url(#gR)" stroke="#b01010" stroke-width="0.35" />
<circle cx="513.30" cy="761.40" r="1.60" fill="url(#gR)" stroke="#b01010" stroke-width="0.35" />
<circle cx="517.30" cy="747.70" r="1.60" fill="url(#gR)" stroke="#b01010" stroke-width="0.35" />
<circle cx="521.90" cy="752.70" r="1.60" fill="url(#gR)" stroke="#b01010" stroke-width="0.35" />
<circle cx="531.30" cy="764.50" r="1.55" fill="url(#gG)" stroke="#20a028" stroke-width="0.35" />
<line x1="493.70" y1="814.20" x2="500.50" y2="814.20" stroke="#e8891f" stroke-width="1.5" stroke-linecap="round"/>
<line x1="500.50" y1="814.20" x2="502.50" y2="805.30" stroke="#e8891f" stroke-width="1.5" stroke-linecap="round"/>
<line x1="502.50" y1="805.30" x2="509.30" y2="805.30" stroke="#e8891f" stroke-width="1.5" stroke-linecap="round"/>
<line x1="509.30" y1="805.30" x2="511.30" y2="814.20" stroke="#e8891f" stroke-width="1.5" stroke-linecap="round"/>
<line x1="511.30" y1="814.20" x2="518.10" y2="814.20" stroke="#e8891f" stroke-width="1.5" stroke-linecap="round"/>
<line x1="518.10" y1="814.20" x2="520.10" y2="805.30" stroke="#e8891f" stroke-width="1.5" stroke-linecap="round"/>
<line x1="520.10" y1="805.30" x2="526.90" y2="805.30" stroke="#e8891f" stroke-width="1.5" stroke-linecap="round"/>
<line x1="526.90" y1="805.30" x2="528.90" y2="814.20" stroke="#e8891f" stroke-width="1.5" stroke-linecap="round"/>
<line x1="528.90" y1="814.20" x2="535.70" y2="814.20" stroke="#e8891f" stroke-width="1.5" stroke-linecap="round"/>
<line x1="535.70" y1="814.20" x2="537.70" y2="805.30" stroke="#e8891f" stroke-width="1.5" stroke-linecap="round"/>
<line x1="537.70" y1="805.30" x2="544.50" y2="805.30" stroke="#e8891f" stroke-width="1.5" stroke-linecap="round"/>
<line x1="518.50" y1="795.40" x2="521.90" y2="795.40" stroke="#e0282c" stroke-width="1.1" stroke-linecap="round"/>
<line x1="520.20" y1="795.40" x2="520.20" y2="800.35" stroke="#e0282c" stroke-width="1.1" stroke-linecap="butt"/>
<line x1="520.20" y1="800.35" x2="520.20" y2="805.30" stroke="#e08a2a" stroke-width="1.1" stroke-linecap="butt"/>
<circle cx="505.90" cy="805.70" r="1.45" fill="url(#gR)" stroke="#b01010" stroke-width="0.35" />
<circle cx="514.80" cy="814.00" r="1.45" fill="url(#gR)" stroke="#b01010" stroke-width="0.35" />
<circle cx="500.50" cy="814.20" r="1.95" fill="url(#gO)" stroke="#b05a00" stroke-width="0.35" />
<circle cx="493.70" cy="814.20" r="1.95" fill="url(#gO)" stroke="#b05a00" stroke-width="0.35" />
<circle cx="502.50" cy="805.30" r="1.95" fill="url(#gO)" stroke="#b05a00" stroke-width="0.35" />
<circle cx="509.30" cy="805.30" r="1.95" fill="url(#gO)" stroke="#b05a00" stroke-width="0.35" />
<circle cx="520.10" cy="805.30" r="1.95" fill="url(#gO)" stroke="#b05a00" stroke-width="0.35" />
<circle cx="526.90" cy="805.30" r="1.95" fill="url(#gO)" stroke="#b05a00" stroke-width="0.35" />
<circle cx="537.70" cy="805.30" r="1.95" fill="url(#gO)" stroke="#b05a00" stroke-width="0.35" />
<circle cx="544.50" cy="805.30" r="1.95" fill="url(#gO)" stroke="#b05a00" stroke-width="0.35" />
<circle cx="511.30" cy="814.20" r="1.95" fill="url(#gO)" stroke="#b05a00" stroke-width="0.35" />
<circle cx="518.10" cy="814.20" r="1.95" fill="url(#gO)" stroke="#b05a00" stroke-width="0.35" />
<circle cx="528.90" cy="814.20" r="1.95" fill="url(#gO)" stroke="#b05a00" stroke-width="0.35" />
<circle cx="535.70" cy="814.20" r="1.95" fill="url(#gO)" stroke="#b05a00" stroke-width="0.35" />
<circle cx="518.50" cy="795.40" r="1.60" fill="url(#gR)" stroke="#b01010" stroke-width="0.35" />
<circle cx="521.90" cy="795.40" r="1.60" fill="url(#gR)" stroke="#b01010" stroke-width="0.35" />
<circle cx="530.50" cy="802.80" r="1.55" fill="url(#gG)" stroke="#20a028" stroke-width="0.35" />
<line x1="506.50" y1="727.40" x2="506.50" y2="714.10" stroke="#111" stroke-width="1.0" />
<path d="M506.50,712.10 L504.10,716.30 L506.50,715.00 L508.90,716.30 Z" fill="#111"/>
<clipPath id="c15"><rect x="590.30" y="725.30" width="56.60" height="58.80"/></clipPath>
<g clip-path="url(#c15)">
<line x1="595.60" y1="729.80" x2="586.65" y2="738.10" stroke="#e9a24e" stroke-width="1.05" />
<line x1="599.00" y1="729.80" x2="606.25" y2="738.10" stroke="#e9a24e" stroke-width="1.05" />
<line x1="616.90" y1="729.80" x2="609.65" y2="738.10" stroke="#e9a24e" stroke-width="1.05" />
<line x1="620.30" y1="729.80" x2="627.55" y2="738.10" stroke="#e9a24e" stroke-width="1.05" />
<line x1="638.20" y1="729.80" x2="630.95" y2="738.10" stroke="#e9a24e" stroke-width="1.05" />
<line x1="641.60" y1="729.80" x2="650.55" y2="738.10" stroke="#e9a24e" stroke-width="1.05" />
<line x1="586.65" y1="738.10" x2="595.60" y2="746.40" stroke="#e9a24e" stroke-width="1.05" />
<line x1="606.25" y1="738.10" x2="599.00" y2="746.40" stroke="#e9a24e" stroke-width="1.05" />
<line x1="609.65" y1="738.10" x2="616.90" y2="746.40" stroke="#e9a24e" stroke-width="1.05" />
<line x1="627.55" y1="738.10" x2="620.30" y2="746.40" stroke="#e9a24e" stroke-width="1.05" />
<line x1="630.95" y1="738.10" x2="638.20" y2="746.40" stroke="#e9a24e" stroke-width="1.05" />
<line x1="650.55" y1="738.10" x2="641.60" y2="746.40" stroke="#e9a24e" stroke-width="1.05" />
<line x1="595.60" y1="746.40" x2="586.65" y2="754.70" stroke="#e9a24e" stroke-width="1.05" />
<line x1="599.00" y1="746.40" x2="600.67" y2="750.55" stroke="#e9a24e" stroke-width="1.05" />
<line x1="600.67" y1="750.55" x2="602.35" y2="754.70" stroke="#e0403a" stroke-width="1.05" />
<line x1="616.90" y1="746.40" x2="614.92" y2="750.55" stroke="#e9a24e" stroke-width="1.05" />
<line x1="614.92" y1="750.55" x2="612.95" y2="754.70" stroke="#e0403a" stroke-width="1.05" />
<line x1="620.30" y1="746.40" x2="627.55" y2="754.70" stroke="#e9a24e" stroke-width="1.05" />
<line x1="638.20" y1="746.40" x2="630.95" y2="754.70" stroke="#e9a24e" stroke-width="1.05" />
<line x1="641.60" y1="746.40" x2="650.55" y2="754.70" stroke="#e9a24e" stroke-width="1.05" />
<line x1="586.65" y1="754.70" x2="595.60" y2="763.00" stroke="#e9a24e" stroke-width="1.05" />
<line x1="602.35" y1="754.70" x2="600.67" y2="758.85" stroke="#e0403a" stroke-width="1.05" />
<line x1="600.67" y1="758.85" x2="599.00" y2="763.00" stroke="#e9a24e" stroke-width="1.05" />
<line x1="612.95" y1="754.70" x2="614.92" y2="758.85" stroke="#e0403a" stroke-width="1.05" />
<line x1="614.92" y1="758.85" x2="616.90" y2="763.00" stroke="#e9a24e" stroke-width="1.05" />
<line x1="627.55" y1="754.70" x2="620.30" y2="763.00" stroke="#e9a24e" stroke-width="1.05" />
<line x1="630.95" y1="754.70" x2="638.20" y2="763.00" stroke="#e9a24e" stroke-width="1.05" />
<line x1="650.55" y1="754.70" x2="641.60" y2="763.00" stroke="#e9a24e" stroke-width="1.05" />
<line x1="595.60" y1="763.00" x2="586.65" y2="771.30" stroke="#e9a24e" stroke-width="1.05" />
<line x1="599.00" y1="763.00" x2="606.25" y2="771.30" stroke="#e9a24e" stroke-width="1.05" />
<line x1="616.90" y1="763.00" x2="609.65" y2="771.30" stroke="#e9a24e" stroke-width="1.05" />
<line x1="620.30" y1="763.00" x2="627.55" y2="771.30" stroke="#e9a24e" stroke-width="1.05" />
<line x1="638.20" y1="763.00" x2="630.95" y2="771.30" stroke="#e9a24e" stroke-width="1.05" />
<line x1="641.60" y1="763.00" x2="650.55" y2="771.30" stroke="#e9a24e" stroke-width="1.05" />
<line x1="586.65" y1="771.30" x2="595.60" y2="779.60" stroke="#e9a24e" stroke-width="1.05" />
<line x1="606.25" y1="771.30" x2="599.00" y2="779.60" stroke="#e9a24e" stroke-width="1.05" />
<line x1="609.65" y1="771.30" x2="616.90" y2="779.60" stroke="#e9a24e" stroke-width="1.05" />
<line x1="627.55" y1="771.30" x2="620.30" y2="779.60" stroke="#e9a24e" stroke-width="1.05" />
<line x1="630.95" y1="771.30" x2="638.20" y2="779.60" stroke="#e9a24e" stroke-width="1.05" />
<line x1="650.55" y1="771.30" x2="641.60" y2="779.60" stroke="#e9a24e" stroke-width="1.05" />
</g>
<line x1="618.20" y1="747.30" x2="624.10" y2="748.80" stroke="#e0282c" stroke-width="1.0" stroke-linecap="round"/>
<circle cx="595.60" cy="729.80" r="2.05" fill="url(#gO)" stroke="#b05a00" stroke-width="0.35" />
<circle cx="599.00" cy="729.80" r="2.05" fill="url(#gO)" stroke="#b05a00" stroke-width="0.35" />
<circle cx="616.90" cy="729.80" r="2.05" fill="url(#gO)" stroke="#b05a00" stroke-width="0.35" />
<circle cx="620.30" cy="729.80" r="2.05" fill="url(#gO)" stroke="#b05a00" stroke-width="0.35" />
<circle cx="638.20" cy="729.80" r="2.05" fill="url(#gO)" stroke="#b05a00" stroke-width="0.35" />
<circle cx="641.60" cy="729.80" r="2.05" fill="url(#gO)" stroke="#b05a00" stroke-width="0.35" />
<circle cx="606.25" cy="738.10" r="2.05" fill="url(#gO)" stroke="#b05a00" stroke-width="0.35" />
<circle cx="609.65" cy="738.10" r="2.05" fill="url(#gO)" stroke="#b05a00" stroke-width="0.35" />
<circle cx="627.55" cy="738.10" r="2.05" fill="url(#gO)" stroke="#b05a00" stroke-width="0.35" />
<circle cx="630.95" cy="738.10" r="2.05" fill="url(#gO)" stroke="#b05a00" stroke-width="0.35" />
<circle cx="595.60" cy="746.40" r="2.05" fill="url(#gO)" stroke="#b05a00" stroke-width="0.35" />
<circle cx="599.00" cy="746.40" r="2.05" fill="url(#gO)" stroke="#b05a00" stroke-width="0.35" />
<circle cx="616.90" cy="746.40" r="2.05" fill="url(#gO)" stroke="#b05a00" stroke-width="0.35" />
<circle cx="620.30" cy="746.40" r="2.05" fill="url(#gO)" stroke="#b05a00" stroke-width="0.35" />
<circle cx="638.20" cy="746.40" r="2.05" fill="url(#gO)" stroke="#b05a00" stroke-width="0.35" />
<circle cx="641.60" cy="746.40" r="2.05" fill="url(#gO)" stroke="#b05a00" stroke-width="0.35" />
<circle cx="627.55" cy="754.70" r="2.05" fill="url(#gO)" stroke="#b05a00" stroke-width="0.35" />
<circle cx="630.95" cy="754.70" r="2.05" fill="url(#gO)" stroke="#b05a00" stroke-width="0.35" />
<circle cx="595.60" cy="763.00" r="2.05" fill="url(#gO)" stroke="#b05a00" stroke-width="0.35" />
<circle cx="599.00" cy="763.00" r="2.05" fill="url(#gO)" stroke="#b05a00" stroke-width="0.35" />
<circle cx="616.90" cy="763.00" r="2.05" fill="url(#gO)" stroke="#b05a00" stroke-width="0.35" />
<circle cx="620.30" cy="763.00" r="2.05" fill="url(#gO)" stroke="#b05a00" stroke-width="0.35" />
<circle cx="638.20" cy="763.00" r="2.05" fill="url(#gO)" stroke="#b05a00" stroke-width="0.35" />
<circle cx="641.60" cy="763.00" r="2.05" fill="url(#gO)" stroke="#b05a00" stroke-width="0.35" />
<circle cx="606.25" cy="771.30" r="2.05" fill="url(#gO)" stroke="#b05a00" stroke-width="0.35" />
<circle cx="609.65" cy="771.30" r="2.05" fill="url(#gO)" stroke="#b05a00" stroke-width="0.35" />
<circle cx="627.55" cy="771.30" r="2.05" fill="url(#gO)" stroke="#b05a00" stroke-width="0.35" />
<circle cx="630.95" cy="771.30" r="2.05" fill="url(#gO)" stroke="#b05a00" stroke-width="0.35" />
<circle cx="595.60" cy="779.60" r="2.05" fill="url(#gO)" stroke="#b05a00" stroke-width="0.35" />
<circle cx="599.00" cy="779.60" r="2.05" fill="url(#gO)" stroke="#b05a00" stroke-width="0.35" />
<circle cx="616.90" cy="779.60" r="2.05" fill="url(#gO)" stroke="#b05a00" stroke-width="0.35" />
<circle cx="620.30" cy="779.60" r="2.05" fill="url(#gO)" stroke="#b05a00" stroke-width="0.35" />
<circle cx="638.20" cy="779.60" r="2.05" fill="url(#gO)" stroke="#b05a00" stroke-width="0.35" />
<circle cx="641.60" cy="779.60" r="2.05" fill="url(#gO)" stroke="#b05a00" stroke-width="0.35" />
<circle cx="601.80" cy="754.80" r="1.60" fill="url(#gR)" stroke="#b01010" stroke-width="0.35" />
<circle cx="611.60" cy="754.80" r="1.60" fill="url(#gR)" stroke="#b01010" stroke-width="0.35" />
<circle cx="618.20" cy="747.30" r="1.60" fill="url(#gR)" stroke="#b01010" stroke-width="0.35" />
<circle cx="624.10" cy="748.80" r="1.60" fill="url(#gR)" stroke="#b01010" stroke-width="0.35" />
<circle cx="630.70" cy="755.10" r="1.55" fill="url(#gG)" stroke="#20a028" stroke-width="0.35" />
<line x1="589.05" y1="808.50" x2="594.05" y2="808.50" stroke="#e8891f" stroke-width="1.5" stroke-linecap="round"/>
<line x1="594.05" y1="808.50" x2="597.30" y2="799.20" stroke="#e8891f" stroke-width="1.5" stroke-linecap="round"/>
<line x1="597.30" y1="799.20" x2="604.30" y2="799.20" stroke="#e8891f" stroke-width="1.5" stroke-linecap="round"/>
<line x1="604.30" y1="799.20" x2="607.55" y2="808.50" stroke="#e8891f" stroke-width="1.5" stroke-linecap="round"/>
<line x1="607.55" y1="808.50" x2="614.55" y2="808.50" stroke="#e8891f" stroke-width="1.5" stroke-linecap="round"/>
<line x1="614.55" y1="808.50" x2="617.80" y2="799.20" stroke="#e8891f" stroke-width="1.5" stroke-linecap="round"/>
<line x1="617.80" y1="799.20" x2="624.80" y2="799.20" stroke="#e8891f" stroke-width="1.5" stroke-linecap="round"/>
<line x1="624.80" y1="799.20" x2="628.05" y2="808.50" stroke="#e8891f" stroke-width="1.5" stroke-linecap="round"/>
<line x1="628.05" y1="808.50" x2="635.05" y2="808.50" stroke="#e8891f" stroke-width="1.5" stroke-linecap="round"/>
<line x1="635.05" y1="808.50" x2="638.30" y2="799.20" stroke="#e8891f" stroke-width="1.5" stroke-linecap="round"/>
<line x1="638.30" y1="799.20" x2="645.30" y2="799.20" stroke="#e8891f" stroke-width="1.5" stroke-linecap="round"/>
<line x1="618.80" y1="791.50" x2="623.50" y2="790.60" stroke="#e0282c" stroke-width="1.1" stroke-linecap="round"/>
<line x1="618.80" y1="791.50" x2="618.30" y2="795.35" stroke="#e0282c" stroke-width="1.1" stroke-linecap="butt"/>
<line x1="618.30" y1="795.35" x2="617.80" y2="799.20" stroke="#e08a2a" stroke-width="1.1" stroke-linecap="butt"/>
<circle cx="601.00" cy="799.60" r="1.45" fill="url(#gR)" stroke="#b01010" stroke-width="0.35" />
<circle cx="611.50" cy="808.50" r="1.45" fill="url(#gR)" stroke="#b01010" stroke-width="0.35" />
<circle cx="594.05" cy="808.50" r="1.95" fill="url(#gO)" stroke="#b05a00" stroke-width="0.35" />
<circle cx="597.30" cy="799.20" r="1.95" fill="url(#gO)" stroke="#b05a00" stroke-width="0.35" />
<circle cx="604.30" cy="799.20" r="1.95" fill="url(#gO)" stroke="#b05a00" stroke-width="0.35" />
<circle cx="617.80" cy="799.20" r="1.95" fill="url(#gO)" stroke="#b05a00" stroke-width="0.35" />
<circle cx="624.80" cy="799.20" r="1.95" fill="url(#gO)" stroke="#b05a00" stroke-width="0.35" />
<circle cx="638.30" cy="799.20" r="1.95" fill="url(#gO)" stroke="#b05a00" stroke-width="0.35" />
<circle cx="645.30" cy="799.20" r="1.95" fill="url(#gO)" stroke="#b05a00" stroke-width="0.35" />
<circle cx="607.55" cy="808.50" r="1.95" fill="url(#gO)" stroke="#b05a00" stroke-width="0.35" />
<circle cx="614.55" cy="808.50" r="1.95" fill="url(#gO)" stroke="#b05a00" stroke-width="0.35" />
<circle cx="628.05" cy="808.50" r="1.95" fill="url(#gO)" stroke="#b05a00" stroke-width="0.35" />
<circle cx="635.05" cy="808.50" r="1.95" fill="url(#gO)" stroke="#b05a00" stroke-width="0.35" />
<circle cx="618.80" cy="791.50" r="1.60" fill="url(#gR)" stroke="#b01010" stroke-width="0.35" />
<circle cx="623.50" cy="790.60" r="1.60" fill="url(#gR)" stroke="#b01010" stroke-width="0.35" />
<circle cx="629.20" cy="798.00" r="1.55" fill="url(#gG)" stroke="#20a028" stroke-width="0.35" />
<line x1="617.50" y1="719.90" x2="617.50" y2="693.60" stroke="#111" stroke-width="1.0" />
<path d="M617.50,691.60 L615.10,695.80 L617.50,694.50 L619.90,695.80 Z" fill="#111"/>
<clipPath id="c16"><rect x="703.40" y="632.10" width="56.40" height="60.48"/></clipPath>
<g clip-path="url(#c16)">
<line x1="708.70" y1="636.60" x2="699.80" y2="645.18" stroke="#e9a24e" stroke-width="1.05" />
<line x1="712.10" y1="636.60" x2="719.30" y2="645.18" stroke="#e9a24e" stroke-width="1.05" />
<line x1="729.90" y1="636.60" x2="722.70" y2="645.18" stroke="#e9a24e" stroke-width="1.05" />
<line x1="733.30" y1="636.60" x2="740.50" y2="645.18" stroke="#e9a24e" stroke-width="1.05" />
<line x1="751.10" y1="636.60" x2="743.90" y2="645.18" stroke="#e9a24e" stroke-width="1.05" />
<line x1="754.50" y1="636.60" x2="763.40" y2="645.18" stroke="#e9a24e" stroke-width="1.05" />
<line x1="699.80" y1="645.18" x2="708.70" y2="653.76" stroke="#e9a24e" stroke-width="1.05" />
<line x1="719.30" y1="645.18" x2="712.10" y2="653.76" stroke="#e9a24e" stroke-width="1.05" />
<line x1="722.70" y1="645.18" x2="729.90" y2="653.76" stroke="#e9a24e" stroke-width="1.05" />
<line x1="740.50" y1="645.18" x2="733.30" y2="653.76" stroke="#e9a24e" stroke-width="1.05" />
<line x1="743.90" y1="645.18" x2="751.10" y2="653.76" stroke="#e9a24e" stroke-width="1.05" />
<line x1="763.40" y1="645.18" x2="754.50" y2="653.76" stroke="#e9a24e" stroke-width="1.05" />
<line x1="708.70" y1="653.76" x2="699.80" y2="662.34" stroke="#e9a24e" stroke-width="1.05" />
<line x1="712.10" y1="653.76" x2="713.75" y2="658.05" stroke="#e9a24e" stroke-width="1.05" />
<line x1="713.75" y1="658.05" x2="715.40" y2="662.34" stroke="#e0403a" stroke-width="1.05" />
<line x1="729.90" y1="653.76" x2="727.95" y2="658.05" stroke="#e9a24e" stroke-width="1.05" />
<line x1="727.95" y1="658.05" x2="726.00" y2="662.34" stroke="#e0403a" stroke-width="1.05" />
<line x1="733.30" y1="653.76" x2="740.50" y2="662.34" stroke="#e9a24e" stroke-width="1.05" />
<line x1="751.10" y1="653.76" x2="743.90" y2="662.34" stroke="#e9a24e" stroke-width="1.05" />
<line x1="754.50" y1="653.76" x2="763.40" y2="662.34" stroke="#e9a24e" stroke-width="1.05" />
<line x1="699.80" y1="662.34" x2="708.70" y2="670.92" stroke="#e9a24e" stroke-width="1.05" />
<line x1="715.40" y1="662.34" x2="713.75" y2="666.63" stroke="#e0403a" stroke-width="1.05" />
<line x1="713.75" y1="666.63" x2="712.10" y2="670.92" stroke="#e9a24e" stroke-width="1.05" />
<line x1="726.00" y1="662.34" x2="727.95" y2="666.63" stroke="#e0403a" stroke-width="1.05" />
<line x1="727.95" y1="666.63" x2="729.90" y2="670.92" stroke="#e9a24e" stroke-width="1.05" />
<line x1="740.50" y1="662.34" x2="733.30" y2="670.92" stroke="#e9a24e" stroke-width="1.05" />
<line x1="743.90" y1="662.34" x2="751.10" y2="670.92" stroke="#e9a24e" stroke-width="1.05" />
<line x1="763.40" y1="662.34" x2="754.50" y2="670.92" stroke="#e9a24e" stroke-width="1.05" />
<line x1="708.70" y1="670.92" x2="699.80" y2="679.50" stroke="#e9a24e" stroke-width="1.05" />
<line x1="712.10" y1="670.92" x2="719.30" y2="679.50" stroke="#e9a24e" stroke-width="1.05" />
<line x1="729.90" y1="670.92" x2="722.70" y2="679.50" stroke="#e9a24e" stroke-width="1.05" />
<line x1="733.30" y1="670.92" x2="740.50" y2="679.50" stroke="#e9a24e" stroke-width="1.05" />
<line x1="751.10" y1="670.92" x2="743.90" y2="679.50" stroke="#e9a24e" stroke-width="1.05" />
<line x1="754.50" y1="670.92" x2="763.40" y2="679.50" stroke="#e9a24e" stroke-width="1.05" />
<line x1="699.80" y1="679.50" x2="708.70" y2="688.08" stroke="#e9a24e" stroke-width="1.05" />
<line x1="719.30" y1="679.50" x2="712.10" y2="688.08" stroke="#e9a24e" stroke-width="1.05" />
<line x1="722.70" y1="679.50" x2="729.90" y2="688.08" stroke="#e9a24e" stroke-width="1.05" />
<line x1="740.50" y1="679.50" x2="733.30" y2="688.08" stroke="#e9a24e" stroke-width="1.05" />
<line x1="743.90" y1="679.50" x2="751.10" y2="688.08" stroke="#e9a24e" stroke-width="1.05" />
<line x1="763.40" y1="679.50" x2="754.50" y2="688.08" stroke="#e9a24e" stroke-width="1.05" />
</g>
<line x1="731.60" y1="652.90" x2="737.10" y2="651.80" stroke="#e0282c" stroke-width="1.0" stroke-linecap="round"/>
<circle cx="708.70" cy="636.60" r="2.05" fill="url(#gO)" stroke="#b05a00" stroke-width="0.35" />
<circle cx="712.10" cy="636.60" r="2.05" fill="url(#gO)" stroke="#b05a00" stroke-width="0.35" />
<circle cx="729.90" cy="636.60" r="2.05" fill="url(#gO)" stroke="#b05a00" stroke-width="0.35" />
<circle cx="733.30" cy="636.60" r="2.05" fill="url(#gO)" stroke="#b05a00" stroke-width="0.35" />
<circle cx="751.10" cy="636.60" r="2.05" fill="url(#gO)" stroke="#b05a00" stroke-width="0.35" />
<circle cx="754.50" cy="636.60" r="2.05" fill="url(#gO)" stroke="#b05a00" stroke-width="0.35" />
<circle cx="719.30" cy="645.18" r="2.05" fill="url(#gO)" stroke="#b05a00" stroke-width="0.35" />
<circle cx="722.70" cy="645.18" r="2.05" fill="url(#gO)" stroke="#b05a00" stroke-width="0.35" />
<circle cx="740.50" cy="645.18" r="2.05" fill="url(#gO)" stroke="#b05a00" stroke-width="0.35" />
<circle cx="743.90" cy="645.18" r="2.05" fill="url(#gO)" stroke="#b05a00" stroke-width="0.35" />
<circle cx="708.70" cy="653.76" r="2.05" fill="url(#gO)" stroke="#b05a00" stroke-width="0.35" />
<circle cx="712.10" cy="653.76" r="2.05" fill="url(#gO)" stroke="#b05a00" stroke-width="0.35" />
<circle cx="729.90" cy="653.76" r="2.05" fill="url(#gO)" stroke="#b05a00" stroke-width="0.35" />
<circle cx="733.30" cy="653.76" r="2.05" fill="url(#gO)" stroke="#b05a00" stroke-width="0.35" />
<circle cx="751.10" cy="653.76" r="2.05" fill="url(#gO)" stroke="#b05a00" stroke-width="0.35" />
<circle cx="754.50" cy="653.76" r="2.05" fill="url(#gO)" stroke="#b05a00" stroke-width="0.35" />
<circle cx="740.50" cy="662.34" r="2.05" fill="url(#gO)" stroke="#b05a00" stroke-width="0.35" />
<circle cx="743.90" cy="662.34" r="2.05" fill="url(#gO)" stroke="#b05a00" stroke-width="0.35" />
<circle cx="708.70" cy="670.92" r="2.05" fill="url(#gO)" stroke="#b05a00" stroke-width="0.35" />
<circle cx="712.10" cy="670.92" r="2.05" fill="url(#gO)" stroke="#b05a00" stroke-width="0.35" />
<circle cx="729.90" cy="670.92" r="2.05" fill="url(#gO)" stroke="#b05a00" stroke-width="0.35" />
<circle cx="733.30" cy="670.92" r="2.05" fill="url(#gO)" stroke="#b05a00" stroke-width="0.35" />
<circle cx="751.10" cy="670.92" r="2.05" fill="url(#gO)" stroke="#b05a00" stroke-width="0.35" />
<circle cx="754.50" cy="670.92" r="2.05" fill="url(#gO)" stroke="#b05a00" stroke-width="0.35" />
<circle cx="719.30" cy="679.50" r="2.05" fill="url(#gO)" stroke="#b05a00" stroke-width="0.35" />
<circle cx="722.70" cy="679.50" r="2.05" fill="url(#gO)" stroke="#b05a00" stroke-width="0.35" />
<circle cx="740.50" cy="679.50" r="2.05" fill="url(#gO)" stroke="#b05a00" stroke-width="0.35" />
<circle cx="743.90" cy="679.50" r="2.05" fill="url(#gO)" stroke="#b05a00" stroke-width="0.35" />
<circle cx="708.70" cy="688.08" r="2.05" fill="url(#gO)" stroke="#b05a00" stroke-width="0.35" />
<circle cx="712.10" cy="688.08" r="2.05" fill="url(#gO)" stroke="#b05a00" stroke-width="0.35" />
<circle cx="729.90" cy="688.08" r="2.05" fill="url(#gO)" stroke="#b05a00" stroke-width="0.35" />
<circle cx="733.30" cy="688.08" r="2.05" fill="url(#gO)" stroke="#b05a00" stroke-width="0.35" />
<circle cx="751.10" cy="688.08" r="2.05" fill="url(#gO)" stroke="#b05a00" stroke-width="0.35" />
<circle cx="754.50" cy="688.08" r="2.05" fill="url(#gO)" stroke="#b05a00" stroke-width="0.35" />
<circle cx="715.40" cy="662.30" r="1.60" fill="url(#gR)" stroke="#b01010" stroke-width="0.35" />
<circle cx="726.50" cy="662.30" r="1.60" fill="url(#gR)" stroke="#b01010" stroke-width="0.35" />
<circle cx="731.60" cy="652.90" r="1.60" fill="url(#gR)" stroke="#b01010" stroke-width="0.35" />
<circle cx="737.10" cy="651.80" r="1.60" fill="url(#gR)" stroke="#b01010" stroke-width="0.35" />
<circle cx="738.50" cy="655.70" r="1.55" fill="url(#gG)" stroke="#20a028" stroke-width="0.35" />
<line x1="705.35" y1="715.90" x2="712.35" y2="715.90" stroke="#e8891f" stroke-width="1.5" stroke-linecap="round"/>
<line x1="712.35" y1="715.90" x2="714.50" y2="706.40" stroke="#e8891f" stroke-width="1.5" stroke-linecap="round"/>
<line x1="714.50" y1="706.40" x2="721.50" y2="706.40" stroke="#e8891f" stroke-width="1.5" stroke-linecap="round"/>
<line x1="721.50" y1="706.40" x2="723.65" y2="715.90" stroke="#e8891f" stroke-width="1.5" stroke-linecap="round"/>
<line x1="723.65" y1="715.90" x2="730.65" y2="715.90" stroke="#e8891f" stroke-width="1.5" stroke-linecap="round"/>
<line x1="730.65" y1="715.90" x2="732.80" y2="706.40" stroke="#e8891f" stroke-width="1.5" stroke-linecap="round"/>
<line x1="732.80" y1="706.40" x2="739.80" y2="706.40" stroke="#e8891f" stroke-width="1.5" stroke-linecap="round"/>
<line x1="739.80" y1="706.40" x2="741.95" y2="715.90" stroke="#e8891f" stroke-width="1.5" stroke-linecap="round"/>
<line x1="741.95" y1="715.90" x2="748.95" y2="715.90" stroke="#e8891f" stroke-width="1.5" stroke-linecap="round"/>
<line x1="748.95" y1="715.90" x2="751.10" y2="706.40" stroke="#e8891f" stroke-width="1.5" stroke-linecap="round"/>
<line x1="751.10" y1="706.40" x2="758.10" y2="706.40" stroke="#e8891f" stroke-width="1.5" stroke-linecap="round"/>
<line x1="731.60" y1="698.40" x2="736.20" y2="695.50" stroke="#e0282c" stroke-width="1.1" stroke-linecap="round"/>
<line x1="731.60" y1="698.40" x2="731.90" y2="702.40" stroke="#e0282c" stroke-width="1.1" stroke-linecap="butt"/>
<line x1="731.90" y1="702.40" x2="732.20" y2="706.40" stroke="#e08a2a" stroke-width="1.1" stroke-linecap="butt"/>
<circle cx="717.90" cy="707.00" r="1.45" fill="url(#gR)" stroke="#b01010" stroke-width="0.35" />
<circle cx="727.30" cy="715.50" r="1.45" fill="url(#gR)" stroke="#b01010" stroke-width="0.35" />
<circle cx="712.35" cy="715.90" r="1.95" fill="url(#gO)" stroke="#b05a00" stroke-width="0.35" />
<circle cx="705.35" cy="715.90" r="1.95" fill="url(#gO)" stroke="#b05a00" stroke-width="0.35" />
<circle cx="714.50" cy="706.40" r="1.95" fill="url(#gO)" stroke="#b05a00" stroke-width="0.35" />
<circle cx="721.50" cy="706.40" r="1.95" fill="url(#gO)" stroke="#b05a00" stroke-width="0.35" />
<circle cx="732.80" cy="706.40" r="1.95" fill="url(#gO)" stroke="#b05a00" stroke-width="0.35" />
<circle cx="739.80" cy="706.40" r="1.95" fill="url(#gO)" stroke="#b05a00" stroke-width="0.35" />
<circle cx="751.10" cy="706.40" r="1.95" fill="url(#gO)" stroke="#b05a00" stroke-width="0.35" />
<circle cx="758.10" cy="706.40" r="1.95" fill="url(#gO)" stroke="#b05a00" stroke-width="0.35" />
<circle cx="723.65" cy="715.90" r="1.95" fill="url(#gO)" stroke="#b05a00" stroke-width="0.35" />
<circle cx="730.65" cy="715.90" r="1.95" fill="url(#gO)" stroke="#b05a00" stroke-width="0.35" />
<circle cx="741.95" cy="715.90" r="1.95" fill="url(#gO)" stroke="#b05a00" stroke-width="0.35" />
<circle cx="748.95" cy="715.90" r="1.95" fill="url(#gO)" stroke="#b05a00" stroke-width="0.35" />
<circle cx="731.60" cy="698.40" r="1.60" fill="url(#gR)" stroke="#b01010" stroke-width="0.35" />
<circle cx="736.20" cy="695.50" r="1.60" fill="url(#gR)" stroke="#b01010" stroke-width="0.35" />
<circle cx="737.90" cy="694.10" r="1.55" fill="url(#gG)" stroke="#20a028" stroke-width="0.35" />
<line x1="730.50" y1="719.90" x2="730.50" y2="739.00" stroke="#111" stroke-width="1.0" />
<path d="M730.50,741.00 L728.10,736.80 L730.50,738.10 L732.90,736.80 Z" fill="#111"/>
<path d="M505.80,703.40 L507.20,703.30 L508.61,703.19 L510.01,703.09 L511.42,702.98 L512.83,702.87 L514.23,702.76 L515.63,702.65 L517.04,702.54 L518.45,702.42 L519.85,702.29 L521.25,702.17 L522.66,702.03 L524.07,701.89 L525.47,701.75 L526.88,701.60 L528.28,701.44 L529.69,701.28 L531.09,701.11 L532.50,700.93 L533.90,700.74 L535.31,700.55 L536.71,700.34 L538.12,700.12 L539.52,699.90 L540.92,699.66 L542.33,699.41 L543.74,699.16 L545.14,698.88 L546.54,698.60 L547.95,698.30 L549.36,697.99 L550.76,697.67 L552.16,697.33 L553.57,696.98 L554.98,696.61 L556.38,696.23 L557.78,695.83 L559.19,695.42 L560.60,694.98 L562.00,694.53 L563.40,694.07 L564.81,693.59 L566.22,693.09 L567.62,692.58 L569.02,692.06 L570.43,691.54 L571.84,691.01 L573.24,690.48 L574.64,689.94 L576.05,689.41 L577.46,688.88 L578.86,688.36 L580.26,687.84 L581.67,687.33 L583.08,686.83 L584.48,686.35 L585.88,685.88 L587.29,685.43 L588.70,685.00 L590.10,684.59 L591.50,684.20 L592.91,683.84 L594.32,683.51 L595.72,683.21 L597.12,682.94 L598.53,682.70 L599.94,682.50 L601.34,682.34 L602.75,682.22 L604.15,682.14 L605.56,682.10 L606.96,682.12 L608.37,682.18 L609.77,682.29 L611.17,682.45 L612.58,682.67 L613.99,682.95 L615.39,683.28 L616.80,683.68 L618.20,684.14 L619.61,684.67 L621.01,685.25 L622.41,685.90 L623.82,686.60 L625.23,687.36 L626.63,688.17 L628.03,689.03 L629.44,689.94 L630.85,690.89 L632.25,691.89 L633.65,692.92 L635.06,693.99 L636.47,695.09 L637.87,696.23 L639.27,697.39 L640.68,698.58 L642.09,699.80 L643.49,701.03 L644.89,702.28 L646.30,703.55 L647.71,704.83 L649.11,706.12 L650.51,707.42 L651.92,708.72 L653.33,710.03 L654.73,711.34 L656.13,712.64 L657.54,713.94 L658.95,715.23 L660.35,716.51 L661.75,717.78 L663.16,719.03 L664.57,720.26 L665.97,721.48 L667.38,722.66 L668.78,723.83 L670.18,724.96 L671.59,726.06 L673.00,727.13 L674.40,728.16 L675.81,729.15 L677.21,730.11 L678.62,731.03 L680.02,731.91 L681.42,732.75 L682.83,733.56 L684.24,734.34 L685.64,735.09 L687.05,735.80 L688.45,736.49 L689.86,737.14 L691.26,737.77 L692.66,738.37 L694.07,738.94 L695.48,739.48 L696.88,740.01 L698.29,740.50 L699.69,740.98 L701.10,741.43 L702.50,741.87 L703.90,742.28 L705.31,742.68 L706.72,743.06 L708.12,743.42 L709.53,743.76 L710.93,744.09 L712.34,744.41 L713.74,744.71 L715.14,745.01 L716.55,745.29 L717.96,745.56 L719.36,745.82 L720.77,746.08 L722.17,746.33 L723.58,746.57 L724.98,746.81 L726.38,747.04 L727.79,747.27 L729.20,747.50 L730.60,747.73" stroke="#111" stroke-width="1.3" fill="none" />
<circle cx="505.80" cy="703.40" r="5.45" fill="#ff8a00" stroke="none" stroke-width="0" />
<circle cx="562.00" cy="694.53" r="5.45" fill="#ff8a00" stroke="none" stroke-width="0" />
<circle cx="618.20" cy="684.14" r="5.45" fill="#ff8a00" stroke="none" stroke-width="0" />
<circle cx="674.40" cy="728.16" r="5.45" fill="#ff8a00" stroke="none" stroke-width="0" />
<circle cx="730.60" cy="747.73" r="5.45" fill="#ff8a00" stroke="none" stroke-width="0" />
</svg></body></html>
